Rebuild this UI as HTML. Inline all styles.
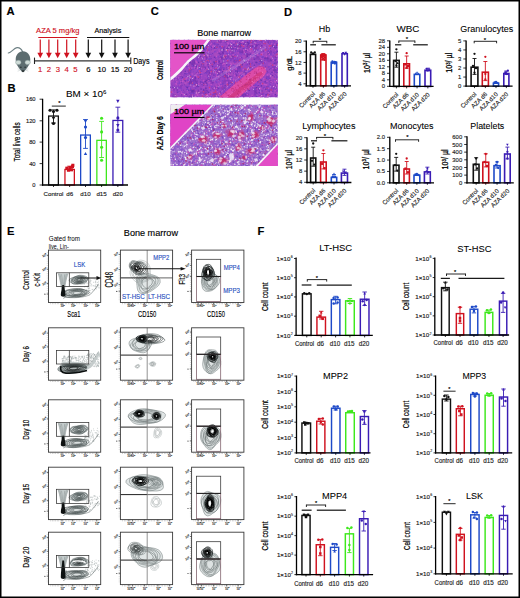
<!DOCTYPE html>
<html><head><meta charset="utf-8"><style>
html,body{margin:0;padding:0;background:#fff;}
svg{display:block;font-family:"Liberation Sans", sans-serif;}
</style></head><body>
<svg width="520" height="598" viewBox="0 0 520 598">
<rect width="520" height="598" fill="#fff"/>
<text x="6.5" y="15.2" font-size="11.2" stroke="#000" stroke-width="0.14" font-weight="bold" >A</text>
<text x="7.6" y="92" font-size="11.2" stroke="#000" stroke-width="0.14" font-weight="bold" >B</text>
<text x="150.8" y="15.2" font-size="11.2" stroke="#000" stroke-width="0.14" font-weight="bold" >C</text>
<text x="284" y="15.8" font-size="11.2" stroke="#000" stroke-width="0.14" font-weight="bold" >D</text>
<text x="6.9" y="235" font-size="11.2" stroke="#000" stroke-width="0.14" font-weight="bold" >E</text>
<text x="257.5" y="235.2" font-size="11.2" stroke="#000" stroke-width="0.14" font-weight="bold" >F</text>
<g>
<path d="M22.6,51.8 C21.5,49 19.5,47.4 17,47.6 C13.8,47.9 11.5,52.6 8.3,53" fill="none" stroke="#6e8084" stroke-width="1.15" stroke-linecap="round"/>
<path d="M23,51.3 C27.5,51.3 30.3,55 30.3,59.5 C30.3,64 27.5,67.5 25.5,70 C24.5,71.5 23.7,72.2 23,72.2 C22.3,72.2 21.5,71.5 20.5,70 C18.5,67.5 15.7,64 15.7,59.5 C15.7,55 18.5,51.3 23,51.3 Z" fill="#5d6d70"/>
<ellipse cx="18.3" cy="62.4" rx="2.7" ry="2.1" fill="#cfdcd8" stroke="#8fa09e" stroke-width="0.5"/>
<ellipse cx="27.7" cy="62.4" rx="2.7" ry="2.1" fill="#cfdcd8" stroke="#8fa09e" stroke-width="0.5"/>
<circle cx="20.9" cy="67.2" r="0.7" fill="#1e2628"/><circle cx="25.1" cy="67.2" r="0.7" fill="#1e2628"/>
<path d="M21.8,70.6 L24.2,70.6 L23,72.3 Z" fill="#111"/>
<path d="M20,69.5 L17.5,68.8 M20,70.3 L17.6,71.2 M26,69.5 L28.5,68.8 M26,70.3 L28.4,71.2" stroke="#aab5b5" stroke-width="0.4"/>
</g>
<text x="36.1" y="33.2" font-size="7.12" stroke="#d0121f" stroke-width="0.14" fill="#d0121f" textLength="43.4" lengthAdjust="spacingAndGlyphs" >AZA 5 mg/kg</text>
<line x1="38.3" y1="37.5" x2="77.3" y2="37.5" stroke="#d0121f" stroke-width="1.15" />
<line x1="87" y1="37.5" x2="129.3" y2="37.5" stroke="#111" stroke-width="1.15" />
<line x1="40.25" y1="39.6" x2="40.25" y2="53.7" stroke="#d0121f" stroke-width="1.2" />
<path d="M37.4,52.8 L43.1,52.8 L40.25,58.2 Z" fill="#d0121f"/>
<line x1="48.9" y1="39.6" x2="48.9" y2="53.7" stroke="#d0121f" stroke-width="1.2" />
<path d="M46.05,52.8 L51.75,52.8 L48.9,58.2 Z" fill="#d0121f"/>
<line x1="57.7" y1="39.6" x2="57.7" y2="53.7" stroke="#d0121f" stroke-width="1.2" />
<path d="M54.85,52.8 L60.55,52.8 L57.7,58.2 Z" fill="#d0121f"/>
<line x1="66.7" y1="39.6" x2="66.7" y2="53.7" stroke="#d0121f" stroke-width="1.2" />
<path d="M63.85,52.8 L69.55,52.8 L66.7,58.2 Z" fill="#d0121f"/>
<line x1="75.7" y1="39.6" x2="75.7" y2="53.7" stroke="#d0121f" stroke-width="1.2" />
<path d="M72.85,52.8 L78.55,52.8 L75.7,58.2 Z" fill="#d0121f"/>
<line x1="88.3" y1="39.6" x2="88.3" y2="53.7" stroke="#111" stroke-width="1.2" />
<path d="M85.45,52.8 L91.15,52.8 L88.3,58.2 Z" fill="#111"/>
<line x1="101.7" y1="39.6" x2="101.7" y2="53.7" stroke="#111" stroke-width="1.2" />
<path d="M98.85,52.8 L104.55,52.8 L101.7,58.2 Z" fill="#111"/>
<line x1="115" y1="39.6" x2="115" y2="53.7" stroke="#111" stroke-width="1.2" />
<path d="M112.15,52.8 L117.85,52.8 L115,58.2 Z" fill="#111"/>
<line x1="128.1" y1="39.6" x2="128.1" y2="53.7" stroke="#111" stroke-width="1.2" />
<path d="M125.25,52.8 L130.95,52.8 L128.1,58.2 Z" fill="#111"/>
<line x1="34.5" y1="60.8" x2="130.8" y2="60.8" stroke="#333" stroke-width="1.3" />
<line x1="34.5" y1="57.6" x2="34.5" y2="64" stroke="#222" stroke-width="1.1" />
<line x1="130.8" y1="57.6" x2="130.8" y2="64" stroke="#222" stroke-width="1.1" />
<text x="40.25" y="71.6" font-size="7.7" stroke="#d0121f" stroke-width="0.14" text-anchor="middle" fill="#d0121f" >1</text>
<text x="48.9" y="71.6" font-size="7.7" stroke="#d0121f" stroke-width="0.14" text-anchor="middle" fill="#d0121f" >2</text>
<text x="58" y="71.6" font-size="7.7" stroke="#d0121f" stroke-width="0.14" text-anchor="middle" fill="#d0121f" >3</text>
<text x="66.7" y="71.6" font-size="7.7" stroke="#d0121f" stroke-width="0.14" text-anchor="middle" fill="#d0121f" >4</text>
<text x="75.5" y="71.6" font-size="7.7" stroke="#d0121f" stroke-width="0.14" text-anchor="middle" fill="#d0121f" >5</text>
<text x="88.3" y="71.6" font-size="7.7" stroke="#000" stroke-width="0.14" text-anchor="middle" >6</text>
<text x="101.7" y="71.6" font-size="7.7" stroke="#000" stroke-width="0.14" text-anchor="middle" >10</text>
<text x="115" y="71.6" font-size="7.7" stroke="#000" stroke-width="0.14" text-anchor="middle" >15</text>
<text x="128.1" y="71.6" font-size="7.7" stroke="#000" stroke-width="0.14" text-anchor="middle" >20</text>
<text x="133.2" y="64.3" font-size="8.14" stroke="#000" stroke-width="0.14" textLength="16.3" lengthAdjust="spacingAndGlyphs" >Days</text>
<text x="94.5" y="33.2" font-size="7.12" stroke="#000" stroke-width="0.14" textLength="26.8" lengthAdjust="spacingAndGlyphs" >Analysis</text>
<rect x="48.65" y="116.05" width="9.7" height="68.95" fill="#fff" stroke="#111" stroke-width="1.3"/>
<line x1="53.5" y1="123" x2="53.5" y2="109.9" stroke="#111" stroke-width="0.9" />
<line x1="51.1" y1="109.9" x2="55.9" y2="109.9" stroke="#111" stroke-width="0.9" />
<line x1="51.1" y1="123" x2="55.9" y2="123" stroke="#111" stroke-width="0.9" />
<circle cx="50" cy="110.2" r="1.55" fill="#111"/>
<circle cx="57" cy="110.2" r="1.55" fill="#111"/>
<circle cx="53.5" cy="111.5" r="1.55" fill="#111"/>
<path d="M51.8,117.11 L55.2,117.11 L53.5,120.2 Z" fill="#111"/>
<circle cx="53.5" cy="123.5" r="1.55" fill="#111"/>
<rect x="64.95" y="169.45" width="9.4" height="15.55" fill="#fff" stroke="#d0121f" stroke-width="1.3"/>
<line x1="69.65" y1="170" x2="69.65" y2="166.2" stroke="#d0121f" stroke-width="0.9" />
<line x1="67.25" y1="166.2" x2="72.05" y2="166.2" stroke="#d0121f" stroke-width="0.9" />
<line x1="67.25" y1="170" x2="72.05" y2="170" stroke="#d0121f" stroke-width="0.9" />
<rect x="65.3" y="166.65" width="3.1" height="3.1" fill="#d0121f"/>
<rect x="68.3" y="166.05" width="3.1" height="3.1" fill="#d0121f"/>
<rect x="70.9" y="165.05" width="3.1" height="3.1" fill="#d0121f"/>
<rect x="71.3" y="163.75" width="3.1" height="3.1" fill="#d0121f"/>
<rect x="66.9" y="168.65" width="3.1" height="3.1" fill="#d0121f"/>
<rect x="69.9" y="168.25" width="3.1" height="3.1" fill="#d0121f"/>
<rect x="80.65" y="135.05" width="9.7" height="49.95" fill="#fff" stroke="#1e4ac8" stroke-width="1.3"/>
<line x1="85.5" y1="148.4" x2="85.5" y2="119.5" stroke="#1e4ac8" stroke-width="0.9" />
<line x1="83.1" y1="119.5" x2="87.9" y2="119.5" stroke="#1e4ac8" stroke-width="0.9" />
<line x1="83.1" y1="148.4" x2="87.9" y2="148.4" stroke="#1e4ac8" stroke-width="0.9" />
<path d="M83.8,120.01 L87.2,120.01 L85.5,123.11 Z" fill="#1e4ac8"/>
<circle cx="85.5" cy="127" r="1.55" fill="#1e4ac8"/>
<circle cx="85.5" cy="137.6" r="1.55" fill="#1e4ac8"/>
<path d="M83.8,155.09 L87.2,155.09 L85.5,151.99 Z" fill="#1e4ac8"/>
<rect x="96.85" y="140.35" width="9.5" height="44.65" fill="#fff" stroke="#3ee81c" stroke-width="1.3"/>
<line x1="101.6" y1="157.5" x2="101.6" y2="121.4" stroke="#3ee81c" stroke-width="0.9" />
<line x1="99.2" y1="121.4" x2="104" y2="121.4" stroke="#3ee81c" stroke-width="0.9" />
<line x1="99.2" y1="157.5" x2="104" y2="157.5" stroke="#3ee81c" stroke-width="0.9" />
<circle cx="101.6" cy="118.2" r="1.55" fill="#3ee81c"/>
<circle cx="101.6" cy="131.9" r="1.55" fill="#3ee81c"/>
<circle cx="101.6" cy="147.3" r="1.55" fill="#3ee81c"/>
<circle cx="101.6" cy="160.2" r="1.55" fill="#3ee81c"/>
<rect x="112.95" y="120.45" width="9.8" height="64.55" fill="#fff" stroke="#3a1cb4" stroke-width="1.3"/>
<line x1="117.85" y1="132.2" x2="117.85" y2="107.2" stroke="#3a1cb4" stroke-width="0.9" />
<line x1="115.45" y1="107.2" x2="120.25" y2="107.2" stroke="#3a1cb4" stroke-width="0.9" />
<line x1="115.45" y1="132.2" x2="120.25" y2="132.2" stroke="#3a1cb4" stroke-width="0.9" />
<path d="M116.14,99.81 L119.55,99.81 L117.85,102.91 Z" fill="#3a1cb4"/>
<circle cx="117.85" cy="117.9" r="1.55" fill="#3a1cb4"/>
<path d="M116.14,124.11 L119.55,124.11 L117.85,127.2 Z" fill="#3a1cb4"/>
<circle cx="117.85" cy="130" r="1.55" fill="#3a1cb4"/>
<line x1="42.6" y1="98.8" x2="42.6" y2="185.65" stroke="#000" stroke-width="1.3" />
<line x1="41.95" y1="185" x2="128" y2="185" stroke="#000" stroke-width="1.3" />
<line x1="39.6" y1="99.2" x2="42.6" y2="99.2" stroke="#000" stroke-width="0.8" />
<text x="35.6" y="101.23" font-size="5.8" stroke="#222" stroke-width="0.14" text-anchor="end" fill="#222" >160</text>
<line x1="39.6" y1="120.8" x2="42.6" y2="120.8" stroke="#000" stroke-width="0.8" />
<text x="35.6" y="122.83" font-size="5.8" stroke="#222" stroke-width="0.14" text-anchor="end" fill="#222" >120</text>
<line x1="39.6" y1="142.1" x2="42.6" y2="142.1" stroke="#000" stroke-width="0.8" />
<text x="35.6" y="144.13" font-size="5.8" stroke="#222" stroke-width="0.14" text-anchor="end" fill="#222" >80</text>
<line x1="39.6" y1="163.6" x2="42.6" y2="163.6" stroke="#000" stroke-width="0.8" />
<text x="35.6" y="165.63" font-size="5.8" stroke="#222" stroke-width="0.14" text-anchor="end" fill="#222" >40</text>
<line x1="39.6" y1="185" x2="42.6" y2="185" stroke="#000" stroke-width="0.8" />
<text x="35.6" y="187.03" font-size="5.8" stroke="#222" stroke-width="0.14" text-anchor="end" fill="#222" >0</text>
<line x1="53.5" y1="185" x2="53.5" y2="187" stroke="#000" stroke-width="0.8" />
<line x1="69.65" y1="185" x2="69.65" y2="187" stroke="#000" stroke-width="0.8" />
<line x1="85.5" y1="185" x2="85.5" y2="187" stroke="#000" stroke-width="0.8" />
<line x1="101.6" y1="185" x2="101.6" y2="187" stroke="#000" stroke-width="0.8" />
<line x1="117.85" y1="185" x2="117.85" y2="187" stroke="#000" stroke-width="0.8" />
<text x="66" y="97.3" font-size="9" stroke="#000" stroke-width="0.07" textLength="40.3" lengthAdjust="spacingAndGlyphs" >BM × 10<tspan dy="-3.2" font-size="5.5">6</tspan></text>
<text transform="translate(19.9,141.9) rotate(-90)" font-size="9.3" stroke="#000" stroke-width="0.2" text-anchor="middle" textLength="39" lengthAdjust="spacingAndGlyphs" >Total live cells</text>
<text x="53.5" y="195.6" font-size="6.2" stroke="#222" stroke-width="0.14" text-anchor="middle" fill="#222" >Control</text>
<text x="69.65" y="195.6" font-size="6.2" stroke="#222" stroke-width="0.14" text-anchor="middle" fill="#222" >d6</text>
<text x="85.5" y="195.6" font-size="6.2" stroke="#222" stroke-width="0.14" text-anchor="middle" fill="#222" >d10</text>
<text x="101.6" y="195.6" font-size="6.2" stroke="#222" stroke-width="0.14" text-anchor="middle" fill="#222" >d15</text>
<text x="117.85" y="195.6" font-size="6.2" stroke="#222" stroke-width="0.14" text-anchor="middle" fill="#222" >d20</text>
<line x1="51.8" y1="106.1" x2="65.8" y2="106.1" stroke="#111" stroke-width="0.9" />
<text x="59.3" y="105.42" font-size="6" text-anchor="middle" fill="#111" stroke="#111" stroke-width="0.2">*</text>
<rect x="310.4" y="54.4" width="5.2" height="31.4" fill="#fff" stroke="#111" stroke-width="1.6"/>
<circle cx="311.2" cy="52.5" r="1.15" fill="#111"/>
<circle cx="313" cy="53.4" r="1.15" fill="#111"/>
<circle cx="314.8" cy="52.5" r="1.15" fill="#111"/>
<rect x="320.7" y="55" width="5.3" height="30.8" fill="#fff" stroke="#d0121f" stroke-width="1.6"/>
<line x1="323.35" y1="56" x2="323.35" y2="53.5" stroke="#d0121f" stroke-width="0.9" />
<line x1="321.35" y1="53.5" x2="325.35" y2="53.5" stroke="#d0121f" stroke-width="0.9" />
<line x1="321.35" y1="56" x2="325.35" y2="56" stroke="#d0121f" stroke-width="0.9" />
<rect x="320.7" y="53.65" width="2.3" height="2.3" fill="#d0121f"/>
<rect x="323.7" y="54.05" width="2.3" height="2.3" fill="#d0121f"/>
<rect x="322.2" y="54.85" width="2.3" height="2.3" fill="#d0121f"/>
<rect x="320.7" y="55.65" width="2.3" height="2.3" fill="#d0121f"/>
<rect x="323.7" y="56.35" width="2.3" height="2.3" fill="#d0121f"/>
<rect x="322.2" y="57.35" width="2.3" height="2.3" fill="#d0121f"/>
<rect x="321.2" y="58.35" width="2.3" height="2.3" fill="#d0121f"/>
<rect x="323.4" y="58.65" width="2.3" height="2.3" fill="#d0121f"/>
<rect x="331.2" y="62.3" width="5.4" height="23.5" fill="#fff" stroke="#1e4ac8" stroke-width="1.6"/>
<circle cx="332.4" cy="61.4" r="1.15" fill="#1e4ac8"/>
<circle cx="334.4" cy="61.8" r="1.15" fill="#1e4ac8"/>
<circle cx="335.7" cy="62.2" r="1.15" fill="#1e4ac8"/>
<circle cx="332.9" cy="63" r="1.15" fill="#1e4ac8"/>
<circle cx="334.9" cy="63.5" r="1.15" fill="#1e4ac8"/>
<rect x="342" y="53.7" width="5.3" height="32.1" fill="#fff" stroke="#3a1cb4" stroke-width="1.6"/>
<path d="M341.88,51.97 L344.41,51.97 L343.15,54.27 Z" fill="#3a1cb4"/>
<path d="M344.58,51.77 L347.11,51.77 L345.85,54.06 Z" fill="#3a1cb4"/>
<path d="M343.38,53.47 L345.91,53.47 L344.65,55.77 Z" fill="#3a1cb4"/>
<line x1="306.3" y1="40.6" x2="306.3" y2="86.47" stroke="#000" stroke-width="1.35" />
<line x1="305.62" y1="85.8" x2="351" y2="85.8" stroke="#000" stroke-width="1.35" />
<line x1="303.5" y1="41.1" x2="306.3" y2="41.1" stroke="#000" stroke-width="0.8" />
<text x="301.5" y="43.16" font-size="5.9" stroke="#222" stroke-width="0.14" text-anchor="end" fill="#222" >20</text>
<line x1="303.5" y1="51.77" x2="306.3" y2="51.77" stroke="#000" stroke-width="0.8" />
<text x="301.5" y="53.84" font-size="5.9" stroke="#222" stroke-width="0.14" text-anchor="end" fill="#222" >16</text>
<line x1="303.5" y1="62.45" x2="306.3" y2="62.45" stroke="#000" stroke-width="0.8" />
<text x="301.5" y="64.52" font-size="5.9" stroke="#222" stroke-width="0.14" text-anchor="end" fill="#222" >12</text>
<line x1="303.5" y1="73.12" x2="306.3" y2="73.12" stroke="#000" stroke-width="0.8" />
<text x="301.5" y="75.19" font-size="5.9" stroke="#222" stroke-width="0.14" text-anchor="end" fill="#222" >8</text>
<line x1="303.5" y1="83.8" x2="306.3" y2="83.8" stroke="#000" stroke-width="0.8" />
<text x="301.5" y="85.86" font-size="5.9" stroke="#222" stroke-width="0.14" text-anchor="end" fill="#222" >4</text>
<line x1="313" y1="85.8" x2="313" y2="87.8" stroke="#000" stroke-width="0.8" />
<line x1="323.35" y1="85.8" x2="323.35" y2="87.8" stroke="#000" stroke-width="0.8" />
<line x1="333.9" y1="85.8" x2="333.9" y2="87.8" stroke="#000" stroke-width="0.8" />
<line x1="344.65" y1="85.8" x2="344.65" y2="87.8" stroke="#000" stroke-width="0.8" />
<text x="318.8" y="32.3" font-size="8.9" stroke="#000" stroke-width="0.07" textLength="11.5" lengthAdjust="spacingAndGlyphs" >Hb</text>
<text transform="translate(291.8,63.3) rotate(-90)" font-size="7.8" stroke="#000" stroke-width="0.25" text-anchor="middle" textLength="14.8" lengthAdjust="spacingAndGlyphs" >g/dL</text>
<text transform="translate(315.4,94.4) rotate(-45)" font-size="6.1" text-anchor="end" fill="#222" stroke="#222" stroke-width="0.12">Control</text>
<text transform="translate(325.75,94.4) rotate(-45)" font-size="6.1" text-anchor="end" fill="#222" stroke="#222" stroke-width="0.12">AZA d6</text>
<text transform="translate(336.3,94.4) rotate(-45)" font-size="6.1" text-anchor="end" fill="#222" stroke="#222" stroke-width="0.12">AZA d10</text>
<text transform="translate(347.05,94.4) rotate(-45)" font-size="6.1" text-anchor="end" fill="#222" stroke="#222" stroke-width="0.12">AZA d20</text>
<line x1="313.2" y1="41.3" x2="326.8" y2="41.3" stroke="#111" stroke-width="0.9" />
<line x1="313.2" y1="40.9" x2="313.2" y2="43.3" stroke="#111" stroke-width="0.9" />
<line x1="326.8" y1="40.9" x2="326.8" y2="43.3" stroke="#111" stroke-width="0.9" />
<text x="319.8" y="41.62" font-size="6" text-anchor="middle" fill="#111" stroke="#111" stroke-width="0.2">*</text>
<line x1="310.2" y1="44.8" x2="316" y2="44.8" stroke="#1a1a1a" stroke-width="1.25" />
<line x1="321.4" y1="44.8" x2="335.8" y2="44.8" stroke="#1a1a1a" stroke-width="1.25" />
<rect x="393.6" y="60.4" width="5.6" height="26" fill="#fff" stroke="#111" stroke-width="1.6"/>
<line x1="396.4" y1="67.2" x2="396.4" y2="52.2" stroke="#111" stroke-width="0.9" />
<line x1="394.4" y1="52.2" x2="398.4" y2="52.2" stroke="#111" stroke-width="0.9" />
<line x1="394.4" y1="67.2" x2="398.4" y2="67.2" stroke="#111" stroke-width="0.9" />
<circle cx="396.4" cy="49.3" r="1.15" fill="#111"/>
<circle cx="395.4" cy="61" r="1.15" fill="#111"/>
<path d="M396.33,64.03 L398.86,64.03 L397.6,61.73 Z" fill="#111"/>
<circle cx="396.4" cy="65.5" r="1.15" fill="#111"/>
<rect x="403.8" y="63.8" width="5.7" height="22.6" fill="#fff" stroke="#d0121f" stroke-width="1.6"/>
<line x1="406.65" y1="68.2" x2="406.65" y2="56" stroke="#d0121f" stroke-width="0.9" />
<line x1="404.65" y1="56" x2="408.65" y2="56" stroke="#d0121f" stroke-width="0.9" />
<line x1="404.65" y1="68.2" x2="408.65" y2="68.2" stroke="#d0121f" stroke-width="0.9" />
<circle cx="406.65" cy="53.2" r="1.15" fill="#d0121f"/>
<rect x="404.2" y="63.25" width="2.3" height="2.3" fill="#d0121f"/>
<rect x="406.8" y="64.85" width="2.3" height="2.3" fill="#d0121f"/>
<rect x="405.5" y="66.55" width="2.3" height="2.3" fill="#d0121f"/>
<rect x="414.3" y="74.4" width="5.5" height="12" fill="#fff" stroke="#1e4ac8" stroke-width="1.6"/>
<path d="M415.79,73.44 L418.31,73.44 L417.05,71.14 Z" fill="#1e4ac8"/>
<path d="M414.49,74.63 L417.01,74.63 L415.75,72.33 Z" fill="#1e4ac8"/>
<path d="M417.09,74.83 L419.62,74.83 L418.35,72.53 Z" fill="#1e4ac8"/>
<rect x="425" y="70.2" width="5.7" height="16.2" fill="#fff" stroke="#3a1cb4" stroke-width="1.6"/>
<line x1="427.85" y1="71" x2="427.85" y2="68.2" stroke="#3a1cb4" stroke-width="0.9" />
<line x1="425.85" y1="68.2" x2="429.85" y2="68.2" stroke="#3a1cb4" stroke-width="0.9" />
<line x1="425.85" y1="71" x2="429.85" y2="71" stroke="#3a1cb4" stroke-width="0.9" />
<path d="M425.29,67.97 L427.81,67.97 L426.55,70.27 Z" fill="#3a1cb4"/>
<path d="M427.89,68.47 L430.42,68.47 L429.15,70.77 Z" fill="#3a1cb4"/>
<path d="M426.59,69.77 L429.12,69.77 L427.85,72.06 Z" fill="#3a1cb4"/>
<line x1="389.8" y1="40.4" x2="389.8" y2="87.08" stroke="#000" stroke-width="1.35" />
<line x1="389.12" y1="86.4" x2="433.6" y2="86.4" stroke="#000" stroke-width="1.35" />
<line x1="387" y1="40.8" x2="389.8" y2="40.8" stroke="#000" stroke-width="0.8" />
<text x="385" y="42.86" font-size="5.9" stroke="#222" stroke-width="0.14" text-anchor="end" fill="#222" >28</text>
<line x1="387" y1="47.3" x2="389.8" y2="47.3" stroke="#000" stroke-width="0.8" />
<text x="385" y="49.36" font-size="5.9" stroke="#222" stroke-width="0.14" text-anchor="end" fill="#222" >24</text>
<line x1="387" y1="53.8" x2="389.8" y2="53.8" stroke="#000" stroke-width="0.8" />
<text x="385" y="55.86" font-size="5.9" stroke="#222" stroke-width="0.14" text-anchor="end" fill="#222" >20</text>
<line x1="387" y1="60.3" x2="389.8" y2="60.3" stroke="#000" stroke-width="0.8" />
<text x="385" y="62.36" font-size="5.9" stroke="#222" stroke-width="0.14" text-anchor="end" fill="#222" >16</text>
<line x1="387" y1="66.8" x2="389.8" y2="66.8" stroke="#000" stroke-width="0.8" />
<text x="385" y="68.86" font-size="5.9" stroke="#222" stroke-width="0.14" text-anchor="end" fill="#222" >12</text>
<line x1="387" y1="73.3" x2="389.8" y2="73.3" stroke="#000" stroke-width="0.8" />
<text x="385" y="75.36" font-size="5.9" stroke="#222" stroke-width="0.14" text-anchor="end" fill="#222" >8</text>
<line x1="387" y1="79.8" x2="389.8" y2="79.8" stroke="#000" stroke-width="0.8" />
<text x="385" y="81.86" font-size="5.9" stroke="#222" stroke-width="0.14" text-anchor="end" fill="#222" >4</text>
<line x1="387" y1="86.3" x2="389.8" y2="86.3" stroke="#000" stroke-width="0.8" />
<text x="385" y="88.36" font-size="5.9" stroke="#222" stroke-width="0.14" text-anchor="end" fill="#222" >0</text>
<line x1="396.4" y1="86.4" x2="396.4" y2="88.4" stroke="#000" stroke-width="0.8" />
<line x1="406.65" y1="86.4" x2="406.65" y2="88.4" stroke="#000" stroke-width="0.8" />
<line x1="417.05" y1="86.4" x2="417.05" y2="88.4" stroke="#000" stroke-width="0.8" />
<line x1="427.85" y1="86.4" x2="427.85" y2="88.4" stroke="#000" stroke-width="0.8" />
<text x="396.5" y="31.7" font-size="8.9" stroke="#000" stroke-width="0.07" textLength="22.9" lengthAdjust="spacingAndGlyphs" >WBC</text>
<text transform="translate(369.7,62.9) rotate(-90)" font-size="8.2" stroke="#000" stroke-width="0.25" text-anchor="middle" textLength="20" lengthAdjust="spacingAndGlyphs" >10<tspan dy="-2.5" font-size="4.8">3</tspan><tspan dy="2.5">/ µl</tspan></text>
<text transform="translate(398.8,95) rotate(-45)" font-size="6.1" text-anchor="end" fill="#222" stroke="#222" stroke-width="0.12">Control</text>
<text transform="translate(409.05,95) rotate(-45)" font-size="6.1" text-anchor="end" fill="#222" stroke="#222" stroke-width="0.12">AZA d6</text>
<text transform="translate(419.45,95) rotate(-45)" font-size="6.1" text-anchor="end" fill="#222" stroke="#222" stroke-width="0.12">AZA d10</text>
<text transform="translate(430.25,95) rotate(-45)" font-size="6.1" text-anchor="end" fill="#222" stroke="#222" stroke-width="0.12">AZA d20</text>
<line x1="398.8" y1="41" x2="414.9" y2="41" stroke="#111" stroke-width="0.9" />
<line x1="398.8" y1="40.6" x2="398.8" y2="43" stroke="#111" stroke-width="0.9" />
<line x1="414.9" y1="40.6" x2="414.9" y2="43" stroke="#111" stroke-width="0.9" />
<text x="406.9" y="41.32" font-size="6" text-anchor="middle" fill="#111" stroke="#111" stroke-width="0.2">*</text>
<line x1="395" y1="44.8" x2="401.3" y2="44.8" stroke="#1a1a1a" stroke-width="1.25" />
<line x1="413.2" y1="44.8" x2="427.8" y2="44.8" stroke="#1a1a1a" stroke-width="1.25" />
<rect x="471.1" y="67.2" width="6.8" height="18.9" fill="#fff" stroke="#111" stroke-width="1.6"/>
<line x1="474.5" y1="74.4" x2="474.5" y2="58.5" stroke="#111" stroke-width="0.9" />
<line x1="472.5" y1="58.5" x2="476.5" y2="58.5" stroke="#111" stroke-width="0.9" />
<line x1="472.5" y1="74.4" x2="476.5" y2="74.4" stroke="#111" stroke-width="0.9" />
<circle cx="474.5" cy="53.8" r="1.15" fill="#111"/>
<circle cx="473" cy="66" r="1.15" fill="#111"/>
<circle cx="476" cy="68.2" r="1.15" fill="#111"/>
<circle cx="474.5" cy="72.7" r="1.15" fill="#111"/>
<rect x="482.3" y="72.2" width="6.1" height="13.9" fill="#fff" stroke="#d0121f" stroke-width="1.6"/>
<line x1="485.35" y1="80.6" x2="485.35" y2="61.5" stroke="#d0121f" stroke-width="0.9" />
<line x1="483.35" y1="61.5" x2="487.35" y2="61.5" stroke="#d0121f" stroke-width="0.9" />
<line x1="483.35" y1="80.6" x2="487.35" y2="80.6" stroke="#d0121f" stroke-width="0.9" />
<circle cx="485.35" cy="56.8" r="1.15" fill="#d0121f"/>
<circle cx="485.35" cy="73.9" r="1.15" fill="#d0121f"/>
<circle cx="485.35" cy="79.4" r="1.15" fill="#d0121f"/>
<rect x="493.4" y="83.2" width="5.2" height="2.9" fill="#fff" stroke="#1e4ac8" stroke-width="1.6"/>
<circle cx="494.5" cy="82.4" r="1.15" fill="#1e4ac8"/>
<circle cx="496" cy="82" r="1.15" fill="#1e4ac8"/>
<circle cx="497.5" cy="82.8" r="1.15" fill="#1e4ac8"/>
<rect x="503.8" y="73.5" width="5.1" height="12.6" fill="#fff" stroke="#3a1cb4" stroke-width="1.6"/>
<line x1="506.35" y1="74.5" x2="506.35" y2="71" stroke="#3a1cb4" stroke-width="0.9" />
<line x1="504.35" y1="71" x2="508.35" y2="71" stroke="#3a1cb4" stroke-width="0.9" />
<line x1="504.35" y1="74.5" x2="508.35" y2="74.5" stroke="#3a1cb4" stroke-width="0.9" />
<circle cx="507.85" cy="70.7" r="1.15" fill="#3a1cb4"/>
<circle cx="505.35" cy="72.5" r="1.15" fill="#3a1cb4"/>
<circle cx="506.85" cy="74" r="1.15" fill="#3a1cb4"/>
<line x1="466.1" y1="40.4" x2="466.1" y2="86.77" stroke="#000" stroke-width="1.35" />
<line x1="465.43" y1="86.1" x2="512.6" y2="86.1" stroke="#000" stroke-width="1.35" />
<line x1="463.3" y1="40.9" x2="466.1" y2="40.9" stroke="#000" stroke-width="0.8" />
<text x="461.3" y="42.96" font-size="5.9" stroke="#222" stroke-width="0.14" text-anchor="end" fill="#222" >5</text>
<line x1="463.3" y1="49.94" x2="466.1" y2="49.94" stroke="#000" stroke-width="0.8" />
<text x="461.3" y="52" font-size="5.9" stroke="#222" stroke-width="0.14" text-anchor="end" fill="#222" >4</text>
<line x1="463.3" y1="58.98" x2="466.1" y2="58.98" stroke="#000" stroke-width="0.8" />
<text x="461.3" y="61.04" font-size="5.9" stroke="#222" stroke-width="0.14" text-anchor="end" fill="#222" >3</text>
<line x1="463.3" y1="68.02" x2="466.1" y2="68.02" stroke="#000" stroke-width="0.8" />
<text x="461.3" y="70.08" font-size="5.9" stroke="#222" stroke-width="0.14" text-anchor="end" fill="#222" >2</text>
<line x1="463.3" y1="77.06" x2="466.1" y2="77.06" stroke="#000" stroke-width="0.8" />
<text x="461.3" y="79.12" font-size="5.9" stroke="#222" stroke-width="0.14" text-anchor="end" fill="#222" >1</text>
<line x1="463.3" y1="86.1" x2="466.1" y2="86.1" stroke="#000" stroke-width="0.8" />
<text x="461.3" y="88.16" font-size="5.9" stroke="#222" stroke-width="0.14" text-anchor="end" fill="#222" >0</text>
<line x1="474.5" y1="86.1" x2="474.5" y2="88.1" stroke="#000" stroke-width="0.8" />
<line x1="485.35" y1="86.1" x2="485.35" y2="88.1" stroke="#000" stroke-width="0.8" />
<line x1="496" y1="86.1" x2="496" y2="88.1" stroke="#000" stroke-width="0.8" />
<line x1="506.35" y1="86.1" x2="506.35" y2="88.1" stroke="#000" stroke-width="0.8" />
<text x="460.3" y="32" font-size="8.9" stroke="#000" stroke-width="0.07" textLength="53" lengthAdjust="spacingAndGlyphs" >Granulocytes</text>
<text transform="translate(452.3,62.7) rotate(-90)" font-size="8.2" stroke="#000" stroke-width="0.25" text-anchor="middle" textLength="20" lengthAdjust="spacingAndGlyphs" >10<tspan dy="-2.5" font-size="4.8">3</tspan><tspan dy="2.5">/ µl</tspan></text>
<text transform="translate(476.9,94.7) rotate(-45)" font-size="6.1" text-anchor="end" fill="#222" stroke="#222" stroke-width="0.12">Control</text>
<text transform="translate(487.75,94.7) rotate(-45)" font-size="6.1" text-anchor="end" fill="#222" stroke="#222" stroke-width="0.12">AZA d6</text>
<text transform="translate(498.4,94.7) rotate(-45)" font-size="6.1" text-anchor="end" fill="#222" stroke="#222" stroke-width="0.12">AZA d10</text>
<text transform="translate(508.75,94.7) rotate(-45)" font-size="6.1" text-anchor="end" fill="#222" stroke="#222" stroke-width="0.12">AZA d20</text>
<line x1="474.2" y1="41.3" x2="496.6" y2="41.3" stroke="#111" stroke-width="0.9" />
<line x1="474.2" y1="40.9" x2="474.2" y2="43.3" stroke="#111" stroke-width="0.9" />
<line x1="496.6" y1="40.9" x2="496.6" y2="43.3" stroke="#111" stroke-width="0.9" />
<text x="485" y="41.62" font-size="6" text-anchor="middle" fill="#111" stroke="#111" stroke-width="0.2">*</text>
<rect x="310.6" y="158" width="5.2" height="24.5" fill="#fff" stroke="#111" stroke-width="1.6"/>
<line x1="313.2" y1="166.2" x2="313.2" y2="147.2" stroke="#111" stroke-width="0.9" />
<line x1="311.2" y1="147.2" x2="315.2" y2="147.2" stroke="#111" stroke-width="0.9" />
<line x1="311.2" y1="166.2" x2="315.2" y2="166.2" stroke="#111" stroke-width="0.9" />
<circle cx="313.2" cy="143.5" r="1.15" fill="#111"/>
<circle cx="312" cy="160.8" r="1.15" fill="#111"/>
<circle cx="314.4" cy="164.6" r="1.15" fill="#111"/>
<rect x="320.6" y="162" width="5.6" height="20.5" fill="#fff" stroke="#d0121f" stroke-width="1.6"/>
<line x1="323.4" y1="168.9" x2="323.4" y2="153.5" stroke="#d0121f" stroke-width="0.9" />
<line x1="321.4" y1="153.5" x2="325.4" y2="153.5" stroke="#d0121f" stroke-width="0.9" />
<line x1="321.4" y1="168.9" x2="325.4" y2="168.9" stroke="#d0121f" stroke-width="0.9" />
<circle cx="323.4" cy="150.3" r="1.15" fill="#d0121f"/>
<rect x="321.05" y="162.65" width="2.3" height="2.3" fill="#d0121f"/>
<rect x="323.45" y="167.05" width="2.3" height="2.3" fill="#d0121f"/>
<rect x="331.3" y="177.4" width="5.4" height="5.1" fill="#fff" stroke="#1e4ac8" stroke-width="1.6"/>
<line x1="334" y1="176.6" x2="334" y2="174.6" stroke="#1e4ac8" stroke-width="0.9" />
<line x1="332" y1="174.6" x2="336" y2="174.6" stroke="#1e4ac8" stroke-width="0.9" />
<line x1="332" y1="176.6" x2="336" y2="176.6" stroke="#1e4ac8" stroke-width="0.9" />
<path d="M332.74,174.84 L335.26,174.84 L334,172.54 Z" fill="#1e4ac8"/>
<path d="M331.24,177.23 L333.76,177.23 L332.5,174.94 Z" fill="#1e4ac8"/>
<path d="M334.24,177.63 L336.76,177.63 L335.5,175.34 Z" fill="#1e4ac8"/>
<rect x="341.4" y="173.1" width="6.1" height="9.4" fill="#fff" stroke="#3a1cb4" stroke-width="1.6"/>
<line x1="344.45" y1="175.4" x2="344.45" y2="169.2" stroke="#3a1cb4" stroke-width="0.9" />
<line x1="342.45" y1="169.2" x2="346.45" y2="169.2" stroke="#3a1cb4" stroke-width="0.9" />
<line x1="342.45" y1="175.4" x2="346.45" y2="175.4" stroke="#3a1cb4" stroke-width="0.9" />
<path d="M341.89,170.47 L344.42,170.47 L343.15,172.76 Z" fill="#3a1cb4"/>
<path d="M344.49,171.47 L347.02,171.47 L345.75,173.76 Z" fill="#3a1cb4"/>
<line x1="307" y1="137.2" x2="307" y2="183.18" stroke="#000" stroke-width="1.35" />
<line x1="306.32" y1="182.5" x2="351.4" y2="182.5" stroke="#000" stroke-width="1.35" />
<line x1="304.2" y1="137.7" x2="307" y2="137.7" stroke="#000" stroke-width="0.8" />
<text x="302.2" y="139.76" font-size="5.9" stroke="#222" stroke-width="0.14" text-anchor="end" fill="#222" >20</text>
<line x1="304.2" y1="148.85" x2="307" y2="148.85" stroke="#000" stroke-width="0.8" />
<text x="302.2" y="150.91" font-size="5.9" stroke="#222" stroke-width="0.14" text-anchor="end" fill="#222" >16</text>
<line x1="304.2" y1="160" x2="307" y2="160" stroke="#000" stroke-width="0.8" />
<text x="302.2" y="162.06" font-size="5.9" stroke="#222" stroke-width="0.14" text-anchor="end" fill="#222" >12</text>
<line x1="304.2" y1="171.15" x2="307" y2="171.15" stroke="#000" stroke-width="0.8" />
<text x="302.2" y="173.22" font-size="5.9" stroke="#222" stroke-width="0.14" text-anchor="end" fill="#222" >8</text>
<line x1="304.2" y1="182.3" x2="307" y2="182.3" stroke="#000" stroke-width="0.8" />
<text x="302.2" y="184.37" font-size="5.9" stroke="#222" stroke-width="0.14" text-anchor="end" fill="#222" >4</text>
<line x1="313.2" y1="182.5" x2="313.2" y2="184.5" stroke="#000" stroke-width="0.8" />
<line x1="323.4" y1="182.5" x2="323.4" y2="184.5" stroke="#000" stroke-width="0.8" />
<line x1="334" y1="182.5" x2="334" y2="184.5" stroke="#000" stroke-width="0.8" />
<line x1="344.45" y1="182.5" x2="344.45" y2="184.5" stroke="#000" stroke-width="0.8" />
<text x="302.2" y="129.2" font-size="8.9" stroke="#000" stroke-width="0.07" textLength="53.3" lengthAdjust="spacingAndGlyphs" >Lymphocytes</text>
<text transform="translate(292.4,159.6) rotate(-90)" font-size="8.2" stroke="#000" stroke-width="0.25" text-anchor="middle" textLength="19.3" lengthAdjust="spacingAndGlyphs" >10<tspan dy="-2.5" font-size="4.8">3</tspan><tspan dy="2.5">/ µl</tspan></text>
<text transform="translate(315.6,191.1) rotate(-45)" font-size="6.1" text-anchor="end" fill="#222" stroke="#222" stroke-width="0.12">Control</text>
<text transform="translate(325.8,191.1) rotate(-45)" font-size="6.1" text-anchor="end" fill="#222" stroke="#222" stroke-width="0.12">AZA d6</text>
<text transform="translate(336.4,191.1) rotate(-45)" font-size="6.1" text-anchor="end" fill="#222" stroke="#222" stroke-width="0.12">AZA d10</text>
<text transform="translate(346.85,191.1) rotate(-45)" font-size="6.1" text-anchor="end" fill="#222" stroke="#222" stroke-width="0.12">AZA d20</text>
<line x1="316.6" y1="137.4" x2="332.9" y2="137.4" stroke="#111" stroke-width="0.9" />
<line x1="316.6" y1="137" x2="316.6" y2="139.4" stroke="#111" stroke-width="0.9" />
<line x1="332.9" y1="137" x2="332.9" y2="139.4" stroke="#111" stroke-width="0.9" />
<text x="324.8" y="137.62" font-size="6" text-anchor="middle" fill="#111" stroke="#111" stroke-width="0.2">*</text>
<line x1="311" y1="140.8" x2="317" y2="140.8" stroke="#1a1a1a" stroke-width="1.25" />
<line x1="331.4" y1="140.8" x2="347.4" y2="140.8" stroke="#1a1a1a" stroke-width="1.25" />
<rect x="393.4" y="165.2" width="5.6" height="17.6" fill="#fff" stroke="#111" stroke-width="1.6"/>
<line x1="396.2" y1="171.1" x2="396.2" y2="157.4" stroke="#111" stroke-width="0.9" />
<line x1="394.2" y1="157.4" x2="398.2" y2="157.4" stroke="#111" stroke-width="0.9" />
<line x1="394.2" y1="171.1" x2="398.2" y2="171.1" stroke="#111" stroke-width="0.9" />
<circle cx="396.2" cy="153.8" r="1.15" fill="#111"/>
<circle cx="395" cy="165.2" r="1.15" fill="#111"/>
<circle cx="397.4" cy="170.6" r="1.15" fill="#111"/>
<rect x="404" y="169" width="5.4" height="13.8" fill="#fff" stroke="#d0121f" stroke-width="1.6"/>
<line x1="406.7" y1="174" x2="406.7" y2="161.5" stroke="#d0121f" stroke-width="0.9" />
<line x1="404.7" y1="161.5" x2="408.7" y2="161.5" stroke="#d0121f" stroke-width="0.9" />
<line x1="404.7" y1="174" x2="408.7" y2="174" stroke="#d0121f" stroke-width="0.9" />
<circle cx="406.7" cy="158.5" r="1.15" fill="#d0121f"/>
<rect x="404.35" y="167.45" width="2.3" height="2.3" fill="#d0121f"/>
<rect x="406.75" y="171.15" width="2.3" height="2.3" fill="#d0121f"/>
<rect x="414" y="175.2" width="5.8" height="7.6" fill="#fff" stroke="#1e4ac8" stroke-width="1.6"/>
<circle cx="415.4" cy="174.4" r="1.15" fill="#1e4ac8"/>
<circle cx="416.9" cy="174" r="1.15" fill="#1e4ac8"/>
<circle cx="418.4" cy="175" r="1.15" fill="#1e4ac8"/>
<rect x="424.4" y="171.9" width="5.9" height="10.9" fill="#fff" stroke="#3a1cb4" stroke-width="1.6"/>
<line x1="427.35" y1="174" x2="427.35" y2="167.2" stroke="#3a1cb4" stroke-width="0.9" />
<line x1="425.35" y1="167.2" x2="429.35" y2="167.2" stroke="#3a1cb4" stroke-width="0.9" />
<line x1="425.35" y1="174" x2="429.35" y2="174" stroke="#3a1cb4" stroke-width="0.9" />
<path d="M426.09,169.23 L428.62,169.23 L427.35,166.94 Z" fill="#3a1cb4"/>
<path d="M425.09,172.03 L427.62,172.03 L426.35,169.74 Z" fill="#3a1cb4"/>
<path d="M427.09,173.03 L429.62,173.03 L428.35,170.74 Z" fill="#3a1cb4"/>
<line x1="389.8" y1="136.8" x2="389.8" y2="183.48" stroke="#000" stroke-width="1.35" />
<line x1="389.12" y1="182.8" x2="434" y2="182.8" stroke="#000" stroke-width="1.35" />
<line x1="387" y1="137.3" x2="389.8" y2="137.3" stroke="#000" stroke-width="0.8" />
<text x="385" y="139.37" font-size="5.9" stroke="#222" stroke-width="0.14" text-anchor="end" fill="#222" >2.0</text>
<line x1="387" y1="148.68" x2="389.8" y2="148.68" stroke="#000" stroke-width="0.8" />
<text x="385" y="150.74" font-size="5.9" stroke="#222" stroke-width="0.14" text-anchor="end" fill="#222" >1.5</text>
<line x1="387" y1="160.05" x2="389.8" y2="160.05" stroke="#000" stroke-width="0.8" />
<text x="385" y="162.12" font-size="5.9" stroke="#222" stroke-width="0.14" text-anchor="end" fill="#222" >1.0</text>
<line x1="387" y1="171.43" x2="389.8" y2="171.43" stroke="#000" stroke-width="0.8" />
<text x="385" y="173.49" font-size="5.9" stroke="#222" stroke-width="0.14" text-anchor="end" fill="#222" >0.5</text>
<line x1="387" y1="182.8" x2="389.8" y2="182.8" stroke="#000" stroke-width="0.8" />
<text x="385" y="184.87" font-size="5.9" stroke="#222" stroke-width="0.14" text-anchor="end" fill="#222" >0.0</text>
<line x1="396.2" y1="182.8" x2="396.2" y2="184.8" stroke="#000" stroke-width="0.8" />
<line x1="406.7" y1="182.8" x2="406.7" y2="184.8" stroke="#000" stroke-width="0.8" />
<line x1="416.9" y1="182.8" x2="416.9" y2="184.8" stroke="#000" stroke-width="0.8" />
<line x1="427.35" y1="182.8" x2="427.35" y2="184.8" stroke="#000" stroke-width="0.8" />
<text x="390.1" y="128.7" font-size="8.9" stroke="#000" stroke-width="0.07" textLength="43.5" lengthAdjust="spacingAndGlyphs" >Monocytes</text>
<text transform="translate(368.6,159.4) rotate(-90)" font-size="8.2" stroke="#000" stroke-width="0.25" text-anchor="middle" textLength="20" lengthAdjust="spacingAndGlyphs" >10<tspan dy="-2.5" font-size="4.8">3</tspan><tspan dy="2.5">/ µl</tspan></text>
<text transform="translate(398.6,191.4) rotate(-45)" font-size="6.1" text-anchor="end" fill="#222" stroke="#222" stroke-width="0.12">Control</text>
<text transform="translate(409.1,191.4) rotate(-45)" font-size="6.1" text-anchor="end" fill="#222" stroke="#222" stroke-width="0.12">AZA d6</text>
<text transform="translate(419.3,191.4) rotate(-45)" font-size="6.1" text-anchor="end" fill="#222" stroke="#222" stroke-width="0.12">AZA d10</text>
<text transform="translate(429.75,191.4) rotate(-45)" font-size="6.1" text-anchor="end" fill="#222" stroke="#222" stroke-width="0.12">AZA d20</text>
<line x1="395.5" y1="139.8" x2="418.6" y2="139.8" stroke="#111" stroke-width="0.9" />
<line x1="395.5" y1="139.4" x2="395.5" y2="141.8" stroke="#111" stroke-width="0.9" />
<line x1="418.6" y1="139.4" x2="418.6" y2="141.8" stroke="#111" stroke-width="0.9" />
<text x="407.4" y="139.42" font-size="6" text-anchor="middle" fill="#111" stroke="#111" stroke-width="0.2">*</text>
<rect x="473.3" y="164.3" width="5.7" height="18.5" fill="#fff" stroke="#111" stroke-width="1.6"/>
<line x1="476.15" y1="170.2" x2="476.15" y2="157.7" stroke="#111" stroke-width="0.9" />
<line x1="474.15" y1="157.7" x2="478.15" y2="157.7" stroke="#111" stroke-width="0.9" />
<line x1="474.15" y1="170.2" x2="478.15" y2="170.2" stroke="#111" stroke-width="0.9" />
<circle cx="476.15" cy="158.5" r="1.15" fill="#111"/>
<circle cx="475.15" cy="164.5" r="1.15" fill="#111"/>
<circle cx="477.15" cy="168.5" r="1.15" fill="#111"/>
<rect x="482.8" y="162.2" width="5.9" height="20.6" fill="#fff" stroke="#d0121f" stroke-width="1.6"/>
<line x1="485.75" y1="166.9" x2="485.75" y2="153.8" stroke="#d0121f" stroke-width="0.9" />
<line x1="483.75" y1="153.8" x2="487.75" y2="153.8" stroke="#d0121f" stroke-width="0.9" />
<line x1="483.75" y1="166.9" x2="487.75" y2="166.9" stroke="#d0121f" stroke-width="0.9" />
<circle cx="485.75" cy="154" r="1.15" fill="#d0121f"/>
<rect x="483.4" y="160.85" width="2.3" height="2.3" fill="#d0121f"/>
<rect x="485.8" y="164.85" width="2.3" height="2.3" fill="#d0121f"/>
<rect x="494" y="165.7" width="6.1" height="17.1" fill="#fff" stroke="#1e4ac8" stroke-width="1.6"/>
<line x1="497.05" y1="168" x2="497.05" y2="161.9" stroke="#1e4ac8" stroke-width="0.9" />
<line x1="495.05" y1="161.9" x2="499.05" y2="161.9" stroke="#1e4ac8" stroke-width="0.9" />
<line x1="495.05" y1="168" x2="499.05" y2="168" stroke="#1e4ac8" stroke-width="0.9" />
<circle cx="497.05" cy="162" r="1.15" fill="#1e4ac8"/>
<circle cx="495.85" cy="165" r="1.15" fill="#1e4ac8"/>
<circle cx="498.25" cy="168" r="1.15" fill="#1e4ac8"/>
<rect x="504.6" y="154" width="5.6" height="28.8" fill="#fff" stroke="#3a1cb4" stroke-width="1.6"/>
<line x1="507.4" y1="158.9" x2="507.4" y2="147.1" stroke="#3a1cb4" stroke-width="0.9" />
<line x1="505.4" y1="147.1" x2="509.4" y2="147.1" stroke="#3a1cb4" stroke-width="0.9" />
<line x1="505.4" y1="158.9" x2="509.4" y2="158.9" stroke="#3a1cb4" stroke-width="0.9" />
<path d="M506.13,143.77 L508.66,143.77 L507.4,146.06 Z" fill="#3a1cb4"/>
<circle cx="507.4" cy="151.8" r="1.15" fill="#3a1cb4"/>
<circle cx="507.4" cy="158.5" r="1.15" fill="#3a1cb4"/>
<line x1="467" y1="136.3" x2="467" y2="183.48" stroke="#000" stroke-width="1.35" />
<line x1="466.32" y1="182.8" x2="513.8" y2="182.8" stroke="#000" stroke-width="1.35" />
<line x1="464.2" y1="136.8" x2="467" y2="136.8" stroke="#000" stroke-width="0.8" />
<text x="462.2" y="138.87" font-size="5.9" stroke="#222" stroke-width="0.14" text-anchor="end" fill="#222" >600</text>
<line x1="464.2" y1="144.47" x2="467" y2="144.47" stroke="#000" stroke-width="0.8" />
<text x="462.2" y="146.53" font-size="5.9" stroke="#222" stroke-width="0.14" text-anchor="end" fill="#222" >500</text>
<line x1="464.2" y1="152.13" x2="467" y2="152.13" stroke="#000" stroke-width="0.8" />
<text x="462.2" y="154.2" font-size="5.9" stroke="#222" stroke-width="0.14" text-anchor="end" fill="#222" >400</text>
<line x1="464.2" y1="159.8" x2="467" y2="159.8" stroke="#000" stroke-width="0.8" />
<text x="462.2" y="161.87" font-size="5.9" stroke="#222" stroke-width="0.14" text-anchor="end" fill="#222" >300</text>
<line x1="464.2" y1="167.47" x2="467" y2="167.47" stroke="#000" stroke-width="0.8" />
<text x="462.2" y="169.53" font-size="5.9" stroke="#222" stroke-width="0.14" text-anchor="end" fill="#222" >200</text>
<line x1="464.2" y1="175.13" x2="467" y2="175.13" stroke="#000" stroke-width="0.8" />
<text x="462.2" y="177.2" font-size="5.9" stroke="#222" stroke-width="0.14" text-anchor="end" fill="#222" >100</text>
<line x1="464.2" y1="182.8" x2="467" y2="182.8" stroke="#000" stroke-width="0.8" />
<text x="462.2" y="184.87" font-size="5.9" stroke="#222" stroke-width="0.14" text-anchor="end" fill="#222" >0</text>
<line x1="476.15" y1="182.8" x2="476.15" y2="184.8" stroke="#000" stroke-width="0.8" />
<line x1="485.75" y1="182.8" x2="485.75" y2="184.8" stroke="#000" stroke-width="0.8" />
<line x1="497.05" y1="182.8" x2="497.05" y2="184.8" stroke="#000" stroke-width="0.8" />
<line x1="507.4" y1="182.8" x2="507.4" y2="184.8" stroke="#000" stroke-width="0.8" />
<text x="470.3" y="128.7" font-size="8.9" stroke="#000" stroke-width="0.07" textLength="34" lengthAdjust="spacingAndGlyphs" >Platelets</text>
<text transform="translate(448.4,159.4) rotate(-90)" font-size="8.2" stroke="#000" stroke-width="0.25" text-anchor="middle" textLength="20" lengthAdjust="spacingAndGlyphs" >10<tspan dy="-2.5" font-size="4.8">3</tspan><tspan dy="2.5">/ µl</tspan></text>
<text transform="translate(478.55,191.4) rotate(-45)" font-size="6.1" text-anchor="end" fill="#222" stroke="#222" stroke-width="0.12">Control</text>
<text transform="translate(488.15,191.4) rotate(-45)" font-size="6.1" text-anchor="end" fill="#222" stroke="#222" stroke-width="0.12">AZA d6</text>
<text transform="translate(499.45,191.4) rotate(-45)" font-size="6.1" text-anchor="end" fill="#222" stroke="#222" stroke-width="0.12">AZA d10</text>
<text transform="translate(509.8,191.4) rotate(-45)" font-size="6.1" text-anchor="end" fill="#222" stroke="#222" stroke-width="0.12">AZA d20</text>
<rect x="302.43" y="293.83" width="8.65" height="41.57" fill="#fff" stroke="#111" stroke-width="1.45"/>
<circle cx="304.25" cy="293.2" r="1.25" fill="#111"/>
<circle cx="306.75" cy="294" r="1.25" fill="#111"/>
<circle cx="309.25" cy="293.2" r="1.25" fill="#111"/>
<rect x="316.93" y="317.12" width="8.55" height="18.27" fill="#fff" stroke="#d0121f" stroke-width="1.45"/>
<line x1="321.2" y1="319" x2="321.2" y2="311.3" stroke="#d0121f" stroke-width="0.9" />
<line x1="319" y1="311.3" x2="323.4" y2="311.3" stroke="#d0121f" stroke-width="0.9" />
<line x1="319" y1="319" x2="323.4" y2="319" stroke="#d0121f" stroke-width="0.9" />
<path d="M319.82,313.62 L322.57,313.62 L321.2,311.12 Z" fill="#d0121f"/>
<rect x="318.45" y="314.55" width="2.5" height="2.5" fill="#d0121f"/>
<rect x="321.45" y="317.55" width="2.5" height="2.5" fill="#d0121f"/>
<rect x="331.33" y="299.62" width="8.55" height="35.77" fill="#fff" stroke="#1e4ac8" stroke-width="1.45"/>
<line x1="335.6" y1="303.8" x2="335.6" y2="296.3" stroke="#1e4ac8" stroke-width="0.9" />
<line x1="333.4" y1="296.3" x2="337.8" y2="296.3" stroke="#1e4ac8" stroke-width="0.9" />
<line x1="333.4" y1="303.8" x2="337.8" y2="303.8" stroke="#1e4ac8" stroke-width="0.9" />
<circle cx="333.6" cy="298" r="1.25" fill="#1e4ac8"/>
<circle cx="337.6" cy="297.5" r="1.25" fill="#1e4ac8"/>
<circle cx="333.6" cy="303.5" r="1.25" fill="#1e4ac8"/>
<circle cx="337.6" cy="302.5" r="1.25" fill="#1e4ac8"/>
<rect x="345.62" y="300.83" width="8.65" height="34.57" fill="#fff" stroke="#3ee81c" stroke-width="1.45"/>
<line x1="349.95" y1="303.5" x2="349.95" y2="298.5" stroke="#3ee81c" stroke-width="0.9" />
<line x1="347.75" y1="298.5" x2="352.15" y2="298.5" stroke="#3ee81c" stroke-width="0.9" />
<line x1="347.75" y1="303.5" x2="352.15" y2="303.5" stroke="#3ee81c" stroke-width="0.9" />
<circle cx="347.95" cy="301" r="1.25" fill="#3ee81c"/>
<circle cx="351.95" cy="301" r="1.25" fill="#3ee81c"/>
<path d="M348.57,302.68 L351.32,302.68 L349.95,305.18 Z" fill="#3ee81c"/>
<rect x="360.33" y="299.23" width="8.65" height="36.17" fill="#fff" stroke="#3a1cb4" stroke-width="1.45"/>
<line x1="364.65" y1="305.5" x2="364.65" y2="292" stroke="#3a1cb4" stroke-width="0.9" />
<line x1="362.45" y1="292" x2="366.85" y2="292" stroke="#3a1cb4" stroke-width="0.9" />
<line x1="362.45" y1="305.5" x2="366.85" y2="305.5" stroke="#3a1cb4" stroke-width="0.9" />
<path d="M363.27,294.62 L366.02,294.62 L364.65,292.12 Z" fill="#3a1cb4"/>
<circle cx="362.65" cy="301.3" r="1.25" fill="#3a1cb4"/>
<circle cx="366.65" cy="300" r="1.25" fill="#3a1cb4"/>
<path d="M363.27,303.88 L366.02,303.88 L364.65,306.38 Z" fill="#3a1cb4"/>
<line x1="296.1" y1="257.5" x2="296.1" y2="336.05" stroke="#000" stroke-width="1.3" />
<line x1="295.45" y1="335.4" x2="372.8" y2="335.4" stroke="#000" stroke-width="1.3" />
<line x1="294" y1="258.5" x2="296.1" y2="258.5" stroke="#000" stroke-width="0.8" />
<text x="290.47" y="260.73" font-size="6.2" text-anchor="end" fill="#222" stroke="#222" stroke-width="0.16">1×10</text>
<text x="292.7" y="258" font-size="3.6" text-anchor="end" fill="#222" stroke="#222" stroke-width="0.1">6</text>
<line x1="294" y1="277.73" x2="296.1" y2="277.73" stroke="#000" stroke-width="0.8" />
<text x="290.47" y="279.96" font-size="6.2" text-anchor="end" fill="#222" stroke="#222" stroke-width="0.16">1×10</text>
<text x="292.7" y="277.23" font-size="3.6" text-anchor="end" fill="#222" stroke="#222" stroke-width="0.1">5</text>
<line x1="294" y1="296.95" x2="296.1" y2="296.95" stroke="#000" stroke-width="0.8" />
<text x="290.47" y="299.18" font-size="6.2" text-anchor="end" fill="#222" stroke="#222" stroke-width="0.16">1×10</text>
<text x="292.7" y="296.45" font-size="3.6" text-anchor="end" fill="#222" stroke="#222" stroke-width="0.1">4</text>
<line x1="294" y1="316.17" x2="296.1" y2="316.17" stroke="#000" stroke-width="0.8" />
<text x="290.47" y="318.41" font-size="6.2" text-anchor="end" fill="#222" stroke="#222" stroke-width="0.16">1×10</text>
<text x="292.7" y="315.68" font-size="3.6" text-anchor="end" fill="#222" stroke="#222" stroke-width="0.1">3</text>
<line x1="294" y1="335.4" x2="296.1" y2="335.4" stroke="#000" stroke-width="0.8" />
<text x="290.47" y="337.63" font-size="6.2" text-anchor="end" fill="#222" stroke="#222" stroke-width="0.16">1×10</text>
<text x="292.7" y="334.9" font-size="3.6" text-anchor="end" fill="#222" stroke="#222" stroke-width="0.1">2</text>
<line x1="306.75" y1="335.4" x2="306.75" y2="337.4" stroke="#000" stroke-width="0.8" />
<line x1="321.2" y1="335.4" x2="321.2" y2="337.4" stroke="#000" stroke-width="0.8" />
<line x1="335.6" y1="335.4" x2="335.6" y2="337.4" stroke="#000" stroke-width="0.8" />
<line x1="349.95" y1="335.4" x2="349.95" y2="337.4" stroke="#000" stroke-width="0.8" />
<line x1="364.65" y1="335.4" x2="364.65" y2="337.4" stroke="#000" stroke-width="0.8" />
<text x="319.2" y="251.1" font-size="9.4" stroke="#000" stroke-width="0.07" textLength="33" lengthAdjust="spacingAndGlyphs" >LT-HSC</text>
<text transform="translate(268,296.8) rotate(-90)" font-size="9.6" stroke="#000" stroke-width="0.2" text-anchor="middle" textLength="28.5" lengthAdjust="spacingAndGlyphs" >Cell count</text>
<text x="304.55" y="346.2" font-size="6.3" stroke="#222" stroke-width="0.14" text-anchor="middle" fill="#222" textLength="19.2" lengthAdjust="spacingAndGlyphs" >Control</text>
<text x="320.4" y="346.2" font-size="6.3" stroke="#222" stroke-width="0.14" text-anchor="middle" fill="#222" >d6</text>
<text x="335" y="346.2" font-size="6.3" stroke="#222" stroke-width="0.14" text-anchor="middle" fill="#222" >d10</text>
<text x="349.35" y="346.2" font-size="6.3" stroke="#222" stroke-width="0.14" text-anchor="middle" fill="#222" >d15</text>
<text x="363.95" y="346.2" font-size="6.3" stroke="#222" stroke-width="0.14" text-anchor="middle" fill="#222" >d20</text>
<line x1="307.3" y1="279.6" x2="326.7" y2="279.6" stroke="#111" stroke-width="0.9" />
<line x1="307.3" y1="279.2" x2="307.3" y2="281.6" stroke="#111" stroke-width="0.9" />
<line x1="326.7" y1="279.2" x2="326.7" y2="281.6" stroke="#111" stroke-width="0.9" />
<text x="316.8" y="279.58" font-size="5.5" text-anchor="middle" fill="#111" stroke="#111" stroke-width="0.2">*</text>
<line x1="301.7" y1="285" x2="311.4" y2="285" stroke="#1a1a1a" stroke-width="1.25" />
<line x1="316.8" y1="285" x2="351.8" y2="285" stroke="#1a1a1a" stroke-width="1.25" />
<rect x="441.53" y="287.62" width="7.65" height="47.38" fill="#fff" stroke="#111" stroke-width="1.45"/>
<line x1="445.35" y1="290.8" x2="445.35" y2="282.2" stroke="#111" stroke-width="0.9" />
<line x1="443.15" y1="282.2" x2="447.55" y2="282.2" stroke="#111" stroke-width="0.9" />
<line x1="443.15" y1="290.8" x2="447.55" y2="290.8" stroke="#111" stroke-width="0.9" />
<path d="M443.98,283.62 L446.73,283.62 L445.35,281.12 Z" fill="#111"/>
<circle cx="443.35" cy="288.2" r="1.25" fill="#111"/>
<circle cx="447.35" cy="289.5" r="1.25" fill="#111"/>
<rect x="456.33" y="313.62" width="7.35" height="21.38" fill="#fff" stroke="#d0121f" stroke-width="1.45"/>
<line x1="460" y1="323.3" x2="460" y2="307.2" stroke="#d0121f" stroke-width="0.9" />
<line x1="457.8" y1="307.2" x2="462.2" y2="307.2" stroke="#d0121f" stroke-width="0.9" />
<line x1="457.8" y1="323.3" x2="462.2" y2="323.3" stroke="#d0121f" stroke-width="0.9" />
<circle cx="460" cy="307.2" r="1.25" fill="#d0121f"/>
<rect x="458.75" y="316.75" width="2.5" height="2.5" fill="#d0121f"/>
<rect x="458.75" y="319.45" width="2.5" height="2.5" fill="#d0121f"/>
<rect x="470.12" y="309.23" width="7.65" height="25.77" fill="#fff" stroke="#1e4ac8" stroke-width="1.45"/>
<line x1="473.95" y1="312.9" x2="473.95" y2="306.4" stroke="#1e4ac8" stroke-width="0.9" />
<line x1="471.75" y1="306.4" x2="476.15" y2="306.4" stroke="#1e4ac8" stroke-width="0.9" />
<line x1="471.75" y1="312.9" x2="476.15" y2="312.9" stroke="#1e4ac8" stroke-width="0.9" />
<circle cx="471.95" cy="307" r="1.25" fill="#1e4ac8"/>
<circle cx="475.95" cy="306.5" r="1.25" fill="#1e4ac8"/>
<circle cx="473.95" cy="311" r="1.25" fill="#1e4ac8"/>
<rect x="485.12" y="312.33" width="7.65" height="22.67" fill="#fff" stroke="#3ee81c" stroke-width="1.45"/>
<line x1="488.95" y1="313" x2="488.95" y2="310" stroke="#3ee81c" stroke-width="0.9" />
<line x1="486.75" y1="310" x2="491.15" y2="310" stroke="#3ee81c" stroke-width="0.9" />
<line x1="486.75" y1="313" x2="491.15" y2="313" stroke="#3ee81c" stroke-width="0.9" />
<circle cx="486.95" cy="310.3" r="1.25" fill="#3ee81c"/>
<circle cx="490.95" cy="309.5" r="1.25" fill="#3ee81c"/>
<circle cx="488.95" cy="313" r="1.25" fill="#3ee81c"/>
<rect x="499.43" y="301.12" width="7.35" height="33.88" fill="#fff" stroke="#3a1cb4" stroke-width="1.45"/>
<line x1="503.1" y1="312.4" x2="503.1" y2="293.4" stroke="#3a1cb4" stroke-width="0.9" />
<line x1="500.9" y1="293.4" x2="505.3" y2="293.4" stroke="#3a1cb4" stroke-width="0.9" />
<line x1="500.9" y1="312.4" x2="505.3" y2="312.4" stroke="#3a1cb4" stroke-width="0.9" />
<circle cx="503.1" cy="292.6" r="1.25" fill="#3a1cb4"/>
<circle cx="501.1" cy="302.5" r="1.25" fill="#3a1cb4"/>
<path d="M503.73,306.57 L506.48,306.57 L505.1,309.07 Z" fill="#3a1cb4"/>
<line x1="434.8" y1="257.5" x2="434.8" y2="335.65" stroke="#000" stroke-width="1.3" />
<line x1="434.15" y1="335" x2="509.1" y2="335" stroke="#000" stroke-width="1.3" />
<line x1="432.7" y1="258.4" x2="434.8" y2="258.4" stroke="#000" stroke-width="0.8" />
<text x="429.17" y="260.63" font-size="6.2" text-anchor="end" fill="#222" stroke="#222" stroke-width="0.16">1×10</text>
<text x="431.4" y="257.9" font-size="3.6" text-anchor="end" fill="#222" stroke="#222" stroke-width="0.1">6</text>
<line x1="432.7" y1="277.55" x2="434.8" y2="277.55" stroke="#000" stroke-width="0.8" />
<text x="429.17" y="279.78" font-size="6.2" text-anchor="end" fill="#222" stroke="#222" stroke-width="0.16">1×10</text>
<text x="431.4" y="277.05" font-size="3.6" text-anchor="end" fill="#222" stroke="#222" stroke-width="0.1">5</text>
<line x1="432.7" y1="296.7" x2="434.8" y2="296.7" stroke="#000" stroke-width="0.8" />
<text x="429.17" y="298.93" font-size="6.2" text-anchor="end" fill="#222" stroke="#222" stroke-width="0.16">1×10</text>
<text x="431.4" y="296.2" font-size="3.6" text-anchor="end" fill="#222" stroke="#222" stroke-width="0.1">4</text>
<line x1="432.7" y1="315.85" x2="434.8" y2="315.85" stroke="#000" stroke-width="0.8" />
<text x="429.17" y="318.08" font-size="6.2" text-anchor="end" fill="#222" stroke="#222" stroke-width="0.16">1×10</text>
<text x="431.4" y="315.35" font-size="3.6" text-anchor="end" fill="#222" stroke="#222" stroke-width="0.1">3</text>
<line x1="432.7" y1="335" x2="434.8" y2="335" stroke="#000" stroke-width="0.8" />
<text x="429.17" y="337.23" font-size="6.2" text-anchor="end" fill="#222" stroke="#222" stroke-width="0.16">1×10</text>
<text x="431.4" y="334.5" font-size="3.6" text-anchor="end" fill="#222" stroke="#222" stroke-width="0.1">2</text>
<line x1="445.35" y1="335" x2="445.35" y2="337" stroke="#000" stroke-width="0.8" />
<line x1="460" y1="335" x2="460" y2="337" stroke="#000" stroke-width="0.8" />
<line x1="473.95" y1="335" x2="473.95" y2="337" stroke="#000" stroke-width="0.8" />
<line x1="488.95" y1="335" x2="488.95" y2="337" stroke="#000" stroke-width="0.8" />
<line x1="503.1" y1="335" x2="503.1" y2="337" stroke="#000" stroke-width="0.8" />
<text x="457.2" y="251.9" font-size="9.4" stroke="#000" stroke-width="0.07" textLength="34.2" lengthAdjust="spacingAndGlyphs" >ST-HSC</text>
<text transform="translate(409.3,296.6) rotate(-90)" font-size="9.6" stroke="#000" stroke-width="0.2" text-anchor="middle" textLength="27.5" lengthAdjust="spacingAndGlyphs" >Cell count</text>
<text x="443.15" y="345.4" font-size="6.3" stroke="#222" stroke-width="0.14" text-anchor="middle" fill="#222" textLength="19.2" lengthAdjust="spacingAndGlyphs" >Control</text>
<text x="459.2" y="345.4" font-size="6.3" stroke="#222" stroke-width="0.14" text-anchor="middle" fill="#222" >d6</text>
<text x="473.35" y="345.4" font-size="6.3" stroke="#222" stroke-width="0.14" text-anchor="middle" fill="#222" >d10</text>
<text x="488.35" y="345.4" font-size="6.3" stroke="#222" stroke-width="0.14" text-anchor="middle" fill="#222" >d15</text>
<text x="502.4" y="345.4" font-size="6.3" stroke="#222" stroke-width="0.14" text-anchor="middle" fill="#222" >d20</text>
<line x1="446.5" y1="274" x2="465.5" y2="274" stroke="#111" stroke-width="0.9" />
<line x1="446.5" y1="273.6" x2="446.5" y2="276" stroke="#111" stroke-width="0.9" />
<line x1="465.5" y1="273.6" x2="465.5" y2="276" stroke="#111" stroke-width="0.9" />
<text x="455" y="273.98" font-size="5.5" text-anchor="middle" fill="#111" stroke="#111" stroke-width="0.2">*</text>
<line x1="440.8" y1="278.4" x2="449.9" y2="278.4" stroke="#1a1a1a" stroke-width="1.25" />
<line x1="458.5" y1="278.4" x2="504.4" y2="278.4" stroke="#1a1a1a" stroke-width="1.25" />
<rect x="301.93" y="423.03" width="8.65" height="29.87" fill="#fff" stroke="#111" stroke-width="1.45"/>
<rect x="303" y="421.25" width="2.5" height="2.5" fill="#111"/>
<rect x="305" y="421.75" width="2.5" height="2.5" fill="#111"/>
<rect x="307" y="422.05" width="2.5" height="2.5" fill="#111"/>
<rect x="304" y="423.25" width="2.5" height="2.5" fill="#111"/>
<rect x="316.73" y="421.23" width="8.15" height="31.67" fill="#fff" stroke="#d0121f" stroke-width="1.45"/>
<line x1="320.8" y1="424" x2="320.8" y2="418.4" stroke="#d0121f" stroke-width="0.9" />
<line x1="318.6" y1="418.4" x2="323" y2="418.4" stroke="#d0121f" stroke-width="0.9" />
<line x1="318.6" y1="424" x2="323" y2="424" stroke="#d0121f" stroke-width="0.9" />
<circle cx="318.8" cy="419" r="1.25" fill="#d0121f"/>
<circle cx="322.8" cy="418.6" r="1.25" fill="#d0121f"/>
<circle cx="320.8" cy="422" r="1.25" fill="#d0121f"/>
<circle cx="322.8" cy="424.5" r="1.25" fill="#d0121f"/>
<rect x="331.53" y="408.23" width="8.45" height="44.67" fill="#fff" stroke="#1e4ac8" stroke-width="1.45"/>
<line x1="335.75" y1="410" x2="335.75" y2="406.2" stroke="#1e4ac8" stroke-width="0.9" />
<line x1="333.55" y1="406.2" x2="337.95" y2="406.2" stroke="#1e4ac8" stroke-width="0.9" />
<line x1="333.55" y1="410" x2="337.95" y2="410" stroke="#1e4ac8" stroke-width="0.9" />
<circle cx="333.75" cy="406.5" r="1.25" fill="#1e4ac8"/>
<circle cx="337.75" cy="406.5" r="1.25" fill="#1e4ac8"/>
<circle cx="335.75" cy="409.5" r="1.25" fill="#1e4ac8"/>
<rect x="345.73" y="412.73" width="8.55" height="40.17" fill="#fff" stroke="#3ee81c" stroke-width="1.45"/>
<circle cx="348" cy="411.5" r="1.25" fill="#3ee81c"/>
<circle cx="350" cy="411.2" r="1.25" fill="#3ee81c"/>
<circle cx="352" cy="411" r="1.25" fill="#3ee81c"/>
<rect x="360.33" y="416.53" width="8.15" height="36.37" fill="#fff" stroke="#3a1cb4" stroke-width="1.45"/>
<line x1="364.4" y1="424.4" x2="364.4" y2="410.6" stroke="#3a1cb4" stroke-width="0.9" />
<line x1="362.2" y1="410.6" x2="366.6" y2="410.6" stroke="#3a1cb4" stroke-width="0.9" />
<line x1="362.2" y1="424.4" x2="366.6" y2="424.4" stroke="#3a1cb4" stroke-width="0.9" />
<circle cx="364.4" cy="411.5" r="1.25" fill="#3a1cb4"/>
<circle cx="362.4" cy="419.5" r="1.25" fill="#3a1cb4"/>
<path d="M363.02,423.62 L365.77,423.62 L364.4,421.12 Z" fill="#3a1cb4"/>
<line x1="296.5" y1="375.5" x2="296.5" y2="453.55" stroke="#000" stroke-width="1.3" />
<line x1="295.85" y1="452.9" x2="370.5" y2="452.9" stroke="#000" stroke-width="1.3" />
<line x1="294.4" y1="376.1" x2="296.5" y2="376.1" stroke="#000" stroke-width="0.8" />
<text x="290.87" y="378.33" font-size="6.2" text-anchor="end" fill="#222" stroke="#222" stroke-width="0.16">1×10</text>
<text x="293.1" y="375.6" font-size="3.6" text-anchor="end" fill="#222" stroke="#222" stroke-width="0.1">7</text>
<line x1="294.4" y1="391.46" x2="296.5" y2="391.46" stroke="#000" stroke-width="0.8" />
<text x="290.87" y="393.69" font-size="6.2" text-anchor="end" fill="#222" stroke="#222" stroke-width="0.16">1×10</text>
<text x="293.1" y="390.96" font-size="3.6" text-anchor="end" fill="#222" stroke="#222" stroke-width="0.1">6</text>
<line x1="294.4" y1="406.82" x2="296.5" y2="406.82" stroke="#000" stroke-width="0.8" />
<text x="290.87" y="409.05" font-size="6.2" text-anchor="end" fill="#222" stroke="#222" stroke-width="0.16">1×10</text>
<text x="293.1" y="406.32" font-size="3.6" text-anchor="end" fill="#222" stroke="#222" stroke-width="0.1">5</text>
<line x1="294.4" y1="422.18" x2="296.5" y2="422.18" stroke="#000" stroke-width="0.8" />
<text x="290.87" y="424.41" font-size="6.2" text-anchor="end" fill="#222" stroke="#222" stroke-width="0.16">1×10</text>
<text x="293.1" y="421.68" font-size="3.6" text-anchor="end" fill="#222" stroke="#222" stroke-width="0.1">4</text>
<line x1="294.4" y1="437.54" x2="296.5" y2="437.54" stroke="#000" stroke-width="0.8" />
<text x="290.87" y="439.77" font-size="6.2" text-anchor="end" fill="#222" stroke="#222" stroke-width="0.16">1×10</text>
<text x="293.1" y="437.04" font-size="3.6" text-anchor="end" fill="#222" stroke="#222" stroke-width="0.1">3</text>
<line x1="294.4" y1="452.9" x2="296.5" y2="452.9" stroke="#000" stroke-width="0.8" />
<text x="290.87" y="455.13" font-size="6.2" text-anchor="end" fill="#222" stroke="#222" stroke-width="0.16">1×10</text>
<text x="293.1" y="452.4" font-size="3.6" text-anchor="end" fill="#222" stroke="#222" stroke-width="0.1">2</text>
<line x1="306.25" y1="452.9" x2="306.25" y2="454.9" stroke="#000" stroke-width="0.8" />
<line x1="320.8" y1="452.9" x2="320.8" y2="454.9" stroke="#000" stroke-width="0.8" />
<line x1="335.75" y1="452.9" x2="335.75" y2="454.9" stroke="#000" stroke-width="0.8" />
<line x1="350" y1="452.9" x2="350" y2="454.9" stroke="#000" stroke-width="0.8" />
<line x1="364.4" y1="452.9" x2="364.4" y2="454.9" stroke="#000" stroke-width="0.8" />
<text x="323" y="378.7" font-size="9.4" stroke="#000" stroke-width="0.07" textLength="25" lengthAdjust="spacingAndGlyphs" >MPP2</text>
<text transform="translate(267.7,414.5) rotate(-90)" font-size="9.6" stroke="#000" stroke-width="0.2" text-anchor="middle" textLength="28.5" lengthAdjust="spacingAndGlyphs" >Cell count</text>
<text x="304.05" y="463.3" font-size="6.3" stroke="#222" stroke-width="0.14" text-anchor="middle" fill="#222" textLength="19.2" lengthAdjust="spacingAndGlyphs" >Control</text>
<text x="320" y="463.3" font-size="6.3" stroke="#222" stroke-width="0.14" text-anchor="middle" fill="#222" >d6</text>
<text x="335.15" y="463.3" font-size="6.3" stroke="#222" stroke-width="0.14" text-anchor="middle" fill="#222" >d10</text>
<text x="349.4" y="463.3" font-size="6.3" stroke="#222" stroke-width="0.14" text-anchor="middle" fill="#222" >d15</text>
<text x="363.7" y="463.3" font-size="6.3" stroke="#222" stroke-width="0.14" text-anchor="middle" fill="#222" >d20</text>
<rect x="442.33" y="399.12" width="8.15" height="53.77" fill="#fff" stroke="#111" stroke-width="1.45"/>
<line x1="446.4" y1="401" x2="446.4" y2="395" stroke="#111" stroke-width="0.9" />
<line x1="444.2" y1="395" x2="448.6" y2="395" stroke="#111" stroke-width="0.9" />
<line x1="444.2" y1="401" x2="448.6" y2="401" stroke="#111" stroke-width="0.9" />
<circle cx="444.4" cy="396" r="1.25" fill="#111"/>
<circle cx="448.4" cy="397" r="1.25" fill="#111"/>
<circle cx="446.4" cy="399.5" r="1.25" fill="#111"/>
<rect x="456.33" y="408.73" width="7.95" height="44.17" fill="#fff" stroke="#d0121f" stroke-width="1.45"/>
<line x1="460.3" y1="415.8" x2="460.3" y2="406.2" stroke="#d0121f" stroke-width="0.9" />
<line x1="458.1" y1="406.2" x2="462.5" y2="406.2" stroke="#d0121f" stroke-width="0.9" />
<line x1="458.1" y1="415.8" x2="462.5" y2="415.8" stroke="#d0121f" stroke-width="0.9" />
<circle cx="458.3" cy="406.5" r="1.25" fill="#d0121f"/>
<circle cx="462.3" cy="406.2" r="1.25" fill="#d0121f"/>
<rect x="458.05" y="409.75" width="2.5" height="2.5" fill="#d0121f"/>
<rect x="460.05" y="413.25" width="2.5" height="2.5" fill="#d0121f"/>
<rect x="470.73" y="394.43" width="8.35" height="58.47" fill="#fff" stroke="#1e4ac8" stroke-width="1.45"/>
<line x1="474.9" y1="396" x2="474.9" y2="393" stroke="#1e4ac8" stroke-width="0.9" />
<line x1="472.7" y1="393" x2="477.1" y2="393" stroke="#1e4ac8" stroke-width="0.9" />
<line x1="472.7" y1="396" x2="477.1" y2="396" stroke="#1e4ac8" stroke-width="0.9" />
<circle cx="472.9" cy="393" r="1.25" fill="#1e4ac8"/>
<circle cx="474.9" cy="394.5" r="1.25" fill="#1e4ac8"/>
<circle cx="476.9" cy="393.5" r="1.25" fill="#1e4ac8"/>
<circle cx="474.9" cy="396.5" r="1.25" fill="#1e4ac8"/>
<rect x="485.12" y="395.23" width="8.15" height="57.67" fill="#fff" stroke="#3ee81c" stroke-width="1.45"/>
<line x1="489.2" y1="396" x2="489.2" y2="393.5" stroke="#3ee81c" stroke-width="0.9" />
<line x1="487" y1="393.5" x2="491.4" y2="393.5" stroke="#3ee81c" stroke-width="0.9" />
<line x1="487" y1="396" x2="491.4" y2="396" stroke="#3ee81c" stroke-width="0.9" />
<circle cx="487.2" cy="393.6" r="1.25" fill="#3ee81c"/>
<circle cx="491.2" cy="393.2" r="1.25" fill="#3ee81c"/>
<circle cx="489.2" cy="395.5" r="1.25" fill="#3ee81c"/>
<rect x="499.43" y="397.03" width="8.15" height="55.87" fill="#fff" stroke="#3a1cb4" stroke-width="1.45"/>
<line x1="503.5" y1="406.2" x2="503.5" y2="389" stroke="#3a1cb4" stroke-width="0.9" />
<line x1="501.3" y1="389" x2="505.7" y2="389" stroke="#3a1cb4" stroke-width="0.9" />
<line x1="501.3" y1="406.2" x2="505.7" y2="406.2" stroke="#3a1cb4" stroke-width="0.9" />
<path d="M502.12,390.62 L504.88,390.62 L503.5,388.12 Z" fill="#3a1cb4"/>
<circle cx="501.5" cy="398.5" r="1.25" fill="#3a1cb4"/>
<circle cx="505.5" cy="401" r="1.25" fill="#3a1cb4"/>
<line x1="435.6" y1="375.5" x2="435.6" y2="453.55" stroke="#000" stroke-width="1.3" />
<line x1="434.95" y1="452.9" x2="512.2" y2="452.9" stroke="#000" stroke-width="1.3" />
<line x1="433.5" y1="376.1" x2="435.6" y2="376.1" stroke="#000" stroke-width="0.8" />
<text x="429.97" y="378.33" font-size="6.2" text-anchor="end" fill="#222" stroke="#222" stroke-width="0.16">1×10</text>
<text x="432.2" y="375.6" font-size="3.6" text-anchor="end" fill="#222" stroke="#222" stroke-width="0.1">6</text>
<line x1="433.5" y1="395.3" x2="435.6" y2="395.3" stroke="#000" stroke-width="0.8" />
<text x="429.97" y="397.53" font-size="6.2" text-anchor="end" fill="#222" stroke="#222" stroke-width="0.16">1×10</text>
<text x="432.2" y="394.8" font-size="3.6" text-anchor="end" fill="#222" stroke="#222" stroke-width="0.1">5</text>
<line x1="433.5" y1="414.5" x2="435.6" y2="414.5" stroke="#000" stroke-width="0.8" />
<text x="429.97" y="416.73" font-size="6.2" text-anchor="end" fill="#222" stroke="#222" stroke-width="0.16">1×10</text>
<text x="432.2" y="414" font-size="3.6" text-anchor="end" fill="#222" stroke="#222" stroke-width="0.1">4</text>
<line x1="433.5" y1="433.7" x2="435.6" y2="433.7" stroke="#000" stroke-width="0.8" />
<text x="429.97" y="435.93" font-size="6.2" text-anchor="end" fill="#222" stroke="#222" stroke-width="0.16">1×10</text>
<text x="432.2" y="433.2" font-size="3.6" text-anchor="end" fill="#222" stroke="#222" stroke-width="0.1">3</text>
<line x1="433.5" y1="452.9" x2="435.6" y2="452.9" stroke="#000" stroke-width="0.8" />
<text x="429.97" y="455.13" font-size="6.2" text-anchor="end" fill="#222" stroke="#222" stroke-width="0.16">1×10</text>
<text x="432.2" y="452.4" font-size="3.6" text-anchor="end" fill="#222" stroke="#222" stroke-width="0.1">2</text>
<line x1="446.4" y1="452.9" x2="446.4" y2="454.9" stroke="#000" stroke-width="0.8" />
<line x1="460.3" y1="452.9" x2="460.3" y2="454.9" stroke="#000" stroke-width="0.8" />
<line x1="474.9" y1="452.9" x2="474.9" y2="454.9" stroke="#000" stroke-width="0.8" />
<line x1="489.2" y1="452.9" x2="489.2" y2="454.9" stroke="#000" stroke-width="0.8" />
<line x1="503.5" y1="452.9" x2="503.5" y2="454.9" stroke="#000" stroke-width="0.8" />
<text x="462.4" y="378.7" font-size="9.4" stroke="#000" stroke-width="0.07" textLength="23.8" lengthAdjust="spacingAndGlyphs" >MPP3</text>
<text transform="translate(409.3,414.5) rotate(-90)" font-size="9.6" stroke="#000" stroke-width="0.2" text-anchor="middle" textLength="27.5" lengthAdjust="spacingAndGlyphs" >Cell count</text>
<text x="444.2" y="463.3" font-size="6.3" stroke="#222" stroke-width="0.14" text-anchor="middle" fill="#222" textLength="19.2" lengthAdjust="spacingAndGlyphs" >Control</text>
<text x="459.5" y="463.3" font-size="6.3" stroke="#222" stroke-width="0.14" text-anchor="middle" fill="#222" >d6</text>
<text x="474.3" y="463.3" font-size="6.3" stroke="#222" stroke-width="0.14" text-anchor="middle" fill="#222" >d10</text>
<text x="488.6" y="463.3" font-size="6.3" stroke="#222" stroke-width="0.14" text-anchor="middle" fill="#222" >d15</text>
<text x="502.8" y="463.3" font-size="6.3" stroke="#222" stroke-width="0.14" text-anchor="middle" fill="#222" >d20</text>
<line x1="443.4" y1="391.2" x2="455.6" y2="391.2" stroke="#111" stroke-width="0.9" />
<text x="449.4" y="390.58" font-size="5.5" text-anchor="middle" fill="#111" stroke="#111" stroke-width="0.2">*</text>
<rect x="301.93" y="515.43" width="8.15" height="59.17" fill="#fff" stroke="#111" stroke-width="1.45"/>
<rect x="302.75" y="513.55" width="2.5" height="2.5" fill="#111"/>
<rect x="304.75" y="514.25" width="2.5" height="2.5" fill="#111"/>
<rect x="306.75" y="513.55" width="2.5" height="2.5" fill="#111"/>
<rect x="304.75" y="515.75" width="2.5" height="2.5" fill="#111"/>
<rect x="316.23" y="544.73" width="8.15" height="29.88" fill="#fff" stroke="#d0121f" stroke-width="1.45"/>
<line x1="320.3" y1="555.7" x2="320.3" y2="539.6" stroke="#d0121f" stroke-width="0.9" />
<line x1="318.1" y1="539.6" x2="322.5" y2="539.6" stroke="#d0121f" stroke-width="0.9" />
<line x1="318.1" y1="555.7" x2="322.5" y2="555.7" stroke="#d0121f" stroke-width="0.9" />
<circle cx="318.3" cy="539.8" r="1.25" fill="#d0121f"/>
<circle cx="322.3" cy="539.5" r="1.25" fill="#d0121f"/>
<rect x="319.05" y="545.75" width="2.5" height="2.5" fill="#d0121f"/>
<rect x="319.05" y="552.25" width="2.5" height="2.5" fill="#d0121f"/>
<rect x="330.53" y="547.33" width="8.15" height="27.27" fill="#fff" stroke="#1e4ac8" stroke-width="1.45"/>
<line x1="334.6" y1="550.5" x2="334.6" y2="543.5" stroke="#1e4ac8" stroke-width="0.9" />
<line x1="332.4" y1="543.5" x2="336.8" y2="543.5" stroke="#1e4ac8" stroke-width="0.9" />
<line x1="332.4" y1="550.5" x2="336.8" y2="550.5" stroke="#1e4ac8" stroke-width="0.9" />
<circle cx="332.6" cy="544" r="1.25" fill="#1e4ac8"/>
<circle cx="336.6" cy="544.5" r="1.25" fill="#1e4ac8"/>
<path d="M333.23,552.62 L335.98,552.62 L334.6,550.12 Z" fill="#1e4ac8"/>
<rect x="345.33" y="533.83" width="8.15" height="40.77" fill="#fff" stroke="#3ee81c" stroke-width="1.45"/>
<line x1="349.4" y1="552.6" x2="349.4" y2="528.4" stroke="#3ee81c" stroke-width="0.9" />
<line x1="347.2" y1="528.4" x2="351.6" y2="528.4" stroke="#3ee81c" stroke-width="0.9" />
<line x1="347.2" y1="552.6" x2="351.6" y2="552.6" stroke="#3ee81c" stroke-width="0.9" />
<circle cx="347.4" cy="528" r="1.25" fill="#3ee81c"/>
<circle cx="351.4" cy="527.5" r="1.25" fill="#3ee81c"/>
<circle cx="349.4" cy="545" r="1.25" fill="#3ee81c"/>
<circle cx="349.4" cy="550" r="1.25" fill="#3ee81c"/>
<rect x="359.53" y="518.73" width="8.45" height="55.88" fill="#fff" stroke="#3a1cb4" stroke-width="1.45"/>
<line x1="363.75" y1="531" x2="363.75" y2="511.5" stroke="#3a1cb4" stroke-width="0.9" />
<line x1="361.55" y1="511.5" x2="365.95" y2="511.5" stroke="#3a1cb4" stroke-width="0.9" />
<line x1="361.55" y1="531" x2="365.95" y2="531" stroke="#3a1cb4" stroke-width="0.9" />
<path d="M362.38,510.38 L365.12,510.38 L363.75,512.88 Z" fill="#3a1cb4"/>
<circle cx="361.75" cy="520.5" r="1.25" fill="#3a1cb4"/>
<circle cx="365.75" cy="524" r="1.25" fill="#3a1cb4"/>
<line x1="296.5" y1="496" x2="296.5" y2="575.25" stroke="#000" stroke-width="1.3" />
<line x1="295.85" y1="574.6" x2="373.1" y2="574.6" stroke="#000" stroke-width="1.3" />
<line x1="294.4" y1="496.7" x2="296.5" y2="496.7" stroke="#000" stroke-width="0.8" />
<text x="290.87" y="498.93" font-size="6.2" text-anchor="end" fill="#222" stroke="#222" stroke-width="0.16">1×10</text>
<text x="293.1" y="496.2" font-size="3.6" text-anchor="end" fill="#222" stroke="#222" stroke-width="0.1">6</text>
<line x1="294.4" y1="516.17" x2="296.5" y2="516.17" stroke="#000" stroke-width="0.8" />
<text x="290.87" y="518.41" font-size="6.2" text-anchor="end" fill="#222" stroke="#222" stroke-width="0.16">1×10</text>
<text x="293.1" y="515.68" font-size="3.6" text-anchor="end" fill="#222" stroke="#222" stroke-width="0.1">5</text>
<line x1="294.4" y1="535.65" x2="296.5" y2="535.65" stroke="#000" stroke-width="0.8" />
<text x="290.87" y="537.88" font-size="6.2" text-anchor="end" fill="#222" stroke="#222" stroke-width="0.16">1×10</text>
<text x="293.1" y="535.15" font-size="3.6" text-anchor="end" fill="#222" stroke="#222" stroke-width="0.1">4</text>
<line x1="294.4" y1="555.12" x2="296.5" y2="555.12" stroke="#000" stroke-width="0.8" />
<text x="290.87" y="557.36" font-size="6.2" text-anchor="end" fill="#222" stroke="#222" stroke-width="0.16">1×10</text>
<text x="293.1" y="554.63" font-size="3.6" text-anchor="end" fill="#222" stroke="#222" stroke-width="0.1">3</text>
<line x1="294.4" y1="574.6" x2="296.5" y2="574.6" stroke="#000" stroke-width="0.8" />
<text x="290.87" y="576.83" font-size="6.2" text-anchor="end" fill="#222" stroke="#222" stroke-width="0.16">1×10</text>
<text x="293.1" y="574.1" font-size="3.6" text-anchor="end" fill="#222" stroke="#222" stroke-width="0.1">2</text>
<line x1="306" y1="574.6" x2="306" y2="576.6" stroke="#000" stroke-width="0.8" />
<line x1="320.3" y1="574.6" x2="320.3" y2="576.6" stroke="#000" stroke-width="0.8" />
<line x1="334.6" y1="574.6" x2="334.6" y2="576.6" stroke="#000" stroke-width="0.8" />
<line x1="349.4" y1="574.6" x2="349.4" y2="576.6" stroke="#000" stroke-width="0.8" />
<line x1="363.75" y1="574.6" x2="363.75" y2="576.6" stroke="#000" stroke-width="0.8" />
<text x="322" y="499.1" font-size="9.4" stroke="#000" stroke-width="0.07" textLength="25.2" lengthAdjust="spacingAndGlyphs" >MPP4</text>
<text transform="translate(267.7,536) rotate(-90)" font-size="9.6" stroke="#000" stroke-width="0.2" text-anchor="middle" textLength="29" lengthAdjust="spacingAndGlyphs" >Cell count</text>
<text x="303.8" y="585.5" font-size="6.3" stroke="#222" stroke-width="0.14" text-anchor="middle" fill="#222" textLength="19.2" lengthAdjust="spacingAndGlyphs" >Control</text>
<text x="319.5" y="585.5" font-size="6.3" stroke="#222" stroke-width="0.14" text-anchor="middle" fill="#222" >d6</text>
<text x="334" y="585.5" font-size="6.3" stroke="#222" stroke-width="0.14" text-anchor="middle" fill="#222" >d10</text>
<text x="348.8" y="585.5" font-size="6.3" stroke="#222" stroke-width="0.14" text-anchor="middle" fill="#222" >d15</text>
<text x="363.05" y="585.5" font-size="6.3" stroke="#222" stroke-width="0.14" text-anchor="middle" fill="#222" >d20</text>
<line x1="306.4" y1="505" x2="325.6" y2="505" stroke="#111" stroke-width="0.9" />
<line x1="306.4" y1="504.6" x2="306.4" y2="507" stroke="#111" stroke-width="0.9" />
<line x1="325.6" y1="504.6" x2="325.6" y2="507" stroke="#111" stroke-width="0.9" />
<text x="316" y="504.58" font-size="5.5" text-anchor="middle" fill="#111" stroke="#111" stroke-width="0.2">*</text>
<line x1="301.7" y1="510.2" x2="311.6" y2="510.2" stroke="#1a1a1a" stroke-width="1.25" />
<line x1="316.8" y1="510.2" x2="345.9" y2="510.2" stroke="#1a1a1a" stroke-width="1.25" />
<rect x="442.33" y="512.23" width="8.15" height="61.57" fill="#fff" stroke="#111" stroke-width="1.45"/>
<path d="M443.02,510.68 L445.77,510.68 L444.4,513.17 Z" fill="#111"/>
<path d="M445.02,511.38 L447.77,511.38 L446.4,513.88 Z" fill="#111"/>
<path d="M447.02,510.68 L449.77,510.68 L448.4,513.17 Z" fill="#111"/>
<path d="M445.02,512.88 L447.77,512.88 L446.4,515.38 Z" fill="#111"/>
<rect x="456.33" y="534.33" width="7.95" height="39.47" fill="#fff" stroke="#d0121f" stroke-width="1.45"/>
<line x1="460.3" y1="540.1" x2="460.3" y2="528.4" stroke="#d0121f" stroke-width="0.9" />
<line x1="458.1" y1="528.4" x2="462.5" y2="528.4" stroke="#d0121f" stroke-width="0.9" />
<line x1="458.1" y1="540.1" x2="462.5" y2="540.1" stroke="#d0121f" stroke-width="0.9" />
<circle cx="460.3" cy="528" r="1.25" fill="#d0121f"/>
<rect x="457.55" y="534.25" width="2.5" height="2.5" fill="#d0121f"/>
<rect x="460.55" y="536.25" width="2.5" height="2.5" fill="#d0121f"/>
<rect x="459.05" y="538.75" width="2.5" height="2.5" fill="#d0121f"/>
<rect x="470.73" y="514.83" width="8.35" height="58.97" fill="#fff" stroke="#1e4ac8" stroke-width="1.45"/>
<line x1="474.9" y1="518" x2="474.9" y2="512.5" stroke="#1e4ac8" stroke-width="0.9" />
<line x1="472.7" y1="512.5" x2="477.1" y2="512.5" stroke="#1e4ac8" stroke-width="0.9" />
<line x1="472.7" y1="518" x2="477.1" y2="518" stroke="#1e4ac8" stroke-width="0.9" />
<circle cx="472.9" cy="512" r="1.25" fill="#1e4ac8"/>
<circle cx="476.9" cy="512.5" r="1.25" fill="#1e4ac8"/>
<path d="M472.52,518.62 L475.27,518.62 L473.9,516.12 Z" fill="#1e4ac8"/>
<circle cx="476.9" cy="519" r="1.25" fill="#1e4ac8"/>
<rect x="485.12" y="517.43" width="8.15" height="56.37" fill="#fff" stroke="#3ee81c" stroke-width="1.45"/>
<line x1="489.2" y1="518" x2="489.2" y2="515.5" stroke="#3ee81c" stroke-width="0.9" />
<line x1="487" y1="515.5" x2="491.4" y2="515.5" stroke="#3ee81c" stroke-width="0.9" />
<line x1="487" y1="518" x2="491.4" y2="518" stroke="#3ee81c" stroke-width="0.9" />
<circle cx="487.2" cy="515.5" r="1.25" fill="#3ee81c"/>
<circle cx="491.2" cy="515.2" r="1.25" fill="#3ee81c"/>
<circle cx="489.2" cy="517.5" r="1.25" fill="#3ee81c"/>
<rect x="499.43" y="515.43" width="8.15" height="58.37" fill="#fff" stroke="#3a1cb4" stroke-width="1.45"/>
<line x1="503.5" y1="529.2" x2="503.5" y2="506.3" stroke="#3a1cb4" stroke-width="0.9" />
<line x1="501.3" y1="506.3" x2="505.7" y2="506.3" stroke="#3a1cb4" stroke-width="0.9" />
<line x1="501.3" y1="529.2" x2="505.7" y2="529.2" stroke="#3a1cb4" stroke-width="0.9" />
<path d="M502.12,507.62 L504.88,507.62 L503.5,505.12 Z" fill="#3a1cb4"/>
<circle cx="501.5" cy="519" r="1.25" fill="#3a1cb4"/>
<path d="M504.12,519.88 L506.88,519.88 L505.5,522.38 Z" fill="#3a1cb4"/>
<line x1="435.6" y1="496" x2="435.6" y2="574.45" stroke="#000" stroke-width="1.3" />
<line x1="434.95" y1="573.8" x2="512.7" y2="573.8" stroke="#000" stroke-width="1.3" />
<line x1="433.5" y1="496.7" x2="435.6" y2="496.7" stroke="#000" stroke-width="0.8" />
<text x="429.97" y="498.93" font-size="6.2" text-anchor="end" fill="#222" stroke="#222" stroke-width="0.16">1×10</text>
<text x="432.2" y="496.2" font-size="3.6" text-anchor="end" fill="#222" stroke="#222" stroke-width="0.1">6</text>
<line x1="433.5" y1="522.4" x2="435.6" y2="522.4" stroke="#000" stroke-width="0.8" />
<text x="429.97" y="524.63" font-size="6.2" text-anchor="end" fill="#222" stroke="#222" stroke-width="0.16">1×10</text>
<text x="432.2" y="521.9" font-size="3.6" text-anchor="end" fill="#222" stroke="#222" stroke-width="0.1">5</text>
<line x1="433.5" y1="548.1" x2="435.6" y2="548.1" stroke="#000" stroke-width="0.8" />
<text x="429.97" y="550.33" font-size="6.2" text-anchor="end" fill="#222" stroke="#222" stroke-width="0.16">1×10</text>
<text x="432.2" y="547.6" font-size="3.6" text-anchor="end" fill="#222" stroke="#222" stroke-width="0.1">4</text>
<line x1="433.5" y1="573.8" x2="435.6" y2="573.8" stroke="#000" stroke-width="0.8" />
<text x="429.97" y="576.03" font-size="6.2" text-anchor="end" fill="#222" stroke="#222" stroke-width="0.16">1×10</text>
<text x="432.2" y="573.3" font-size="3.6" text-anchor="end" fill="#222" stroke="#222" stroke-width="0.1">3</text>
<line x1="446.4" y1="573.8" x2="446.4" y2="575.8" stroke="#000" stroke-width="0.8" />
<line x1="460.3" y1="573.8" x2="460.3" y2="575.8" stroke="#000" stroke-width="0.8" />
<line x1="474.9" y1="573.8" x2="474.9" y2="575.8" stroke="#000" stroke-width="0.8" />
<line x1="489.2" y1="573.8" x2="489.2" y2="575.8" stroke="#000" stroke-width="0.8" />
<line x1="503.5" y1="573.8" x2="503.5" y2="575.8" stroke="#000" stroke-width="0.8" />
<text x="466" y="498.6" font-size="9.4" stroke="#000" stroke-width="0.07" textLength="17.1" lengthAdjust="spacingAndGlyphs" >LSK</text>
<text transform="translate(409.9,536) rotate(-90)" font-size="9.6" stroke="#000" stroke-width="0.2" text-anchor="middle" textLength="28" lengthAdjust="spacingAndGlyphs" >Cell count</text>
<text x="444.2" y="585" font-size="6.3" stroke="#222" stroke-width="0.14" text-anchor="middle" fill="#222" textLength="19.2" lengthAdjust="spacingAndGlyphs" >Control</text>
<text x="459.5" y="585" font-size="6.3" stroke="#222" stroke-width="0.14" text-anchor="middle" fill="#222" >d6</text>
<text x="474.3" y="585" font-size="6.3" stroke="#222" stroke-width="0.14" text-anchor="middle" fill="#222" >d10</text>
<text x="488.6" y="585" font-size="6.3" stroke="#222" stroke-width="0.14" text-anchor="middle" fill="#222" >d15</text>
<text x="502.8" y="585" font-size="6.3" stroke="#222" stroke-width="0.14" text-anchor="middle" fill="#222" >d20</text>
<line x1="443.4" y1="503.7" x2="455.6" y2="503.7" stroke="#111" stroke-width="0.9" />
<text x="449.4" y="503.19" font-size="5.5" text-anchor="middle" fill="#111" stroke="#111" stroke-width="0.2">*</text>
<clipPath id="clip11"><rect x="170.2" y="39.7" width="107.7" height="57.8"/></clipPath>
<g clip-path="url(#clip11)">
<rect x="170.2" y="39.7" width="107.7" height="57.8" fill="#9c48c4"/>
<path stroke="#6a2ea8" stroke-width="2" stroke-linecap="round" opacity="0.35" d="M190.7 53.7h0M273.4 88.7h0M245.7 95.3h0M224.4 74.7h0"/>
<path stroke="#6a2ea8" stroke-width="3" stroke-linecap="round" opacity="0.35" d="M255.6 45.1h0M240.6 75.3h0M171.8 70.2h0M241.5 66.1h0M246.4 57.9h0M213.3 88.6h0M275.8 62.7h0M238.0 84.7h0M251.8 46.5h0M190.7 82.0h0M205.6 56.8h0M179.9 73.4h0M263.5 50.3h0M268.0 87.0h0M235.2 64.1h0M174.4 95.3h0M234.4 56.7h0M247.8 43.7h0M200.4 92.7h0M176.7 49.9h0M231.8 47.3h0M244.6 73.5h0M204.5 97.5h0M217.6 88.2h0M197.8 40.4h0M243.2 51.4h0M268.7 90.6h0M233.0 58.0h0M246.8 94.6h0M188.4 65.7h0M276.0 65.9h0M173.6 90.1h0M246.5 72.7h0M255.4 40.8h0M195.8 47.8h0M247.1 50.1h0M255.5 92.1h0M270.6 81.5h0M173.3 86.5h0M256.3 49.7h0M255.1 47.8h0M272.4 44.7h0M230.5 57.7h0M261.2 91.8h0M199.2 67.0h0M221.5 58.0h0M236.7 93.2h0M254.1 41.0h0M194.7 79.4h0M208.5 75.5h0M227.2 48.9h0M267.4 58.0h0M265.8 47.4h0M248.5 54.7h0"/>
<path stroke="#6a2ea8" stroke-width="4" stroke-linecap="round" opacity="0.35" d="M220.4 69.1h0M190.1 69.3h0M180.0 86.5h0M226.1 76.7h0M192.8 92.3h0M189.3 72.0h0M239.5 46.4h0M235.0 61.2h0M273.5 67.7h0M230.4 89.0h0M172.0 55.3h0M266.2 96.4h0M238.7 67.6h0M268.7 60.0h0M267.2 90.0h0M255.3 89.6h0M237.5 61.8h0M235.8 44.3h0M277.2 90.6h0M212.0 82.2h0M251.0 41.4h0M222.0 53.0h0M267.7 77.8h0M266.2 58.6h0M193.3 63.6h0M238.0 65.5h0M243.9 51.2h0M189.4 40.3h0M207.4 80.0h0M236.4 83.4h0M256.0 94.3h0M240.3 51.5h0M258.3 76.8h0M207.7 44.5h0M229.5 84.1h0M244.4 94.4h0M226.9 56.5h0M261.8 95.7h0M231.9 51.3h0M274.6 69.5h0M256.5 72.2h0M244.6 43.5h0M248.9 46.8h0M197.2 51.1h0M217.2 61.4h0M238.2 76.6h0"/>
<path stroke="#6a2ea8" stroke-width="5" stroke-linecap="round" opacity="0.35" d="M218.9 72.1h0M174.7 96.5h0M220.2 65.2h0M277.6 97.3h0M201.3 43.8h0M179.6 58.9h0M181.1 43.2h0M193.1 55.3h0M256.7 57.3h0M192.9 62.5h0M239.3 45.5h0M193.2 54.6h0M190.6 82.4h0M191.4 94.6h0M246.1 54.6h0M174.0 40.7h0M229.0 82.3h0M249.6 80.4h0M223.8 75.2h0M191.6 64.6h0M223.7 88.1h0M223.4 57.9h0M219.2 41.1h0M240.7 86.4h0M219.0 75.9h0M210.8 72.6h0M193.2 91.7h0M275.5 70.7h0M204.7 92.3h0M225.8 81.5h0M239.0 69.9h0M214.8 95.0h0M216.9 86.8h0M261.9 75.1h0M195.3 82.5h0M269.6 52.3h0"/>
<path stroke="#c85ab8" stroke-width="2" stroke-linecap="round" opacity="0.3" d="M268.4 95.7h0M244.0 50.6h0M225.6 72.6h0M276.9 93.3h0M213.9 51.0h0M197.8 62.9h0M191.2 61.4h0M175.1 93.5h0M219.3 51.5h0M249.3 53.5h0M216.0 75.7h0M228.5 43.9h0M180.6 90.3h0M244.9 56.1h0M265.1 56.0h0M276.9 61.4h0"/>
<path stroke="#c85ab8" stroke-width="3" stroke-linecap="round" opacity="0.3" d="M224.7 83.5h0M181.6 41.9h0M176.9 94.7h0M252.6 58.6h0M225.7 64.6h0M238.0 63.1h0M254.0 86.8h0M252.8 83.9h0M248.0 43.8h0M220.7 40.3h0M239.0 75.8h0M271.9 78.2h0M241.3 72.6h0M197.2 92.0h0M224.9 95.6h0M221.0 49.5h0M215.5 70.1h0M202.1 40.5h0M178.1 92.0h0M221.6 95.9h0M235.2 46.4h0M227.1 46.9h0M242.1 66.0h0M266.3 85.0h0M251.3 50.7h0M174.5 43.2h0M210.4 67.4h0M237.4 84.1h0M269.4 64.4h0M179.1 72.3h0M208.7 81.7h0M182.8 80.7h0M217.4 86.1h0M266.6 54.1h0M209.6 60.7h0M211.9 51.0h0M225.7 71.2h0M226.4 83.9h0M246.5 92.6h0M273.4 76.7h0M246.7 86.1h0"/>
<path stroke="#c85ab8" stroke-width="4" stroke-linecap="round" opacity="0.3" d="M259.8 64.1h0M183.8 63.0h0M172.1 51.3h0M190.1 51.5h0M171.6 80.2h0M189.7 65.9h0M225.4 40.6h0M256.5 80.4h0M224.5 96.5h0M198.0 92.4h0M266.8 90.6h0M212.2 97.5h0M245.7 83.7h0M172.7 75.3h0M277.4 76.6h0M178.4 74.2h0M236.0 43.1h0M209.6 56.2h0M230.6 56.1h0M174.8 48.8h0M212.2 91.6h0M175.6 96.9h0M226.6 93.9h0M220.6 96.3h0M232.9 63.9h0M227.4 97.4h0M208.9 55.4h0M231.0 73.9h0M275.7 92.6h0M243.0 71.5h0M207.2 82.8h0M178.2 46.6h0M215.9 54.6h0M209.9 77.5h0M205.2 71.4h0M244.0 57.0h0M178.4 52.0h0M179.0 57.3h0M269.1 94.0h0M204.4 62.8h0M256.0 70.9h0M230.8 49.9h0M274.3 77.3h0M177.1 71.3h0M179.3 44.4h0M267.0 44.6h0M185.7 82.8h0M196.6 52.4h0M206.6 95.7h0M223.4 70.8h0M259.2 78.2h0M257.0 87.9h0M215.5 48.1h0"/>
<path stroke="#6c30b0" stroke-width="0.8" stroke-linecap="round" d="M192.2 64.3h0M274.6 43.1h0M189.5 43.3h0M233.1 92.3h0M181.9 50.4h0M195.6 81.2h0M194.3 50.4h0M188.8 83.5h0M229.2 86.9h0M222.2 52.5h0M272.2 86.0h0M227.0 69.5h0M276.8 77.7h0M171.4 67.0h0M256.0 80.9h0M187.1 48.8h0M198.1 89.9h0M238.8 97.1h0M258.7 44.5h0M247.4 45.3h0M220.7 94.9h0M215.1 92.7h0M259.2 51.7h0M203.7 57.7h0M208.9 79.4h0M259.6 77.5h0M210.8 80.7h0M231.0 66.2h0M277.0 85.9h0M236.6 56.5h0M228.3 56.9h0M212.4 78.2h0M191.7 82.0h0M205.9 87.5h0M246.5 50.1h0M260.3 74.0h0M194.6 48.8h0M252.8 87.2h0M205.9 63.5h0M255.2 77.9h0M172.2 58.8h0M240.3 45.8h0M267.5 71.4h0M237.7 51.1h0M205.7 93.4h0M184.8 92.0h0M230.6 72.1h0M201.3 91.5h0M232.0 87.7h0M229.2 44.1h0M249.6 61.8h0M256.8 40.6h0M220.6 48.0h0M231.5 49.7h0M198.6 72.5h0M185.8 95.1h0M220.8 63.5h0M262.3 63.3h0M231.2 92.0h0M267.1 82.0h0M251.2 57.3h0M177.7 46.9h0M224.3 62.6h0M245.0 70.1h0M203.2 62.6h0M241.9 89.8h0M231.2 91.9h0M255.5 46.9h0M272.6 39.7h0M202.4 58.5h0M266.6 86.8h0M208.6 73.5h0M173.6 91.6h0M221.1 51.6h0M269.6 91.5h0M260.4 60.2h0M192.0 76.3h0M265.0 42.6h0M263.9 80.9h0M245.2 93.9h0M178.7 52.6h0M246.7 51.1h0M233.7 52.9h0M270.0 78.3h0M217.6 70.2h0M175.1 74.4h0M197.2 86.1h0M200.9 83.4h0M200.3 71.4h0M266.8 96.8h0M219.9 83.1h0M270.3 68.6h0M230.1 77.0h0M241.1 85.0h0M226.3 94.7h0M254.2 49.2h0M254.9 85.4h0M222.9 52.5h0M223.9 41.7h0M189.6 48.5h0M223.6 64.8h0M198.5 85.9h0M267.9 72.6h0M255.5 53.5h0M203.7 42.1h0M237.1 70.1h0M188.7 54.4h0M176.8 63.4h0M193.5 95.8h0M185.4 62.4h0M215.9 44.1h0M195.0 54.3h0M236.0 42.0h0M240.2 43.1h0M245.0 89.7h0M265.7 66.4h0M193.4 59.8h0M229.4 49.2h0M193.3 66.7h0M263.1 51.5h0M178.0 79.7h0M199.8 40.8h0M247.2 55.2h0M186.7 93.8h0M172.4 58.3h0M179.2 90.7h0M253.2 69.7h0M212.6 53.5h0M186.4 74.1h0M203.8 64.2h0M184.8 80.5h0M248.3 78.2h0M194.5 56.6h0M193.4 42.1h0M195.5 76.3h0M216.3 62.4h0M211.5 58.7h0M200.3 48.9h0M196.0 45.1h0M215.7 48.4h0M172.7 62.3h0M177.0 63.1h0M223.6 73.6h0M205.3 54.3h0M207.6 91.2h0M198.4 78.3h0M253.3 76.0h0M214.5 63.7h0M259.5 90.5h0M268.2 41.9h0M224.8 57.5h0M275.4 48.4h0M194.8 79.0h0M170.3 71.1h0M229.2 75.8h0M259.7 95.7h0M207.5 90.9h0M274.0 87.3h0M237.1 68.1h0M227.7 53.4h0M205.2 50.0h0M183.8 43.4h0M181.2 80.4h0M218.8 84.3h0M176.0 54.4h0M197.3 81.1h0M259.4 72.5h0M256.5 46.9h0M242.3 53.1h0M215.4 76.2h0M270.7 96.9h0M247.0 46.5h0M183.1 58.8h0M228.6 67.6h0M200.8 62.3h0M252.6 96.4h0M186.0 49.8h0M270.7 54.2h0M183.2 58.4h0M199.7 52.9h0M209.6 54.7h0M177.1 91.3h0M178.6 50.2h0M212.8 43.0h0M240.9 75.7h0M189.1 41.2h0M183.0 44.0h0M251.4 57.6h0M255.5 82.2h0M213.5 80.5h0M268.2 41.1h0M194.7 62.1h0M241.0 86.6h0M238.9 60.2h0M267.7 58.3h0M206.3 82.6h0M189.3 45.8h0M207.9 64.6h0M224.3 63.0h0M228.0 94.7h0M181.9 96.8h0M273.9 52.4h0M246.2 50.0h0M243.1 94.5h0M186.2 76.4h0M239.5 52.0h0M224.6 72.5h0M260.4 79.6h0M241.9 63.9h0M195.0 74.4h0M218.3 74.0h0M270.5 48.5h0M277.1 82.4h0M249.5 96.9h0M197.2 86.4h0M228.0 89.7h0M200.3 76.9h0M230.0 85.2h0M256.0 48.5h0M181.0 41.8h0M263.3 87.9h0M236.7 91.8h0M264.6 81.8h0M242.2 64.6h0M220.4 47.2h0M271.5 75.0h0M249.5 60.5h0M215.9 87.1h0M207.5 80.4h0M219.2 93.7h0M250.3 74.5h0M177.1 63.9h0M217.7 94.9h0M245.0 78.5h0M197.3 64.0h0M258.6 88.8h0M179.7 60.7h0M248.1 78.4h0M266.9 94.6h0M238.4 66.8h0M177.4 66.4h0M192.8 61.1h0M212.7 82.6h0M188.2 77.2h0M248.9 84.6h0M271.9 91.5h0M208.0 70.7h0M182.2 85.3h0M224.8 46.9h0M184.2 44.8h0M201.9 84.6h0M214.8 42.8h0M218.8 72.0h0M186.9 95.8h0M274.0 63.6h0M246.9 48.7h0M173.3 46.1h0M175.2 63.8h0M265.7 94.4h0M224.2 91.9h0M202.4 82.4h0M209.8 64.5h0M208.8 64.6h0M175.5 88.0h0M227.1 71.3h0M194.2 45.4h0M204.1 67.7h0M250.9 67.9h0M214.0 95.6h0M234.1 95.2h0M234.6 61.0h0M235.8 73.8h0M175.9 45.1h0M199.3 85.7h0M262.8 63.0h0M259.8 58.7h0M176.3 83.8h0M251.3 73.2h0M276.1 92.7h0M210.9 65.6h0M242.0 71.4h0M230.5 93.0h0M183.5 90.2h0M173.6 64.7h0M242.8 93.3h0M181.5 82.6h0M233.3 51.4h0M187.8 59.9h0M226.2 62.2h0M260.9 60.4h0M221.9 96.4h0M245.3 53.2h0M248.9 72.9h0M177.1 87.4h0M247.4 64.7h0M219.3 67.8h0M251.3 45.6h0M231.4 71.6h0M193.7 51.2h0M248.5 55.0h0M172.4 70.8h0M201.8 54.3h0M222.4 55.5h0M253.7 54.7h0M195.3 65.9h0M248.7 94.2h0M231.2 59.9h0M181.2 72.4h0M176.8 78.2h0M226.3 44.2h0M190.1 70.1h0M215.1 67.8h0M230.7 47.5h0M262.7 93.7h0M273.3 41.1h0M259.6 79.5h0M275.3 87.9h0M206.3 59.7h0M253.2 54.9h0M189.1 48.4h0M221.8 85.0h0M195.9 77.5h0M190.1 53.1h0M255.3 70.9h0M252.4 53.8h0M214.8 96.9h0M211.1 56.3h0M171.7 68.5h0M177.2 92.6h0M219.1 61.2h0M199.6 94.0h0M190.1 59.8h0M203.3 50.3h0M226.9 70.9h0M179.0 52.6h0M224.5 49.0h0M274.9 66.3h0M261.3 66.6h0M271.9 96.2h0M252.3 62.9h0M193.0 40.8h0M220.3 50.3h0M203.0 42.1h0M236.8 61.0h0M237.4 58.0h0M265.4 73.3h0M228.4 66.3h0M262.1 90.7h0M225.0 96.6h0M188.6 81.5h0M207.6 72.0h0M269.6 69.4h0M170.4 68.4h0M232.0 76.2h0M179.9 68.5h0M239.3 95.8h0M197.6 91.9h0M223.0 67.6h0M260.8 68.8h0M257.4 86.0h0M257.9 57.2h0M269.2 41.0h0M207.2 85.5h0M177.1 78.3h0M276.0 90.1h0M276.3 75.7h0M223.2 61.9h0M245.0 69.5h0M244.1 94.2h0M270.0 92.4h0M253.6 59.0h0M226.5 67.9h0M263.1 70.6h0M250.4 54.1h0M232.8 53.6h0M177.7 42.7h0M214.8 63.2h0M221.2 95.1h0M267.4 54.2h0M277.6 70.2h0M252.7 43.0h0M240.0 80.5h0M216.8 45.9h0M273.0 91.1h0M217.3 47.1h0M231.9 82.7h0M240.2 79.1h0M175.2 80.8h0M176.1 67.1h0M178.0 62.3h0M222.6 73.7h0M276.1 46.6h0M194.0 89.7h0M218.5 60.8h0M219.0 57.9h0M275.4 85.1h0M242.5 82.5h0M194.5 84.2h0M198.1 75.2h0M213.1 97.1h0M268.5 43.2h0M258.7 88.1h0M250.6 73.2h0M246.2 72.1h0M199.8 72.5h0M266.4 78.0h0M257.0 64.0h0M235.4 66.3h0M208.2 83.6h0M259.4 61.7h0M208.8 70.8h0M210.5 77.7h0M197.1 50.0h0M206.5 90.5h0M221.2 57.8h0M257.7 72.6h0M276.5 52.6h0M207.0 65.1h0M194.6 60.8h0M176.9 88.3h0M233.0 45.2h0M208.2 96.6h0M263.1 43.3h0M172.5 80.0h0M204.9 66.7h0M230.7 60.3h0M197.0 56.6h0M171.9 57.6h0M220.7 69.3h0M265.7 83.3h0M241.2 79.7h0M214.7 62.2h0M220.7 70.3h0M255.1 91.3h0M172.6 57.1h0M256.0 75.6h0M219.2 62.7h0M260.2 44.0h0M274.8 71.1h0M203.6 89.5h0M171.6 48.3h0M239.1 46.1h0M233.9 73.4h0M193.5 65.5h0M206.2 95.1h0M181.1 76.5h0M185.3 51.4h0M190.1 76.4h0M270.9 42.2h0M211.4 87.3h0M247.2 50.4h0M274.5 53.6h0M269.0 78.7h0M190.3 53.4h0M242.3 76.0h0M247.5 68.2h0M223.2 61.9h0M210.2 58.8h0M234.0 92.6h0M231.1 53.5h0M173.8 50.7h0M252.2 81.5h0M259.1 48.2h0M211.2 44.7h0M174.2 46.2h0M190.8 46.2h0M239.2 49.4h0M227.9 61.4h0M231.4 69.1h0M221.3 42.0h0M191.0 59.1h0M265.8 73.7h0M228.6 94.0h0M211.5 80.6h0M246.3 92.2h0M250.0 89.8h0M185.7 63.0h0M184.4 84.8h0M237.9 55.9h0M235.6 50.8h0M262.5 96.7h0M209.6 79.8h0M261.7 51.2h0M206.8 39.8h0M170.4 58.7h0M277.0 76.6h0M247.3 53.1h0M215.5 58.1h0M203.9 82.6h0M274.3 51.4h0M187.7 41.7h0M189.9 81.9h0M242.8 95.6h0M180.8 41.8h0M259.0 79.2h0M262.4 61.2h0M239.3 41.2h0M173.4 49.0h0M227.4 47.1h0M259.0 59.6h0M243.1 96.0h0M253.6 76.3h0M171.4 67.2h0M235.0 69.1h0M176.5 47.3h0M201.4 66.0h0M222.3 62.7h0M208.7 97.5h0M186.4 48.3h0M235.0 83.8h0M222.2 47.3h0M266.1 83.0h0M242.9 52.1h0M192.4 42.3h0M192.7 76.9h0M269.7 94.5h0M255.8 42.1h0M263.4 54.1h0M252.0 59.2h0M245.2 81.8h0M182.9 45.2h0M209.5 61.0h0M275.2 74.7h0M245.9 74.3h0M210.5 63.4h0M239.9 60.1h0M197.3 57.9h0M256.2 93.0h0M210.9 46.5h0M238.9 91.3h0M197.6 83.6h0M264.7 60.1h0M191.9 56.5h0M200.2 81.8h0M239.0 86.1h0M190.8 46.6h0M255.5 74.6h0M219.0 74.3h0M174.0 64.0h0M263.7 72.9h0M257.2 44.9h0M180.7 45.1h0M187.0 97.0h0M242.3 48.8h0M259.1 45.0h0M203.5 65.1h0M170.3 71.4h0M265.4 43.7h0M214.7 69.8h0M181.7 47.7h0M227.6 73.3h0M276.5 88.0h0M271.1 51.8h0M268.2 67.1h0M247.7 84.6h0M219.4 66.7h0M205.4 72.5h0M175.1 62.1h0M173.7 44.3h0M271.7 88.1h0M204.3 61.0h0M211.3 49.9h0M171.8 83.9h0M248.2 85.4h0M249.6 57.2h0M188.6 97.0h0M256.9 46.7h0M225.1 42.6h0M234.3 87.1h0M196.6 82.0h0M194.7 43.3h0M214.6 71.3h0M231.1 56.5h0M242.8 59.1h0M210.9 55.3h0M202.1 56.9h0M173.4 67.5h0M264.9 60.5h0M226.8 41.1h0M254.8 71.9h0M207.2 83.1h0M248.4 78.7h0M227.6 73.2h0M258.4 89.3h0M251.2 75.3h0M268.0 42.6h0M210.6 94.5h0M222.9 82.2h0M265.3 40.1h0M227.0 41.6h0M270.9 46.9h0"/>
<path stroke="#6c30b0" stroke-width="1.6" stroke-linecap="round" d="M182.6 77.2h0M198.3 91.0h0M207.0 71.3h0M227.8 48.4h0M170.3 87.2h0M262.5 57.2h0M226.8 48.8h0M203.1 66.7h0M212.7 66.4h0M272.0 72.2h0M185.4 45.2h0M214.0 43.9h0M216.2 69.3h0M213.4 80.2h0M225.1 85.3h0M236.1 48.9h0M224.1 47.9h0M276.5 69.5h0M260.2 51.1h0M196.5 73.0h0M220.1 46.9h0M268.1 97.0h0M235.0 46.8h0M189.6 96.7h0M241.1 57.5h0M239.3 41.9h0M244.4 83.5h0M222.5 97.2h0M226.7 64.7h0M204.7 42.9h0M177.6 92.4h0M256.9 52.5h0M223.9 93.7h0M188.7 90.5h0M248.4 57.8h0M195.6 78.1h0M210.3 78.0h0M239.1 44.9h0M224.7 88.6h0M195.5 65.2h0M247.2 72.8h0M233.6 44.8h0M244.6 87.7h0M222.9 83.7h0M185.8 66.0h0M174.4 53.6h0M277.5 83.8h0M196.2 66.4h0M209.4 59.2h0M261.0 61.7h0M218.4 97.1h0M198.5 62.4h0M252.7 81.5h0M192.3 55.9h0M213.9 62.0h0M238.1 72.4h0M275.3 56.9h0M269.2 52.2h0M242.0 94.9h0M221.4 49.3h0M245.7 71.7h0M220.7 75.3h0M209.3 73.0h0M196.0 68.2h0M247.3 79.9h0M210.0 56.2h0M187.7 89.8h0M256.0 62.4h0M206.2 83.6h0M246.3 75.7h0M171.7 73.5h0M274.7 47.4h0M201.0 82.0h0M203.5 86.0h0M244.9 71.3h0M231.1 48.0h0M277.6 51.4h0M222.4 63.7h0M271.3 89.7h0M217.9 87.9h0M171.3 51.8h0M171.4 70.2h0M256.7 87.5h0M276.4 45.5h0M250.2 71.3h0M265.0 58.2h0M190.0 60.3h0M265.8 89.2h0M225.7 41.6h0M263.6 47.0h0M223.1 53.2h0M240.1 93.9h0M256.1 69.3h0M177.2 90.0h0M196.2 85.9h0M253.2 71.4h0M189.8 62.2h0M276.6 51.6h0M206.8 57.9h0M200.2 74.6h0M189.7 47.1h0M191.3 97.2h0M214.2 48.2h0M219.4 69.0h0M232.6 56.2h0M201.1 89.1h0M214.5 47.3h0M229.0 45.4h0M220.3 58.0h0M235.4 95.8h0M277.1 62.5h0M240.2 80.2h0M240.9 52.3h0M250.1 54.3h0M220.7 40.6h0M261.8 45.7h0M214.0 75.1h0M186.8 87.0h0M274.3 76.9h0M198.3 46.2h0M205.6 68.0h0M223.8 69.5h0M243.4 44.6h0M258.4 85.3h0M237.5 71.6h0M239.0 41.0h0M249.6 63.9h0M254.4 65.2h0M182.9 58.2h0M177.9 46.4h0M183.0 57.6h0M214.9 70.7h0M244.5 62.1h0M230.5 96.1h0M261.5 41.7h0M186.5 94.7h0M257.0 45.3h0M235.9 46.7h0M232.9 91.7h0M244.4 60.7h0M247.6 56.5h0M200.1 69.1h0M187.4 89.4h0M235.8 71.1h0M227.8 77.8h0M271.1 60.7h0M272.5 46.1h0M241.0 43.8h0M276.7 57.6h0M173.4 72.7h0M244.0 89.1h0M223.9 51.1h0M222.6 71.9h0M206.3 80.3h0M275.3 94.6h0M222.9 73.8h0M236.2 75.1h0M179.5 69.7h0M173.6 46.2h0M232.7 83.5h0M170.3 43.6h0M226.9 59.1h0M219.2 53.2h0M226.5 54.4h0M205.7 81.7h0M208.6 92.4h0M211.9 47.5h0M254.5 59.2h0M250.1 67.2h0M192.3 90.5h0M270.5 59.5h0M185.5 81.0h0M190.9 47.5h0M265.2 81.7h0M252.3 70.1h0M203.5 83.7h0M231.4 56.7h0M187.7 49.7h0M256.3 68.6h0M268.6 53.2h0M233.1 48.8h0M200.8 45.3h0M217.9 44.6h0M195.5 87.6h0M216.1 71.8h0M191.4 52.1h0M256.7 96.3h0M244.0 85.8h0M268.3 93.6h0M190.2 79.8h0M248.5 43.1h0M253.0 85.1h0M231.5 94.2h0M172.7 49.0h0M194.8 77.5h0M199.6 50.5h0M272.7 75.5h0M226.9 94.5h0M216.8 79.3h0M230.0 76.8h0M229.6 55.5h0M248.5 58.2h0M177.9 55.3h0M181.6 94.8h0M214.4 62.8h0M197.9 85.4h0M214.5 57.3h0M219.2 67.1h0M219.2 61.4h0M248.2 94.6h0M242.2 64.8h0M275.7 59.5h0M172.0 63.8h0M233.8 80.9h0M276.5 47.6h0M205.2 81.7h0M223.5 49.4h0M276.9 72.6h0M202.6 79.7h0M203.7 90.1h0M179.4 85.6h0M198.7 68.0h0M173.2 87.0h0M193.0 80.4h0M236.9 48.4h0M259.3 92.6h0M188.7 60.2h0M193.5 90.7h0M247.6 42.4h0M199.6 78.3h0M199.1 46.2h0M190.8 89.9h0M243.8 79.7h0M265.0 97.0h0M276.9 44.1h0M271.4 64.9h0M220.2 91.7h0M206.5 73.1h0M172.1 52.4h0M193.3 43.9h0M257.9 81.6h0M176.4 41.7h0M187.8 67.1h0M204.8 54.7h0M261.2 80.2h0M175.5 41.3h0M224.1 68.6h0M248.2 44.2h0M261.1 75.5h0M174.2 41.3h0M261.4 74.5h0M200.8 56.6h0M254.7 80.1h0M190.2 62.4h0M252.6 46.2h0M235.4 95.1h0M232.4 91.1h0M260.6 77.6h0M248.0 89.2h0M244.0 48.5h0M242.5 81.8h0M229.9 73.3h0M243.7 97.0h0M256.8 62.5h0M213.2 44.3h0M202.0 61.0h0M193.2 40.4h0M235.4 42.6h0M206.3 48.0h0M182.0 41.8h0M220.8 91.8h0M220.9 57.1h0M204.7 81.5h0M185.3 71.3h0M204.4 49.4h0M259.2 68.4h0M253.1 74.9h0M274.6 63.2h0M261.4 85.9h0M261.1 62.0h0M274.9 60.5h0M266.8 95.0h0M239.7 67.0h0M214.7 69.5h0M244.4 72.6h0M175.3 49.0h0M231.0 55.9h0M205.9 88.6h0M253.0 73.9h0M220.0 54.6h0M187.3 87.4h0M189.4 83.4h0M187.9 53.1h0M208.2 53.6h0M219.2 79.3h0M185.0 73.8h0M190.5 57.9h0M208.4 67.0h0M198.4 86.5h0M234.9 95.1h0M217.8 88.2h0M192.2 91.6h0M201.7 63.9h0M255.5 88.0h0M230.8 48.0h0M249.2 90.5h0M199.8 44.4h0M249.0 43.2h0M206.6 45.7h0"/>
<path stroke="#c052c8" stroke-width="0.8" stroke-linecap="round" d="M199.6 78.6h0M239.5 74.7h0M277.0 57.8h0M260.8 42.1h0M205.1 76.7h0M274.8 51.9h0M260.2 88.1h0M209.8 76.7h0M243.5 71.4h0M170.6 62.7h0M249.0 75.2h0M220.0 91.6h0M171.4 58.5h0M277.1 62.5h0M244.6 45.3h0M215.8 86.1h0M194.6 40.5h0M177.2 59.9h0M198.2 52.3h0M179.9 73.3h0M180.9 94.5h0M247.4 70.2h0M173.2 80.2h0M214.7 70.1h0M201.1 91.1h0M253.3 60.9h0M275.9 73.7h0M237.2 94.9h0M195.3 52.5h0M209.8 94.7h0M259.3 70.5h0M175.6 80.3h0M177.4 56.8h0M265.0 60.1h0M236.6 77.7h0M200.5 71.7h0M244.9 63.8h0M192.7 39.9h0M185.0 57.3h0M257.0 52.2h0M265.2 93.1h0M272.8 68.9h0M231.6 63.3h0M219.6 43.3h0M178.7 64.3h0M229.8 48.9h0M238.3 42.5h0M233.9 54.7h0M192.4 51.5h0M201.4 83.6h0M197.9 77.1h0M185.5 83.3h0M247.8 52.7h0M229.7 53.3h0M179.4 52.9h0M192.1 50.9h0M229.3 84.1h0M237.1 61.9h0M188.1 69.3h0M188.0 91.1h0M222.7 56.3h0M217.2 79.2h0M272.5 82.6h0M276.6 40.6h0M258.3 55.6h0M172.3 49.3h0M199.6 73.7h0M225.1 50.0h0M239.7 45.7h0M179.3 71.1h0M196.9 84.8h0M184.0 69.0h0M269.5 79.5h0M226.8 60.3h0M197.5 63.0h0M181.5 68.1h0M182.9 52.5h0M190.1 43.6h0M235.6 64.5h0M209.4 40.3h0M221.5 94.7h0M189.4 68.9h0M201.3 78.2h0M264.3 50.1h0M208.1 73.3h0M197.5 46.5h0M201.0 91.7h0M187.0 62.0h0M206.3 60.6h0M214.7 74.0h0M171.0 83.3h0M273.1 65.7h0M203.6 95.0h0M271.5 44.3h0M242.8 45.0h0M189.3 57.3h0M201.1 46.3h0M226.7 83.5h0M180.3 81.8h0M185.3 68.1h0M212.1 87.5h0M216.7 70.9h0M235.0 67.3h0M174.7 56.7h0M252.4 67.4h0M254.4 69.8h0M212.5 39.8h0M207.2 77.5h0M274.5 62.1h0M214.6 50.0h0M255.8 69.5h0M189.6 94.7h0M224.9 66.3h0M198.9 50.5h0M250.8 74.4h0M237.2 76.5h0M209.5 82.1h0M238.0 53.0h0M192.5 83.1h0M252.3 55.2h0M233.5 94.1h0M266.7 90.5h0M217.4 52.2h0M202.2 87.3h0M171.8 65.8h0M226.5 57.3h0M187.0 67.6h0M233.3 78.7h0M276.4 85.5h0M198.9 75.9h0M227.5 59.4h0M206.6 78.9h0M188.6 48.0h0M175.5 83.6h0M181.3 93.0h0M234.3 73.5h0M178.4 64.2h0M270.6 75.6h0M203.8 80.3h0M260.8 65.6h0M201.5 76.0h0M239.1 48.0h0M235.3 53.5h0M262.3 52.0h0M229.8 53.2h0M170.8 61.9h0M203.5 43.6h0M224.0 86.0h0M251.3 84.7h0M249.9 60.0h0M277.7 43.8h0M255.4 96.1h0M248.3 55.9h0M205.0 48.3h0M244.0 86.8h0M225.5 96.4h0M227.8 86.6h0M272.8 48.3h0M241.3 42.7h0M233.3 81.6h0M206.1 49.5h0M185.0 65.0h0M182.8 75.6h0M227.3 45.1h0M270.0 59.1h0M192.7 82.3h0M221.0 73.3h0M214.3 81.6h0M219.1 54.3h0M174.6 53.5h0M265.8 47.4h0M260.1 89.4h0M170.9 60.0h0M264.3 51.9h0M189.0 88.7h0M217.5 52.4h0M238.7 52.8h0M277.7 86.9h0M276.2 75.1h0M250.0 78.0h0M269.1 88.0h0M262.0 49.8h0M221.8 43.3h0M253.4 56.7h0M216.2 73.1h0M214.0 97.0h0M247.8 72.5h0M246.2 52.3h0M181.5 91.8h0M216.5 48.8h0M202.1 83.6h0M230.0 81.0h0M236.1 66.5h0M228.3 89.7h0M192.6 75.6h0M264.4 88.7h0M239.2 76.1h0M180.0 58.7h0M268.3 39.7h0M220.6 85.9h0M208.4 85.9h0M237.3 62.2h0M172.1 69.8h0M182.6 46.7h0M221.4 52.3h0M268.6 47.6h0M264.9 40.6h0M270.8 83.4h0M245.7 90.0h0M171.5 58.2h0M240.2 92.3h0M259.8 48.8h0M246.3 86.9h0M261.8 83.4h0M187.4 92.2h0M260.0 94.4h0M218.0 63.5h0M173.9 91.1h0M248.1 94.6h0M233.9 63.6h0M174.0 49.1h0M258.1 41.0h0M243.5 50.9h0M199.4 94.7h0M243.9 76.1h0M253.6 51.6h0M262.7 68.8h0M227.6 49.3h0M236.7 69.0h0M248.9 51.1h0M229.0 95.9h0M236.0 69.2h0"/>
<path stroke="#c052c8" stroke-width="1.6" stroke-linecap="round" d="M206.1 63.4h0M217.1 74.2h0M270.5 92.1h0M194.8 53.8h0M180.0 51.8h0M196.3 85.2h0M198.6 45.6h0M274.8 81.1h0M250.6 84.1h0M199.4 70.1h0M273.6 94.6h0M260.8 88.7h0M231.2 44.0h0M176.8 81.9h0M266.4 97.0h0M243.0 78.1h0M267.1 81.5h0M220.0 51.6h0M194.6 52.5h0M245.1 92.5h0M172.4 89.8h0M206.7 43.8h0M176.0 79.1h0M242.1 74.7h0M273.6 86.7h0M219.7 40.5h0M239.0 89.6h0M209.3 40.0h0M237.5 96.7h0M262.0 84.3h0M212.7 46.9h0M275.5 51.0h0M266.6 56.6h0M226.6 55.1h0M258.0 84.2h0M234.3 89.8h0M176.2 47.2h0M260.7 96.9h0M187.2 72.5h0M235.3 47.5h0M225.2 55.2h0M211.6 43.7h0M235.6 58.2h0M267.7 97.0h0M269.4 54.3h0M255.6 43.2h0M258.4 68.4h0M226.9 93.2h0M182.7 81.4h0M205.7 84.3h0M170.4 95.4h0M187.8 42.5h0M173.3 68.2h0M173.4 74.9h0M244.2 87.9h0M196.5 48.7h0M268.8 93.1h0M175.7 61.0h0M208.6 51.5h0M227.8 42.9h0M257.2 54.9h0M196.5 62.4h0M170.6 71.7h0M247.2 94.5h0M194.3 51.2h0M183.2 93.8h0M265.1 62.2h0M188.5 81.7h0M179.2 86.1h0M221.5 46.3h0M184.9 47.4h0M239.5 86.0h0M223.1 41.3h0M243.6 86.4h0M268.4 88.0h0M176.3 83.9h0M276.4 56.4h0M263.5 95.7h0M236.6 43.4h0M231.5 43.5h0M178.8 63.8h0M249.8 89.0h0M217.7 42.9h0M259.3 75.0h0M260.6 73.5h0M216.7 88.5h0M230.4 63.3h0M173.3 86.4h0M186.8 40.6h0M196.7 75.2h0M250.7 55.9h0M263.8 78.9h0M207.4 94.9h0M182.4 42.0h0M196.3 45.5h0M209.3 93.6h0M260.1 96.4h0M270.9 75.7h0M205.1 61.6h0M196.8 76.8h0M209.7 64.8h0M229.1 69.6h0M229.8 78.9h0M217.5 90.9h0M201.8 72.9h0M219.1 50.0h0M226.6 49.6h0M234.8 75.8h0M236.2 56.8h0M244.4 52.1h0M233.3 96.0h0M210.3 64.7h0M247.7 50.4h0M276.0 68.3h0M172.1 73.9h0M236.5 84.9h0M250.1 74.6h0M229.3 78.3h0M180.0 78.7h0M216.3 95.8h0M246.9 49.5h0M277.6 44.8h0M170.8 96.2h0M218.5 76.6h0M187.8 60.3h0M263.9 46.3h0M221.0 71.7h0M234.8 58.4h0M234.7 55.4h0M263.6 42.4h0M195.2 65.0h0M235.0 55.3h0M221.2 85.7h0M195.7 96.2h0M206.3 54.4h0M262.8 55.0h0M217.4 62.9h0M226.5 71.4h0M189.2 68.3h0M176.0 57.9h0M274.5 77.2h0M233.8 92.3h0M196.0 61.2h0M182.0 93.1h0M191.8 68.1h0M196.2 50.5h0M244.3 52.8h0M233.3 83.1h0M206.1 97.3h0M198.6 84.0h0M186.1 79.0h0M237.2 65.4h0M245.9 88.1h0M230.6 56.1h0M216.9 86.8h0M218.9 84.1h0M213.2 46.9h0M253.4 40.1h0M225.3 48.2h0M234.5 64.6h0M216.0 85.0h0M202.3 94.5h0M249.8 48.7h0M172.9 92.1h0M209.8 40.4h0M241.6 42.3h0M177.5 53.2h0M252.8 53.2h0M256.4 74.6h0M226.7 74.1h0M238.7 72.3h0M214.5 88.4h0M265.0 96.7h0M253.4 79.6h0M196.9 45.6h0M196.9 75.1h0M202.9 80.0h0M204.5 57.8h0M216.4 76.3h0M252.9 86.5h0M274.9 65.6h0M240.4 57.8h0M215.2 71.9h0M267.4 95.9h0M200.3 40.8h0M177.6 56.9h0M242.8 87.3h0M211.0 68.4h0M197.8 43.1h0M233.3 80.9h0M271.1 81.5h0M229.6 74.3h0M243.3 42.4h0M220.5 51.6h0M237.9 89.1h0M197.7 66.9h0M226.8 82.3h0M267.4 74.9h0M261.2 53.8h0M243.8 50.0h0M213.3 45.1h0M208.3 80.9h0M275.2 90.5h0M260.8 92.5h0M209.4 58.7h0M215.7 67.7h0M238.3 48.2h0M195.5 75.4h0M196.4 70.6h0M248.1 68.3h0M254.7 69.0h0M210.5 41.3h0M178.2 93.8h0M277.9 71.2h0M239.3 65.3h0M174.2 95.3h0M228.8 94.1h0M243.6 45.8h0M236.0 63.3h0M222.9 64.4h0M176.1 53.7h0M188.1 67.2h0M235.9 82.1h0M251.5 41.2h0M199.4 71.9h0M262.9 69.0h0M178.7 77.8h0M236.5 68.0h0M236.4 87.7h0M174.6 77.0h0M197.3 94.7h0M219.4 93.3h0M220.4 82.9h0M203.4 43.7h0M250.4 49.8h0M174.4 63.6h0M260.3 88.4h0M188.8 58.2h0M174.0 49.0h0M262.2 95.8h0M231.2 44.6h0M240.1 87.8h0M224.3 96.2h0M218.2 76.5h0M173.3 74.5h0M273.6 72.0h0M252.0 49.4h0M209.3 82.2h0M204.7 42.9h0M251.4 88.0h0M177.0 56.0h0M173.3 74.7h0M228.6 43.8h0M235.6 54.6h0M192.2 74.1h0M256.3 70.4h0M189.3 45.2h0M211.9 93.0h0M175.8 46.1h0M202.3 40.2h0M211.2 84.5h0M274.5 44.3h0M239.9 41.1h0M178.6 44.7h0M271.7 92.6h0M180.0 84.6h0M254.5 76.4h0M216.7 56.4h0M207.9 47.8h0M210.3 74.4h0M219.6 40.5h0M177.7 47.7h0M228.1 52.0h0M268.5 52.5h0M178.0 66.1h0M190.3 50.0h0M245.0 89.9h0M234.8 75.3h0M179.3 43.0h0M179.5 90.4h0M186.0 95.5h0M172.1 65.6h0M195.2 93.1h0M215.3 46.3h0M197.3 68.5h0M234.6 92.2h0M244.8 82.5h0M269.1 74.1h0M229.4 70.6h0M202.5 50.7h0M203.8 81.0h0M170.4 51.8h0M212.9 79.0h0M182.2 79.6h0M180.1 75.3h0M236.2 68.9h0M276.8 90.1h0M257.8 78.3h0M195.2 87.0h0M194.6 67.8h0M248.0 73.6h0M269.7 45.0h0M201.6 75.2h0M201.8 57.4h0M237.7 82.4h0M188.8 54.7h0M264.2 84.5h0M207.1 68.1h0M176.8 44.5h0M219.7 85.3h0M180.0 57.9h0M239.7 94.8h0M269.2 47.0h0M209.5 88.7h0M236.3 92.6h0M230.5 52.7h0M208.5 40.1h0M183.8 55.2h0M176.3 84.3h0M218.7 71.2h0M193.0 50.8h0M260.3 65.0h0M206.6 51.1h0M189.7 87.9h0M204.0 69.1h0M173.1 59.2h0M277.3 81.0h0M208.5 96.2h0M228.9 67.8h0M192.6 95.1h0M271.1 56.9h0M228.3 67.9h0M204.8 42.4h0M170.4 95.7h0M210.8 71.9h0M251.0 44.3h0M228.9 49.7h0M265.3 47.2h0M273.5 60.3h0M203.9 86.9h0M272.0 43.6h0M266.4 84.8h0M206.0 65.0h0M180.3 81.5h0M220.1 94.8h0M265.4 50.9h0M201.7 68.5h0M277.0 92.3h0M275.3 82.1h0M180.0 63.3h0M196.4 44.4h0M206.5 94.5h0M244.3 75.1h0M224.7 63.4h0M176.2 53.1h0M204.2 58.9h0M248.8 60.2h0M181.2 58.1h0M181.2 44.0h0M265.2 84.3h0M211.2 96.0h0M238.3 77.6h0M181.0 61.1h0M248.9 74.3h0M173.3 60.5h0M210.6 55.8h0M233.7 79.9h0M201.6 52.8h0M179.6 46.5h0M276.8 84.9h0M250.1 51.6h0M183.3 94.6h0M240.1 95.4h0M261.1 58.1h0M271.1 91.7h0M252.3 85.2h0M215.7 72.8h0M231.8 41.2h0M264.0 80.7h0M271.1 64.7h0M193.6 77.7h0M201.1 62.9h0M249.7 97.0h0M227.3 82.4h0M226.2 79.0h0M186.9 77.7h0M245.7 71.5h0M261.4 58.2h0M260.6 68.2h0M210.9 62.0h0M262.7 53.6h0M208.7 84.0h0M177.8 66.9h0M219.7 71.8h0M213.5 69.7h0M264.9 95.5h0M209.9 82.8h0M272.8 68.7h0M231.4 64.5h0M197.8 95.3h0M218.7 95.5h0M210.3 44.5h0M218.8 67.4h0M243.4 69.5h0M223.4 63.4h0M234.0 42.5h0M197.1 73.4h0M252.1 95.4h0M233.1 55.0h0M220.2 58.4h0M240.0 73.9h0M217.7 61.1h0M229.9 55.2h0M194.5 44.0h0M268.3 89.1h0M188.0 65.3h0M229.9 96.4h0M228.7 73.9h0"/>
<path stroke="#cc3c86" stroke-width="0.8" stroke-linecap="round" d="M267.9 87.8h0M267.3 78.8h0M266.1 67.5h0M247.2 78.3h0M188.2 56.9h0M239.1 46.2h0M219.0 79.1h0M220.7 95.8h0M197.3 76.4h0M217.8 73.1h0M177.3 70.4h0M210.0 41.9h0M209.3 70.2h0M193.1 94.2h0M192.9 89.5h0M229.1 74.9h0M263.8 43.6h0M246.5 69.5h0M195.5 84.6h0M251.9 77.7h0M191.6 53.4h0M276.0 54.8h0M211.4 97.0h0M172.1 45.9h0M249.7 82.4h0M265.3 49.1h0M244.5 72.9h0M230.9 94.2h0M205.8 57.5h0M253.3 77.2h0M246.1 90.5h0M253.0 69.1h0M222.2 87.6h0M199.3 65.4h0M178.5 60.8h0M201.6 81.5h0M269.4 42.1h0M265.2 79.5h0M226.0 77.7h0M251.6 45.9h0M256.0 48.2h0M249.0 77.4h0M227.9 40.5h0M230.4 46.4h0M248.9 46.9h0M270.6 63.3h0M183.4 92.5h0M275.8 79.2h0M213.4 71.5h0M201.6 61.8h0M174.4 52.1h0M174.8 96.6h0M259.6 60.4h0M236.0 60.3h0M207.1 69.5h0M214.5 92.5h0M257.8 70.6h0M247.8 77.4h0M232.0 56.3h0M268.6 49.0h0M201.3 50.6h0M188.2 82.4h0M174.1 77.7h0M217.2 42.4h0M271.0 49.3h0M210.4 58.2h0M184.5 57.8h0M216.5 96.9h0"/>
<path stroke="#cc3c86" stroke-width="1.6" stroke-linecap="round" d="M250.4 64.1h0M224.6 76.2h0M225.1 55.8h0M200.4 72.4h0M239.2 77.1h0M212.3 64.4h0M192.5 83.2h0M265.1 43.5h0M194.3 47.2h0M207.5 50.1h0M228.0 70.7h0M236.6 84.6h0M246.2 87.5h0M273.5 56.4h0M207.2 47.3h0M271.0 45.8h0M272.6 65.1h0M173.4 53.3h0M203.0 67.1h0M189.9 69.6h0M232.0 82.5h0M202.9 63.8h0M216.6 47.4h0M248.8 89.1h0M182.4 66.2h0M210.5 94.3h0M245.2 88.1h0M262.7 83.6h0M267.1 88.5h0M224.0 57.2h0M211.4 71.5h0M216.0 68.8h0M226.0 40.1h0M174.3 74.0h0M231.7 70.5h0M203.5 91.8h0M172.2 74.5h0M229.5 68.9h0M231.2 92.4h0M250.6 66.6h0M202.6 96.3h0M177.9 69.8h0M234.7 56.1h0M265.8 71.3h0M217.0 94.2h0M227.8 60.7h0M241.7 45.2h0M204.3 55.4h0M239.4 60.5h0M199.8 70.9h0M261.3 54.5h0M231.3 90.2h0M263.3 93.2h0M213.9 95.7h0M227.4 84.6h0M210.9 40.2h0M258.9 82.2h0M269.5 45.9h0M227.2 50.6h0M171.3 92.1h0M247.5 39.8h0M198.6 77.3h0M240.2 59.9h0M209.5 87.6h0M189.4 71.3h0M236.1 43.2h0M241.6 66.8h0M193.7 48.5h0M235.3 82.9h0M240.7 64.6h0M215.9 61.6h0M184.3 79.0h0M277.2 54.3h0M215.9 92.2h0M277.7 45.0h0M247.8 80.7h0M250.8 42.2h0M263.4 63.3h0M245.1 68.7h0M222.4 46.7h0M251.3 49.2h0M260.1 40.5h0M208.0 60.7h0M215.5 91.1h0M247.5 79.9h0M261.1 40.8h0M213.6 92.8h0M194.4 43.4h0M229.6 66.7h0M176.8 60.5h0M271.3 89.9h0M205.7 61.0h0M268.1 94.7h0M243.4 46.5h0M265.8 50.1h0M203.5 84.5h0M251.3 40.0h0M220.0 94.0h0M190.5 76.5h0M248.2 69.0h0M206.0 94.5h0M256.5 70.9h0"/>
<path stroke="#ecdcf4" stroke-width="0.8" stroke-linecap="round" d="M220.8 94.7h0M272.6 58.1h0M230.6 71.5h0M261.5 50.2h0M226.8 63.1h0M268.1 96.9h0M231.7 44.5h0M205.6 44.7h0M209.7 63.6h0M184.4 94.7h0M195.3 65.7h0M222.5 49.9h0M270.7 76.0h0M258.0 70.7h0M244.6 60.9h0M218.9 86.9h0M174.5 87.5h0M226.1 50.0h0M195.1 75.3h0M265.4 68.9h0M174.3 44.6h0M189.1 56.8h0M261.8 60.5h0M254.7 50.1h0M174.6 67.7h0M231.2 57.2h0M224.3 68.5h0M246.8 91.2h0M273.7 86.5h0M256.3 50.9h0M261.0 64.9h0M250.4 47.5h0M269.4 50.7h0M198.9 85.6h0M230.7 79.2h0M192.5 78.5h0M196.6 84.7h0M214.8 46.3h0M189.1 60.6h0M218.2 68.7h0M198.5 45.8h0M186.8 49.9h0M250.0 77.4h0M204.1 55.7h0M231.5 47.4h0M237.7 55.9h0M189.1 45.4h0M262.5 70.7h0M208.6 76.2h0M259.8 40.0h0M232.1 50.6h0M229.0 47.3h0M173.2 79.1h0M239.0 41.0h0M259.6 88.6h0M270.2 86.7h0M265.5 40.5h0M192.7 51.8h0M175.1 95.5h0M243.7 60.0h0M230.6 68.4h0M230.7 65.8h0M256.3 76.0h0M276.6 66.5h0M187.8 60.5h0M198.1 97.3h0M239.7 81.3h0M253.4 89.4h0M231.1 77.5h0M175.1 50.2h0M238.8 89.2h0M188.3 64.0h0M198.1 68.0h0M181.6 49.7h0M226.3 49.9h0M231.0 95.4h0M237.8 44.8h0M199.4 55.8h0M244.6 77.6h0M195.0 97.1h0M245.3 53.9h0M247.6 69.1h0M217.2 41.1h0M254.4 46.1h0M207.0 95.6h0M215.0 70.5h0M230.8 43.7h0M204.9 97.3h0M202.4 58.7h0M187.6 58.0h0M208.2 53.0h0M255.0 56.9h0M261.5 95.7h0M177.7 88.0h0M172.1 56.3h0M221.4 49.9h0M193.1 50.1h0M276.5 80.6h0M172.4 52.1h0M273.5 46.4h0M242.9 41.4h0M204.0 61.3h0M228.7 75.9h0M237.2 48.3h0M253.6 77.2h0M275.4 87.6h0M209.0 40.4h0M177.1 42.2h0M277.1 65.4h0M172.3 49.0h0M207.8 55.2h0M277.8 96.3h0M245.3 49.2h0M224.1 57.9h0M193.9 86.1h0M237.9 44.1h0M257.0 95.1h0M242.0 83.5h0M184.9 51.5h0M244.9 60.4h0M187.9 76.6h0M217.4 73.8h0M190.8 85.0h0M189.3 80.0h0M260.8 91.1h0M246.3 77.2h0M223.6 61.0h0M199.0 92.5h0M214.1 88.0h0M190.0 77.8h0M213.3 71.9h0M247.7 62.3h0M189.3 75.9h0M254.9 42.2h0M187.5 89.9h0M208.6 45.4h0M192.6 96.3h0M172.8 40.2h0M219.2 71.6h0M260.4 47.5h0M219.6 66.9h0M195.9 50.5h0M228.8 54.6h0M182.1 43.7h0M217.4 65.8h0M276.2 40.4h0M174.9 56.4h0M219.2 80.4h0M245.8 43.6h0M199.7 67.5h0M181.8 47.1h0M176.1 77.1h0M234.1 51.1h0M223.5 56.1h0M198.5 57.4h0M196.3 93.0h0M248.7 68.0h0M208.4 69.1h0M225.7 41.1h0M182.6 67.4h0"/>
<path stroke="#8040c8" stroke-width="0.8" stroke-linecap="round" d="M183.0 61.6h0M237.0 87.1h0M259.7 42.3h0M263.0 57.3h0M214.9 43.2h0M220.9 96.2h0M246.6 53.8h0M222.4 55.0h0M232.4 46.9h0M188.9 80.1h0M235.4 65.4h0M273.0 79.8h0M276.4 46.8h0M261.9 41.3h0M172.9 78.3h0M193.6 71.7h0M245.0 71.9h0M260.0 70.3h0M197.7 96.6h0M242.5 57.5h0M247.2 74.3h0M255.8 90.0h0M258.2 88.4h0M266.9 45.1h0M274.0 94.3h0M249.2 52.9h0M265.2 80.9h0M177.9 83.3h0M270.0 86.0h0M268.2 51.1h0M228.4 58.3h0M192.5 60.1h0M204.8 57.2h0M180.7 63.2h0M177.1 86.6h0M196.7 88.3h0M204.5 69.5h0M213.7 90.9h0M254.9 83.1h0M179.5 88.7h0M222.5 84.0h0M203.6 60.7h0M179.9 76.6h0M209.8 39.8h0M233.7 44.9h0M222.9 60.0h0M197.6 87.6h0M217.6 43.2h0M174.2 92.2h0M197.4 74.8h0M250.2 71.1h0M214.6 73.3h0M251.0 88.3h0M200.6 88.2h0M276.6 50.9h0M273.6 83.4h0M212.9 71.4h0M224.1 78.5h0M185.6 52.0h0M206.2 56.8h0M209.6 55.8h0M202.8 68.7h0M207.5 92.7h0M189.4 71.5h0M275.1 87.6h0M255.4 93.5h0M188.5 54.9h0M206.6 47.8h0M175.0 82.4h0M275.1 80.4h0M195.2 92.7h0M181.3 78.5h0M200.1 57.8h0M196.1 70.5h0M195.5 75.9h0M192.9 43.3h0M219.8 60.9h0"/>
<path stroke="#8040c8" stroke-width="1.6" stroke-linecap="round" d="M268.3 90.1h0M218.1 56.7h0M257.7 82.8h0M190.2 88.1h0M228.9 65.3h0M221.1 94.4h0M209.8 70.8h0M267.3 89.1h0M209.8 58.0h0M241.8 75.6h0M242.5 40.1h0M244.9 81.9h0M194.5 93.3h0M190.4 52.3h0M266.4 59.9h0M277.7 68.6h0M263.5 93.5h0M241.4 40.4h0M236.0 96.2h0M208.9 50.1h0M263.3 70.6h0M193.9 48.2h0M203.0 67.0h0M199.4 52.9h0M271.2 53.3h0M229.6 53.9h0M257.0 67.5h0M240.9 82.6h0M274.7 46.2h0M172.9 46.6h0M184.1 48.5h0M257.7 85.2h0M229.4 82.9h0M178.5 66.3h0M204.9 73.3h0M203.1 62.5h0M270.3 42.6h0M230.2 92.7h0M240.2 41.0h0M240.1 58.7h0M276.1 72.1h0M231.0 54.3h0M211.2 41.1h0M214.9 51.6h0M178.0 94.1h0M201.1 71.4h0M212.1 86.5h0M269.6 84.0h0M187.7 80.4h0M257.8 42.2h0M170.4 78.1h0M244.1 78.1h0M248.8 71.3h0M187.0 66.9h0M177.6 72.2h0M179.6 82.1h0M266.0 95.6h0M234.6 67.1h0M235.0 59.2h0M229.1 64.8h0M246.6 88.0h0M183.2 44.6h0M178.5 67.1h0M217.6 90.2h0M201.4 81.8h0M193.6 53.6h0M232.7 85.7h0M241.2 54.0h0M266.3 39.9h0M240.0 53.1h0M202.7 84.5h0M179.4 91.1h0M267.1 77.0h0M253.3 49.5h0M188.8 86.6h0M232.0 78.2h0M226.3 65.2h0M227.2 53.4h0M201.4 45.6h0M231.2 59.5h0M191.1 56.8h0M176.8 68.1h0M201.5 49.4h0M173.4 40.2h0M210.9 54.6h0M214.9 74.9h0M246.8 93.6h0M250.2 68.7h0M215.1 66.9h0M270.2 84.2h0M216.6 82.2h0M219.5 80.3h0M229.6 52.1h0M193.8 51.5h0M242.7 82.8h0M211.4 96.6h0M264.5 87.3h0M268.4 86.7h0M257.0 49.7h0M255.2 87.7h0M214.6 79.9h0M237.8 59.8h0M190.4 75.0h0M194.2 82.7h0M231.9 70.1h0M171.8 70.8h0M265.8 95.9h0M187.5 89.3h0M175.8 42.5h0M223.2 75.8h0M234.1 45.2h0M240.1 96.5h0M187.0 73.4h0M260.3 41.5h0M222.6 84.3h0M256.0 84.9h0M239.0 71.0h0M234.3 65.4h0M252.4 77.1h0M224.4 68.4h0M263.9 96.1h0M234.9 62.0h0M238.8 79.7h0M209.5 68.3h0M276.4 69.6h0M274.5 41.4h0M182.2 68.5h0M178.7 73.1h0M207.7 70.9h0M186.6 54.4h0M238.8 71.0h0M260.3 83.4h0M269.8 44.3h0M261.9 57.6h0M172.5 48.4h0M238.7 85.5h0M258.5 50.4h0M175.2 66.7h0M172.8 51.4h0M274.7 59.6h0M249.7 41.6h0M192.3 55.8h0M271.0 54.6h0M178.4 61.1h0M269.1 66.7h0M178.1 91.9h0M222.2 56.3h0M197.2 71.1h0M171.9 46.3h0M218.4 69.3h0M197.7 50.6h0M251.1 82.0h0M235.6 54.4h0M239.1 86.2h0M232.5 80.8h0M252.1 55.4h0M190.5 71.0h0M244.2 79.4h0M235.1 48.6h0M200.4 40.0h0M275.2 66.7h0M237.3 41.9h0M276.7 77.5h0M267.7 78.4h0M261.6 73.4h0M227.3 58.2h0M183.9 96.9h0M217.6 74.9h0M235.7 42.9h0M181.5 90.2h0M231.4 43.3h0M255.1 51.9h0M180.0 78.3h0M176.7 75.1h0M189.4 92.2h0M172.0 44.5h0M190.9 89.4h0M179.1 86.9h0M184.4 39.9h0M219.9 68.4h0M178.9 39.9h0M216.0 81.5h0M234.2 82.5h0M193.0 69.4h0M274.8 53.1h0M201.4 60.5h0M277.4 61.9h0M259.5 53.6h0M174.7 60.1h0M209.1 58.9h0M195.0 83.5h0M262.4 42.0h0M255.2 85.6h0M181.7 78.8h0M210.7 76.2h0M276.9 90.9h0M215.6 70.0h0M178.7 60.9h0M210.7 90.5h0M225.6 92.7h0M171.2 73.8h0M265.2 72.3h0M234.5 91.6h0M229.4 65.5h0M274.6 77.1h0M221.0 51.9h0M194.0 52.7h0M183.1 54.3h0M181.1 88.6h0M193.0 84.4h0M271.2 68.3h0M263.1 76.2h0M263.1 56.5h0M254.7 88.9h0M276.0 51.8h0M225.6 72.2h0M220.5 84.8h0M217.1 78.8h0M197.6 60.2h0M199.0 69.3h0M195.3 87.7h0M229.4 88.5h0M230.9 84.0h0M201.8 74.3h0M242.2 85.7h0M253.5 46.9h0M242.1 76.5h0M175.4 70.8h0M207.7 84.5h0M193.7 95.3h0M258.8 64.1h0M273.2 43.1h0M233.8 95.6h0M198.4 47.7h0M188.0 60.0h0M189.9 51.5h0M224.5 92.2h0M251.9 63.7h0M269.1 50.9h0M221.3 66.9h0M244.6 48.3h0M258.9 63.5h0M193.0 57.1h0M208.3 43.2h0M219.8 88.1h0M199.9 48.0h0M244.0 71.6h0M184.0 55.4h0M189.2 97.0h0M188.4 39.9h0M174.8 78.4h0M185.8 86.2h0M171.3 46.5h0M176.4 50.7h0M174.2 96.0h0M221.1 64.8h0M260.1 63.4h0M273.2 55.7h0M273.2 57.3h0M212.8 77.6h0M274.7 62.6h0M254.0 57.8h0M249.1 84.5h0M206.7 73.4h0M221.1 72.4h0M226.0 51.6h0M192.4 65.6h0M200.7 44.3h0M246.1 59.9h0M186.9 57.2h0M224.6 83.0h0M276.2 75.7h0M221.1 70.6h0M178.6 41.4h0M209.0 81.6h0M200.4 50.0h0M233.0 65.2h0M191.0 93.3h0M203.7 58.0h0M207.4 61.9h0M172.0 60.7h0M236.0 59.0h0M216.3 48.4h0M192.5 80.4h0M188.5 83.4h0M226.1 96.3h0M264.5 62.9h0M222.5 80.7h0M247.6 83.6h0M240.5 85.6h0M274.8 77.2h0M235.1 57.8h0M254.9 89.3h0M241.2 70.8h0M186.5 41.6h0M237.6 51.0h0M254.1 80.8h0M186.1 60.0h0M192.2 49.5h0M193.0 45.6h0M213.6 43.8h0M220.7 47.6h0M191.2 49.3h0M179.2 83.8h0M260.0 64.3h0M208.1 77.4h0M246.2 65.0h0M234.7 55.3h0M213.4 64.5h0M277.8 43.2h0M244.1 93.4h0M229.2 65.5h0M205.8 49.9h0M255.7 96.2h0M235.3 51.5h0M187.7 89.4h0M210.7 58.4h0M217.2 44.2h0M215.6 46.5h0M192.8 50.7h0M197.0 59.0h0M270.4 73.8h0M259.7 93.3h0M172.9 86.2h0M246.9 81.7h0M192.5 93.5h0M171.1 75.4h0M268.0 41.3h0M183.1 92.6h0M186.6 67.0h0M237.0 67.6h0M224.9 48.0h0M201.7 40.4h0M241.7 82.7h0M268.8 78.8h0M255.8 55.5h0M192.4 76.2h0M233.7 81.6h0M184.1 75.2h0M229.3 87.6h0M252.4 74.3h0M230.9 69.6h0M204.9 60.7h0"/>
<path d="M212,81 C226,72 244,61 266,47" stroke="#c690e0" stroke-width="2.6" fill="none" opacity="0.35"/>
<path d="M232,70 C240,65 250,58 258,53" stroke="#e8d8f4" stroke-width="0.7" fill="none" opacity="0.35" stroke-dasharray="1.5,1.2"/>
<path d="M218.5,98 C230,88 244,76 256,67.5 C259.5,65.2 264.5,66 265.8,69.5 C266.8,72.5 265.2,75.5 262.5,77.5 C253,84.5 245,91 238.5,98 Z" fill="#dc4ca8"/>
<path d="M227,98 C237,89.5 249,80 259,72.5 C261.5,71 263.5,72.5 262,74.8 C253,82 245,89 234.5,98 Z" fill="#d03a82" opacity="0.85"/>
<path d="M216,96.5 C228,86 242,74.5 255,66" stroke="#f0e0f6" stroke-width="0.7" fill="none" opacity="0.45" stroke-dasharray="2,1.5"/>
<clipPath id="vclip"><path d="M218.5,98 C230,88 244,76 256,67.5 C259.5,65.2 264.5,66 265.8,69.5 C266.8,72.5 265.2,75.5 262.5,77.5 C253,84.5 245,91 238.5,98 Z"/></clipPath><g clip-path="url(#vclip)">
<path stroke="#c02c70" stroke-width="1" stroke-linecap="round" opacity="0.8" d="M231.1 71.1h0M223.0 83.4h0M238.9 91.5h0M252.8 95.7h0M261.7 68.6h0M249.6 95.6h0M222.0 69.6h0M219.0 70.9h0M263.4 94.0h0M224.9 65.1h0M223.1 93.6h0M233.5 83.8h0M235.3 78.9h0M248.5 96.0h0M221.1 78.9h0M252.3 91.0h0M248.1 74.3h0M219.3 72.6h0M244.9 94.5h0M246.2 84.7h0M236.4 89.8h0M264.6 80.7h0M248.9 82.5h0M230.2 94.9h0M221.6 78.9h0M262.4 83.9h0M236.7 71.9h0M235.9 89.7h0M250.7 85.5h0M263.6 77.2h0M231.7 85.5h0M262.6 88.3h0M259.2 92.3h0M219.1 86.1h0M229.8 87.5h0M255.8 91.6h0M227.2 77.3h0M225.6 92.3h0M251.8 83.4h0M244.3 89.3h0M239.8 70.9h0M263.8 90.5h0M241.8 83.6h0M227.9 72.7h0M220.6 86.9h0M257.0 73.7h0M227.3 79.3h0M231.6 90.0h0M229.9 73.6h0M237.4 93.4h0M252.2 68.8h0M224.7 66.7h0M250.1 86.6h0M226.0 74.3h0M258.9 66.6h0M253.1 92.3h0M249.4 75.5h0M253.5 95.4h0M244.8 85.5h0M246.8 95.7h0M264.7 86.9h0M241.4 69.1h0M241.4 79.0h0M250.6 81.0h0M229.6 71.6h0M254.0 83.8h0M254.9 71.4h0M239.4 68.8h0M226.3 76.5h0M231.2 96.5h0M223.1 81.9h0M222.5 94.2h0M223.0 93.3h0M233.2 76.8h0M222.7 85.7h0M221.5 87.0h0M243.6 74.1h0M249.2 88.4h0M221.1 95.1h0M260.0 91.3h0M262.3 76.3h0M224.2 79.2h0M262.0 87.4h0M223.2 89.8h0M256.8 80.2h0M249.1 93.8h0M238.3 91.0h0M245.4 90.9h0M258.7 69.9h0M227.1 84.4h0M234.7 74.8h0M218.0 79.6h0M265.9 78.5h0M228.3 77.3h0M246.8 65.9h0M226.2 82.3h0M235.5 87.9h0M224.2 67.1h0M261.8 89.8h0M248.9 84.9h0M227.2 69.9h0M239.4 87.6h0M240.2 81.5h0M221.8 96.3h0M229.5 77.8h0M256.6 96.2h0M235.7 79.9h0M258.3 81.1h0M223.7 72.2h0M234.2 65.1h0M221.0 94.5h0M258.0 92.3h0M232.6 76.5h0M263.0 66.7h0M238.8 77.0h0M253.7 87.6h0M265.7 96.9h0M247.1 95.3h0M246.7 71.8h0M242.4 73.9h0M261.6 91.4h0M222.9 86.4h0M248.9 90.4h0M225.0 84.2h0M223.2 79.1h0M235.3 76.7h0M237.6 82.0h0M223.3 82.4h0M221.6 88.1h0M219.7 81.0h0M218.2 90.8h0M263.2 89.6h0M239.9 80.3h0M254.3 67.5h0M235.1 80.9h0M226.3 80.1h0M234.8 69.6h0M246.3 79.4h0M224.0 82.6h0M228.8 83.8h0M233.3 88.7h0M246.7 65.1h0M234.1 90.0h0M234.2 90.4h0M259.4 95.5h0M254.1 79.1h0M241.0 67.8h0M232.1 73.6h0M256.3 90.9h0M248.3 90.2h0M238.7 86.1h0M235.1 65.5h0M243.1 94.0h0M241.9 94.8h0M236.6 73.4h0M225.6 79.2h0M232.9 68.6h0M233.0 96.5h0M255.5 78.9h0M229.3 81.4h0"/>
<path stroke="#f080c8" stroke-width="0.9" stroke-linecap="round" opacity="0.8" d="M234.0 85.4h0M231.5 85.5h0M254.8 74.2h0M228.6 83.7h0M245.5 94.1h0M257.0 80.2h0M241.7 91.0h0M245.6 69.0h0M236.3 68.8h0M250.2 90.7h0M248.5 66.8h0M237.4 65.6h0M250.8 89.8h0M227.6 88.6h0M220.4 69.8h0M262.5 72.1h0M249.1 95.8h0M254.8 80.0h0M238.6 78.3h0M225.4 90.9h0M243.0 90.2h0M241.0 72.8h0M230.4 68.9h0M252.5 81.5h0M236.5 97.2h0M235.5 76.7h0M228.7 74.2h0M229.9 81.9h0M238.1 80.5h0M258.1 76.6h0M247.1 81.9h0M263.5 84.7h0M262.7 76.9h0M227.3 71.9h0M257.3 68.8h0M231.9 93.0h0M221.0 88.2h0M236.9 72.4h0M263.4 93.4h0M228.2 69.4h0M244.6 67.4h0M263.4 75.8h0M233.2 66.8h0M241.4 83.5h0M224.1 88.1h0M242.6 92.1h0M262.1 93.7h0M239.1 76.5h0M248.6 78.4h0M239.8 73.2h0M225.1 68.4h0M248.4 95.1h0M265.1 73.8h0M227.8 67.8h0M223.0 92.1h0M234.6 77.2h0M227.4 88.1h0M227.2 96.5h0M219.1 95.6h0M237.7 79.6h0M242.1 72.8h0M262.0 82.1h0M244.1 93.8h0M249.7 92.7h0M223.7 74.9h0M228.2 81.9h0M230.6 94.6h0M228.0 77.8h0M237.4 75.5h0M252.0 81.3h0M256.2 76.6h0M258.1 92.5h0M237.3 95.9h0M262.5 72.4h0M244.4 93.7h0M229.0 93.6h0M232.6 92.1h0M236.1 96.2h0M260.1 77.5h0M218.6 85.4h0M245.2 74.8h0M262.0 78.8h0M243.4 72.4h0M253.1 82.7h0M225.0 96.0h0M231.3 69.5h0M252.7 78.9h0M256.7 79.0h0M244.6 88.7h0M260.0 70.4h0"/>
<path stroke="#b03080" stroke-width="1.4" stroke-linecap="round" opacity="0.8" d="M223.4 80.9h0M225.4 91.2h0M234.4 76.8h0M222.1 74.0h0M235.4 73.8h0M228.1 74.3h0M252.8 69.0h0M242.2 86.4h0M219.0 92.0h0M254.4 73.1h0M220.8 67.4h0M260.0 66.4h0M247.2 84.3h0M249.6 79.8h0M239.6 80.3h0M254.3 68.3h0M230.9 81.3h0M238.0 85.2h0M236.8 96.9h0M228.3 95.4h0M218.8 91.8h0M222.9 74.5h0M238.4 95.0h0M224.4 81.8h0M256.0 81.1h0M252.7 98.0h0M256.5 73.3h0M233.6 83.1h0M254.0 97.4h0M258.7 90.8h0M247.3 88.5h0M259.8 91.4h0M226.2 72.5h0M237.5 96.8h0M233.1 91.8h0M232.1 88.4h0M259.9 97.6h0M245.4 84.7h0M226.1 93.1h0M228.2 69.2h0M259.3 82.2h0M240.2 71.3h0M262.3 87.7h0M259.5 77.9h0M241.1 81.9h0M222.4 65.6h0M246.5 76.8h0M258.4 90.2h0M250.1 84.0h0M229.6 84.2h0M250.0 73.5h0M240.3 67.3h0M250.3 79.3h0M228.5 88.4h0M256.3 72.2h0M218.3 84.3h0M263.7 67.9h0M256.5 85.0h0M251.8 65.4h0M237.0 66.4h0"/>
</g>
<path d="M170.2,39.7 L207,39.7 C203,45 199.5,50 196,53.3 C193.5,55.8 192,56.8 190,58.2 C186,61.5 183,65.5 180,68.6 C176.5,72 173.5,75 170.2,77.6 Z" fill="#e454c8"/>
<path d="M207,39.7 L210.2,39.7 C206,45.5 202,51 198.2,54.8 C195.5,57.3 194,58.5 192,59.8 C188,63 185,67 182,70.4 C178,74.5 174,78 170.2,80.8 L170.2,77.6 C173.5,75 176.5,72 180,68.6 C183,65.5 186,61.5 190,58.2 C192,56.8 193.5,55.8 196,53.3 C199.5,50 203,45 207,39.7 Z" fill="#f8f4fa"/>
</g>
<text x="174.0" y="49.4" font-size="8.1" stroke="#000" stroke-width="0.3" textLength="30.4" lengthAdjust="spacingAndGlyphs">100 µm</text>
<line x1="174" y1="52.8" x2="204.5" y2="52.8" stroke="#000" stroke-width="1.15" />
<clipPath id="clip12"><rect x="170.2" y="104.4" width="107.7" height="61.6"/></clipPath>
<g clip-path="url(#clip12)">
<rect x="170.2" y="104.4" width="107.7" height="61.6" fill="#a070cc"/>
<path stroke="#7a48c0" stroke-width="2" stroke-linecap="round" opacity="0.3" d="M213.8 156.3h0M207.0 119.3h0M277.7 135.4h0M249.4 139.1h0"/>
<path stroke="#7a48c0" stroke-width="3" stroke-linecap="round" opacity="0.3" d="M185.6 105.1h0M185.8 131.5h0M178.2 146.7h0M182.3 130.5h0M203.9 142.7h0M245.2 107.6h0M234.4 133.8h0M275.3 145.3h0M182.5 118.9h0M212.0 152.0h0M174.2 121.4h0M188.2 161.3h0M221.6 143.0h0M272.2 159.5h0M201.6 158.2h0M246.1 117.6h0M232.7 125.8h0M255.2 127.8h0M205.1 146.6h0M207.0 119.1h0M271.8 104.9h0M235.5 156.3h0M207.9 149.5h0M224.0 126.6h0M214.6 142.5h0M214.0 127.8h0M213.2 154.1h0M264.3 155.0h0M249.3 123.2h0M263.4 155.7h0M265.0 105.9h0M171.6 114.9h0M247.3 122.7h0M260.6 112.4h0M181.8 109.6h0M171.1 119.8h0M215.8 137.9h0M270.7 126.7h0M276.8 134.3h0M237.5 137.4h0"/>
<path stroke="#7a48c0" stroke-width="4" stroke-linecap="round" opacity="0.3" d="M221.3 144.9h0M199.7 154.3h0M235.0 138.8h0M176.7 160.8h0M258.1 129.1h0M209.3 146.9h0M225.3 154.3h0M173.2 155.1h0M226.1 118.1h0M229.4 115.4h0M238.8 107.6h0M192.7 121.8h0M239.1 118.5h0M271.9 136.1h0M197.7 146.5h0M184.4 159.0h0M273.8 151.2h0M266.9 160.5h0M244.4 137.8h0M183.6 137.3h0M212.7 119.5h0M180.0 123.6h0M209.6 106.2h0M218.0 115.4h0M200.3 116.8h0M193.9 161.0h0M245.4 114.4h0M212.8 145.9h0M274.9 138.5h0M184.8 118.3h0M201.0 162.1h0M204.8 112.2h0M235.6 110.7h0M228.0 132.0h0M240.4 153.7h0M238.6 133.2h0M212.0 130.0h0M223.1 157.1h0M273.2 146.4h0M196.2 109.8h0M269.7 141.4h0M171.6 118.5h0M195.0 128.1h0M250.4 119.9h0"/>
<path stroke="#7a48c0" stroke-width="5" stroke-linecap="round" opacity="0.3" d="M267.8 108.0h0M180.0 165.2h0M173.5 149.1h0M273.5 134.0h0M190.6 150.5h0M170.9 120.9h0M174.5 142.5h0M204.9 152.9h0M196.2 131.2h0M230.5 142.9h0M233.6 159.9h0M246.7 160.1h0M208.2 123.6h0M252.0 145.0h0M219.7 157.1h0M194.7 137.5h0M197.3 107.2h0M212.1 158.2h0M261.0 141.9h0M192.3 120.1h0M226.5 107.7h0M190.0 123.6h0M247.2 121.6h0M213.9 141.8h0M244.0 142.3h0M273.6 150.4h0M173.2 118.4h0M221.4 117.1h0M272.8 165.2h0M248.9 155.3h0M206.8 127.9h0M183.9 137.7h0"/>
<path stroke="#7848c0" stroke-width="0.8" stroke-linecap="round" d="M232.4 127.7h0M208.4 165.8h0M224.3 132.7h0M213.3 117.0h0M178.1 145.8h0M242.8 115.0h0M200.6 156.2h0M219.6 162.1h0M251.1 119.1h0M236.6 148.4h0M215.5 123.8h0M214.8 107.6h0M182.8 123.3h0M183.3 155.6h0M268.2 161.8h0M181.9 142.4h0M217.2 105.7h0M208.9 129.0h0M260.9 159.6h0M228.8 156.6h0M209.3 122.1h0M185.4 141.5h0M274.3 137.2h0M200.9 150.9h0M208.8 110.2h0M204.1 162.1h0M246.3 117.0h0M273.6 108.5h0M277.7 152.4h0M268.4 123.9h0M221.9 117.0h0M177.5 110.2h0M266.7 161.8h0M243.2 140.8h0M221.0 132.0h0M191.9 129.7h0M243.9 136.2h0M185.7 137.8h0M205.1 140.6h0M195.3 149.4h0M266.0 114.2h0M223.6 160.4h0M199.8 138.2h0M262.8 120.5h0M264.8 145.6h0M174.7 155.6h0M171.1 149.6h0M202.4 117.2h0M269.4 156.1h0M179.6 115.2h0M255.7 160.8h0M206.2 163.5h0M198.5 148.8h0M250.2 158.5h0M268.6 165.9h0M197.9 151.7h0M170.6 109.6h0M263.2 160.8h0M180.2 159.1h0M259.2 123.6h0M204.2 128.6h0M247.1 115.1h0M276.7 104.8h0M208.5 123.5h0M181.8 130.5h0M249.7 118.4h0M185.7 153.2h0M237.3 110.0h0M251.0 126.1h0M185.0 115.4h0M216.2 115.9h0M218.1 111.4h0M188.0 130.4h0M178.0 157.4h0M205.7 148.8h0M178.0 113.4h0M265.2 130.7h0M234.5 129.7h0M189.4 146.4h0M269.8 165.0h0M263.5 137.4h0M176.9 159.9h0M211.6 142.7h0M218.3 153.6h0M192.6 134.5h0M237.7 137.7h0M210.7 111.9h0M176.3 118.0h0M205.9 104.5h0M225.6 144.3h0M221.5 146.8h0M189.4 154.6h0M181.4 132.4h0M243.4 111.6h0M184.8 155.7h0M185.4 147.0h0M239.8 124.3h0M266.7 148.5h0M266.5 120.7h0M263.4 120.2h0M191.5 150.1h0M257.2 149.9h0M258.4 154.7h0M205.2 132.8h0M226.5 133.0h0M239.9 131.9h0M254.5 127.0h0M274.5 142.6h0M179.9 139.7h0M267.0 148.5h0M214.0 109.7h0M230.3 158.8h0M273.9 120.2h0M260.6 127.7h0M218.1 142.1h0M184.6 135.0h0M239.0 118.3h0M194.6 138.8h0M254.5 163.2h0M252.2 160.1h0M192.5 104.9h0M172.7 165.4h0M216.0 139.5h0M206.7 135.7h0M241.5 106.3h0M240.4 132.5h0M219.7 161.6h0M171.5 138.8h0M180.5 135.7h0M256.4 135.3h0M250.1 159.0h0M241.5 139.0h0M199.9 125.7h0M255.7 108.3h0M277.1 164.7h0M250.3 124.8h0M218.8 156.9h0M267.2 150.4h0M182.1 108.9h0M194.7 153.1h0M175.4 154.4h0M193.8 119.4h0M247.0 152.9h0M263.0 111.5h0M225.6 120.0h0M223.1 152.6h0M195.3 164.6h0M204.8 125.4h0M184.1 141.8h0M263.1 131.8h0M212.6 113.0h0M277.7 147.3h0M239.7 111.2h0M206.2 154.6h0M237.2 116.7h0M259.6 123.4h0M188.7 128.3h0M184.2 113.3h0M250.1 131.8h0M241.5 104.5h0M277.5 138.1h0M203.6 121.1h0M203.2 136.0h0M171.1 110.4h0M271.2 136.8h0M249.2 161.7h0M175.8 154.1h0M183.8 107.4h0M206.1 105.8h0M214.2 120.2h0M239.9 121.5h0M246.2 136.2h0M248.1 149.9h0M244.9 127.5h0M268.0 120.8h0M203.3 111.3h0M226.7 149.9h0M267.7 148.5h0M238.0 146.3h0M210.8 159.2h0M236.0 107.3h0M232.4 134.2h0M230.2 112.4h0M231.0 143.9h0M212.5 111.4h0M277.1 145.6h0M226.8 114.0h0M245.6 148.9h0M232.7 105.0h0M236.9 104.9h0M208.2 158.0h0M192.3 146.3h0M236.8 115.5h0M201.1 155.8h0M241.9 107.0h0M177.9 116.5h0M196.8 162.1h0M242.0 148.9h0M200.5 131.3h0M212.9 138.6h0M197.7 138.5h0M193.8 144.3h0M174.1 119.3h0M178.7 162.7h0M269.1 107.9h0M271.7 143.5h0M194.0 108.3h0M263.1 157.7h0M194.0 157.6h0M213.8 159.1h0M208.3 116.7h0M248.8 160.1h0M256.9 119.1h0M250.5 146.8h0M180.9 126.6h0M230.6 136.8h0M271.1 160.7h0M199.6 163.4h0M246.8 134.2h0M238.3 154.0h0M239.4 130.2h0M259.4 128.8h0M189.8 154.8h0M185.7 139.1h0M253.7 158.9h0M198.2 155.6h0M182.6 135.4h0M238.4 129.3h0M251.1 159.3h0M193.1 135.2h0M273.8 131.3h0M191.7 117.8h0M235.7 158.6h0M229.4 163.4h0M215.0 154.6h0M181.0 118.8h0M262.3 120.0h0M181.9 153.7h0M272.6 125.0h0M189.8 150.7h0M261.0 162.8h0M277.8 136.3h0M254.1 124.1h0M274.2 124.7h0M274.8 156.0h0M201.2 132.1h0M269.6 165.3h0M201.1 165.0h0M277.2 130.4h0M276.8 139.6h0M230.4 112.4h0M264.8 150.9h0M270.9 117.9h0M176.4 134.5h0M241.7 164.1h0M192.7 157.2h0M209.0 128.4h0M248.2 134.3h0M200.2 127.8h0M170.6 146.8h0M224.0 154.2h0M260.7 109.9h0M269.9 151.9h0M235.3 143.4h0M247.8 144.3h0M267.0 127.0h0M255.2 118.4h0M183.7 166.0h0M261.7 132.2h0M231.1 108.8h0M183.2 115.3h0M188.6 161.0h0M265.5 138.3h0M248.3 120.4h0M228.2 131.9h0M254.4 145.6h0M173.6 149.3h0M181.2 127.6h0M242.5 120.3h0M184.9 127.5h0M224.5 158.2h0M177.1 155.9h0M227.7 136.0h0M177.3 126.4h0M228.5 112.5h0M247.7 136.5h0M235.8 125.2h0M237.7 159.7h0M190.0 110.1h0M276.1 139.4h0M214.3 115.4h0M201.3 122.7h0M201.5 148.2h0M224.3 114.1h0M175.7 144.9h0M263.2 119.1h0M245.1 119.9h0M193.0 145.3h0M206.9 122.2h0M184.1 125.6h0M192.0 158.5h0M212.0 111.2h0M233.7 143.0h0M234.9 114.2h0M230.7 118.4h0M181.8 111.3h0M268.3 159.7h0M227.2 107.8h0M258.6 132.0h0M190.4 152.4h0M173.2 117.4h0M219.0 113.4h0M174.7 148.1h0M218.6 149.6h0M241.5 121.1h0M194.6 117.4h0M218.4 128.0h0M234.7 131.9h0M179.4 143.3h0M237.9 111.3h0M204.4 157.1h0M265.5 124.2h0M189.5 162.1h0M258.6 159.1h0M210.0 141.6h0M195.5 142.1h0M180.1 163.4h0M202.8 109.1h0M239.0 124.1h0M270.0 162.0h0M201.8 145.6h0M187.8 106.0h0M270.7 149.5h0M216.6 158.2h0M199.1 161.9h0M205.5 154.0h0M250.4 161.6h0M244.3 155.3h0M238.4 123.0h0M178.7 138.1h0M216.0 144.1h0M244.8 117.1h0M171.0 144.3h0M268.9 132.1h0M227.0 134.5h0M213.3 121.2h0M222.5 117.0h0M217.0 129.3h0M269.6 159.4h0M247.1 165.1h0M225.0 158.4h0M176.2 136.5h0M177.2 123.2h0M267.3 159.4h0M259.7 114.6h0M181.5 117.7h0M238.3 134.8h0M173.6 150.7h0M266.0 120.5h0M237.6 132.1h0M277.6 154.2h0M241.6 149.9h0M182.3 137.8h0M216.7 144.9h0M247.0 115.2h0M246.3 160.8h0M272.7 117.8h0M204.8 114.7h0M210.8 125.0h0M237.1 146.4h0M182.0 149.8h0M197.6 150.2h0M182.1 142.4h0M174.8 129.7h0M217.2 123.3h0M200.0 162.6h0M214.7 129.2h0M244.5 122.3h0M205.9 136.2h0M254.2 149.4h0M272.6 138.5h0M236.6 151.1h0M243.8 127.7h0M270.5 132.4h0M206.7 105.2h0M258.7 163.7h0M184.7 121.2h0M276.4 124.1h0M229.7 120.2h0M205.4 142.8h0M262.6 127.4h0M206.6 108.6h0M236.7 106.0h0M197.4 152.8h0M195.9 165.3h0M205.2 123.3h0M219.8 144.4h0M217.1 165.1h0M209.1 122.3h0M221.1 106.9h0M255.9 144.0h0M256.6 157.9h0M230.7 157.9h0M268.5 156.6h0M182.2 137.5h0M171.2 160.6h0M230.9 137.0h0M225.0 148.9h0M256.0 142.6h0M202.7 137.9h0M234.4 126.7h0M271.4 127.4h0M263.7 107.2h0M261.8 153.5h0M236.0 155.9h0M242.4 109.6h0M275.0 138.7h0M179.3 127.3h0M275.0 123.1h0M178.7 131.2h0M258.9 129.3h0M230.7 117.0h0M235.6 116.8h0M261.6 131.3h0M193.6 120.6h0M264.5 110.0h0M173.5 122.4h0M268.4 131.6h0M205.8 143.3h0M177.2 113.7h0M198.7 126.9h0M262.1 118.2h0M198.2 155.0h0M243.0 116.7h0M182.8 163.9h0M272.6 161.2h0M255.3 115.3h0M216.0 164.8h0M198.7 147.8h0M267.2 121.2h0M192.6 157.4h0M266.6 128.9h0M193.7 138.3h0M201.4 141.8h0M267.3 121.1h0M230.6 136.0h0M269.6 152.5h0M193.6 114.8h0M195.8 139.6h0M217.2 161.9h0M211.2 130.6h0M273.9 119.2h0M264.9 150.5h0M252.5 147.3h0M172.8 154.6h0M172.4 157.9h0M271.2 136.2h0M196.5 121.3h0M256.5 165.3h0M266.3 126.5h0M181.2 126.7h0M187.4 142.9h0M246.0 151.3h0M196.6 144.3h0M272.7 165.0h0M185.1 112.6h0M237.9 157.3h0M261.6 133.8h0M224.2 161.5h0M217.2 118.6h0M181.3 121.3h0M197.3 109.4h0M172.2 114.4h0M240.7 149.2h0M185.9 153.6h0M229.1 155.0h0M190.6 156.9h0M200.9 128.1h0M230.8 130.2h0M190.1 149.9h0M205.9 143.1h0M251.8 134.9h0M190.8 108.4h0M262.4 131.3h0M225.1 104.4h0M228.2 160.6h0"/>
<path stroke="#7848c0" stroke-width="1.6" stroke-linecap="round" d="M181.2 149.8h0M188.8 138.2h0M209.7 126.0h0M202.2 124.9h0M213.0 136.2h0M197.1 154.3h0M191.3 143.7h0M233.7 133.9h0M220.3 126.5h0M248.4 135.3h0M203.2 105.9h0M255.3 128.4h0M267.4 113.7h0M223.0 141.4h0M185.9 118.4h0M209.7 116.0h0M252.6 138.4h0M198.3 137.3h0M260.4 156.1h0M269.3 136.6h0M267.2 105.9h0M227.0 142.7h0M193.9 129.5h0M250.6 136.7h0M243.1 157.9h0M183.5 107.0h0M259.2 157.4h0M194.3 129.2h0M200.6 139.5h0M251.1 155.2h0M188.4 105.7h0M214.9 124.4h0M228.2 137.0h0M267.6 122.8h0M204.5 161.8h0M216.6 154.9h0M273.5 158.7h0M242.7 133.2h0M246.3 165.1h0M237.4 124.6h0M212.4 116.7h0M268.6 144.4h0M271.3 141.9h0M230.1 113.6h0M187.8 121.1h0M191.7 131.2h0M189.9 108.2h0M178.8 120.8h0M241.1 114.8h0M276.3 129.4h0M199.7 147.3h0M194.8 161.9h0M245.2 144.7h0M218.2 146.8h0M248.6 107.3h0M177.3 112.5h0M176.6 112.7h0M247.6 165.0h0M276.2 146.6h0M179.7 117.4h0M221.2 107.6h0M252.9 147.9h0M276.1 146.0h0M176.7 159.4h0M254.0 140.1h0M222.1 157.0h0M229.2 129.3h0M233.4 162.3h0M222.1 136.8h0M237.0 114.9h0M276.3 135.0h0M270.1 110.8h0M255.2 120.2h0M230.8 132.3h0M219.4 144.9h0M170.8 143.8h0M185.8 116.5h0M189.1 108.1h0M181.4 145.6h0M200.3 138.8h0M192.6 119.5h0M254.0 157.2h0M232.0 131.1h0M259.7 135.0h0M222.4 111.7h0M224.2 142.3h0M179.5 164.2h0M186.2 105.0h0M266.1 131.9h0M251.4 115.2h0M237.3 156.6h0M230.9 153.7h0M261.4 128.9h0M255.7 130.2h0M202.6 148.6h0M255.4 150.4h0M233.0 112.0h0M182.1 140.1h0M199.1 134.0h0M243.4 156.9h0M186.2 158.7h0M237.1 105.0h0M251.0 135.5h0M182.9 132.6h0M210.4 150.2h0M247.6 129.9h0M266.5 142.2h0M225.4 112.4h0M181.7 141.2h0M230.6 114.2h0M216.5 137.8h0M270.1 158.1h0M214.0 155.2h0M207.0 106.3h0M225.7 146.5h0M241.7 110.7h0M264.1 154.1h0M260.2 146.5h0M248.9 128.0h0M226.8 154.3h0M257.8 128.6h0M276.6 159.7h0M209.4 125.3h0M259.1 140.8h0M226.9 118.2h0M187.2 124.6h0M232.6 112.6h0M172.5 129.8h0M232.8 144.6h0M234.8 133.0h0M230.1 114.8h0M212.2 135.1h0M260.0 165.8h0M227.5 130.9h0M237.0 105.0h0M242.2 126.5h0M202.3 109.8h0M230.2 134.9h0M178.8 125.5h0M266.8 112.1h0M172.8 114.9h0M176.0 123.3h0M209.5 129.3h0M274.7 138.6h0M225.6 145.7h0M185.9 116.3h0M181.3 161.8h0M193.3 137.0h0M244.7 115.8h0M257.3 148.0h0M230.7 126.0h0M225.7 155.2h0M236.6 156.3h0M232.5 130.1h0M189.6 135.9h0M229.3 112.8h0M210.5 122.9h0M225.1 144.3h0M182.5 152.9h0M259.7 163.8h0M223.3 126.7h0M251.6 144.2h0M211.6 151.4h0M219.0 115.9h0M190.2 161.6h0M227.8 126.2h0M277.0 151.5h0M194.0 131.7h0M257.6 107.7h0M269.8 124.4h0M236.2 143.8h0M186.6 121.3h0M215.4 106.4h0M174.8 123.2h0M206.1 120.3h0M238.0 160.5h0M177.8 154.9h0M275.7 161.2h0M247.2 131.4h0M192.7 139.5h0M257.6 154.5h0M248.7 157.8h0M175.5 153.5h0M276.2 116.0h0M197.3 130.4h0M236.7 108.6h0M203.4 125.1h0M179.8 117.2h0M206.9 126.7h0M270.9 163.4h0M261.5 127.6h0M261.6 116.1h0M272.3 150.2h0M189.6 127.3h0M187.5 126.9h0M176.4 137.0h0M237.7 131.6h0M205.5 108.7h0M230.5 131.2h0M233.5 118.7h0M180.9 153.6h0M212.5 127.2h0M211.1 158.1h0M180.0 156.8h0M232.1 137.2h0M208.8 105.7h0M220.6 125.3h0M267.8 131.5h0M271.3 112.6h0M192.2 124.4h0M178.5 160.8h0M270.0 156.5h0M213.5 110.3h0M195.0 148.0h0M199.0 146.2h0M242.0 114.4h0M181.3 110.9h0M267.4 146.9h0M262.3 145.6h0M220.3 159.3h0M211.2 115.1h0M219.5 157.8h0M265.4 123.5h0M260.0 111.5h0M187.5 138.3h0M170.4 114.0h0M177.2 157.5h0M206.8 110.9h0M191.0 107.5h0M191.8 119.1h0M198.5 133.6h0M197.9 108.5h0M254.4 141.2h0M202.6 117.3h0M261.1 108.4h0M277.3 153.7h0M259.0 161.4h0M204.9 124.9h0M257.6 128.9h0M196.8 135.5h0M201.8 146.3h0M199.8 106.0h0M208.6 148.0h0M259.8 158.8h0M267.8 141.9h0M239.1 124.2h0M248.8 148.5h0M181.0 126.3h0M263.6 116.4h0M209.9 127.5h0M233.3 138.6h0M232.5 123.8h0M239.8 157.3h0M269.4 141.2h0M181.6 165.1h0M197.4 146.6h0M177.3 116.4h0M262.3 142.2h0M201.5 116.2h0M190.2 122.3h0M241.8 152.8h0M185.8 165.9h0M254.9 139.5h0M244.3 162.0h0M223.2 158.9h0M256.8 150.6h0M273.0 144.2h0M258.0 139.5h0M218.6 156.8h0M194.5 106.4h0M208.7 143.7h0M196.7 125.1h0M238.2 139.3h0M211.8 129.0h0M187.1 153.9h0M206.9 155.5h0M188.5 116.5h0M275.2 158.4h0M206.3 124.5h0M252.1 117.0h0M273.3 107.4h0M214.3 129.6h0M216.4 147.2h0M262.9 150.6h0M183.2 113.5h0M250.7 163.2h0M248.8 139.3h0M267.8 129.1h0M243.7 164.3h0M200.4 137.1h0M254.8 119.6h0M227.5 154.6h0M196.6 110.5h0M273.8 148.7h0M233.0 156.4h0M205.5 165.0h0M230.3 118.5h0M270.0 163.9h0M196.9 164.9h0M256.4 113.5h0M267.2 146.3h0M231.2 125.5h0M248.2 147.6h0M257.7 131.8h0M224.6 162.9h0M258.2 115.0h0M248.2 142.9h0M188.2 140.5h0M185.5 119.8h0M250.8 145.2h0M259.6 111.1h0M189.2 154.1h0M223.3 149.7h0M247.1 129.1h0M230.6 133.8h0M246.3 162.5h0M210.7 141.1h0M251.4 141.9h0M177.6 164.4h0M212.0 162.4h0M252.8 150.2h0M220.7 165.0h0M182.3 157.8h0M180.5 146.2h0M171.2 123.6h0M202.3 146.9h0M199.1 108.7h0M249.9 104.9h0M179.2 161.8h0M214.6 149.4h0M229.1 120.4h0M237.5 152.7h0M267.1 116.0h0M228.3 109.3h0M267.1 130.4h0M258.2 130.6h0M185.4 165.9h0M277.8 145.1h0M250.8 115.2h0M270.0 162.7h0M192.4 162.3h0M207.0 107.8h0M218.3 165.3h0M213.7 128.6h0M273.3 116.7h0M195.9 158.6h0M256.1 151.8h0M222.8 114.1h0M262.4 149.3h0M171.2 131.4h0M227.7 121.1h0M252.0 130.3h0M172.9 152.5h0M190.7 109.6h0M223.1 151.6h0M232.6 108.3h0M170.6 120.7h0M174.2 107.9h0M192.1 156.6h0M223.2 116.1h0M194.8 154.2h0M185.7 157.7h0M249.6 154.2h0M215.1 127.3h0M220.5 127.8h0M221.5 147.2h0M272.1 149.1h0M252.0 106.1h0M181.1 131.6h0M242.6 147.5h0M205.0 107.8h0M188.4 107.8h0M188.2 107.3h0M185.7 121.9h0M229.9 119.2h0M257.7 152.8h0M257.5 112.8h0M183.1 161.5h0M220.3 148.0h0M253.6 153.4h0M228.2 154.7h0M200.5 150.1h0M222.9 137.9h0M250.1 153.6h0M205.4 121.5h0M208.2 105.5h0M247.7 133.6h0M229.4 129.8h0M268.5 165.1h0M188.5 161.9h0M274.5 111.7h0M205.5 106.3h0M234.1 145.3h0M196.1 144.0h0M262.8 123.5h0M192.6 143.4h0M202.1 152.5h0M229.4 153.9h0M210.9 125.0h0M231.9 115.9h0M266.5 160.5h0M275.8 125.1h0M211.5 113.6h0M178.7 141.2h0M220.8 115.9h0M172.3 143.6h0M276.4 146.1h0M208.6 127.1h0M238.7 133.0h0M193.9 121.1h0M267.4 155.8h0M275.6 118.7h0M193.9 156.4h0M178.5 122.3h0"/>
<path stroke="#f2eaf6" stroke-width="0.8" stroke-linecap="round" d="M262.9 135.0h0M199.8 162.1h0M185.5 158.6h0M239.7 150.3h0M182.2 127.8h0M244.9 160.9h0M231.9 110.5h0M224.7 157.6h0M176.6 135.6h0M271.1 149.7h0M264.1 130.4h0M195.1 147.0h0M196.0 134.6h0M190.3 119.7h0M184.4 121.3h0M195.9 129.3h0M229.1 128.3h0M267.2 118.8h0M244.1 118.0h0M232.4 139.0h0M244.7 135.6h0M178.2 130.2h0M234.6 149.4h0M247.5 144.1h0M249.4 139.8h0M211.7 163.8h0M277.8 116.0h0M247.0 125.5h0M213.2 162.2h0M228.2 120.1h0M203.6 107.0h0M274.0 133.7h0M173.3 126.4h0M253.1 155.8h0M229.8 160.3h0M217.6 159.9h0M192.2 112.3h0M193.8 127.9h0M186.8 112.1h0M181.1 148.4h0M259.4 139.9h0M233.6 151.0h0M171.1 129.4h0M170.4 160.9h0M192.2 134.6h0M260.8 155.2h0M228.7 136.7h0M186.7 140.9h0M205.8 157.7h0M215.0 127.1h0M234.4 106.5h0M181.2 144.1h0M264.5 163.9h0M268.2 152.6h0M228.3 107.8h0M211.9 148.6h0M256.9 156.4h0M204.3 134.4h0M173.1 136.4h0M220.7 105.8h0M277.2 162.6h0M268.5 105.8h0M250.5 127.3h0M174.3 156.1h0M200.1 116.0h0M233.7 141.4h0M211.8 123.3h0M224.9 123.4h0M207.1 107.3h0M231.9 126.0h0M258.5 151.0h0M204.1 135.0h0M252.3 148.1h0M172.6 126.2h0M268.6 134.8h0M213.0 115.3h0M170.3 115.0h0M240.2 154.5h0M238.3 141.5h0M238.5 163.9h0M248.1 122.4h0M211.1 157.5h0M204.3 109.9h0M172.2 153.0h0M214.6 131.4h0M269.8 108.3h0M251.6 153.8h0M268.5 163.7h0M227.2 128.9h0M248.1 109.5h0M214.7 159.0h0M204.0 125.7h0M263.9 155.0h0M270.7 133.8h0M263.7 136.2h0M226.5 108.8h0M244.6 161.0h0M222.7 111.8h0M251.1 139.6h0M194.2 131.2h0M268.9 113.7h0M171.6 157.5h0M259.5 142.4h0M244.8 136.4h0M200.4 132.0h0M218.7 131.2h0M244.6 112.0h0M270.6 161.0h0M277.3 136.1h0M241.1 114.2h0M248.1 161.9h0M187.6 128.9h0M271.6 138.0h0M275.9 152.9h0M248.1 122.1h0M222.1 119.0h0M174.4 105.5h0M252.6 123.7h0M217.9 109.9h0M257.3 152.8h0M178.3 129.2h0M201.9 104.4h0M245.4 117.9h0M261.1 137.6h0M192.7 148.3h0M216.4 132.0h0M196.7 107.3h0M268.1 115.7h0M203.7 120.4h0M212.8 133.6h0M195.0 134.2h0M204.8 139.3h0M254.3 151.9h0M268.0 114.4h0M184.2 113.0h0M268.4 155.1h0M251.8 158.0h0M274.1 109.9h0M220.2 143.3h0M257.5 126.6h0M210.2 115.9h0M246.0 150.4h0M211.0 116.0h0M209.9 160.6h0M187.0 152.6h0M179.2 131.0h0M270.0 150.3h0M230.6 104.7h0M185.0 107.9h0M208.0 119.4h0M272.9 118.8h0M258.7 117.2h0M203.7 106.0h0M202.6 141.5h0M269.3 140.0h0M215.5 140.6h0M187.7 125.2h0M230.1 142.3h0M225.8 158.0h0M212.3 134.0h0M248.3 156.3h0M262.1 141.6h0M225.5 145.7h0M184.0 165.2h0M178.0 148.8h0M243.4 115.4h0M262.8 155.2h0M181.1 105.3h0M276.1 132.5h0M253.7 143.8h0M174.6 130.0h0M273.8 142.3h0M198.8 127.4h0M237.4 144.0h0M237.6 148.6h0M257.1 138.1h0M201.6 163.7h0M270.8 123.8h0M222.2 161.6h0M199.6 160.8h0M243.0 155.6h0M264.5 156.8h0M174.8 164.2h0M205.8 152.4h0M256.8 147.7h0M226.7 160.2h0M269.6 131.1h0M197.8 114.5h0M179.1 140.8h0M170.7 116.7h0M271.2 132.1h0M202.6 138.5h0M248.8 132.4h0M199.5 158.8h0M188.5 120.8h0M196.0 124.0h0M274.8 132.0h0M250.5 165.6h0M240.5 107.6h0M174.5 151.2h0M171.0 116.5h0M233.1 105.1h0M204.5 143.6h0M228.0 130.8h0M209.6 144.7h0M254.7 118.6h0M249.4 109.3h0M271.9 109.7h0M245.7 118.2h0M181.3 163.0h0M275.1 126.3h0M267.3 145.6h0M225.3 116.4h0M225.4 115.5h0M235.8 129.4h0M192.4 121.2h0M262.5 104.7h0M258.8 121.8h0M192.5 138.4h0M173.1 157.8h0M198.3 129.5h0M265.7 156.3h0M182.0 110.6h0M252.2 142.5h0M214.9 164.7h0M256.7 132.4h0M266.9 134.5h0M243.9 128.4h0M243.8 114.5h0M252.8 121.0h0M253.1 139.8h0M260.5 111.5h0M277.2 123.0h0M276.0 162.4h0M192.3 111.3h0M195.5 159.8h0M205.9 113.1h0M275.0 156.6h0M276.3 149.8h0M209.0 155.4h0M205.4 151.4h0M208.3 117.1h0M206.5 157.7h0M270.3 132.2h0M277.5 123.7h0M172.5 165.2h0M250.0 104.6h0M274.2 150.9h0M269.8 144.5h0M202.5 129.7h0M261.0 130.4h0M236.7 125.1h0M240.8 145.1h0M217.0 124.3h0M172.0 159.8h0M174.1 141.3h0M243.8 124.2h0M275.7 132.0h0M185.9 165.0h0M271.4 143.7h0M172.3 151.8h0M249.1 111.5h0M186.6 143.0h0M225.7 126.6h0M177.2 118.2h0M185.0 164.4h0M192.2 159.9h0M235.9 109.8h0M256.4 152.9h0M247.6 152.4h0M180.5 108.3h0M203.1 122.2h0M186.1 124.3h0M213.5 133.1h0M185.3 120.1h0M261.0 135.3h0M174.9 104.7h0M183.3 113.1h0M269.9 142.7h0M276.7 143.5h0M207.5 162.1h0M225.8 152.0h0M195.8 164.3h0M184.0 142.7h0M219.8 152.0h0M206.7 151.9h0M208.5 122.3h0M188.0 136.0h0M248.8 159.8h0M211.6 125.3h0M226.0 122.3h0M199.3 162.7h0M188.8 158.8h0M241.7 115.6h0M217.1 135.3h0M233.4 147.6h0M230.5 109.3h0M269.0 155.5h0M190.0 160.5h0M190.2 146.7h0M250.9 163.8h0M223.2 127.4h0M264.3 163.8h0M242.7 144.9h0M198.8 126.2h0M222.5 142.6h0M185.7 159.3h0M199.8 133.0h0M225.4 110.7h0M275.1 149.9h0M208.8 158.4h0M204.1 146.9h0M241.4 115.4h0M179.1 122.0h0M211.6 123.2h0M197.8 134.6h0M208.8 128.6h0M250.9 136.4h0M277.8 123.9h0M241.9 141.4h0M210.2 106.9h0M277.7 121.2h0M221.3 131.7h0M250.2 133.4h0M213.2 135.9h0M256.2 147.3h0M219.7 137.5h0M198.2 160.9h0M190.3 140.9h0M217.3 117.5h0M184.3 157.2h0M232.9 139.9h0M202.5 148.4h0M262.0 116.6h0M262.4 163.5h0M264.1 140.0h0M209.2 122.6h0M246.4 136.2h0M200.7 135.7h0M257.0 123.4h0M216.4 139.3h0M183.2 109.4h0M230.7 124.1h0M244.5 165.2h0M239.3 108.3h0M224.7 149.7h0M176.1 134.8h0M171.0 142.3h0M232.5 124.0h0M174.5 139.4h0M184.0 117.2h0M215.0 142.3h0M253.3 151.7h0M251.8 107.5h0M251.7 161.4h0M255.1 124.6h0M202.7 124.9h0M224.3 134.8h0M270.4 128.9h0M215.4 121.9h0M179.8 113.0h0M245.0 118.8h0M182.3 130.4h0M256.1 152.4h0M214.6 127.0h0M207.3 151.9h0M176.2 141.3h0M251.6 106.3h0M199.7 126.9h0M181.3 155.2h0M219.0 111.4h0M217.7 109.7h0M215.2 158.6h0M210.6 149.6h0M257.5 143.7h0M205.9 144.2h0M271.8 133.1h0M212.8 140.3h0M221.9 117.5h0M218.4 123.3h0M242.1 152.7h0M196.8 155.3h0M251.2 112.4h0M224.6 140.4h0M196.8 138.8h0M174.1 136.2h0M239.0 160.1h0M274.6 127.0h0M255.2 162.5h0M232.8 127.5h0M194.4 153.2h0M274.3 111.8h0M222.0 146.0h0M245.9 142.5h0M229.3 129.0h0M216.9 155.3h0M260.6 148.7h0M231.4 117.0h0M246.7 134.8h0M211.5 104.5h0M176.0 119.2h0M231.7 137.5h0M205.9 143.7h0M271.5 123.3h0M220.9 107.4h0M228.8 111.6h0M186.6 116.0h0M215.7 154.9h0M265.9 130.0h0M202.9 152.5h0M205.1 162.6h0M252.7 159.0h0M229.8 117.6h0M242.8 162.8h0M186.7 141.9h0M248.9 151.0h0M227.6 120.5h0M199.2 121.1h0M208.1 136.9h0M266.3 151.3h0M180.0 117.8h0M219.9 108.8h0M247.3 164.4h0M215.6 163.3h0M235.9 109.9h0M237.5 142.8h0M209.8 143.2h0M236.6 139.7h0M180.8 135.3h0M254.3 151.8h0M231.7 151.2h0M262.3 154.9h0M277.0 126.2h0M246.6 118.2h0M262.5 114.8h0M247.3 160.6h0M175.1 126.5h0M179.2 157.6h0M226.0 147.5h0M182.5 108.2h0M183.0 147.2h0M269.3 149.1h0M259.3 121.0h0M224.0 144.2h0M268.9 137.1h0M247.3 135.0h0M238.8 142.4h0M274.1 134.7h0M258.8 146.3h0M225.3 146.2h0M255.4 135.7h0M184.1 106.3h0M189.0 164.3h0M225.5 113.4h0M245.5 129.9h0M236.9 108.4h0M261.1 161.0h0M181.3 131.0h0M206.5 129.3h0M232.6 146.9h0M199.1 122.1h0M190.1 124.0h0M220.0 133.5h0M187.2 162.1h0M199.6 116.9h0M195.8 136.8h0M265.6 129.2h0M181.6 119.4h0M213.1 138.6h0M184.8 152.4h0M262.8 150.6h0M242.5 144.2h0M267.0 148.9h0M250.2 126.7h0M230.9 165.7h0M188.1 120.8h0M229.9 161.5h0M277.3 152.7h0M184.2 155.2h0M192.8 131.2h0M212.9 151.5h0M247.8 121.3h0M210.4 106.4h0M205.4 116.0h0M262.1 119.3h0M247.7 104.5h0M269.6 117.0h0M212.3 161.3h0M189.4 137.4h0M277.0 155.7h0M215.2 145.5h0M256.4 138.4h0M254.2 149.4h0M267.2 124.7h0M199.1 109.6h0M241.8 120.6h0M253.5 135.8h0M185.5 116.4h0M202.6 112.5h0M237.2 165.3h0M185.7 114.7h0M230.0 160.7h0M230.8 131.7h0M235.6 139.2h0M273.5 130.9h0M198.5 140.0h0M251.0 106.0h0M248.7 158.6h0M191.2 115.7h0M251.1 155.9h0M231.2 149.1h0M276.9 134.3h0M248.1 122.6h0M232.4 139.8h0M202.2 118.6h0M275.8 119.4h0M245.2 117.6h0M267.9 113.2h0M230.0 145.8h0M220.7 126.7h0M193.1 144.1h0M207.1 112.5h0M265.5 157.0h0M265.0 115.7h0M241.8 115.3h0M227.7 142.9h0M239.9 118.0h0M210.5 142.4h0M192.7 161.2h0M186.3 111.2h0M228.3 135.3h0M198.1 142.8h0M208.5 132.7h0M171.8 143.3h0M230.7 125.0h0M233.5 128.2h0M202.7 114.9h0M207.5 119.4h0M241.2 148.1h0M271.5 153.5h0M256.6 165.1h0M259.3 159.7h0M195.3 117.5h0M231.1 130.6h0M270.3 142.0h0M264.7 155.5h0M274.6 116.6h0M199.4 141.1h0M276.9 132.6h0M206.5 141.5h0M222.0 159.0h0M186.6 125.9h0M254.1 117.7h0M246.9 152.1h0M202.0 153.1h0M170.3 135.3h0M259.3 136.4h0M268.6 157.1h0M271.7 141.1h0M199.6 146.0h0M244.1 104.5h0M212.5 155.7h0M174.5 156.0h0M260.2 126.4h0M191.4 161.7h0M174.7 117.2h0M201.9 158.8h0M204.1 106.4h0M182.7 151.4h0M222.5 152.7h0M219.7 152.9h0M271.1 156.5h0M258.6 129.0h0M211.7 114.7h0M250.8 153.7h0M174.7 115.3h0M195.9 117.7h0M234.1 108.9h0M172.2 140.8h0M228.2 114.7h0M197.4 138.0h0M252.8 126.5h0M194.1 116.1h0M274.5 134.6h0M264.4 114.6h0M265.5 137.6h0M222.7 123.7h0M178.2 151.2h0M204.5 124.0h0M207.8 122.3h0M178.2 109.9h0M199.2 128.1h0M246.9 150.6h0M221.8 109.4h0M198.3 165.4h0M220.7 115.4h0M229.6 107.9h0M188.9 138.9h0M188.7 165.6h0M185.5 145.6h0M231.2 128.9h0M230.3 117.7h0M184.5 157.0h0M203.4 104.8h0M214.7 133.3h0M268.0 109.0h0M244.1 160.6h0M248.9 110.9h0M208.3 150.2h0M246.7 139.9h0M217.8 138.7h0M237.6 106.7h0M211.6 128.3h0M176.2 112.6h0M244.2 136.8h0M226.5 126.7h0M192.8 155.4h0M253.4 161.4h0M225.6 146.5h0M208.3 123.3h0M255.5 124.6h0M186.8 160.5h0M208.6 107.9h0M228.4 152.9h0M247.9 128.1h0M236.5 134.6h0M210.7 123.8h0M175.1 116.0h0M191.1 128.6h0M235.0 138.7h0M273.8 144.2h0M204.8 120.8h0M260.1 125.7h0M233.5 112.3h0M240.0 114.5h0M197.0 159.5h0M236.3 114.3h0M174.2 116.5h0M210.9 158.2h0M232.4 122.9h0M225.7 120.3h0M216.6 162.3h0M174.0 111.4h0M206.7 132.2h0M233.6 133.5h0M234.7 122.8h0M230.1 141.6h0M171.1 163.0h0M274.0 142.7h0M264.2 150.3h0M204.6 160.7h0M188.4 105.5h0M211.6 121.2h0M218.4 145.0h0M253.5 134.3h0M178.4 116.3h0M257.9 105.7h0M226.1 151.4h0M206.4 149.2h0M245.9 119.4h0M238.9 113.3h0M207.8 104.7h0M172.6 123.0h0M246.1 114.9h0M219.6 126.4h0M229.7 165.4h0M187.0 151.3h0M266.5 162.8h0M202.7 158.9h0M277.7 128.5h0M218.6 154.1h0M240.4 109.3h0M197.0 151.7h0M215.8 142.6h0M182.3 126.3h0M183.2 140.1h0M175.2 139.9h0M265.5 160.7h0M218.4 122.3h0M213.5 118.3h0M275.4 135.2h0M224.4 110.2h0M244.1 154.2h0M276.8 159.1h0M205.4 140.2h0M182.0 140.3h0M181.2 157.1h0M196.1 143.7h0M252.2 119.9h0M226.7 158.0h0M186.3 158.5h0M198.1 107.0h0M226.3 133.8h0M227.6 159.1h0M180.6 158.7h0M179.4 131.0h0M262.9 106.9h0M244.2 141.6h0M217.4 165.5h0M220.5 107.9h0M229.4 162.4h0M226.0 146.8h0M257.1 123.6h0M188.2 108.2h0M177.6 156.2h0M259.7 125.1h0M210.1 138.6h0M221.1 131.3h0M170.8 105.2h0M248.8 142.4h0M186.3 127.5h0M204.0 113.2h0M258.9 134.1h0M231.9 131.8h0M268.5 150.0h0M251.8 138.7h0M186.6 146.9h0M266.5 139.4h0M219.0 164.2h0M189.6 127.9h0M227.0 110.4h0M216.1 158.5h0M241.4 105.4h0M183.5 165.4h0M235.7 135.7h0M267.3 114.1h0M267.2 151.7h0M195.9 147.7h0M172.6 105.6h0M261.1 163.2h0M261.8 152.9h0M182.7 105.5h0M255.5 121.4h0M246.8 164.6h0M223.0 152.3h0M200.6 109.0h0M184.8 152.6h0M257.9 151.5h0M193.3 154.8h0M180.3 123.8h0M271.9 162.3h0M175.4 163.0h0M184.1 164.3h0M173.6 151.8h0M232.6 108.5h0M277.7 129.7h0M182.9 145.3h0M178.0 125.1h0M213.8 158.0h0M188.9 165.2h0M224.4 156.2h0M232.6 122.4h0M195.8 116.6h0M264.2 130.9h0M274.9 161.1h0M194.4 117.1h0M230.4 132.3h0M261.8 108.0h0M204.4 143.2h0M271.4 151.3h0M204.1 155.7h0M200.3 121.1h0M185.5 163.7h0M224.1 150.3h0M275.5 125.9h0M244.7 114.6h0M207.2 124.9h0M240.6 114.6h0M178.9 133.1h0M257.3 135.9h0M273.5 160.4h0M233.8 142.8h0M220.5 123.6h0M247.6 147.7h0M253.1 130.7h0M249.4 112.5h0M217.6 153.5h0M188.6 161.0h0M221.2 128.2h0M238.1 111.2h0M210.1 139.8h0M248.3 151.1h0M240.0 107.1h0M268.9 116.1h0M202.7 124.5h0M196.2 142.2h0M254.1 129.6h0M268.2 134.3h0M259.8 154.8h0M244.9 161.3h0M173.4 112.8h0M232.0 147.0h0M190.2 150.4h0M214.3 137.1h0M227.2 139.9h0M267.1 134.3h0M275.6 143.4h0M200.8 119.3h0M270.8 119.7h0M273.3 139.7h0M257.6 127.2h0M204.4 111.5h0M191.9 154.3h0M243.9 121.2h0M255.3 115.8h0M271.9 124.9h0M272.6 164.4h0M246.5 112.8h0M242.4 141.4h0M265.3 114.0h0M231.0 148.7h0M246.9 115.8h0M214.3 127.4h0M187.4 114.4h0M198.6 114.6h0M186.3 108.0h0M180.2 122.2h0M254.7 165.3h0M212.8 154.7h0M223.7 164.1h0M212.0 139.5h0M227.0 152.7h0M214.5 126.9h0M173.6 128.6h0M273.4 147.4h0M214.4 126.2h0M213.2 107.6h0M255.0 139.2h0M234.4 160.1h0M231.1 124.6h0M246.8 161.9h0M245.4 120.0h0M220.5 132.9h0M239.2 143.8h0M172.1 140.1h0M175.0 117.6h0M197.8 123.6h0M225.3 164.7h0M178.4 122.5h0M202.7 114.4h0M177.8 124.6h0M206.8 110.9h0M246.1 147.3h0M221.2 140.5h0M209.4 108.1h0M257.6 155.6h0M220.1 161.6h0M239.0 127.2h0M204.6 138.5h0M268.4 134.2h0M251.1 122.5h0M196.5 132.0h0M272.9 134.3h0M242.2 152.1h0M187.5 115.7h0M199.0 157.9h0M227.3 165.9h0M188.7 122.7h0M270.5 105.6h0M177.5 122.0h0M199.5 114.2h0M215.0 158.9h0M262.1 117.1h0M270.8 131.6h0M252.0 131.0h0M173.6 137.8h0M191.0 110.0h0M223.8 153.3h0M277.7 153.3h0M176.9 160.0h0M196.2 152.1h0M250.8 164.8h0"/>
<path stroke="#f2eaf6" stroke-width="1.6" stroke-linecap="round" d="M211.2 152.0h0M267.8 145.5h0M275.9 112.1h0M251.8 149.6h0M264.2 135.1h0M199.7 117.7h0M233.2 130.6h0M246.4 153.4h0M260.2 125.6h0M250.4 128.3h0M207.9 120.2h0M183.6 138.3h0M239.5 159.1h0M269.7 116.5h0M195.4 139.0h0M244.7 108.9h0M243.6 152.5h0M196.9 135.0h0M225.6 156.2h0M197.5 150.2h0M257.6 152.6h0M209.7 162.3h0M191.8 129.9h0M257.9 110.5h0M262.8 131.4h0M226.5 162.5h0M216.1 139.4h0M250.7 162.2h0M259.3 116.0h0M240.4 129.2h0M227.9 164.6h0M277.0 151.4h0M185.7 157.6h0M201.6 108.2h0M256.8 132.4h0M184.3 164.7h0M184.4 146.2h0M190.4 149.7h0M272.5 113.4h0M199.8 159.0h0M223.3 152.8h0M207.9 123.2h0M179.8 107.4h0M267.9 140.0h0M267.6 113.7h0M258.1 124.8h0M182.7 128.3h0M254.1 138.3h0M268.0 128.7h0M254.3 134.0h0M185.6 159.0h0M238.8 161.8h0M174.8 139.6h0M228.2 151.0h0M191.3 160.9h0M186.9 159.2h0M225.9 105.0h0M241.0 107.1h0M174.5 144.6h0M276.6 128.1h0M247.2 162.0h0M223.7 134.2h0M191.4 135.2h0M247.7 161.2h0M178.0 123.9h0M269.7 140.2h0M191.9 150.9h0M250.4 154.1h0M184.1 123.9h0M244.2 146.8h0M215.9 127.5h0M217.2 117.5h0M260.4 141.7h0M189.4 112.7h0M170.7 150.5h0M227.9 153.3h0M172.9 139.8h0M210.6 126.2h0M238.4 112.6h0M232.6 156.8h0M216.1 132.3h0M207.4 111.0h0M260.5 106.1h0M247.7 126.4h0M254.5 149.9h0M252.1 134.6h0M218.1 125.5h0M269.8 135.8h0M242.7 107.0h0M195.3 136.5h0M208.0 144.9h0M231.8 110.1h0M189.6 125.3h0M230.3 117.3h0M193.5 147.3h0M177.9 131.5h0M205.5 122.3h0M206.8 142.6h0M182.1 153.0h0M261.0 150.1h0M184.9 117.9h0M174.8 140.1h0M250.8 137.0h0M260.7 161.8h0M236.0 131.4h0M218.6 162.4h0M277.5 118.3h0M196.3 154.2h0M236.4 118.7h0M241.2 125.5h0M233.2 127.7h0M229.4 112.3h0M171.6 131.6h0M209.3 143.1h0M238.7 138.7h0M170.8 159.8h0M276.4 114.1h0M227.7 111.4h0M239.0 164.3h0M233.5 150.6h0M223.4 117.1h0M246.8 133.9h0M249.5 125.3h0M239.4 148.1h0M194.4 153.9h0M236.3 132.5h0M227.5 160.6h0M223.3 112.9h0M178.4 112.7h0M267.5 123.0h0M209.6 124.6h0M266.1 125.7h0M193.2 114.2h0M197.1 137.9h0M255.0 113.5h0M262.1 164.3h0M222.9 144.1h0M261.9 133.0h0M198.5 152.6h0M225.2 116.5h0M194.0 116.1h0M226.3 154.4h0M222.1 128.2h0M277.0 132.5h0M207.9 151.1h0M224.5 156.8h0M191.9 164.8h0M188.7 108.0h0M236.4 107.8h0M195.2 161.6h0M272.7 159.6h0M212.4 139.4h0M185.9 150.2h0M246.8 119.7h0M193.7 108.0h0M192.5 155.0h0M228.3 148.4h0M256.7 127.5h0M217.0 121.4h0M257.8 135.6h0M251.5 127.8h0M172.8 147.9h0M216.1 150.3h0M211.0 136.9h0M207.8 162.1h0M188.5 129.9h0M274.4 129.8h0M220.0 142.1h0M253.6 121.5h0M242.1 146.8h0M196.0 113.1h0M214.2 159.3h0M250.2 110.7h0M247.0 145.5h0M219.1 119.3h0M250.1 145.6h0M222.5 147.4h0M250.2 153.9h0M213.0 152.2h0M192.9 126.5h0M175.3 159.3h0M270.2 141.1h0M214.5 132.1h0M203.2 163.8h0M219.6 159.7h0M224.6 137.8h0M270.4 118.2h0M247.2 135.7h0M237.2 127.4h0M173.0 123.7h0M224.6 161.7h0M211.1 145.5h0M229.8 161.1h0M197.5 144.5h0M244.6 123.4h0M275.3 140.0h0M198.2 122.1h0M181.6 114.4h0M189.0 117.8h0M196.3 153.3h0M245.4 105.0h0M170.9 164.8h0M218.5 156.3h0M214.3 105.8h0M192.7 117.0h0M170.7 127.9h0M231.3 149.5h0M203.1 118.8h0M186.7 153.6h0M275.8 149.0h0M200.4 151.8h0M202.4 141.4h0M245.6 105.8h0M180.2 130.5h0M179.2 118.3h0M248.9 109.6h0M219.9 135.5h0M250.5 140.8h0M234.5 128.6h0M216.1 125.5h0M230.4 106.3h0M216.9 115.7h0M266.3 126.8h0M203.2 140.7h0M249.8 153.8h0M182.8 122.7h0M174.5 129.8h0M276.9 145.8h0M206.1 143.1h0M180.0 163.8h0M222.1 121.5h0M266.6 147.1h0M195.1 120.0h0M223.2 121.9h0M264.3 109.7h0M246.9 128.4h0M198.9 126.7h0M259.1 106.1h0M173.4 164.8h0M220.4 114.0h0M263.0 159.0h0M176.9 140.5h0M276.9 119.5h0M177.1 136.0h0M211.4 129.1h0M240.4 147.3h0M204.3 161.4h0M231.5 108.9h0M230.1 110.4h0M174.5 112.5h0M182.0 152.6h0M274.7 132.2h0M242.8 106.9h0M215.0 134.3h0M255.1 147.6h0M268.8 126.9h0M260.3 142.8h0M235.0 118.2h0M197.5 162.8h0M252.3 163.6h0M200.9 151.0h0M277.2 133.8h0M188.4 105.8h0M270.6 116.8h0M270.4 155.4h0M206.7 143.5h0M227.5 145.7h0M184.6 118.2h0M230.2 138.9h0M238.4 151.0h0M224.4 111.4h0M179.2 116.1h0M243.0 152.1h0M263.7 155.6h0M207.1 149.8h0M247.2 145.6h0M183.2 130.7h0M236.4 109.2h0M230.6 142.8h0M196.3 134.6h0M180.7 122.6h0M276.3 152.2h0M262.2 110.5h0M199.6 157.9h0M268.5 147.2h0M174.1 129.5h0M194.1 150.2h0M180.8 145.5h0M252.6 104.8h0M259.2 129.5h0M172.2 113.2h0M254.6 125.9h0M180.7 119.2h0M170.8 155.2h0M271.9 129.8h0M184.5 114.2h0M216.7 119.9h0M202.2 131.1h0M235.6 159.4h0M231.0 161.0h0M219.2 112.4h0M266.5 165.4h0M201.8 152.4h0M223.0 107.1h0M264.5 128.0h0M177.0 164.5h0M258.5 135.1h0M205.2 110.6h0M241.0 140.5h0M272.8 114.1h0M228.8 113.7h0M178.2 143.0h0M274.5 114.8h0M194.4 132.9h0M200.7 148.0h0M250.9 124.0h0M192.4 106.5h0M187.4 111.1h0M206.1 119.7h0M262.0 108.7h0M178.4 153.9h0M232.6 150.8h0M192.5 131.3h0M219.3 148.4h0M229.7 161.9h0M177.8 134.0h0M188.5 125.8h0M183.2 114.9h0M251.8 114.0h0M208.7 138.3h0M201.6 155.7h0M265.9 112.5h0M205.0 160.5h0M182.3 160.9h0M173.2 124.0h0M186.1 108.7h0M214.9 133.0h0M262.3 138.4h0M210.8 140.1h0M209.4 131.0h0M252.1 129.8h0M274.1 165.5h0M208.9 137.8h0M193.2 111.4h0M186.8 144.6h0M271.0 124.1h0M208.3 147.6h0M171.5 109.2h0M213.1 132.6h0M234.9 164.2h0M269.7 142.6h0M252.4 161.2h0M207.0 111.1h0M246.6 138.1h0M257.5 148.4h0M207.0 135.2h0M212.3 147.3h0M204.4 133.3h0M237.0 118.0h0M243.4 118.1h0M259.1 115.3h0M195.2 106.0h0M211.0 118.0h0M262.4 165.0h0M187.7 112.4h0M258.1 124.9h0M251.9 124.9h0M200.5 114.6h0M230.2 159.5h0M261.2 112.3h0M272.8 111.8h0M199.5 149.4h0M248.3 142.1h0M181.4 113.8h0M207.8 126.8h0M251.7 143.2h0M185.2 141.7h0M180.2 151.6h0M275.0 148.3h0M234.1 130.7h0M187.0 144.9h0M235.5 126.9h0M182.3 105.2h0M238.6 129.0h0M244.6 105.6h0M251.8 130.7h0M231.9 118.9h0M205.3 148.6h0M190.9 106.7h0M242.7 149.1h0M217.9 145.8h0M201.0 147.3h0M192.9 139.5h0M178.5 107.6h0M215.8 148.3h0M209.0 128.7h0M255.3 122.6h0M197.9 105.2h0M178.7 151.9h0M236.7 126.4h0M182.1 118.3h0M258.3 137.2h0M235.0 129.8h0M217.0 159.2h0M224.7 111.7h0M246.1 145.2h0M228.9 160.5h0M266.1 135.6h0M222.2 151.8h0M198.7 112.0h0M241.9 108.4h0M237.6 162.4h0M256.5 111.9h0M251.9 165.4h0M260.3 105.9h0M198.2 120.9h0M232.7 123.8h0M261.4 112.5h0M229.6 120.3h0M238.8 110.3h0M259.2 107.7h0M223.6 113.0h0M227.5 114.4h0M277.5 149.1h0M218.4 111.9h0M267.1 155.0h0M263.7 154.4h0M231.9 126.0h0"/>
<path stroke="#c050b8" stroke-width="0.8" stroke-linecap="round" d="M270.7 109.3h0M210.0 149.9h0M179.2 106.7h0M187.1 141.5h0M264.6 115.5h0M219.4 159.3h0M261.3 148.9h0M218.0 139.6h0M198.2 151.7h0M234.7 130.9h0M243.5 115.8h0M272.9 155.3h0M212.0 154.6h0M265.3 115.5h0M216.6 128.1h0M183.8 163.0h0M249.7 125.8h0M219.2 148.6h0M170.6 120.3h0M202.7 117.4h0M193.4 162.6h0M247.3 128.5h0M173.9 107.5h0M225.9 160.8h0M173.6 155.9h0M260.7 165.1h0M200.0 104.8h0M221.9 125.3h0M213.8 124.5h0M234.8 105.2h0M236.1 144.3h0M172.5 165.4h0M213.3 143.1h0M180.0 119.3h0M211.9 162.0h0M204.0 114.1h0M176.8 117.1h0M185.7 164.0h0M231.0 114.7h0M269.6 135.3h0M192.0 118.1h0M246.3 149.4h0M188.3 120.1h0M231.2 127.8h0M229.8 134.4h0M267.1 110.3h0M238.2 123.3h0M213.9 165.2h0M239.7 139.7h0M228.2 117.2h0M250.7 158.3h0M262.0 142.2h0M171.4 104.7h0M243.8 141.8h0M178.3 122.5h0M236.2 161.1h0M189.7 142.3h0M183.2 149.6h0M203.8 148.0h0M171.0 127.3h0M209.9 109.9h0M276.8 110.7h0M201.6 158.5h0M229.4 153.0h0M219.8 127.0h0M250.1 164.3h0M264.2 111.3h0M198.1 129.6h0M235.3 133.4h0M180.6 123.0h0M262.0 127.7h0M208.3 129.2h0M244.1 161.0h0M201.0 154.5h0M209.7 123.1h0M248.5 108.2h0M215.8 108.1h0M179.6 162.4h0M218.0 162.4h0M237.6 130.6h0M221.2 120.5h0M175.8 108.2h0M212.1 143.3h0M264.2 107.6h0M198.8 139.5h0M175.0 122.1h0M235.1 155.3h0M178.3 157.6h0M209.2 154.3h0M225.9 115.5h0M267.1 142.7h0M269.8 108.0h0M238.0 124.8h0M193.1 145.9h0M218.1 145.3h0M262.2 159.3h0M242.4 150.0h0M225.8 165.7h0M226.0 106.7h0M212.2 131.8h0M190.7 110.7h0M180.2 105.9h0M243.9 139.5h0M253.7 143.4h0M236.5 163.8h0M200.7 129.1h0M263.0 152.0h0M241.0 153.0h0M204.3 130.2h0M255.0 127.7h0M264.4 122.6h0M216.5 145.2h0M243.3 144.2h0M220.1 113.8h0M202.6 165.8h0M276.3 154.0h0M178.3 153.6h0M276.3 165.2h0M194.4 129.0h0M194.1 112.4h0M230.8 119.0h0M178.3 137.5h0M269.8 149.9h0M186.5 158.2h0M213.1 126.2h0M204.3 117.7h0M271.1 153.9h0M238.4 130.5h0M230.8 145.4h0M233.3 164.1h0M192.4 154.3h0M187.8 145.6h0M219.1 109.8h0M191.1 124.5h0M253.8 109.5h0M269.0 139.2h0M262.4 124.6h0M192.7 134.2h0M204.4 130.7h0M263.3 120.6h0M239.3 114.5h0M215.0 153.8h0M238.6 139.7h0M231.8 161.7h0M179.2 165.2h0M177.3 110.0h0M191.4 110.2h0M231.0 133.0h0M263.0 128.0h0M228.4 164.8h0M185.9 109.8h0M200.3 123.0h0M212.4 110.6h0M192.0 161.1h0M268.8 114.7h0M229.1 113.9h0M240.3 107.3h0M265.8 159.6h0M241.1 165.1h0M230.8 163.1h0M267.3 110.9h0M273.4 129.7h0M193.0 109.8h0M276.2 137.7h0M180.1 114.4h0M273.1 118.0h0M215.3 145.2h0M214.3 128.4h0M251.0 149.4h0M208.8 146.2h0M206.3 126.6h0M260.9 122.8h0M251.4 117.5h0M182.8 105.7h0M220.2 122.7h0M182.5 133.3h0M256.0 131.0h0M276.1 133.6h0M202.5 118.5h0"/>
<path stroke="#c050b8" stroke-width="1.6" stroke-linecap="round" d="M195.1 162.0h0M240.4 122.1h0M233.5 159.5h0M208.8 135.7h0M259.6 111.1h0M274.3 145.7h0M179.7 135.5h0M270.0 112.1h0M177.2 133.4h0M259.3 109.1h0M246.3 155.3h0M178.8 108.6h0M264.0 122.6h0M220.9 159.1h0M191.6 156.9h0M213.2 152.1h0M233.3 134.0h0M226.8 159.8h0M274.7 125.3h0M247.2 105.6h0M265.6 131.4h0M201.2 165.4h0M210.6 142.2h0M266.9 127.9h0M264.0 116.7h0M217.1 137.4h0M197.1 142.6h0M257.1 113.0h0M179.9 134.3h0M211.8 124.7h0M212.1 141.3h0M267.3 125.2h0M244.2 163.0h0M209.0 125.9h0M192.8 148.7h0M180.5 110.8h0M213.7 110.0h0M197.3 151.8h0M190.9 121.3h0M233.1 126.8h0M268.4 106.5h0M218.9 154.3h0M275.1 122.5h0M174.4 160.2h0M255.1 160.3h0M181.0 111.8h0M250.1 155.1h0M187.4 159.0h0M238.2 149.9h0M270.5 153.5h0M201.5 144.0h0M236.5 107.9h0M215.5 107.9h0M188.8 152.4h0M223.0 151.9h0M268.8 137.8h0M245.0 108.4h0M223.5 140.2h0M236.3 138.5h0M258.2 112.4h0M183.5 126.9h0M259.0 150.9h0M199.4 129.0h0M269.1 142.0h0M269.2 163.3h0M170.8 133.7h0M176.2 153.4h0M199.7 146.0h0M237.5 119.5h0M213.5 108.7h0M230.6 112.4h0M183.3 116.5h0M277.0 162.1h0M189.4 164.6h0M250.4 127.5h0M194.4 135.8h0M232.8 108.8h0M185.7 106.6h0M222.8 120.1h0M201.0 116.2h0M250.2 122.0h0M236.5 160.7h0M180.7 141.9h0M255.0 140.5h0M210.1 106.9h0M251.3 127.9h0M258.4 128.2h0M255.8 162.6h0M208.5 119.1h0M208.9 132.1h0M252.3 156.0h0M206.4 131.2h0M219.1 127.6h0M255.8 136.7h0M272.5 153.1h0M182.7 110.0h0M182.0 110.5h0M227.5 142.8h0M250.5 111.9h0M197.8 107.7h0M270.7 105.8h0M205.1 147.5h0M250.4 142.3h0M247.0 106.8h0M208.7 135.9h0M267.2 164.0h0M275.0 156.7h0M187.3 143.1h0M186.2 108.4h0M236.4 141.0h0M262.2 144.6h0M193.5 136.2h0M194.3 118.8h0M172.5 116.8h0M252.7 151.5h0M183.7 131.7h0M201.5 145.2h0M243.6 124.7h0M241.6 122.1h0M214.8 135.7h0M251.9 163.8h0M217.6 116.0h0M242.0 135.4h0M220.8 104.4h0M190.1 148.0h0M258.7 122.1h0M263.8 112.1h0M264.9 165.0h0M255.6 106.8h0M193.2 105.9h0M252.3 112.7h0M180.0 126.3h0M205.2 106.0h0M212.2 123.4h0M182.2 142.5h0M172.5 147.4h0M230.8 106.8h0M229.4 140.9h0M221.5 140.9h0M188.7 162.0h0M228.3 126.1h0M229.6 144.3h0M197.3 136.5h0M229.0 134.4h0M201.8 165.1h0M251.7 113.3h0M234.0 155.1h0M226.5 156.9h0M265.0 156.6h0M251.6 114.7h0M196.4 158.6h0M258.1 127.6h0M267.7 163.7h0M228.9 158.6h0M267.1 122.6h0M177.2 143.7h0M171.1 125.1h0M276.0 118.8h0M275.5 139.3h0M196.5 161.1h0M186.4 108.1h0M249.4 156.3h0M267.6 150.2h0M270.4 164.2h0M237.5 147.6h0M187.7 152.0h0M176.4 111.6h0M191.7 133.3h0M225.9 145.6h0M255.5 153.0h0M182.2 129.2h0M214.8 122.3h0M249.9 133.5h0M204.5 111.6h0M198.9 151.1h0M233.4 104.6h0M265.3 151.8h0M209.0 112.0h0M178.6 131.0h0M262.9 157.4h0M211.5 124.6h0M194.5 131.7h0M252.6 161.3h0M170.5 135.2h0M174.3 120.4h0M274.1 128.0h0M228.4 145.0h0M237.3 112.7h0M253.4 148.9h0M248.1 135.6h0M221.8 142.2h0M218.3 107.0h0M241.5 125.5h0M194.4 143.9h0M203.8 154.4h0M206.2 133.5h0M231.1 136.8h0M202.5 135.1h0M180.0 135.1h0M218.9 124.3h0M248.6 143.7h0M250.9 144.1h0M275.5 154.2h0M186.6 119.4h0M268.3 126.6h0M275.1 105.0h0M177.8 113.6h0M227.3 121.1h0M200.5 134.4h0M258.1 111.3h0M184.1 113.4h0M249.9 161.5h0M273.2 132.4h0M229.1 143.5h0M239.4 107.1h0M189.5 137.3h0M196.8 156.0h0M233.5 141.4h0M236.8 154.7h0M213.8 165.7h0M267.7 128.0h0M276.3 148.7h0M262.7 109.7h0M192.1 135.2h0M215.3 164.9h0M197.9 118.7h0M223.0 122.8h0M208.9 117.7h0M178.6 144.8h0M268.0 117.0h0M249.2 126.3h0M213.2 158.7h0M274.5 104.9h0M263.4 107.6h0M237.0 136.6h0M242.5 135.6h0M235.0 129.2h0M189.1 113.3h0M222.4 147.0h0M209.1 118.2h0M200.6 159.9h0M193.8 144.3h0M200.4 151.0h0M220.8 147.2h0M238.4 111.9h0M181.7 165.9h0M240.7 163.7h0M177.3 143.9h0M241.7 126.5h0M202.9 149.5h0M265.5 115.0h0M173.4 132.2h0M216.6 132.5h0M256.2 140.9h0M210.7 119.9h0M264.6 107.9h0M204.9 161.9h0M238.6 140.5h0M248.1 162.9h0M251.1 105.9h0M271.8 148.0h0M264.4 145.0h0M175.9 105.4h0M198.4 153.4h0M261.6 112.0h0M264.6 116.4h0M201.5 119.9h0M187.9 114.9h0M214.0 147.5h0M241.6 141.0h0M241.8 130.1h0"/>
<path stroke="#b02a6a" stroke-width="0.8" stroke-linecap="round" d="M232.5 152.5h0M192.2 163.4h0M243.1 148.4h0M205.9 128.0h0M228.9 154.6h0M189.5 137.6h0M179.5 114.7h0M177.3 156.4h0M194.8 104.4h0M236.1 122.9h0M211.6 115.4h0M202.1 126.0h0M215.6 114.5h0M195.8 154.7h0M239.2 143.7h0M183.4 163.7h0M170.9 108.8h0M180.3 116.4h0M203.4 147.2h0M255.5 163.5h0M181.6 118.4h0M194.0 131.6h0M258.1 147.9h0M213.4 161.0h0M231.1 135.6h0M268.6 148.2h0M199.4 115.0h0M265.6 153.2h0M271.8 139.0h0M263.7 132.2h0M222.0 161.3h0M234.6 156.8h0M189.2 162.9h0M242.7 154.2h0M188.6 130.6h0M195.4 146.4h0M189.5 109.0h0M195.3 164.6h0M178.2 124.0h0M223.8 124.1h0M247.8 119.5h0M223.3 109.3h0M225.3 161.8h0M264.3 153.6h0M179.0 131.7h0M253.5 162.6h0M230.0 143.5h0M229.3 141.5h0M214.7 159.8h0M188.1 111.9h0M274.4 113.0h0M191.8 138.3h0M202.9 126.5h0M171.8 125.4h0M197.6 148.2h0M170.8 144.4h0M207.4 148.0h0M236.3 144.7h0M205.3 142.4h0"/>
<path stroke="#b02a6a" stroke-width="1.6" stroke-linecap="round" d="M225.6 162.5h0M221.3 163.1h0M224.2 146.5h0M205.2 127.0h0M214.3 111.3h0M195.1 125.2h0M270.8 125.5h0M245.3 113.7h0M189.8 110.2h0M251.6 162.8h0M235.7 105.0h0M258.4 140.7h0M192.0 111.9h0M260.7 162.9h0M192.8 118.7h0M212.3 164.1h0M231.9 106.6h0M273.8 150.1h0M207.9 124.5h0M237.1 121.3h0M240.0 158.4h0M208.4 153.6h0M186.8 110.7h0M272.4 130.1h0M241.9 120.6h0M277.3 153.6h0M241.1 137.1h0M244.8 144.0h0M220.8 121.9h0M183.0 117.8h0M270.8 151.8h0M251.6 119.7h0M210.1 146.3h0M260.6 152.0h0M214.7 111.7h0M264.5 122.9h0M246.7 120.3h0M214.3 157.3h0M246.4 156.0h0M190.3 155.7h0M188.0 121.2h0M235.9 138.0h0M247.2 136.4h0M272.4 142.4h0M248.6 150.7h0M235.3 112.6h0M259.0 162.2h0M182.3 108.0h0M267.0 151.4h0M244.6 126.4h0M182.4 159.6h0M220.2 119.0h0M231.0 120.8h0M212.7 119.6h0M269.3 143.6h0M176.5 105.0h0M262.7 125.7h0M252.5 138.4h0M259.8 115.7h0M217.6 122.8h0M222.6 149.7h0M242.4 126.6h0M188.1 137.6h0M228.6 135.7h0M213.5 130.3h0M203.5 139.9h0M180.4 143.1h0M173.4 158.8h0M271.6 125.9h0M187.4 157.6h0M271.0 120.9h0M226.0 142.9h0M259.6 126.8h0M211.2 152.3h0M238.0 113.3h0M255.3 149.1h0M178.4 119.1h0M217.8 133.1h0M199.0 142.1h0M177.0 119.1h0M190.2 137.9h0M197.4 128.0h0M201.8 107.3h0M206.6 127.7h0M249.8 123.8h0M171.0 122.7h0M220.1 127.2h0M207.4 148.9h0M232.6 127.3h0M186.1 160.9h0M174.8 115.0h0M255.5 136.5h0M222.2 143.7h0M260.0 130.7h0M252.7 115.4h0M208.2 154.2h0M264.3 137.1h0M236.7 149.9h0M178.0 122.8h0M226.0 150.2h0M243.0 163.7h0"/>
<path stroke="#8a58d0" stroke-width="0.8" stroke-linecap="round" d="M194.4 107.3h0M258.8 138.7h0M236.0 143.9h0M259.6 123.3h0M238.9 155.9h0M215.1 121.3h0M211.2 151.1h0M272.0 155.5h0M200.7 137.6h0M202.8 154.1h0M255.5 139.2h0M235.0 157.8h0M218.2 124.8h0M193.4 160.5h0M265.8 134.5h0M265.7 106.6h0M189.6 120.5h0M221.6 124.8h0M221.9 142.2h0M242.0 164.3h0M275.3 111.7h0M257.5 141.3h0M263.2 128.1h0M170.3 148.6h0M226.3 156.1h0M213.7 160.2h0M248.1 152.3h0M227.5 165.1h0M195.4 135.8h0M275.8 109.0h0M254.3 144.1h0M190.2 145.7h0M172.6 160.8h0M179.5 148.4h0M189.3 151.8h0M202.6 140.3h0M229.0 159.5h0M205.2 153.9h0M239.2 104.8h0M277.8 154.2h0M251.0 135.3h0M222.5 116.2h0M258.2 115.9h0M226.3 135.6h0M199.3 165.9h0M263.1 143.5h0M173.4 160.0h0M246.7 105.9h0M234.1 119.6h0M248.2 114.0h0M275.4 154.9h0M214.9 106.4h0M249.4 119.4h0M193.1 125.0h0M264.5 135.3h0M234.7 129.6h0M262.8 138.2h0M260.6 106.1h0M256.1 150.2h0M200.2 142.3h0M258.4 137.9h0M174.1 122.4h0M189.3 135.4h0M196.2 164.2h0M175.6 129.5h0M273.5 105.1h0M277.6 128.1h0M248.7 146.3h0M208.6 163.0h0M217.5 151.3h0M193.6 136.9h0M262.5 134.3h0M193.4 137.3h0M200.2 133.6h0M232.7 115.6h0M189.9 110.0h0M218.5 160.0h0M272.3 164.5h0M198.2 162.3h0M243.2 155.5h0M266.7 161.2h0"/>
<path stroke="#8a58d0" stroke-width="1.6" stroke-linecap="round" d="M220.2 145.1h0M226.6 151.3h0M192.3 127.3h0M258.9 131.6h0M171.4 146.3h0M256.6 140.3h0M183.2 159.8h0M178.1 136.4h0M236.1 155.6h0M256.6 130.9h0M214.4 148.9h0M195.9 142.6h0M185.2 138.6h0M208.6 132.9h0M195.1 145.1h0M230.9 137.7h0M246.1 144.9h0M230.9 133.8h0M188.8 111.4h0M222.9 146.7h0M206.9 110.7h0M189.6 136.2h0M214.9 119.9h0M184.0 134.3h0M173.9 115.4h0M221.4 118.7h0M240.0 111.1h0M191.2 116.9h0M209.7 149.2h0M244.4 111.8h0M202.7 143.8h0M205.6 128.7h0M256.0 142.3h0M190.1 142.3h0M174.5 111.8h0M229.9 137.2h0M197.0 158.9h0M186.7 111.3h0M261.7 123.9h0M203.3 142.5h0M266.6 113.6h0M174.9 165.7h0M174.1 161.6h0M273.5 128.4h0M223.8 111.5h0M245.2 130.1h0M210.8 134.5h0M250.2 113.8h0M198.5 112.6h0M269.8 137.3h0M261.0 146.2h0M193.9 157.3h0M231.3 164.3h0M245.6 154.0h0M228.2 106.2h0M274.5 125.1h0M194.1 110.9h0M186.5 114.2h0M268.0 136.1h0M253.0 163.8h0M218.9 129.8h0M177.6 124.0h0M195.3 111.6h0M218.6 110.9h0M243.9 145.2h0M262.2 106.1h0M196.8 144.2h0M263.0 140.1h0M192.2 145.3h0M181.7 160.5h0M187.0 124.9h0M217.0 121.4h0M206.2 160.9h0M252.4 127.7h0M214.4 162.7h0M219.4 142.1h0M197.1 111.8h0M270.0 123.1h0M210.9 132.0h0M221.4 129.3h0M266.1 125.0h0M274.2 113.8h0M198.0 119.3h0M217.6 159.9h0M197.5 118.3h0M186.3 136.4h0M231.3 158.2h0M197.3 110.8h0M185.3 124.1h0M202.3 146.5h0M250.7 162.5h0M225.6 119.1h0M247.3 123.0h0M223.0 106.5h0M251.8 147.8h0M181.5 131.3h0M200.4 120.5h0M268.5 160.3h0M209.9 145.7h0M219.3 127.3h0M256.8 122.4h0M177.9 137.2h0M264.9 108.8h0M205.4 129.5h0M184.8 150.9h0M197.1 136.7h0M250.7 157.7h0M242.5 109.7h0M242.8 161.8h0M275.1 132.3h0M256.2 124.2h0M253.2 126.0h0M215.7 143.3h0M210.7 119.3h0M172.9 157.2h0M231.2 128.2h0M217.8 116.9h0M201.5 125.0h0M201.2 133.0h0M198.0 107.8h0M206.5 129.1h0M258.5 159.9h0M254.4 162.9h0M259.9 152.1h0M191.4 156.3h0M201.7 136.4h0M183.6 138.5h0M172.5 124.9h0M274.7 160.6h0M244.9 121.7h0M275.6 143.8h0M182.0 148.1h0M173.7 158.9h0M272.2 116.4h0M193.2 110.0h0M218.5 146.6h0M197.0 120.8h0M170.5 155.8h0M250.3 139.9h0M207.4 143.3h0M255.4 162.9h0M231.3 151.6h0M274.4 108.6h0M177.5 157.2h0M244.2 154.1h0M251.5 138.5h0M195.9 135.6h0M227.0 139.4h0M239.7 156.5h0M183.4 160.7h0M209.5 164.8h0M237.7 142.2h0M230.9 119.5h0M188.9 137.5h0M241.1 113.4h0M257.5 132.7h0M241.7 165.8h0M260.1 146.3h0M213.6 153.1h0M194.6 159.6h0M194.7 145.0h0M246.6 155.4h0M257.0 129.2h0M262.3 121.7h0M230.0 118.0h0M223.3 127.4h0M252.5 141.2h0M199.8 105.1h0M181.2 106.8h0M201.2 129.0h0M267.2 151.6h0M182.8 143.6h0M204.8 139.1h0M179.4 163.1h0M231.4 145.2h0M188.3 139.5h0M170.8 115.2h0M214.2 155.0h0M224.2 113.2h0M170.3 116.4h0M198.1 142.3h0M235.8 129.3h0M194.6 119.9h0M244.9 164.8h0M277.4 105.2h0M242.9 116.3h0M185.8 137.5h0M226.3 107.0h0M199.1 141.9h0M264.6 106.1h0M187.2 163.9h0M264.3 137.1h0M272.0 105.7h0M192.7 161.3h0M262.7 110.7h0M201.8 144.2h0M236.3 146.5h0M243.7 112.5h0M248.0 128.8h0M186.5 165.4h0M199.3 116.8h0M248.1 123.7h0M270.3 165.2h0M178.5 154.4h0M180.9 140.2h0M218.9 119.2h0M192.8 135.9h0M237.0 134.7h0M240.6 135.9h0M238.2 141.8h0M188.1 119.5h0M179.1 163.8h0M210.4 109.2h0M276.5 111.6h0M238.8 135.0h0M216.7 161.1h0M215.5 109.2h0M194.2 150.2h0M171.4 160.2h0M249.1 161.9h0M176.9 125.0h0M202.1 130.7h0M273.0 131.9h0M181.1 149.4h0M264.3 115.3h0M266.1 147.8h0M208.5 125.1h0M172.7 114.5h0M174.1 121.1h0M230.6 111.3h0M245.9 135.1h0M244.7 155.0h0M219.1 159.4h0M178.6 141.1h0M244.7 132.0h0M206.3 119.9h0M194.1 162.5h0M171.7 147.4h0M229.3 132.8h0M255.0 159.6h0M233.4 107.0h0M247.1 159.4h0M209.4 138.6h0M216.8 159.8h0M181.1 142.3h0M178.0 127.6h0M242.7 146.1h0M194.0 159.8h0M238.8 153.9h0M235.5 123.2h0M171.1 158.7h0M233.7 129.3h0M211.1 136.7h0M261.2 164.1h0M265.9 136.5h0M212.8 126.5h0M204.9 129.8h0M274.4 134.5h0M274.5 115.6h0M208.2 134.3h0M218.8 120.3h0M253.8 163.3h0M226.2 120.4h0M264.9 116.0h0M256.5 144.2h0M250.2 126.0h0M272.2 143.9h0M242.6 115.3h0M203.2 109.0h0M269.5 136.0h0M199.0 107.8h0M248.9 125.5h0M207.8 155.0h0M182.9 149.6h0M195.1 158.9h0M255.3 152.0h0M229.0 165.7h0M195.7 128.7h0M181.4 125.0h0M186.9 107.6h0M252.8 131.8h0M174.4 154.2h0M214.2 133.6h0M215.2 132.6h0M260.7 151.4h0M225.3 158.9h0M203.9 105.0h0M236.2 163.7h0M181.9 161.3h0M274.2 116.7h0M236.2 143.7h0M209.9 110.6h0M195.4 165.3h0M259.6 104.6h0M268.2 151.8h0M260.1 146.5h0M177.4 146.9h0M213.8 158.0h0M193.4 133.5h0M198.3 113.1h0M204.0 113.5h0M213.7 150.9h0M263.5 148.8h0M274.5 139.0h0M274.0 117.1h0M213.7 157.6h0M204.6 150.4h0M217.9 157.0h0M192.4 157.7h0M193.0 125.4h0M200.9 139.8h0M231.1 156.7h0M178.1 153.8h0M256.2 122.1h0M174.7 164.7h0M175.8 146.5h0M276.8 133.5h0M241.8 160.7h0M228.8 152.3h0"/>
<path d="M233.8 156.0L234.0 157.8L233.2 159.8L231.6 160.0L230.1 159.1L229.7 156.9L229.1 154.8L230.3 153.3L231.8 153.7L233.0 153.0L233.3 154.8Z" fill="#f4eef8" opacity="0.85" stroke="#f4eef8" stroke-width="0.6" stroke-linejoin="round"/>
<path d="M214.1 160.0L213.3 160.6L213.1 161.8L211.6 162.0L210.7 161.1L209.9 160.5L210.5 159.7L211.0 159.1L211.8 158.8L212.9 158.4L213.3 159.4Z" fill="#f4eef8" opacity="0.85" stroke="#f4eef8" stroke-width="0.6" stroke-linejoin="round"/>
<path d="M191.1 150.0L191.4 150.9L190.5 151.0L189.8 151.7L188.9 151.2L188.7 150.4L188.4 149.5L189.0 148.8L189.9 149.1L190.6 148.6L191.4 149.1Z" fill="#f4eef8" opacity="0.85" stroke="#f4eef8" stroke-width="0.6" stroke-linejoin="round"/>
<path d="M247.0 122.0L246.2 122.8L245.7 123.6L244.8 123.7L244.2 122.9L244.0 122.3L243.5 121.5L244.3 121.2L244.8 120.7L245.8 120.2L246.6 121.0Z" fill="#f4eef8" opacity="0.85" stroke="#f4eef8" stroke-width="0.6" stroke-linejoin="round"/>
<path d="M205.0 128.0L204.6 128.9L203.7 129.3L202.8 129.0L202.2 128.8L201.3 128.4L201.2 127.6L202.4 127.4L202.8 127.1L203.8 126.5L203.9 127.5Z" fill="#f4eef8" opacity="0.85" stroke="#f4eef8" stroke-width="0.6" stroke-linejoin="round"/>
<path d="M223.6 118.0L222.9 118.5L222.6 119.1L221.8 119.3L221.3 118.6L220.6 118.3L221.0 117.8L221.4 117.4L221.8 117.1L222.6 116.9L222.8 117.6Z" fill="#f4eef8" opacity="0.85" stroke="#f4eef8" stroke-width="0.6" stroke-linejoin="round"/>
<path d="M257.7 160.0L257.6 160.9L256.4 160.7L255.7 161.6L254.8 161.2L255.1 160.2L254.2 159.6L254.8 158.8L255.8 159.1L256.8 158.5L257.1 159.4Z" fill="#f4eef8" opacity="0.85" stroke="#f4eef8" stroke-width="0.6" stroke-linejoin="round"/>
<path d="M263.0 112.0L263.1 112.6L262.7 113.2L261.8 113.1L261.2 112.7L261.0 112.2L261.1 111.8L260.9 111.0L261.8 110.8L262.4 111.3L263.1 111.4Z" fill="#f4eef8" opacity="0.85" stroke="#f4eef8" stroke-width="0.6" stroke-linejoin="round"/>
<path d="M185.9 132.0L186.3 132.8L185.7 133.5L184.8 133.1L184.3 132.8L184.1 132.3L184.2 131.8L184.4 131.3L184.9 131.1L185.7 130.6L185.8 131.5Z" fill="#f4eef8" opacity="0.85" stroke="#f4eef8" stroke-width="0.6" stroke-linejoin="round"/>
<path d="M240.8 140.0L240.8 140.6L240.4 141.2L239.9 140.8L239.4 140.9L238.7 140.5L239.0 139.6L239.3 139.1L239.8 138.5L240.4 138.9L240.7 139.4Z" fill="#f4eef8" opacity="0.85" stroke="#f4eef8" stroke-width="0.6" stroke-linejoin="round"/>
<path d="M227.7 142.0L227.0 142.5L226.6 143.1L225.9 142.8L225.2 142.7L225.0 142.2L224.8 141.7L225.5 141.5L225.8 141.1L226.4 141.2L226.7 141.7Z" fill="#f4eef8" opacity="0.85" stroke="#f4eef8" stroke-width="0.6" stroke-linejoin="round"/>
<path d="M201.9 160.0L201.0 160.5L200.8 161.5L199.8 161.2L199.1 160.9L198.4 160.4L198.9 159.7L199.3 159.3L199.8 158.8L200.5 159.1L201.4 159.2Z" fill="#f4eef8" opacity="0.85" stroke="#f4eef8" stroke-width="0.6" stroke-linejoin="round"/>
<path d="M253.0 140.0L252.9 140.6L252.4 141.0L251.8 141.1L251.1 141.0L250.9 140.3L251.3 139.8L251.5 139.4L251.9 139.1L252.4 139.2L253.1 139.3Z" fill="#f4eef8" opacity="0.85" stroke="#f4eef8" stroke-width="0.6" stroke-linejoin="round"/>
<path d="M268.6 150.0L269.1 150.7L268.5 151.1L267.9 150.6L267.3 150.8L267.2 150.2L266.8 149.6L267.2 149.0L267.9 149.2L268.4 149.0L268.8 149.5Z" fill="#f4eef8" opacity="0.85" stroke="#f4eef8" stroke-width="0.6" stroke-linejoin="round"/>
<path d="M235.5 133.0L234.6 134.7L233.8 137.5L230.6 137.1L227.4 136.7L226.7 134.1L225.0 131.5L227.2 129.2L230.6 128.9L234.0 128.1L234.7 131.2Z" fill="#c8408a" opacity="0.45" stroke="#c8408a" stroke-width="0.6" stroke-linejoin="round"/>
<path d="M233.3 133.0L233.3 134.0L232.8 135.6L231.0 134.7L228.8 135.4L228.9 133.6L229.5 132.6L229.4 131.2L231.0 131.2L232.1 131.6L233.4 131.9Z" fill="#c42a68" opacity="0.8" stroke="#c42a68" stroke-width="0.6" stroke-linejoin="round"/>
<path d="M235.6 136.1L234.8 136.6L234.3 137.0L233.5 137.5L232.6 137.1L232.6 136.3L232.6 135.8L232.7 135.0L233.6 134.8L234.4 135.0L234.5 135.7Z" fill="#f0e6f4" opacity="0.8" stroke="#f0e6f4" stroke-width="0.6" stroke-linejoin="round"/>
<path d="M233.0 131.3L233.1 131.9L232.6 132.5L231.8 132.1L230.9 132.3L230.7 131.6L230.3 131.0L230.9 130.3L231.8 130.4L232.6 130.2L233.2 130.7Z" fill="#f0e6f4" opacity="0.8" stroke="#f0e6f4" stroke-width="0.6" stroke-linejoin="round"/>
<path d="M234.7 132.2L234.4 132.7L234.1 133.3L233.3 133.2L232.5 133.0L232.3 132.4L231.9 131.8L232.6 131.3L233.2 130.7L233.9 131.3L234.5 131.6Z" fill="#f0e6f4" opacity="0.8" stroke="#f0e6f4" stroke-width="0.6" stroke-linejoin="round"/>
<path d="M245.8 134.8L244.9 136.8L243.7 139.3L240.6 139.6L237.8 138.5L237.5 135.8L235.6 133.3L239.2 132.5L240.6 130.0L243.5 130.7L244.2 133.2Z" fill="#c8408a" opacity="0.45" stroke="#c8408a" stroke-width="0.6" stroke-linejoin="round"/>
<path d="M243.2 134.8L243.4 135.9L242.1 136.2L241.1 136.8L239.3 137.0L238.4 135.6L238.8 134.1L239.3 132.6L241.0 132.5L242.9 131.9L243.9 133.4Z" fill="#c42a68" opacity="0.8" stroke="#c42a68" stroke-width="0.6" stroke-linejoin="round"/>
<path d="M243.8 135.7L243.8 136.5L242.8 136.4L242.3 136.6L241.4 136.7L241.1 136.0L241.3 135.4L241.4 134.6L242.3 134.5L242.8 135.0L243.1 135.3Z" fill="#f0e6f4" opacity="0.8" stroke="#f0e6f4" stroke-width="0.6" stroke-linejoin="round"/>
<path d="M240.3 136.9L240.7 137.6L240.0 138.0L239.3 137.9L238.4 138.0L237.9 137.3L238.2 136.6L238.5 135.9L239.3 136.1L240.1 135.7L240.5 136.3Z" fill="#f0e6f4" opacity="0.8" stroke="#f0e6f4" stroke-width="0.6" stroke-linejoin="round"/>
<path d="M241.5 133.9L241.0 134.4L240.5 134.6L240.0 135.1L239.5 134.5L239.3 134.1L239.2 133.6L239.7 133.4L239.9 132.4L240.5 133.2L241.0 133.4Z" fill="#f0e6f4" opacity="0.8" stroke="#f0e6f4" stroke-width="0.6" stroke-linejoin="round"/>
<path d="M222.7 135.5L219.5 136.6L219.0 138.6L216.2 138.3L213.6 137.9L212.6 136.3L212.6 134.7L213.3 132.9L216.0 131.7L218.2 133.4L221.6 133.5Z" fill="#c8408a" opacity="0.45" stroke="#c8408a" stroke-width="0.6" stroke-linejoin="round"/>
<path d="M220.3 135.5L219.5 136.6L217.9 137.1L216.5 136.9L214.7 137.1L213.0 136.2L214.2 135.0L214.4 133.7L216.5 134.3L218.0 133.8L218.7 134.7Z" fill="#c42a68" opacity="0.8" stroke="#c42a68" stroke-width="0.6" stroke-linejoin="round"/>
<path d="M217.9 133.8L218.0 134.3L217.2 134.3L216.7 134.6L216.0 134.4L216.1 133.9L216.0 133.6L215.7 132.9L216.7 132.9L217.2 133.2L218.3 133.2Z" fill="#f0e6f4" opacity="0.8" stroke="#f0e6f4" stroke-width="0.6" stroke-linejoin="round"/>
<path d="M216.6 137.1L216.3 137.4L216.2 137.9L215.5 137.7L214.9 137.6L214.6 137.3L214.8 137.0L214.8 136.4L215.5 136.4L216.3 136.2L216.4 136.8Z" fill="#f0e6f4" opacity="0.8" stroke="#f0e6f4" stroke-width="0.6" stroke-linejoin="round"/>
<path d="M219.2 133.8L219.4 134.2L219.0 134.7L218.2 134.4L217.5 134.4L217.5 133.9L217.5 133.6L217.7 133.3L218.2 133.2L219.0 133.0L219.3 133.4Z" fill="#f0e6f4" opacity="0.8" stroke="#f0e6f4" stroke-width="0.6" stroke-linejoin="round"/>
<path d="M220.6 151.6L220.4 152.9L219.5 154.7L216.9 155.2L214.2 154.5L213.4 152.5L214.1 150.8L214.2 148.7L216.9 148.0L219.6 148.4L221.3 149.8Z" fill="#c8408a" opacity="0.45" stroke="#c8408a" stroke-width="0.6" stroke-linejoin="round"/>
<path d="M219.2 151.6L220.1 152.8L218.6 153.3L217.3 152.9L215.8 153.2L215.2 152.1L214.8 151.0L216.0 150.2L217.2 149.6L218.8 149.7L219.3 150.8Z" fill="#c42a68" opacity="0.8" stroke="#c42a68" stroke-width="0.6" stroke-linejoin="round"/>
<path d="M216.4 150.9L216.4 151.3L215.9 151.5L215.3 151.9L214.9 151.4L214.3 151.2L214.5 150.7L214.6 150.1L215.3 149.9L216.0 150.1L216.5 150.4Z" fill="#f0e6f4" opacity="0.8" stroke="#f0e6f4" stroke-width="0.6" stroke-linejoin="round"/>
<path d="M216.5 150.7L216.8 151.3L216.0 151.4L215.5 151.3L214.7 151.5L214.7 150.9L215.0 150.6L214.8 150.0L215.5 149.8L215.9 150.2L216.7 150.2Z" fill="#f0e6f4" opacity="0.8" stroke="#f0e6f4" stroke-width="0.6" stroke-linejoin="round"/>
<path d="M220.8 149.3L220.8 149.6L220.4 149.7L220.0 150.0L219.7 149.7L218.9 149.6L218.8 149.0L219.4 148.6L219.9 148.3L220.7 148.4L221.3 148.7Z" fill="#f0e6f4" opacity="0.8" stroke="#f0e6f4" stroke-width="0.6" stroke-linejoin="round"/>
<path d="M241.1 147.6L241.5 149.5L239.6 149.7L238.2 150.1L236.0 150.6L235.5 148.5L235.3 146.6L236.9 145.7L237.9 142.8L240.4 143.7L241.7 145.6Z" fill="#c8408a" opacity="0.45" stroke="#c8408a" stroke-width="0.6" stroke-linejoin="round"/>
<path d="M240.7 147.6L239.9 148.4L239.6 149.8L238.4 149.2L237.1 149.3L236.7 148.2L236.1 146.9L237.5 146.3L238.2 144.5L239.2 146.2L239.9 146.8Z" fill="#c42a68" opacity="0.8" stroke="#c42a68" stroke-width="0.6" stroke-linejoin="round"/>
<path d="M239.7 148.1L238.9 148.4L238.8 149.0L238.3 148.8L237.5 149.1L237.2 148.4L237.0 147.7L237.5 147.1L238.2 146.9L238.8 147.2L239.2 147.5Z" fill="#f0e6f4" opacity="0.8" stroke="#f0e6f4" stroke-width="0.6" stroke-linejoin="round"/>
<path d="M241.2 149.2L241.4 149.8L241.1 150.4L240.5 149.8L240.0 149.9L239.6 149.5L239.6 148.9L239.8 148.4L240.4 148.3L240.9 148.4L241.1 148.9Z" fill="#f0e6f4" opacity="0.8" stroke="#f0e6f4" stroke-width="0.6" stroke-linejoin="round"/>
<path d="M238.0 145.4L237.2 145.8L237.0 146.3L236.5 146.0L236.0 146.1L235.8 145.6L235.9 145.2L235.8 144.4L236.5 144.3L237.1 144.4L237.3 144.9Z" fill="#f0e6f4" opacity="0.8" stroke="#f0e6f4" stroke-width="0.6" stroke-linejoin="round"/>
<path d="M252.8 116.8L254.3 119.6L252.3 120.8L250.3 121.5L248.3 120.4L247.6 117.9L247.5 115.6L249.4 114.9L250.4 113.4L252.2 113.2L252.8 115.2Z" fill="#c8408a" opacity="0.45" stroke="#c8408a" stroke-width="0.6" stroke-linejoin="round"/>
<path d="M252.6 116.8L252.6 118.3L251.6 119.0L250.5 119.1L249.3 119.0L249.4 117.3L248.3 115.9L249.6 115.0L250.6 115.2L251.7 114.3L252.0 115.8Z" fill="#c42a68" opacity="0.8" stroke="#c42a68" stroke-width="0.6" stroke-linejoin="round"/>
<path d="M249.7 119.0L249.8 119.7L249.3 120.0L248.9 119.8L248.4 119.9L247.9 119.4L248.4 118.8L248.6 118.4L248.8 117.8L249.3 118.0L249.9 118.3Z" fill="#f0e6f4" opacity="0.8" stroke="#f0e6f4" stroke-width="0.6" stroke-linejoin="round"/>
<path d="M250.3 118.1L250.6 118.8L249.9 118.7L249.5 119.2L249.1 118.9L248.9 118.4L248.7 117.7L249.2 117.4L249.5 117.1L250.1 117.0L250.3 117.6Z" fill="#f0e6f4" opacity="0.8" stroke="#f0e6f4" stroke-width="0.6" stroke-linejoin="round"/>
<path d="M250.5 118.7L250.3 119.1L250.0 119.4L249.6 119.6L249.1 119.6L249.2 118.9L248.8 118.4L249.4 118.2L249.6 117.5L250.2 117.5L250.6 118.0Z" fill="#f0e6f4" opacity="0.8" stroke="#f0e6f4" stroke-width="0.6" stroke-linejoin="round"/>
<path d="M276.3 121.0L275.4 123.4L273.1 124.9L270.2 124.9L268.3 123.5L267.4 121.8L267.0 120.1L266.0 116.4L270.2 117.1L272.6 118.0L277.5 117.5Z" fill="#c8408a" opacity="0.45" stroke="#c8408a" stroke-width="0.6" stroke-linejoin="round"/>
<path d="M273.1 121.0L273.4 122.3L272.6 124.1L270.3 124.6L267.9 123.8L266.3 122.1L268.3 120.4L269.0 119.2L270.4 118.1L272.5 118.1L273.2 119.8Z" fill="#c42a68" opacity="0.8" stroke="#c42a68" stroke-width="0.6" stroke-linejoin="round"/>
<path d="M275.2 120.9L274.5 121.5L274.0 122.0L273.1 122.5L272.4 121.9L271.6 121.4L272.4 120.7L272.5 120.0L273.2 119.6L274.0 119.9L274.6 120.3Z" fill="#f0e6f4" opacity="0.8" stroke="#f0e6f4" stroke-width="0.6" stroke-linejoin="round"/>
<path d="M271.4 120.3L270.9 120.9L270.4 121.5L269.5 121.6L268.4 121.6L268.5 120.6L268.4 120.0L268.8 119.5L269.6 119.4L270.3 119.3L271.4 119.4Z" fill="#f0e6f4" opacity="0.8" stroke="#f0e6f4" stroke-width="0.6" stroke-linejoin="round"/>
<path d="M270.2 118.9L269.9 119.5L269.1 119.7L268.4 120.1L267.3 120.1L267.1 119.3L267.5 118.6L268.0 118.3L268.4 117.6L269.4 117.5L270.1 118.1Z" fill="#f0e6f4" opacity="0.8" stroke="#f0e6f4" stroke-width="0.6" stroke-linejoin="round"/>
<path d="M276.8 139.5L275.2 140.9L275.0 143.8L273.0 143.3L271.6 142.0L269.9 140.8L270.1 138.3L271.4 136.7L273.1 137.0L274.7 135.9L276.5 137.0Z" fill="#c8408a" opacity="0.45" stroke="#c8408a" stroke-width="0.6" stroke-linejoin="round"/>
<path d="M275.3 139.5L275.2 140.9L274.4 142.2L273.2 141.3L272.5 140.8L271.4 140.2L271.8 138.9L272.0 137.5L273.1 136.6L273.9 138.1L274.8 138.4Z" fill="#c42a68" opacity="0.8" stroke="#c42a68" stroke-width="0.6" stroke-linejoin="round"/>
<path d="M274.0 140.3L273.8 140.7L273.6 141.1L273.2 141.3L272.9 140.8L272.3 140.6L272.7 140.0L272.8 139.6L273.2 139.4L273.6 139.4L273.9 139.8Z" fill="#f0e6f4" opacity="0.8" stroke="#f0e6f4" stroke-width="0.6" stroke-linejoin="round"/>
<path d="M276.4 139.4L276.5 140.0L276.2 140.6L275.6 140.4L275.1 140.3L274.9 139.7L275.2 139.2L275.0 138.4L275.6 138.2L276.1 138.3L276.6 138.7Z" fill="#f0e6f4" opacity="0.8" stroke="#f0e6f4" stroke-width="0.6" stroke-linejoin="round"/>
<path d="M272.6 138.6L272.8 139.2L272.5 139.7L272.0 139.3L271.4 139.6L271.6 138.8L271.4 138.4L271.6 138.0L271.9 137.2L272.5 137.4L272.8 138.0Z" fill="#f0e6f4" opacity="0.8" stroke="#f0e6f4" stroke-width="0.6" stroke-linejoin="round"/>
<path d="M210.2 139.5L207.7 141.4L206.3 144.1L202.5 142.4L199.1 142.5L197.9 140.5L198.7 138.6L200.6 137.6L202.1 135.0L205.5 136.0L208.3 137.3Z" fill="#c8408a" opacity="0.45" stroke="#c8408a" stroke-width="0.6" stroke-linejoin="round"/>
<path d="M206.0 139.5L206.7 141.0L204.1 140.9L202.5 142.3L201.2 140.9L199.5 140.2L198.8 138.7L201.2 138.1L202.5 136.9L205.1 136.6L206.4 138.1Z" fill="#c42a68" opacity="0.8" stroke="#c42a68" stroke-width="0.6" stroke-linejoin="round"/>
<path d="M205.3 140.5L205.0 141.2L204.2 141.5L203.4 141.2L202.5 141.3L202.0 140.8L202.0 140.3L202.7 139.9L203.3 139.5L204.2 139.6L205.1 139.9Z" fill="#f0e6f4" opacity="0.8" stroke="#f0e6f4" stroke-width="0.6" stroke-linejoin="round"/>
<path d="M204.7 136.9L204.6 137.6L203.6 137.7L202.8 138.0L202.1 137.7L201.3 137.3L201.1 136.6L201.9 136.0L202.8 136.0L203.9 135.7L203.9 136.6Z" fill="#f0e6f4" opacity="0.8" stroke="#f0e6f4" stroke-width="0.6" stroke-linejoin="round"/>
<path d="M202.9 136.8L202.6 137.2L202.4 137.7L201.5 138.0L201.2 137.3L200.4 137.1L200.7 136.6L201.2 136.3L201.6 135.9L202.6 135.7L203.3 136.2Z" fill="#f0e6f4" opacity="0.8" stroke="#f0e6f4" stroke-width="0.6" stroke-linejoin="round"/>
<path d="M229.1 160.5L227.3 162.6L224.6 163.0L222.3 165.4L219.8 163.6L218.9 161.5L217.1 159.1L219.4 157.0L222.7 157.7L224.5 158.2L226.8 158.7Z" fill="#c8408a" opacity="0.45" stroke="#c8408a" stroke-width="0.6" stroke-linejoin="round"/>
<path d="M226.2 160.5L224.7 161.3L224.8 163.4L222.9 162.4L221.1 162.4L221.1 161.0L220.7 159.9L221.0 158.5L222.7 157.5L224.2 158.7L225.1 159.5Z" fill="#c42a68" opacity="0.8" stroke="#c42a68" stroke-width="0.6" stroke-linejoin="round"/>
<path d="M226.5 163.2L226.0 163.8L225.3 164.0L224.6 164.4L224.0 163.9L223.8 163.4L223.4 162.8L224.0 162.4L224.7 162.2L225.3 162.3L225.7 162.7Z" fill="#f0e6f4" opacity="0.8" stroke="#f0e6f4" stroke-width="0.6" stroke-linejoin="round"/>
<path d="M222.4 158.4L222.3 159.1L221.4 159.3L220.7 159.3L220.0 159.2L219.6 158.7L219.8 158.1L219.9 157.4L220.7 157.4L221.2 157.7L221.8 157.9Z" fill="#f0e6f4" opacity="0.8" stroke="#f0e6f4" stroke-width="0.6" stroke-linejoin="round"/>
<path d="M221.6 161.0L221.1 161.5L220.8 161.9L220.1 161.8L219.6 161.6L219.5 161.2L219.1 160.8L219.1 160.0L220.1 159.8L220.7 160.3L221.7 160.3Z" fill="#f0e6f4" opacity="0.8" stroke="#f0e6f4" stroke-width="0.6" stroke-linejoin="round"/>
<path d="M254.1 150.8L256.0 153.5L251.9 152.9L250.1 154.0L246.5 154.7L245.6 152.0L246.3 149.8L248.4 148.6L250.2 148.1L252.0 148.6L255.8 148.2Z" fill="#c8408a" opacity="0.45" stroke="#c8408a" stroke-width="0.6" stroke-linejoin="round"/>
<path d="M253.3 150.8L253.5 152.2L252.1 153.3L250.3 152.9L249.3 152.1L249.0 151.2L248.4 150.3L249.5 149.7L250.4 149.2L251.9 148.6L253.1 149.6Z" fill="#c42a68" opacity="0.8" stroke="#c42a68" stroke-width="0.6" stroke-linejoin="round"/>
<path d="M253.5 151.1L253.4 151.8L252.7 152.0L252.0 152.0L251.5 151.7L250.6 151.5L251.0 150.9L251.6 150.6L252.0 150.4L252.5 150.6L253.6 150.4Z" fill="#f0e6f4" opacity="0.8" stroke="#f0e6f4" stroke-width="0.6" stroke-linejoin="round"/>
<path d="M254.4 150.2L253.6 150.6L253.3 151.0L252.6 151.2L252.1 150.9L251.6 150.5L252.0 150.0L252.1 149.6L252.6 148.9L253.5 149.0L253.8 149.7Z" fill="#f0e6f4" opacity="0.8" stroke="#f0e6f4" stroke-width="0.6" stroke-linejoin="round"/>
<path d="M253.7 148.6L253.8 149.0L253.3 149.3L252.8 149.6L252.1 149.4L252.1 148.8L251.4 148.2L251.9 147.6L252.8 147.8L253.6 147.5L253.8 148.2Z" fill="#f0e6f4" opacity="0.8" stroke="#f0e6f4" stroke-width="0.6" stroke-linejoin="round"/>
<path d="M259.1 134.8L258.9 136.6L257.6 138.5L255.0 137.7L251.5 138.5L251.3 135.8L252.0 134.0L253.6 133.0L254.6 129.9L257.7 130.9L260.3 132.3Z" fill="#c8408a" opacity="0.45" stroke="#c8408a" stroke-width="0.6" stroke-linejoin="round"/>
<path d="M258.5 134.8L258.4 136.3L256.3 136.1L255.0 137.8L253.4 136.7L252.4 135.5L252.0 134.0L253.8 133.3L255.0 132.0L256.9 132.4L257.2 133.9Z" fill="#c42a68" opacity="0.8" stroke="#c42a68" stroke-width="0.6" stroke-linejoin="round"/>
<path d="M253.8 132.4L253.5 133.0L253.0 133.4L252.2 133.4L251.6 133.1L251.2 132.7L250.9 132.0L251.4 131.5L252.2 131.5L252.8 131.6L253.4 131.9Z" fill="#f0e6f4" opacity="0.8" stroke="#f0e6f4" stroke-width="0.6" stroke-linejoin="round"/>
<path d="M254.3 136.4L254.4 136.8L253.9 137.2L253.3 137.0L252.6 137.1L252.0 136.7L252.0 136.0L252.5 135.5L253.3 135.7L254.0 135.4L254.9 135.6Z" fill="#f0e6f4" opacity="0.8" stroke="#f0e6f4" stroke-width="0.6" stroke-linejoin="round"/>
<path d="M254.9 133.4L254.3 134.0L253.9 134.6L253.0 134.6L252.6 133.9L252.4 133.6L252.1 133.1L252.3 132.6L253.0 132.4L253.8 132.2L254.4 132.7Z" fill="#f0e6f4" opacity="0.8" stroke="#f0e6f4" stroke-width="0.6" stroke-linejoin="round"/>
<path d="M226.0 126.0L226.3 127.5L224.6 127.4L223.5 129.2L222.9 127.2L222.3 126.5L222.3 125.5L222.5 124.3L223.8 124.5L225.1 123.5L225.7 124.9Z" fill="#c8408a" opacity="0.45" stroke="#c8408a" stroke-width="0.6" stroke-linejoin="round"/>
<path d="M225.3 126.0L225.7 127.1L224.7 127.5L223.9 126.9L223.0 127.1L223.0 126.3L223.1 125.7L222.8 124.6L223.7 124.0L224.6 124.7L225.3 125.1Z" fill="#c42a68" opacity="0.8" stroke="#c42a68" stroke-width="0.6" stroke-linejoin="round"/>
<path d="M222.7 125.8L222.6 126.1L222.4 126.5L222.0 126.4L221.7 126.2L221.6 125.9L221.4 125.6L221.7 125.3L222.0 125.1L222.4 125.1L222.5 125.5Z" fill="#f0e6f4" opacity="0.8" stroke="#f0e6f4" stroke-width="0.6" stroke-linejoin="round"/>
<path d="M223.9 125.6L224.0 126.1L223.5 126.1L223.2 126.2L223.1 125.9L222.6 125.9L222.7 125.5L222.9 125.2L223.2 125.0L223.5 125.3L223.8 125.4Z" fill="#f0e6f4" opacity="0.8" stroke="#f0e6f4" stroke-width="0.6" stroke-linejoin="round"/>
<path d="M226.6 125.6L226.3 126.0L225.9 126.1L225.6 126.1L225.2 126.2L225.2 125.8L224.9 125.4L225.2 125.1L225.6 125.1L225.9 125.2L226.3 125.2Z" fill="#f0e6f4" opacity="0.8" stroke="#f0e6f4" stroke-width="0.6" stroke-linejoin="round"/>
<path d="M265.2 128.0L264.4 129.4L263.0 130.1L261.8 129.6L260.0 130.1L259.9 128.6L259.2 127.3L260.8 126.7L261.6 125.2L262.9 126.2L264.2 126.7Z" fill="#c8408a" opacity="0.45" stroke="#c8408a" stroke-width="0.6" stroke-linejoin="round"/>
<path d="M263.2 128.0L263.0 128.6L262.4 128.8L261.8 129.3L261.0 129.1L260.7 128.3L260.7 127.6L260.9 126.9L261.8 126.9L262.6 126.9L263.4 127.2Z" fill="#c42a68" opacity="0.8" stroke="#c42a68" stroke-width="0.6" stroke-linejoin="round"/>
<path d="M260.7 126.5L260.3 126.8L260.1 127.1L259.8 127.0L259.3 127.2L259.1 126.7L259.1 126.3L259.5 126.1L259.8 125.9L260.2 125.9L260.4 126.2Z" fill="#f0e6f4" opacity="0.8" stroke="#f0e6f4" stroke-width="0.6" stroke-linejoin="round"/>
<path d="M263.4 128.7L263.2 129.0L262.9 129.4L262.4 129.3L262.1 129.1L261.9 128.8L262.1 128.5L262.2 128.4L262.4 128.0L262.9 128.0L263.0 128.4Z" fill="#f0e6f4" opacity="0.8" stroke="#f0e6f4" stroke-width="0.6" stroke-linejoin="round"/>
<path d="M263.1 127.1L263.0 127.5L262.8 127.9L262.3 127.6L262.0 127.6L261.9 127.3L262.0 127.0L262.1 126.8L262.3 126.4L262.7 126.5L263.0 126.8Z" fill="#f0e6f4" opacity="0.8" stroke="#f0e6f4" stroke-width="0.6" stroke-linejoin="round"/>
<path d="M192.7 157.0L192.2 158.1L191.6 159.9L189.5 159.8L188.5 158.4L187.7 157.5L188.1 156.6L188.4 155.6L189.6 154.6L191.6 154.2L193.3 155.3Z" fill="#c8408a" opacity="0.45" stroke="#c8408a" stroke-width="0.6" stroke-linejoin="round"/>
<path d="M191.8 157.0L191.3 157.7L190.6 158.1L189.7 158.5L188.9 158.0L188.6 157.3L188.9 156.7L189.1 156.2L189.7 155.1L191.0 155.3L191.7 156.1Z" fill="#c42a68" opacity="0.8" stroke="#c42a68" stroke-width="0.6" stroke-linejoin="round"/>
<path d="M190.3 157.5L190.2 158.0L189.7 158.3L189.1 158.4L188.8 158.0L188.5 157.7L188.7 157.4L188.8 157.1L189.2 156.9L189.7 156.8L189.9 157.2Z" fill="#f0e6f4" opacity="0.8" stroke="#f0e6f4" stroke-width="0.6" stroke-linejoin="round"/>
<path d="M189.2 156.7L189.4 157.1L188.9 157.3L188.4 157.3L188.2 157.0L187.6 156.9L187.8 156.5L188.2 156.3L188.4 155.9L188.8 156.2L189.2 156.3Z" fill="#f0e6f4" opacity="0.8" stroke="#f0e6f4" stroke-width="0.6" stroke-linejoin="round"/>
<path d="M191.3 156.7L191.2 157.0L191.1 157.4L190.6 157.5L190.2 157.2L190.1 156.9L190.3 156.6L190.1 156.1L190.7 156.3L191.0 156.3L191.3 156.5Z" fill="#f0e6f4" opacity="0.8" stroke="#f0e6f4" stroke-width="0.6" stroke-linejoin="round"/>
<path d="M247.6 158.0L246.0 159.0L245.0 159.8L243.7 159.8L242.0 159.9L240.6 158.8L242.1 157.6L242.0 156.2L243.4 154.9L244.9 156.4L247.3 156.3Z" fill="#c8408a" opacity="0.45" stroke="#c8408a" stroke-width="0.6" stroke-linejoin="round"/>
<path d="M245.2 158.0L246.0 159.0L244.5 158.9L243.8 159.2L243.2 158.7L242.9 158.3L242.4 157.6L242.7 156.8L243.7 156.2L244.8 156.6L245.9 157.0Z" fill="#c42a68" opacity="0.8" stroke="#c42a68" stroke-width="0.6" stroke-linejoin="round"/>
<path d="M243.3 159.8L242.7 160.0L242.6 160.3L242.2 160.4L241.9 160.2L241.3 160.1L241.4 159.6L241.7 159.2L242.2 159.0L242.6 159.3L242.8 159.6Z" fill="#f0e6f4" opacity="0.8" stroke="#f0e6f4" stroke-width="0.6" stroke-linejoin="round"/>
<path d="M247.0 156.4L246.9 156.8L246.4 156.8L246.0 157.1L245.6 156.9L245.3 156.6L245.6 156.3L245.6 155.9L246.0 155.8L246.4 155.9L246.7 156.1Z" fill="#f0e6f4" opacity="0.8" stroke="#f0e6f4" stroke-width="0.6" stroke-linejoin="round"/>
<path d="M246.7 157.9L246.9 158.2L246.4 158.4L246.0 158.6L245.7 158.3L245.7 158.0L245.2 157.6L245.6 157.4L246.0 157.1L246.6 157.1L246.6 157.6Z" fill="#f0e6f4" opacity="0.8" stroke="#f0e6f4" stroke-width="0.6" stroke-linejoin="round"/>
<path d="M209.9 118.0L209.2 118.6L209.0 119.8L207.6 120.1L206.2 119.7L206.1 118.4L206.1 117.5L206.2 116.3L207.7 116.2L209.1 116.1L210.4 116.8Z" fill="#c8408a" opacity="0.45" stroke="#c8408a" stroke-width="0.6" stroke-linejoin="round"/>
<path d="M209.8 118.0L209.3 118.7L208.7 119.2L207.8 119.1L207.1 118.8L206.5 118.3L206.9 117.7L206.8 116.9L207.8 116.8L208.7 116.7L209.2 117.4Z" fill="#c42a68" opacity="0.8" stroke="#c42a68" stroke-width="0.6" stroke-linejoin="round"/>
<path d="M209.8 119.1L209.8 119.4L209.4 119.4L209.2 119.6L209.0 119.4L208.8 119.2L208.6 119.0L208.9 118.8L209.2 118.7L209.6 118.6L209.6 119.0Z" fill="#f0e6f4" opacity="0.8" stroke="#f0e6f4" stroke-width="0.6" stroke-linejoin="round"/>
<path d="M208.7 118.9L208.6 119.1L208.4 119.3L208.1 119.3L207.9 119.1L207.4 119.0L207.6 118.7L207.8 118.5L208.1 118.3L208.5 118.3L208.7 118.6Z" fill="#f0e6f4" opacity="0.8" stroke="#f0e6f4" stroke-width="0.6" stroke-linejoin="round"/>
<path d="M210.4 118.4L210.0 118.6L209.9 118.8L209.6 118.9L209.2 118.9L208.9 118.6L208.8 118.2L209.2 118.0L209.6 118.1L209.9 118.1L210.3 118.1Z" fill="#f0e6f4" opacity="0.8" stroke="#f0e6f4" stroke-width="0.6" stroke-linejoin="round"/>
<path d="M170.2,104.4 L185.5,104.4 L170.2,114.5 Z" fill="#efedf0"/>
<path d="M185.5,104.4 L212.2,104.4 L170.2,147.3 L170.2,114.5 Z" fill="#e044c6"/>
<path d="M212.2,104.4 L214.2,104.4 L170.2,149.4 L170.2,147.3 Z" fill="#f8f2f8"/>
<path d="M277.9,144.5 L277.9,166 L258,166 Z" fill="#e24cc6"/>
<path d="M277.9,142.5 L277.9,144.5 L258,166 L255.5,166 Z" fill="#f8f2f8"/>
</g>
<text x="174.0" y="114.1" font-size="8.1" stroke="#000" stroke-width="0.3" textLength="30.4" lengthAdjust="spacingAndGlyphs">100 µm</text>
<line x1="174" y1="117.5" x2="204.5" y2="117.5" stroke="#000" stroke-width="1.15" />
<text x="197.3" y="35.7" font-size="9.6" stroke="#000" stroke-width="0.14" textLength="53.7" lengthAdjust="spacingAndGlyphs" >Bone marrow</text>
<text transform="translate(163.2,70.1) rotate(-90)" font-size="9.2" stroke="#000" stroke-width="0.14" font-weight="bold" text-anchor="middle" textLength="20" lengthAdjust="spacingAndGlyphs" >Control</text>
<text transform="translate(163,133.2) rotate(-90)" font-size="9.2" stroke="#000" stroke-width="0.14" font-weight="bold" text-anchor="middle" textLength="34.2" lengthAdjust="spacingAndGlyphs" >AZA Day 6</text>
<line x1="46.7" y1="255.4" x2="48.5" y2="255.4" stroke="#333" stroke-width="0.7" />
<text x="41.9" y="256.8" font-size="3.0" fill="#333" stroke="#333" stroke-width="0.15" transform="rotate(-25,43.5,255.4)">10<tspan dy="-1.2" font-size="2.1">5</tspan></text>
<line x1="46.7" y1="269.2" x2="48.5" y2="269.2" stroke="#333" stroke-width="0.7" />
<text x="41.9" y="270.6" font-size="3.0" fill="#333" stroke="#333" stroke-width="0.15" transform="rotate(-25,43.5,269.2)">10<tspan dy="-1.2" font-size="2.1">4</tspan></text>
<line x1="46.7" y1="283.5" x2="48.5" y2="283.5" stroke="#333" stroke-width="0.7" />
<text x="41.9" y="284.9" font-size="3.0" fill="#333" stroke="#333" stroke-width="0.15" transform="rotate(-25,43.5,283.5)">10<tspan dy="-1.2" font-size="2.1">3</tspan></text>
<line x1="46.7" y1="294" x2="48.5" y2="294" stroke="#333" stroke-width="0.7" />
<circle cx="44.9" cy="294.2" r="0.6" fill="#333"/>
<line x1="62" y1="302.5" x2="62" y2="304.3" stroke="#333" stroke-width="0.7" />
<text x="60.4" y="307.4" font-size="2.8" fill="#333" stroke="#333" stroke-width="0.15">10<tspan dy="-1.1" font-size="2">2</tspan></text>
<line x1="72.7" y1="302.5" x2="72.7" y2="304.3" stroke="#333" stroke-width="0.7" />
<text x="71.1" y="307.4" font-size="2.8" fill="#333" stroke="#333" stroke-width="0.15">10<tspan dy="-1.1" font-size="2">3</tspan></text>
<line x1="85.2" y1="302.5" x2="85.2" y2="304.3" stroke="#333" stroke-width="0.7" />
<text x="83.6" y="307.4" font-size="2.8" fill="#333" stroke="#333" stroke-width="0.15">10<tspan dy="-1.1" font-size="2">4</tspan></text>
<line x1="96.7" y1="302.5" x2="96.7" y2="304.3" stroke="#333" stroke-width="0.7" />
<text x="95.1" y="307.4" font-size="2.8" fill="#333" stroke="#333" stroke-width="0.15">10<tspan dy="-1.1" font-size="2">5</tspan></text>
<line x1="47.3" y1="252.1" x2="47.3" y2="301.5" stroke="#777" stroke-width="0.5" stroke-dasharray="0.5,1.4"/>
<line x1="50.5" y1="303.7" x2="99.7" y2="303.7" stroke="#777" stroke-width="0.6" stroke-dasharray="0.6,1.0"/>
<path d="M90.3 282.0h0M86.8 282.8h0M95.8 282.9h0M89.9 290.6h0M91.6 285.9h0M93.5 282.3h0M98.0 285.1h0M90.0 290.5h0M86.4 290.2h0M97.2 284.4h0M98.7 287.8h0M96.0 286.7h0M90.2 283.2h0M99.3 287.9h0M89.5 282.2h0M98.3 281.3h0M96.3 289.0h0M94.2 279.1h0M84.4 286.8h0M96.7 279.8h0M90.6 279.9h0M89.1 287.7h0M87.1 292.4h0M88.0 285.6h0M95.8 284.7h0M86.0 293.8h0M93.4 285.7h0M85.8 293.0h0M88.5 288.8h0M90.2 293.0h0M90.2 285.8h0M95.2 285.5h0M90.9 283.9h0M94.1 290.0h0M95.2 282.3h0M87.9 283.7h0M95.6 279.8h0M88.0 287.4h0M96.2 287.9h0M98.4 283.0h0M97.7 285.7h0M94.2 289.3h0M88.4 290.5h0M94.3 286.2h0M89.4 290.3h0M87.0 290.2h0M86.7 289.8h0M97.4 282.5h0M97.3 284.6h0M90.2 280.4h0M88.8 290.4h0M95.6 281.4h0M96.2 286.3h0M87.2 291.7h0M95.5 286.7h0M92.2 289.4h0M95.9 282.0h0M88.8 288.7h0M98.9 285.8h0M89.7 288.3h0M88.6 291.9h0M90.2 281.5h0M91.1 280.7h0M86.0 286.3h0M86.8 282.9h0M88.2 288.6h0M97.8 285.2h0M97.8 286.9h0M87.7 286.6h0M84.2 284.3h0M91.7 284.4h0M95.4 288.5h0M92.3 289.7h0M93.0 285.8h0" stroke="#a4acac" stroke-width="0.6" stroke-linecap="round" fill="none"/>
<path d="M89.5 292.3L89.0 293.1L87.9 293.8L86.6 294.5L85.2 295.2L83.5 295.9L81.4 296.4L79.0 296.7L76.4 297.0L73.6 297.2L70.4 297.4L67.3 297.2L65.0 296.5L64.0 295.6L63.8 294.6L63.8 293.6L63.7 292.7L64.1 291.7L65.3 290.7L67.5 289.9L70.1 289.3L72.9 288.8L75.8 288.5L78.7 288.5L81.2 288.8L83.1 289.4L84.5 290.0L86.0 290.4L87.6 290.9L88.9 291.5Z" fill="#dadfdf" stroke="#3e4848" stroke-width="0.55" stroke-linejoin="round"/>
<path d="M87.2 292.4L86.8 293.1L86.0 293.7L85.1 294.3L84.2 294.9L83.1 295.6L81.3 296.3L79.0 296.7L76.5 296.8L74.2 296.6L72.0 296.4L69.9 296.1L67.8 295.7L66.1 295.2L65.1 294.4L64.7 293.6L64.6 292.7L65.1 291.8L66.5 290.9L68.8 290.3L71.5 289.9L74.0 289.8L76.2 289.6L78.4 289.4L80.8 289.3L82.9 289.5L84.6 289.9L85.8 290.5L86.6 291.1L87.1 291.7Z" fill="none" stroke="#3b4545" stroke-width="0.55" stroke-linejoin="round"/>
<path d="M86.2 292.4L86.4 293.0L85.9 293.7L84.7 294.2L83.4 294.7L82.0 295.1L80.4 295.5L78.6 295.8L76.7 296.0L74.7 296.0L72.7 296.0L70.5 295.8L68.4 295.5L67.0 295.0L66.6 294.2L67.1 293.4L67.8 292.7L68.4 292.1L69.1 291.4L70.3 290.7L72.0 290.2L74.1 289.9L76.3 289.7L78.4 289.7L80.3 289.8L82.0 290.1L83.1 290.5L83.9 291.1L84.6 291.5L85.4 291.9Z" fill="none" stroke="#384242" stroke-width="0.55" stroke-linejoin="round"/>
<path d="M84.7 292.5L85.0 293.0L84.5 293.5L83.6 294.0L82.4 294.4L81.2 294.7L79.9 295.0L78.4 295.3L76.8 295.4L75.2 295.4L73.5 295.4L71.8 295.3L70.1 295.1L68.9 294.6L68.5 294.0L68.9 293.3L69.5 292.8L70.1 292.2L70.6 291.7L71.6 291.1L73.0 290.7L74.7 290.4L76.5 290.3L78.2 290.3L79.8 290.3L81.2 290.6L82.2 290.9L82.8 291.4L83.4 291.7L84.1 292.1Z" fill="none" stroke="#343e3e" stroke-width="0.55" stroke-linejoin="round"/>
<path d="M83.2 292.6L83.0 293.0L82.6 293.4L82.1 293.7L81.3 294.0L80.4 294.3L79.3 294.6L78.2 294.8L76.9 295.1L75.4 295.2L74.1 295.1L73.1 294.8L72.4 294.4L71.8 294.0L71.2 293.7L70.7 293.3L70.7 292.8L71.1 292.3L71.9 291.9L72.8 291.5L73.9 291.1L75.3 290.9L76.7 290.9L78.0 291.0L79.1 291.1L80.2 291.2L81.3 291.3L82.3 291.5L83.0 291.8L83.3 292.2Z" fill="none" stroke="#313b3b" stroke-width="0.55" stroke-linejoin="round"/>
<path d="M81.9 292.7L81.7 293.0L81.3 293.2L80.9 293.5L80.3 293.8L79.7 294.0L78.9 294.1L78.0 294.2L77.1 294.4L76.1 294.5L75.0 294.5L74.1 294.3L73.5 294.1L73.2 293.7L73.1 293.4L72.9 293.1L72.8 292.8L72.9 292.5L73.4 292.2L74.1 291.9L75.0 291.7L75.9 291.5L76.9 291.4L77.9 291.4L78.8 291.5L79.4 291.7L80.1 291.8L80.8 292.0L81.4 292.1L81.9 292.4Z" fill="none" stroke="#2e3838" stroke-width="0.55" stroke-linejoin="round"/>
<path d="M64.5,297 C72,298.4 84,297.7 90,294.7 C93,291.7 96,288.2 98.5,284.2" fill="none" stroke="#5a6464" stroke-width="0.55"/>
<path d="M87.6 279.3L87.2 280.3L86.7 281.2L86.2 282.1L85.2 283.0L83.6 283.6L81.8 283.9L80.1 284.0L78.5 284.0L76.8 284.1L75.1 284.0L73.4 283.8L72.0 283.2L70.8 282.5L69.8 281.6L69.2 280.6L69.4 279.5L70.5 278.5L72.1 277.8L73.8 277.3L75.1 276.8L76.4 276.2L77.9 275.7L79.6 275.3L81.4 275.3L83.1 275.5L84.8 275.9L86.3 276.5L87.4 277.3L87.8 278.3Z" fill="#d6dcdc" stroke="#4a5454" stroke-width="0.5" stroke-linejoin="round"/>
<path d="M87.8 279.3L87.3 280.3L86.3 281.1L85.1 281.8L83.9 282.4L82.7 282.9L81.4 283.2L80.0 283.4L78.5 283.6L77.0 283.8L75.3 283.9L73.5 283.7L72.2 283.1L71.6 282.2L71.5 281.3L71.6 280.4L71.7 279.6L71.9 278.7L72.7 277.9L73.8 277.3L75.1 276.8L76.5 276.4L78.0 276.0L79.5 275.9L81.0 276.0L82.4 276.3L83.6 276.7L84.8 277.2L86.2 277.7L87.3 278.4Z" fill="none" stroke="#454f4f" stroke-width="0.53" stroke-linejoin="round"/>
<path d="M86.0 279.4L85.8 280.2L85.2 280.9L84.2 281.5L83.2 282.0L82.1 282.4L81.1 282.9L79.9 283.3L78.5 283.6L77.1 283.6L75.9 283.2L74.9 282.8L73.9 282.3L73.0 281.8L72.2 281.2L72.0 280.4L72.2 279.6L72.7 278.9L73.4 278.2L74.3 277.5L75.5 277.1L76.9 276.9L78.2 276.8L79.4 276.8L80.6 276.8L82.1 276.6L83.6 276.7L84.9 277.1L85.6 277.8L86.0 278.6Z" fill="none" stroke="#414a4a" stroke-width="0.56" stroke-linejoin="round"/>
<path d="M84.8 279.5L84.4 280.1L83.9 280.7L83.5 281.3L83.0 281.9L82.1 282.4L81.0 282.7L79.8 282.7L78.7 282.7L77.6 282.6L76.5 282.6L75.4 282.4L74.4 282.1L73.7 281.6L73.2 281.0L72.8 280.3L72.8 279.6L73.3 279.0L74.3 278.4L75.4 278.1L76.4 277.8L77.3 277.5L78.3 277.2L79.4 276.9L80.6 276.8L81.7 277.0L82.8 277.3L83.7 277.7L84.4 278.2L84.8 278.8Z" fill="none" stroke="#3c4545" stroke-width="0.59" stroke-linejoin="round"/>
<path d="M83.9 279.6L83.7 280.1L83.3 280.6L82.7 281.1L82.0 281.4L81.2 281.7L80.5 282.0L79.6 282.3L78.7 282.5L77.7 282.5L76.8 282.3L76.1 281.9L75.5 281.6L74.8 281.2L74.3 280.8L74.1 280.2L74.2 279.7L74.6 279.2L75.1 278.7L75.7 278.2L76.5 277.9L77.5 277.7L78.4 277.7L79.3 277.7L80.1 277.7L81.1 277.7L82.2 277.7L83.1 278.0L83.7 278.4L83.9 279.0Z" fill="none" stroke="#384141" stroke-width="0.61" stroke-linejoin="round"/>
<path d="M82.5 279.7L82.5 280.1L82.4 280.5L82.2 280.9L81.7 281.3L81.0 281.5L80.2 281.6L79.5 281.7L78.8 281.7L78.1 281.7L77.3 281.7L76.6 281.5L76.1 281.3L75.5 281.0L75.1 280.6L74.8 280.2L75.0 279.7L75.5 279.3L76.2 279.0L76.7 278.8L77.3 278.5L77.8 278.2L78.5 278.0L79.2 277.9L80.0 277.9L80.8 278.0L81.5 278.2L82.1 278.5L82.5 278.8L82.6 279.2Z" fill="none" stroke="#333c3c" stroke-width="0.64" stroke-linejoin="round"/>
<path d="M82.0 279.7L82.0 280.0L81.6 280.3L81.2 280.6L80.8 280.8L80.3 281.0L79.9 281.1L79.4 281.2L78.8 281.2L78.3 281.3L77.7 281.3L77.1 281.2L76.6 281.0L76.3 280.7L76.3 280.4L76.4 280.1L76.5 279.8L76.6 279.5L76.8 279.2L77.1 279.0L77.6 278.8L78.1 278.6L78.6 278.5L79.2 278.4L79.7 278.5L80.2 278.6L80.6 278.8L81.0 279.0L81.4 279.1L81.8 279.4Z" fill="none" stroke="#2f3737" stroke-width="0.67" stroke-linejoin="round"/>
<path d="M80.9 279.8L80.8 280.0L80.6 280.2L80.4 280.3L80.1 280.5L79.9 280.6L79.6 280.7L79.2 280.7L78.9 280.8L78.5 280.8L78.2 280.8L77.8 280.7L77.5 280.6L77.4 280.4L77.4 280.2L77.4 280.0L77.4 279.8L77.4 279.6L77.6 279.5L77.8 279.3L78.1 279.2L78.4 279.1L78.8 279.0L79.1 279.0L79.5 279.0L79.8 279.1L80.0 279.2L80.3 279.3L80.6 279.4L80.8 279.6Z" fill="none" stroke="#2a3232" stroke-width="0.7" stroke-linejoin="round"/>
<path d="M58.0,273.4 L68.3,273.4 C66,278.8 65,286.4 64.6,289.4 L61.8,289.4 C61,286.4 60,278.8 58.0,273.4 Z" fill="#c4cccc"/>
<path d="M58.3,273.6 C60,278.8 61,286.4 61.8,289.4 M68,273.6 C66,278.8 65,286.4 64.6,289.4 M59.8,273.8 C61,278.8 61.8,284.4 62.3,288.4 M66.5,273.8 C65,278.8 64.4,284.4 64.0,288.4 M61.5,274.3 C62.3,278.8 62.8,284.4 63,287.4 M64.8,274.3 C64,278.8 63.6,284.4 63.4,287.4" fill="none" stroke="#7a8484" stroke-width="0.45"/>
<path d="M62.3,284.9 C62,289.2 60.8,291.66 60.8,295.1 C60.8,297.4 65.6,297.4 65.6,295.1 C65.6,291.66 64.4,289.2 64.1,284.9 Z" fill="#0e1212"/>
<path d="M66.05,291.05 C66.5,295.2 65.9,297.8 63.2,298.4" fill="none" stroke="#4a5454" stroke-width="0.5"/>
<rect x="56.5" y="272.8" width="32.3" height="13.6" fill="none" stroke="#333" stroke-width="0.75"/>
<line x1="69.4" y1="272.8" x2="69.4" y2="286.4" stroke="#333" stroke-width="0.75" />
<rect x="48.5" y="250.1" width="52.2" height="52.4" fill="none" stroke="#3a3a3a" stroke-width="0.9"/>
<line x1="118.6" y1="254.4" x2="120.4" y2="254.4" stroke="#333" stroke-width="0.7" />
<text x="113.8" y="255.8" font-size="3.0" fill="#333" stroke="#333" stroke-width="0.15" transform="rotate(-25,115.4,254.4)">10<tspan dy="-1.2" font-size="2.1">5</tspan></text>
<line x1="118.6" y1="269.6" x2="120.4" y2="269.6" stroke="#333" stroke-width="0.7" />
<text x="113.8" y="271" font-size="3.0" fill="#333" stroke="#333" stroke-width="0.15" transform="rotate(-25,115.4,269.6)">10<tspan dy="-1.2" font-size="2.1">4</tspan></text>
<line x1="118.6" y1="284.7" x2="120.4" y2="284.7" stroke="#333" stroke-width="0.7" />
<text x="113.8" y="286.1" font-size="3.0" fill="#333" stroke="#333" stroke-width="0.15" transform="rotate(-25,115.4,284.7)">10<tspan dy="-1.2" font-size="2.1">3</tspan></text>
<line x1="118.6" y1="291.2" x2="120.4" y2="291.2" stroke="#333" stroke-width="0.7" />
<circle cx="116.8" cy="291.4" r="0.6" fill="#333"/>
<line x1="128.9" y1="302.5" x2="128.9" y2="304.3" stroke="#333" stroke-width="0.7" />
<text x="127.3" y="307.4" font-size="2.8" fill="#333" stroke="#333" stroke-width="0.15">10<tspan dy="-1.1" font-size="2">2</tspan></text>
<line x1="132.4" y1="302.5" x2="132.4" y2="304.3" stroke="#333" stroke-width="0.7" />
<text x="130.8" y="307.4" font-size="2.8" fill="#333" stroke="#333" stroke-width="0.15">10<tspan dy="-1.1" font-size="2">3</tspan></text>
<line x1="144.4" y1="302.5" x2="144.4" y2="304.3" stroke="#333" stroke-width="0.7" />
<text x="142.8" y="307.4" font-size="2.8" fill="#333" stroke="#333" stroke-width="0.15">10<tspan dy="-1.1" font-size="2">4</tspan></text>
<line x1="157.9" y1="302.5" x2="157.9" y2="304.3" stroke="#333" stroke-width="0.7" />
<text x="156.3" y="307.4" font-size="2.8" fill="#333" stroke="#333" stroke-width="0.15">10<tspan dy="-1.1" font-size="2">5</tspan></text>
<line x1="169.4" y1="302.5" x2="169.4" y2="304.3" stroke="#333" stroke-width="0.7" />
<text x="167.8" y="307.4" font-size="2.8" fill="#333" stroke="#333" stroke-width="0.15">10<tspan dy="-1.1" font-size="2">6</tspan></text>
<line x1="119.2" y1="252.1" x2="119.2" y2="301.5" stroke="#777" stroke-width="0.5" stroke-dasharray="0.5,1.4"/>
<line x1="122.4" y1="303.7" x2="171.6" y2="303.7" stroke="#777" stroke-width="0.6" stroke-dasharray="0.6,1.0"/>
<path d="M158.8 285.1L156.8 287.1L154.8 288.5L153.2 289.7L151.6 290.8L150.0 291.7L148.2 292.5L146.2 293.2L144.0 293.8L141.5 293.7L139.2 292.6L137.8 290.5L137.2 288.0L137.0 285.7L136.7 283.5L136.4 281.1L136.5 278.7L137.6 276.4L139.5 274.9L141.6 274.0L143.8 273.5L145.8 273.4L147.7 273.5L149.6 273.9L151.4 274.5L153.3 275.1L155.7 275.9L158.2 277.2L160.0 279.5L160.2 282.4Z" fill="#e0e5e5" stroke="#6e7878" stroke-width="0.5" stroke-linejoin="round"/>
<path d="M156.7 284.7L155.3 286.4L153.8 287.8L152.4 288.8L151.0 289.7L149.5 290.4L148.1 291.3L146.3 292.3L144.2 292.8L142.1 292.5L140.5 291.1L139.6 289.1L139.1 287.1L138.5 285.3L137.9 283.4L137.5 281.3L137.9 279.2L139.0 277.4L140.5 276.0L142.3 275.0L144.1 274.6L145.9 274.6L147.6 275.1L149.1 275.6L150.7 275.9L152.6 276.0L155.0 276.5L157.1 277.8L158.2 280.0L157.9 282.5Z" fill="none" stroke="#667070" stroke-width="0.5" stroke-linejoin="round"/>
<path d="M155.1 284.4L153.9 285.9L152.6 286.9L151.3 287.7L150.3 288.6L149.3 289.8L148.0 290.9L146.4 291.5L144.7 291.2L143.3 290.2L142.2 289.0L141.2 287.8L140.2 286.5L139.4 285.0L139.0 283.4L139.0 281.6L139.3 279.8L140.0 278.1L141.3 276.8L143.0 276.2L144.7 276.3L146.2 276.7L147.5 276.9L148.8 276.6L150.5 276.3L152.3 276.4L154.1 277.2L155.2 278.8L155.7 280.7L155.7 282.6Z" fill="none" stroke="#5e6868" stroke-width="0.5" stroke-linejoin="round"/>
<path d="M154.0 284.2L153.0 285.5L151.8 286.3L150.7 287.1L149.8 287.7L148.8 288.4L147.7 288.8L146.6 289.0L145.3 289.1L143.9 288.9L142.6 288.5L141.5 287.5L141.0 286.1L140.9 284.6L141.0 283.3L141.1 282.0L141.2 280.6L141.7 279.3L142.6 278.2L143.8 277.6L145.1 277.3L146.3 277.2L147.4 277.1L148.6 277.2L149.8 277.6L150.8 278.3L151.8 279.0L153.0 279.9L154.0 281.1L154.4 282.7Z" fill="none" stroke="#566060" stroke-width="0.5" stroke-linejoin="round"/>
<path d="M151.9 283.9L151.3 284.8L150.5 285.5L149.8 286.0L149.1 286.6L148.5 287.3L147.6 288.0L146.6 288.3L145.6 288.1L144.7 287.4L144.0 286.7L143.4 286.0L142.8 285.2L142.3 284.3L142.1 283.2L142.1 282.1L142.3 281.1L142.7 280.0L143.5 279.2L144.5 278.7L145.6 278.8L146.5 279.0L147.3 279.1L148.1 278.9L149.2 278.8L150.3 278.9L151.3 279.5L152.0 280.4L152.3 281.6L152.3 282.8Z" fill="none" stroke="#4e5858" stroke-width="0.5" stroke-linejoin="round"/>
<path d="M150.2 267.7L150.4 270.3L150.5 272.7L150.5 275.0L150.3 277.3L149.5 279.3L148.1 280.6L146.4 281.4L144.6 281.8L142.9 282.4L141.1 282.9L139.0 283.0L136.7 282.3L134.6 280.9L132.8 278.9L131.1 276.6L130.1 273.9L130.1 271.2L131.1 268.9L132.6 267.2L133.9 266.0L134.9 264.6L135.8 263.0L137.1 261.4L138.8 260.4L140.9 260.1L143.1 260.5L145.4 261.4L147.6 262.9L149.2 265.1Z" fill="none" stroke="#98a2a2" stroke-width="0.45" stroke-linejoin="round"/>
<path d="M149.1 268.2L149.3 270.5L149.2 272.6L149.0 274.5L148.8 276.4L148.3 278.3L147.3 279.7L145.9 280.5L144.3 280.8L142.7 281.1L141.1 281.3L139.3 281.4L137.3 280.9L135.5 279.7L134.0 277.9L132.7 275.9L131.8 273.6L131.5 271.3L132.1 269.2L133.4 267.7L134.7 266.6L135.8 265.6L136.6 264.4L137.7 263.0L139.1 261.9L140.9 261.6L142.9 262.0L144.8 262.8L146.6 264.2L148.1 266.0Z" fill="none" stroke="#8e9898" stroke-width="0.45" stroke-linejoin="round"/>
<path d="M147.3 269.1L147.9 270.8L148.4 272.6L148.6 274.4L148.2 276.1L147.2 277.3L146.0 278.0L144.8 278.6L143.7 279.2L142.5 279.9L141.1 280.2L139.5 280.0L137.9 279.4L136.3 278.5L134.8 277.2L133.6 275.5L133.1 273.4L133.5 271.4L134.3 269.9L135.0 268.6L135.5 267.3L136.1 266.0L136.9 264.8L138.1 264.0L139.4 263.6L140.9 263.5L142.6 263.6L144.2 264.3L145.6 265.5L146.6 267.3Z" fill="none" stroke="#848e8e" stroke-width="0.45" stroke-linejoin="round"/>
<path d="M146.9 269.2L147.5 270.9L147.4 272.5L146.9 273.9L146.3 275.0L145.7 276.0L145.0 276.8L144.2 277.5L143.2 278.0L142.2 278.4L141.1 278.8L139.7 279.0L138.2 278.7L136.9 277.7L136.1 276.1L135.8 274.4L135.5 273.0L135.3 271.6L135.2 270.2L135.4 268.9L136.0 267.8L136.8 266.9L137.7 266.2L138.6 265.5L139.7 265.1L140.9 265.1L142.2 265.7L143.3 266.4L144.5 267.1L145.8 268.0Z" fill="none" stroke="#7a8484" stroke-width="0.45" stroke-linejoin="round"/>
<path d="M145.5 273.0L143.9 273.6L142.4 274.1L140.9 274.5L139.4 274.9L137.6 274.9L135.8 274.3L134.2 273.1L132.9 271.8L131.7 270.5L130.6 269.2L129.7 267.7L129.3 266.2L129.3 264.8L129.7 263.5L130.3 262.4L131.2 261.4L132.4 260.8L133.9 260.8L135.5 261.1L136.9 261.5L138.3 261.7L139.9 261.8L141.8 262.2L143.8 263.2L145.3 264.8L146.3 266.5L147.0 268.4L147.1 270.2L146.6 271.8Z" fill="none" stroke="#3a4444" stroke-width="0.6" stroke-linejoin="round"/>
<path d="M144.0 272.2L142.7 272.8L141.6 273.3L140.4 273.9L139.0 274.2L137.4 274.1L135.9 273.4L134.5 272.3L133.4 271.2L132.3 270.2L131.3 269.1L130.6 267.8L130.2 266.5L130.3 265.3L130.5 264.1L131.0 263.1L131.8 262.2L132.9 261.8L134.3 261.9L135.6 262.2L136.8 262.4L138.0 262.4L139.5 262.5L141.2 263.0L142.7 263.9L143.9 265.3L144.8 266.8L145.4 268.4L145.5 269.9L145.0 271.2Z" fill="none" stroke="#303939" stroke-width="0.68" stroke-linejoin="round"/>
<path d="M142.5 271.3L141.7 272.1L141.0 272.8L139.9 273.4L138.6 273.4L137.2 273.0L136.0 272.2L134.9 271.5L133.9 270.7L132.8 269.9L132.0 268.9L131.5 267.9L131.2 266.8L131.0 265.7L131.1 264.6L131.6 263.7L132.5 263.2L133.6 263.1L134.7 263.2L135.7 263.2L136.7 263.1L137.8 263.0L139.1 263.2L140.4 263.8L141.5 264.7L142.6 265.8L143.4 267.0L143.9 268.3L143.8 269.6L143.2 270.6Z" fill="none" stroke="#272d2d" stroke-width="0.77" stroke-linejoin="round"/>
<path d="M142.0 271.3L141.2 271.8L140.1 272.0L139.0 272.0L138.0 271.9L137.0 271.7L136.1 271.4L135.1 270.9L134.3 270.3L133.4 269.6L132.6 268.9L131.9 268.0L131.6 267.0L131.9 266.1L132.5 265.5L133.1 265.0L133.6 264.5L134.1 264.0L134.8 263.7L135.7 263.6L136.6 263.7L137.5 263.8L138.6 264.1L139.6 264.6L140.5 265.4L141.1 266.3L141.5 267.3L141.8 268.2L142.2 269.2L142.4 270.3Z" fill="none" stroke="#1d2222" stroke-width="0.85" stroke-linejoin="round"/>
<path d="M140.6 270.5L140.1 271.0L139.3 271.2L138.4 271.2L137.6 271.0L136.8 270.9L136.1 270.7L135.4 270.3L134.7 269.8L134.1 269.3L133.5 268.7L133.0 268.0L132.7 267.2L132.7 266.5L133.2 266.0L133.7 265.7L134.2 265.4L134.7 265.1L135.2 264.8L135.8 264.6L136.5 264.7L137.2 264.8L138.0 265.1L138.8 265.5L139.5 266.0L140.1 266.7L140.3 267.5L140.4 268.2L140.6 268.9L140.7 269.7Z" fill="none" stroke="#131717" stroke-width="0.93" stroke-linejoin="round"/>
<path d="M138.9 269.5L138.5 269.8L138.2 270.1L137.8 270.3L137.3 270.4L136.7 270.3L136.1 270.1L135.6 269.7L135.2 269.3L134.8 268.9L134.4 268.5L134.1 268.0L134.0 267.6L134.0 267.1L134.0 266.6L134.2 266.2L134.5 265.9L135.0 265.8L135.5 265.8L136.0 265.9L136.4 265.9L136.9 265.9L137.5 266.0L138.0 266.3L138.5 266.7L138.9 267.1L139.3 267.7L139.5 268.2L139.5 268.8L139.3 269.2Z" fill="none" stroke="#0a0b0b" stroke-width="1.02" stroke-linejoin="round"/>
<path d="M137.8 269.0L137.6 269.1L137.3 269.2L137.0 269.3L136.8 269.4L136.5 269.4L136.1 269.3L135.8 269.1L135.6 268.9L135.4 268.6L135.2 268.4L135.1 268.1L135.0 267.8L135.0 267.6L135.0 267.3L135.1 267.1L135.3 266.9L135.5 266.8L135.7 266.7L136.1 266.8L136.3 266.9L136.6 267.0L136.9 267.0L137.2 267.1L137.5 267.3L137.8 267.6L138.0 267.9L138.0 268.2L138.0 268.5L138.0 268.8Z" fill="none" stroke="#000000" stroke-width="1.1" stroke-linejoin="round"/>
<ellipse cx="136.4" cy="268" rx="0.65" ry="0.48" transform="rotate(35,136.4,268)" fill="#f4f6f6"/>
<line x1="120.4" y1="277.9" x2="147" y2="277.9" stroke="#222" stroke-width="1" />
<line x1="147" y1="277.9" x2="172.6" y2="277.9" stroke="#555" stroke-width="0.9" />
<line x1="147.2" y1="250.1" x2="147.2" y2="302.5" stroke="#777" stroke-width="0.8" />
<rect x="120.4" y="250.1" width="52.2" height="52.4" fill="none" stroke="#3a3a3a" stroke-width="0.9"/>
<line x1="189.8" y1="254.4" x2="191.6" y2="254.4" stroke="#333" stroke-width="0.7" />
<text x="185" y="255.8" font-size="3.0" fill="#333" stroke="#333" stroke-width="0.15" transform="rotate(-25,186.6,254.4)">10<tspan dy="-1.2" font-size="2.1">5</tspan></text>
<line x1="189.8" y1="265.4" x2="191.6" y2="265.4" stroke="#333" stroke-width="0.7" />
<text x="185" y="266.8" font-size="3.0" fill="#333" stroke="#333" stroke-width="0.15" transform="rotate(-25,186.6,265.4)">10<tspan dy="-1.2" font-size="2.1">4</tspan></text>
<line x1="189.8" y1="276.4" x2="191.6" y2="276.4" stroke="#333" stroke-width="0.7" />
<text x="185" y="277.8" font-size="3.0" fill="#333" stroke="#333" stroke-width="0.15" transform="rotate(-25,186.6,276.4)">10<tspan dy="-1.2" font-size="2.1">3</tspan></text>
<line x1="189.8" y1="291.2" x2="191.6" y2="291.2" stroke="#333" stroke-width="0.7" />
<circle cx="188" cy="291.4" r="0.6" fill="#333"/>
<line x1="198.1" y1="302.5" x2="198.1" y2="304.3" stroke="#333" stroke-width="0.7" />
<text x="196.5" y="307.4" font-size="2.8" fill="#333" stroke="#333" stroke-width="0.15">10<tspan dy="-1.1" font-size="2">2</tspan></text>
<line x1="201.6" y1="302.5" x2="201.6" y2="304.3" stroke="#333" stroke-width="0.7" />
<text x="200" y="307.4" font-size="2.8" fill="#333" stroke="#333" stroke-width="0.15">10<tspan dy="-1.1" font-size="2">3</tspan></text>
<line x1="213.6" y1="302.5" x2="213.6" y2="304.3" stroke="#333" stroke-width="0.7" />
<text x="212" y="307.4" font-size="2.8" fill="#333" stroke="#333" stroke-width="0.15">10<tspan dy="-1.1" font-size="2">4</tspan></text>
<line x1="226.6" y1="302.5" x2="226.6" y2="304.3" stroke="#333" stroke-width="0.7" />
<text x="225" y="307.4" font-size="2.8" fill="#333" stroke="#333" stroke-width="0.15">10<tspan dy="-1.1" font-size="2">5</tspan></text>
<line x1="238.1" y1="302.5" x2="238.1" y2="304.3" stroke="#333" stroke-width="0.7" />
<text x="236.5" y="307.4" font-size="2.8" fill="#333" stroke="#333" stroke-width="0.15">10<tspan dy="-1.1" font-size="2">6</tspan></text>
<line x1="190.4" y1="252.1" x2="190.4" y2="301.5" stroke="#777" stroke-width="0.5" stroke-dasharray="0.5,1.4"/>
<line x1="193.6" y1="303.7" x2="242.9" y2="303.7" stroke="#777" stroke-width="0.6" stroke-dasharray="0.6,1.0"/>
<path d="M219.7 281.5L218.9 283.9L217.5 285.8L216.1 287.3L214.8 288.5L213.5 289.6L212.1 290.5L210.6 291.0L209.0 291.3L207.3 291.4L205.4 291.2L203.7 290.1L202.5 288.2L202.0 285.9L201.9 283.6L201.8 281.5L201.7 279.3L201.8 277.0L202.6 274.9L204.0 273.4L205.7 272.5L207.4 272.0L209.0 271.8L210.6 271.9L212.1 272.4L213.6 273.3L214.9 274.3L216.5 275.4L218.2 276.8L219.4 278.9Z" fill="#dde2e2" stroke="#6e7878" stroke-width="0.5" stroke-linejoin="round"/>
<path d="M217.3 281.5L217.2 283.5L216.9 285.5L216.0 287.2L214.8 288.5L213.3 289.2L211.9 289.6L210.5 290.0L209.1 290.3L207.6 290.2L206.2 289.5L204.9 288.3L203.8 287.0L202.7 285.5L201.8 283.7L201.4 281.5L201.9 279.4L202.9 277.6L204.1 276.3L205.2 275.0L206.3 273.8L207.6 273.0L209.1 272.8L210.5 272.9L211.9 273.2L213.4 273.5L215.0 274.2L216.3 275.5L217.1 277.4L217.3 279.5Z" fill="none" stroke="#677171" stroke-width="0.5" stroke-linejoin="round"/>
<path d="M216.6 281.5L216.0 283.2L215.4 284.6L214.8 286.1L214.1 287.5L213.1 288.7L211.8 289.3L210.5 289.4L209.2 289.2L207.9 288.9L206.6 288.4L205.5 287.6L204.6 286.3L203.8 284.9L203.2 283.3L202.7 281.5L202.6 279.6L203.1 277.7L204.3 276.4L205.7 275.7L206.9 275.2L208.1 274.7L209.2 274.2L210.4 273.9L211.7 273.9L213.0 274.4L214.3 275.2L215.5 276.3L216.4 277.8L216.8 279.6Z" fill="none" stroke="#5f6969" stroke-width="0.5" stroke-linejoin="round"/>
<path d="M215.8 281.5L215.3 283.0L214.6 284.2L213.9 285.2L213.3 286.4L212.5 287.5L211.6 288.4L210.4 288.8L209.2 288.5L208.1 288.0L207.2 287.3L206.2 286.6L205.3 285.6L204.6 284.4L204.2 283.0L204.0 281.5L203.8 279.9L204.0 278.3L204.8 276.9L205.9 276.1L207.2 275.8L208.3 275.8L209.3 275.6L210.3 275.2L211.5 275.0L212.7 275.2L213.8 275.9L214.7 277.0L215.4 278.3L215.9 279.9Z" fill="none" stroke="#586262" stroke-width="0.5" stroke-linejoin="round"/>
<path d="M214.5 281.5L214.2 282.7L213.9 283.8L213.6 285.0L213.0 286.0L212.2 286.8L211.2 287.1L210.3 287.1L209.3 287.0L208.4 286.9L207.5 286.5L206.7 285.9L206.0 285.0L205.5 283.9L205.0 282.8L204.6 281.5L204.6 280.1L205.1 278.9L206.0 278.0L206.9 277.4L207.7 276.9L208.5 276.4L209.3 276.0L210.3 275.8L211.2 276.0L212.1 276.4L213.0 276.9L213.9 277.7L214.5 278.8L214.7 280.2Z" fill="none" stroke="#515b5b" stroke-width="0.5" stroke-linejoin="round"/>
<path d="M213.9 281.5L213.5 282.5L213.0 283.3L212.6 284.1L212.2 284.8L211.7 285.6L211.0 286.3L210.2 286.5L209.4 286.3L208.7 285.9L208.0 285.4L207.4 284.9L206.8 284.3L206.3 283.5L206.0 282.5L205.9 281.5L205.8 280.4L205.9 279.3L206.4 278.4L207.2 277.8L208.0 277.6L208.8 277.6L209.5 277.4L210.2 277.2L210.9 277.0L211.8 277.2L212.5 277.7L213.1 278.5L213.6 279.4L213.9 280.4Z" fill="none" stroke="#495353" stroke-width="0.5" stroke-linejoin="round"/>
<path d="M212.9 281.5L212.7 282.3L212.4 283.0L212.1 283.6L211.6 284.0L211.1 284.4L210.6 284.7L210.1 285.0L209.5 285.3L208.8 285.3L208.2 285.0L207.8 284.3L207.5 283.6L207.3 282.9L207.1 282.2L206.9 281.5L206.8 280.7L207.0 279.9L207.3 279.2L207.8 278.7L208.3 278.2L208.9 278.0L209.5 278.0L210.1 278.3L210.6 278.5L211.1 278.7L211.7 278.8L212.4 279.1L212.9 279.8L213.0 280.6Z" fill="none" stroke="#424c4c" stroke-width="0.5" stroke-linejoin="round"/>
<path d="M214.3 272.0L214.5 273.9L214.1 275.7L213.3 277.2L212.2 278.4L211.2 279.5L210.0 280.3L208.7 280.7L207.3 280.7L206.1 280.2L204.8 279.6L203.5 278.8L202.4 277.5L201.8 275.8L201.8 273.8L202.3 272.0L202.7 270.5L203.1 269.0L203.5 267.6L204.2 266.3L205.2 265.3L206.3 264.8L207.4 264.5L208.6 264.4L209.7 264.7L210.8 265.4L211.6 266.6L212.2 267.8L212.8 269.1L213.6 270.4Z" fill="none" stroke="#2a3232" stroke-width="0.8" stroke-linejoin="round"/>
<path d="M213.3 272.0L213.2 273.5L212.9 275.0L212.4 276.4L211.6 277.5L210.7 278.3L209.7 279.0L208.6 279.7L207.4 280.2L206.1 280.1L204.9 279.2L204.2 277.8L203.7 276.2L203.4 274.8L203.1 273.4L202.8 272.0L202.9 270.5L203.3 269.2L203.9 268.0L204.6 266.9L205.5 266.0L206.4 265.4L207.5 265.4L208.5 265.8L209.3 266.4L210.2 266.7L211.2 267.1L212.2 267.8L213.0 269.0L213.3 270.5Z" fill="none" stroke="#232a2a" stroke-width="0.87" stroke-linejoin="round"/>
<path d="M212.5 272.0L212.3 273.2L211.9 274.4L211.6 275.6L211.2 276.8L210.6 278.1L209.6 278.9L208.5 279.1L207.5 278.7L206.6 278.0L205.7 277.4L204.9 276.7L204.2 275.7L203.8 274.6L203.6 273.3L203.5 272.0L203.5 270.7L203.7 269.4L204.3 268.3L205.2 267.7L206.0 267.4L206.8 267.1L207.6 266.8L208.4 266.5L209.3 266.4L210.2 266.8L210.9 267.5L211.5 268.5L212.0 269.6L212.4 270.7Z" fill="none" stroke="#1c2121" stroke-width="0.93" stroke-linejoin="round"/>
<path d="M212.1 272.0L211.9 273.1L211.5 274.2L211.1 275.1L210.6 275.9L210.0 276.6L209.2 277.1L208.4 277.2L207.6 277.3L206.7 277.3L205.9 277.0L205.1 276.4L204.6 275.4L204.5 274.1L204.5 273.0L204.6 272.0L204.6 271.0L204.7 270.0L205.0 269.1L205.6 268.3L206.2 267.8L206.9 267.3L207.6 267.1L208.4 267.1L209.1 267.5L209.6 268.1L210.1 268.7L210.7 269.3L211.3 270.0L211.8 270.9Z" fill="none" stroke="#151919" stroke-width="1" stroke-linejoin="round"/>
<path d="M211.2 272.0L211.1 272.9L210.8 273.7L210.5 274.5L210.1 275.1L209.6 275.7L209.0 276.0L208.3 276.2L207.7 276.2L207.0 276.2L206.3 276.0L205.7 275.5L205.3 274.7L205.2 273.7L205.2 272.8L205.2 272.0L205.3 271.2L205.4 270.4L205.6 269.6L206.1 269.0L206.6 268.6L207.1 268.2L207.7 268.0L208.3 268.0L208.9 268.4L209.3 268.9L209.7 269.4L210.2 269.8L210.7 270.4L211.1 271.1Z" fill="none" stroke="#0e1111" stroke-width="1.07" stroke-linejoin="round"/>
<path d="M210.4 272.0L210.4 272.7L210.2 273.3L209.9 273.9L209.5 274.3L209.2 274.7L208.7 275.0L208.2 275.1L207.8 275.1L207.3 275.0L206.8 274.9L206.3 274.6L205.9 274.0L205.8 273.4L205.8 272.6L205.9 272.0L206.0 271.4L206.1 270.8L206.2 270.3L206.5 269.8L206.9 269.4L207.3 269.2L207.8 269.0L208.2 269.0L208.7 269.2L209.0 269.5L209.3 270.0L209.6 270.4L209.9 270.8L210.2 271.4Z" fill="none" stroke="#070808" stroke-width="1.13" stroke-linejoin="round"/>
<path d="M209.5 272.0L209.5 272.4L209.4 272.8L209.2 273.2L209.0 273.5L208.8 273.8L208.5 274.1L208.2 274.3L207.8 274.3L207.5 274.1L207.2 273.8L207.0 273.5L206.8 273.2L206.6 272.8L206.5 272.4L206.5 272.0L206.5 271.6L206.6 271.2L206.8 270.8L207.0 270.4L207.3 270.3L207.6 270.2L207.9 270.2L208.1 270.2L208.4 270.2L208.7 270.3L209.0 270.4L209.2 270.8L209.4 271.2L209.5 271.6Z" fill="none" stroke="#000000" stroke-width="1.2" stroke-linejoin="round"/>
<ellipse cx="208.1" cy="272.3" rx="0.9" ry="2.6" fill="#ffffff"/>
<rect x="196.5" y="259.3" width="24.2" height="17.2" fill="none" stroke="#333" stroke-width="0.75"/>
<rect x="196.5" y="276.5" width="24.2" height="25.1" fill="none" stroke="#7a5a66" stroke-width="0.75"/>
<line x1="196.5" y1="276.5" x2="220.7" y2="276.5" stroke="#222" stroke-width="1.1" />
<rect x="191.6" y="250.1" width="52.3" height="52.4" fill="none" stroke="#3a3a3a" stroke-width="0.9"/>
<line x1="46.7" y1="333.1" x2="48.5" y2="333.1" stroke="#333" stroke-width="0.7" />
<text x="41.9" y="334.5" font-size="3.0" fill="#333" stroke="#333" stroke-width="0.15" transform="rotate(-25,43.5,333.1)">10<tspan dy="-1.2" font-size="2.1">5</tspan></text>
<line x1="46.7" y1="346.9" x2="48.5" y2="346.9" stroke="#333" stroke-width="0.7" />
<text x="41.9" y="348.3" font-size="3.0" fill="#333" stroke="#333" stroke-width="0.15" transform="rotate(-25,43.5,346.9)">10<tspan dy="-1.2" font-size="2.1">4</tspan></text>
<line x1="46.7" y1="361.2" x2="48.5" y2="361.2" stroke="#333" stroke-width="0.7" />
<text x="41.9" y="362.6" font-size="3.0" fill="#333" stroke="#333" stroke-width="0.15" transform="rotate(-25,43.5,361.2)">10<tspan dy="-1.2" font-size="2.1">3</tspan></text>
<line x1="46.7" y1="371.7" x2="48.5" y2="371.7" stroke="#333" stroke-width="0.7" />
<circle cx="44.9" cy="371.9" r="0.6" fill="#333"/>
<line x1="62" y1="380.2" x2="62" y2="382" stroke="#333" stroke-width="0.7" />
<text x="60.4" y="385.1" font-size="2.8" fill="#333" stroke="#333" stroke-width="0.15">10<tspan dy="-1.1" font-size="2">2</tspan></text>
<line x1="72.7" y1="380.2" x2="72.7" y2="382" stroke="#333" stroke-width="0.7" />
<text x="71.1" y="385.1" font-size="2.8" fill="#333" stroke="#333" stroke-width="0.15">10<tspan dy="-1.1" font-size="2">3</tspan></text>
<line x1="85.2" y1="380.2" x2="85.2" y2="382" stroke="#333" stroke-width="0.7" />
<text x="83.6" y="385.1" font-size="2.8" fill="#333" stroke="#333" stroke-width="0.15">10<tspan dy="-1.1" font-size="2">4</tspan></text>
<line x1="96.7" y1="380.2" x2="96.7" y2="382" stroke="#333" stroke-width="0.7" />
<text x="95.1" y="385.1" font-size="2.8" fill="#333" stroke="#333" stroke-width="0.15">10<tspan dy="-1.1" font-size="2">5</tspan></text>
<line x1="47.3" y1="329.8" x2="47.3" y2="379.2" stroke="#777" stroke-width="0.5" stroke-dasharray="0.5,1.4"/>
<line x1="50.5" y1="381.4" x2="99.7" y2="381.4" stroke="#777" stroke-width="0.6" stroke-dasharray="0.6,1.0"/>
<path d="M98.2 363.3h0M62.5 358.5h0M87.6 354.7h0M91.8 356.6h0M78.6 364.2h0M94.8 354.5h0M92.6 365.3h0M93.4 363.9h0M76.0 357.7h0M63.7 358.8h0M97.4 365.4h0M92.4 357.4h0M66.6 359.2h0M64.7 358.2h0M84.7 357.7h0M74.5 357.8h0M93.1 353.9h0M92.5 361.7h0M82.5 362.8h0M62.7 365.1h0M72.8 358.8h0M81.2 365.7h0M70.5 360.5h0M99.2 356.3h0M86.3 355.6h0M83.3 359.3h0M69.6 365.6h0M68.7 357.5h0M99.1 356.9h0M83.7 359.3h0M62.1 362.2h0M80.9 366.1h0M98.6 354.4h0M84.1 358.0h0M67.0 365.9h0M65.4 360.2h0M70.7 361.2h0M69.8 365.0h0M78.4 356.1h0M92.0 355.2h0M89.7 356.8h0M93.5 356.9h0M86.4 362.5h0M80.9 365.2h0M82.4 356.6h0M81.7 362.7h0M77.8 360.5h0M64.7 356.8h0M90.8 357.9h0M69.1 364.2h0M63.9 357.4h0M72.1 366.0h0M71.6 361.3h0M73.1 363.3h0M66.3 358.1h0M67.3 357.5h0M71.8 359.6h0M97.4 353.8h0M70.7 361.7h0M93.3 358.6h0M75.5 357.7h0M76.1 360.7h0M91.2 353.7h0M68.6 356.4h0M85.3 363.7h0M66.3 359.3h0M87.9 366.6h0M75.9 359.2h0M94.9 363.8h0M95.9 357.0h0M88.7 364.4h0M72.2 356.7h0M96.9 356.4h0M94.9 361.9h0M71.1 359.4h0M89.9 354.5h0M76.4 363.4h0M72.6 363.8h0M95.8 363.0h0M78.0 366.0h0M74.0 367.0h0M84.7 360.7h0M94.7 354.8h0M72.7 363.9h0M64.6 366.0h0M79.0 360.1h0M99.4 354.6h0M62.7 361.1h0M85.8 365.1h0M69.2 365.4h0M86.7 361.3h0M62.7 364.3h0M70.2 362.5h0M99.2 353.6h0M78.1 366.2h0M72.8 364.8h0M92.7 362.8h0M99.4 363.0h0M65.9 364.8h0M90.2 358.7h0M65.6 357.1h0M81.7 356.8h0M99.0 355.6h0M90.1 364.7h0M71.4 358.7h0M95.3 361.5h0M70.2 367.0h0M90.9 357.6h0M78.8 360.2h0M85.8 359.6h0M67.6 357.9h0M66.8 360.2h0M85.0 361.6h0M64.6 361.0h0M91.3 361.2h0M74.7 364.1h0M77.0 364.2h0M69.3 366.1h0M91.1 357.5h0M66.3 363.3h0M88.6 355.8h0M82.8 362.1h0M62.9 364.8h0M73.2 358.0h0M63.6 362.2h0M71.4 360.8h0M75.1 358.1h0M63.6 357.8h0M96.2 366.2h0M96.3 365.0h0M92.4 361.9h0M84.7 363.2h0M98.0 361.6h0M82.9 363.3h0M93.7 360.7h0M62.8 361.6h0M63.7 360.7h0M97.8 361.0h0M93.3 355.8h0M74.3 366.4h0M87.8 363.3h0M73.1 362.5h0M74.9 356.1h0M65.5 358.7h0M94.5 360.8h0M76.0 362.1h0M96.6 356.9h0M96.4 366.8h0M87.5 365.9h0M75.8 357.7h0M86.9 357.3h0M97.0 358.9h0M66.8 362.5h0M98.8 355.2h0M98.4 362.4h0M90.8 366.3h0M82.6 360.7h0M67.3 359.0h0M82.7 357.0h0M78.3 358.6h0M93.4 358.1h0M95.6 356.5h0M86.4 360.2h0M73.3 364.0h0M99.1 355.1h0M92.4 354.4h0M75.3 366.4h0M98.2 366.0h0M75.3 363.5h0M98.6 354.3h0M93.1 363.3h0M97.0 359.5h0M86.1 363.8h0M80.6 363.2h0M70.3 366.8h0M78.2 365.5h0M98.4 365.9h0M82.6 357.3h0M84.8 363.9h0M89.1 353.8h0M71.3 358.8h0M75.9 363.7h0M90.7 357.3h0M75.1 365.5h0M87.9 353.8h0M74.4 364.6h0M82.1 356.1h0M77.6 362.6h0M68.7 356.9h0M93.5 358.7h0M77.5 366.9h0M97.9 357.5h0M98.6 363.0h0M70.7 365.7h0M94.9 363.1h0M62.7 360.6h0M70.3 356.9h0M76.8 358.9h0M95.2 358.5h0M79.4 357.2h0M93.5 362.0h0M89.4 355.8h0M83.3 362.8h0M63.8 358.8h0M87.1 355.5h0M97.9 356.3h0M66.4 362.8h0M99.0 363.9h0M81.9 357.9h0M70.4 362.0h0M71.3 366.8h0M67.9 356.7h0M77.3 366.4h0M89.2 354.6h0M79.7 356.3h0M98.6 359.4h0M81.0 366.4h0M86.5 366.9h0M78.1 365.3h0M78.3 357.2h0M98.0 361.9h0M67.4 361.1h0M87.9 355.2h0M80.1 359.4h0M68.9 362.7h0M80.3 361.5h0M82.1 361.8h0M91.2 360.0h0M98.2 365.7h0M80.4 358.6h0M95.3 357.7h0M64.2 356.1h0M94.9 355.1h0M96.1 359.2h0M82.3 363.7h0M94.5 354.9h0M84.1 356.0h0M97.8 363.9h0M71.5 358.1h0M98.6 366.4h0M90.8 353.9h0M70.2 361.6h0M69.7 360.4h0M62.2 359.7h0M79.9 364.7h0M75.0 365.6h0M97.8 364.6h0M97.1 356.3h0M94.8 365.8h0M72.6 364.5h0M87.4 357.9h0M73.3 362.2h0M63.1 360.7h0M97.0 366.3h0M88.7 366.0h0M87.9 366.0h0M62.1 358.5h0M75.7 358.0h0M72.1 357.8h0M89.9 366.3h0M96.6 358.7h0M84.6 356.5h0M73.6 365.8h0M80.1 364.1h0M87.5 354.9h0M76.6 357.8h0M70.3 356.7h0M93.4 360.9h0M92.1 358.8h0M93.6 353.5h0M72.1 363.4h0M68.7 365.3h0M83.7 365.3h0M63.2 366.8h0M72.8 358.2h0M71.7 357.7h0M71.0 356.8h0M84.4 364.4h0M68.6 362.1h0M87.7 357.7h0M85.1 366.7h0M91.1 356.3h0M78.1 360.3h0M72.5 366.5h0M94.9 359.5h0M70.5 363.6h0M81.4 363.1h0M94.8 366.6h0M91.4 356.2h0M82.8 363.2h0M68.6 366.9h0M72.2 364.9h0M89.1 365.9h0M91.9 364.5h0M91.2 355.8h0M68.7 356.1h0M79.4 366.0h0M75.3 362.8h0M86.7 357.6h0M63.6 356.3h0M69.5 360.4h0M73.9 362.3h0M94.2 359.1h0M90.2 356.1h0M68.4 359.2h0M64.9 365.8h0M94.1 354.5h0M71.1 364.7h0M90.8 360.7h0M87.4 359.4h0M84.8 361.8h0M89.9 366.6h0M90.9 366.6h0M82.1 366.1h0M90.2 363.6h0M91.7 361.7h0M94.6 362.1h0M68.4 356.6h0M94.8 355.1h0M84.0 363.7h0M76.4 362.5h0M94.9 361.5h0M64.7 356.1h0M81.1 356.8h0M91.3 358.1h0M93.9 366.4h0M74.9 362.6h0M69.9 357.2h0M70.3 360.3h0M65.8 364.4h0M88.2 355.1h0M72.4 356.9h0M97.4 365.6h0M70.1 361.9h0M90.2 360.5h0M72.5 365.0h0M62.5 366.1h0M90.3 361.9h0M76.6 360.4h0M62.9 360.4h0M80.1 361.6h0M78.3 362.4h0M97.4 358.8h0M83.9 360.5h0M65.1 361.3h0M84.0 358.4h0M87.4 362.1h0M71.2 357.3h0M83.1 364.2h0M83.2 364.1h0M73.6 358.6h0M87.1 364.8h0M96.3 363.2h0M68.6 361.4h0M78.4 361.9h0M69.8 359.2h0M95.4 364.7h0M91.4 355.4h0M93.0 366.0h0M64.6 356.8h0M73.0 356.1h0M83.0 363.3h0M84.0 365.6h0M84.7 363.4h0M78.8 363.5h0M67.3 359.7h0M71.5 358.5h0" stroke="#9aa4a4" stroke-width="0.6" stroke-linecap="round" fill="none"/>
<path d="M60.5,366 C60,362 64,361.5 70,361.8 C78,362 86,363 90,364.5 C94,360.5 96.5,356 98.8,351.5 L99.5,353 C97.5,358 95,363 91,367.5 C86,371.5 76,373.5 66,373.4 C61.5,373.2 60.2,370 60.5,366 Z" fill="#c4cbcb"/>
<path d="M86.7 367.5L86.5 368.3L85.5 369.1L84.0 369.9L82.5 370.6L80.9 371.4L78.8 372.3L76.0 373.0L72.7 373.3L69.6 373.1L66.9 372.8L64.5 372.4L62.0 371.9L59.8 371.3L58.3 370.5L57.8 369.5L58.0 368.5L58.7 367.4L60.1 366.3L62.6 365.4L65.8 364.8L69.3 364.6L72.3 364.5L75.1 364.3L77.9 364.2L80.8 364.2L83.3 364.5L85.0 365.2L85.9 365.9L86.5 366.7Z" fill="#aab2b2" stroke="#4a5454" stroke-width="0.55" stroke-linejoin="round"/>
<path d="M86.2 367.5L85.6 368.3L84.5 369.1L83.3 369.8L81.9 370.5L80.1 371.1L77.9 371.5L75.5 371.9L73.0 372.3L70.1 372.6L67.0 372.7L64.2 372.5L62.4 371.8L61.6 371.0L61.3 370.1L60.9 369.3L60.6 368.5L60.9 367.6L62.3 366.7L64.4 365.9L66.8 365.2L69.5 364.7L72.3 364.4L75.1 364.4L77.5 364.6L79.4 365.1L81.0 365.5L82.9 365.8L84.7 366.2L85.9 366.8Z" fill="none" stroke="#404949" stroke-width="0.59" stroke-linejoin="round"/>
<path d="M84.0 367.7L83.7 368.3L82.9 369.0L81.8 369.6L80.6 370.1L79.3 370.7L77.7 371.4L75.5 371.9L73.0 372.1L70.6 372.0L68.6 371.7L66.8 371.4L64.9 371.1L63.3 370.6L62.2 370.0L61.8 369.3L61.9 368.5L62.4 367.7L63.5 366.8L65.3 366.1L67.8 365.7L70.4 365.5L72.7 365.4L74.8 365.3L77.1 365.1L79.3 365.1L81.2 365.4L82.5 365.9L83.3 366.5L83.7 367.1Z" fill="none" stroke="#373f3f" stroke-width="0.63" stroke-linejoin="round"/>
<path d="M82.5 367.8L82.3 368.4L81.6 368.9L80.6 369.4L79.7 369.9L78.6 370.4L77.2 371.0L75.3 371.4L73.2 371.5L71.2 371.4L69.5 371.2L67.9 370.9L66.3 370.7L64.9 370.3L64.0 369.7L63.7 369.1L63.8 368.5L64.2 367.8L65.1 367.1L66.7 366.5L68.8 366.1L71.0 366.0L72.9 365.9L74.7 365.7L76.6 365.6L78.5 365.6L80.2 365.8L81.2 366.3L81.9 366.8L82.3 367.3Z" fill="none" stroke="#2d3434" stroke-width="0.68" stroke-linejoin="round"/>
<path d="M81.0 367.9L80.9 368.4L80.5 368.8L79.7 369.2L78.7 369.6L77.6 370.0L76.4 370.4L75.0 370.8L73.3 371.0L71.6 371.0L70.1 370.8L69.0 370.5L67.9 370.2L66.8 369.9L66.0 369.5L65.6 369.0L65.7 368.4L66.2 367.9L67.0 367.4L68.1 366.8L69.6 366.5L71.4 366.3L73.1 366.2L74.6 366.3L76.0 366.2L77.5 366.2L79.0 366.3L80.1 366.6L80.8 367.0L81.0 367.5Z" fill="none" stroke="#232929" stroke-width="0.72" stroke-linejoin="round"/>
<path d="M79.1 368.0L79.3 368.4L79.4 368.7L79.0 369.1L78.2 369.5L77.1 369.7L75.9 369.9L74.7 370.1L73.5 370.2L72.3 370.3L71.1 370.2L70.0 370.1L68.9 369.9L68.0 369.7L67.2 369.3L67.0 368.9L67.5 368.4L68.3 368.0L69.2 367.7L70.0 367.4L70.8 367.0L71.9 366.7L73.2 366.5L74.5 366.5L75.7 366.5L76.9 366.6L77.8 366.8L78.5 367.1L78.9 367.4L79.0 367.7Z" fill="none" stroke="#1a1f1f" stroke-width="0.76" stroke-linejoin="round"/>
<path d="M78.0 368.1L77.9 368.4L77.6 368.6L77.1 368.9L76.7 369.1L76.1 369.3L75.5 369.6L74.6 369.8L73.6 369.8L72.7 369.8L71.9 369.7L71.2 369.6L70.5 369.4L69.9 369.2L69.5 369.0L69.4 368.7L69.4 368.4L69.6 368.1L70.0 367.8L70.7 367.5L71.6 367.4L72.6 367.3L73.5 367.2L74.3 367.2L75.2 367.1L76.1 367.1L76.9 367.2L77.4 367.4L77.7 367.6L78.0 367.9Z" fill="none" stroke="#101414" stroke-width="0.8" stroke-linejoin="round"/>
<path d="M61,366 C59.8,370 61.2,373 66,373.2 C74,373.6 82,372.2 87,370.6" fill="none" stroke="#0a0e0e" stroke-width="1.6"/>
<path d="M62,364.2 C70,362.5 80,363.2 88,365.8 C92,362 95,357.5 98.5,351.5" fill="none" stroke="#7a8484" stroke-width="0.5"/>
<path d="M62.5,366.8 C70,365 80,365.8 86.5,368" fill="none" stroke="#2a3232" stroke-width="0.8"/>
<path d="M62,365.3 C70,363.6 80,364.3 87,366.8" fill="none" stroke="#4a5454" stroke-width="0.6"/>
<rect x="56.5" y="350.4" width="32.3" height="13.6" fill="none" stroke="#333" stroke-width="0.75"/>
<line x1="69.4" y1="350.4" x2="69.4" y2="364" stroke="#333" stroke-width="0.75" />
<rect x="48.5" y="327.8" width="52.2" height="52.4" fill="none" stroke="#3a3a3a" stroke-width="0.9"/>
<line x1="118.6" y1="332.1" x2="120.4" y2="332.1" stroke="#333" stroke-width="0.7" />
<text x="113.8" y="333.5" font-size="3.0" fill="#333" stroke="#333" stroke-width="0.15" transform="rotate(-25,115.4,332.1)">10<tspan dy="-1.2" font-size="2.1">5</tspan></text>
<line x1="118.6" y1="347.3" x2="120.4" y2="347.3" stroke="#333" stroke-width="0.7" />
<text x="113.8" y="348.7" font-size="3.0" fill="#333" stroke="#333" stroke-width="0.15" transform="rotate(-25,115.4,347.3)">10<tspan dy="-1.2" font-size="2.1">4</tspan></text>
<line x1="118.6" y1="362.4" x2="120.4" y2="362.4" stroke="#333" stroke-width="0.7" />
<text x="113.8" y="363.8" font-size="3.0" fill="#333" stroke="#333" stroke-width="0.15" transform="rotate(-25,115.4,362.4)">10<tspan dy="-1.2" font-size="2.1">3</tspan></text>
<line x1="118.6" y1="368.9" x2="120.4" y2="368.9" stroke="#333" stroke-width="0.7" />
<circle cx="116.8" cy="369.1" r="0.6" fill="#333"/>
<line x1="128.9" y1="380.2" x2="128.9" y2="382" stroke="#333" stroke-width="0.7" />
<text x="127.3" y="385.1" font-size="2.8" fill="#333" stroke="#333" stroke-width="0.15">10<tspan dy="-1.1" font-size="2">2</tspan></text>
<line x1="132.4" y1="380.2" x2="132.4" y2="382" stroke="#333" stroke-width="0.7" />
<text x="130.8" y="385.1" font-size="2.8" fill="#333" stroke="#333" stroke-width="0.15">10<tspan dy="-1.1" font-size="2">3</tspan></text>
<line x1="144.4" y1="380.2" x2="144.4" y2="382" stroke="#333" stroke-width="0.7" />
<text x="142.8" y="385.1" font-size="2.8" fill="#333" stroke="#333" stroke-width="0.15">10<tspan dy="-1.1" font-size="2">4</tspan></text>
<line x1="157.9" y1="380.2" x2="157.9" y2="382" stroke="#333" stroke-width="0.7" />
<text x="156.3" y="385.1" font-size="2.8" fill="#333" stroke="#333" stroke-width="0.15">10<tspan dy="-1.1" font-size="2">5</tspan></text>
<line x1="169.4" y1="380.2" x2="169.4" y2="382" stroke="#333" stroke-width="0.7" />
<text x="167.8" y="385.1" font-size="2.8" fill="#333" stroke="#333" stroke-width="0.15">10<tspan dy="-1.1" font-size="2">6</tspan></text>
<line x1="119.2" y1="329.8" x2="119.2" y2="379.2" stroke="#777" stroke-width="0.5" stroke-dasharray="0.5,1.4"/>
<line x1="122.4" y1="381.4" x2="171.6" y2="381.4" stroke="#777" stroke-width="0.6" stroke-dasharray="0.6,1.0"/>
<path d="M151.3 345.0L150.4 346.6L149.4 348.1L148.5 349.5L147.4 351.0L145.7 352.2L143.5 352.8L141.1 352.6L139.0 352.1L137.1 351.5L135.3 350.9L133.5 350.2L132.0 349.2L130.9 347.9L130.1 346.5L129.3 345.0L129.0 343.3L129.4 341.6L130.7 340.1L132.7 339.1L134.7 338.4L136.7 337.6L138.8 336.8L141.3 336.1L143.9 336.2L146.4 337.0L148.3 338.3L149.9 339.8L151.0 341.4L151.6 343.2Z" fill="#e0e5e5" stroke="#6e7878" stroke-width="0.5" stroke-linejoin="round"/>
<path d="M149.5 345.0L149.8 346.5L149.5 348.1L148.3 349.4L146.5 350.2L144.5 350.7L142.7 350.9L140.9 351.1L139.1 351.1L137.4 350.8L135.8 350.3L134.3 349.6L132.8 348.8L131.5 347.8L130.6 346.5L130.5 345.0L131.2 343.6L132.1 342.5L132.9 341.3L133.8 340.0L135.0 338.7L136.8 337.8L138.9 337.4L141.1 337.4L143.3 337.7L145.3 338.3L147.1 339.3L148.2 340.7L148.7 342.2L149.0 343.6Z" fill="none" stroke="#667070" stroke-width="0.5" stroke-linejoin="round"/>
<path d="M148.3 345.0L148.0 346.2L147.3 347.4L146.2 348.3L144.9 349.0L143.6 349.6L142.3 350.2L140.8 350.7L139.2 350.8L137.6 350.4L136.3 349.7L135.4 348.8L134.5 347.9L133.6 347.1L132.8 346.1L132.4 345.0L132.4 343.8L132.7 342.6L133.3 341.5L134.2 340.3L135.6 339.5L137.4 339.1L139.2 339.2L140.8 339.4L142.5 339.5L144.3 339.6L146.1 340.1L147.4 341.1L148.2 342.4L148.4 343.7Z" fill="none" stroke="#5e6868" stroke-width="0.5" stroke-linejoin="round"/>
<path d="M146.2 345.0L146.3 346.0L146.2 347.0L145.7 348.0L144.6 348.7L143.2 349.1L141.9 349.2L140.6 349.2L139.4 349.2L138.2 349.0L137.1 348.7L136.1 348.1L135.2 347.5L134.3 346.8L133.6 346.0L133.3 345.0L133.6 344.0L134.4 343.2L135.2 342.5L136.0 341.7L136.8 340.9L137.9 340.2L139.3 339.8L140.7 339.8L142.2 340.1L143.6 340.5L144.8 341.1L145.7 342.0L146.1 343.0L146.2 344.0Z" fill="none" stroke="#566060" stroke-width="0.5" stroke-linejoin="round"/>
<path d="M145.1 345.0L144.9 345.8L144.5 346.5L143.9 347.1L143.1 347.5L142.3 347.8L141.4 348.2L140.5 348.5L139.5 348.7L138.4 348.5L137.6 348.0L137.0 347.4L136.5 346.8L136.0 346.3L135.5 345.7L135.2 345.0L135.2 344.3L135.5 343.5L135.9 342.8L136.5 342.1L137.3 341.6L138.4 341.3L139.5 341.4L140.5 341.5L141.5 341.7L142.5 341.8L143.6 342.1L144.6 342.6L145.1 343.4L145.2 344.2Z" fill="none" stroke="#4e5858" stroke-width="0.5" stroke-linejoin="round"/>
<path d="M164.4 339.0L164.9 340.2L163.8 341.4L161.5 342.4L158.7 343.0L155.9 343.4L153.2 343.8L150.4 343.9L147.6 343.8L145.1 343.4L142.8 343.0L140.6 342.5L138.5 341.8L137.0 341.0L136.7 340.0L137.3 339.0L138.2 338.2L139.0 337.3L139.6 336.5L140.6 335.6L142.4 334.8L144.9 334.3L147.6 334.0L150.5 333.8L153.5 333.9L156.4 334.3L158.6 335.0L160.2 336.0L161.5 336.9L162.9 337.9Z" fill="none" stroke="#4a5454" stroke-width="0.55" stroke-linejoin="round"/>
<path d="M163.2 339.0L162.3 340.0L160.9 341.0L159.3 341.8L157.4 342.5L155.1 342.9L152.7 343.2L150.2 343.2L147.8 343.2L145.3 343.2L142.9 342.9L141.0 342.3L139.9 341.5L139.5 340.6L139.4 339.8L139.2 339.0L138.9 338.2L139.1 337.4L140.0 336.6L141.5 335.9L143.2 335.3L145.3 334.8L147.7 334.4L150.3 334.4L152.7 334.8L154.8 335.3L156.8 335.8L159.1 336.3L161.4 337.0L162.9 337.9Z" fill="none" stroke="#404949" stroke-width="0.59" stroke-linejoin="round"/>
<path d="M161.1 339.0L160.3 339.9L159.2 340.7L157.9 341.4L156.3 342.0L154.3 342.4L152.1 342.6L150.0 342.7L147.9 342.7L145.8 342.7L143.6 342.4L142.0 341.9L141.2 341.1L140.9 340.3L140.6 339.7L140.3 339.0L140.1 338.3L140.3 337.6L141.2 336.9L142.4 336.3L144.0 335.8L145.8 335.3L147.9 335.0L150.1 335.1L152.1 335.4L153.9 335.8L155.8 336.2L157.9 336.6L159.8 337.2L161.0 338.1Z" fill="none" stroke="#373f3f" stroke-width="0.63" stroke-linejoin="round"/>
<path d="M158.5 339.0L157.9 339.7L157.1 340.3L156.2 340.9L155.3 341.6L153.9 342.2L152.1 342.5L150.0 342.5L148.1 342.2L146.5 341.8L145.1 341.5L143.7 341.2L142.5 340.7L141.8 340.2L141.3 339.6L140.9 339.0L140.8 338.4L141.1 337.7L142.1 337.1L143.6 336.8L145.1 336.5L146.6 336.3L148.1 336.0L149.9 335.7L151.9 335.7L153.9 335.9L155.5 336.3L156.8 336.9L157.8 337.5L158.5 338.3Z" fill="none" stroke="#2d3434" stroke-width="0.68" stroke-linejoin="round"/>
<path d="M157.5 339.0L157.1 339.6L156.2 340.2L155.1 340.6L154.0 341.0L152.7 341.4L151.2 341.5L149.7 341.6L148.3 341.5L146.8 341.5L145.4 341.3L144.0 341.0L143.2 340.6L142.9 340.0L142.9 339.5L143.0 339.0L142.9 338.5L143.0 338.0L143.5 337.5L144.4 337.1L145.5 336.7L146.8 336.5L148.2 336.3L149.8 336.2L151.3 336.4L152.5 336.7L153.6 337.1L154.8 337.4L156.0 337.8L157.1 338.4Z" fill="none" stroke="#232929" stroke-width="0.72" stroke-linejoin="round"/>
<path d="M155.0 339.0L154.6 339.4L154.1 339.8L153.6 340.2L153.0 340.6L152.1 341.0L150.9 341.2L149.6 341.2L148.4 341.0L147.4 340.8L146.4 340.6L145.6 340.4L144.8 340.1L144.3 339.8L144.0 339.4L143.7 339.0L143.7 338.6L143.9 338.2L144.5 337.8L145.5 337.5L146.5 337.4L147.5 337.2L148.5 337.1L149.6 336.9L150.9 336.9L152.1 337.0L153.1 337.3L153.9 337.7L154.6 338.1L155.0 338.5Z" fill="none" stroke="#1a1f1f" stroke-width="0.76" stroke-linejoin="round"/>
<path d="M153.5 339.0L153.2 339.3L152.9 339.6L152.4 339.9L151.8 340.1L151.0 340.3L150.2 340.4L149.4 340.5L148.6 340.5L147.7 340.5L146.9 340.4L146.3 340.1L146.0 339.8L145.8 339.5L145.6 339.3L145.3 339.0L145.3 338.7L145.5 338.4L145.9 338.2L146.4 337.9L147.0 337.7L147.7 337.5L148.6 337.5L149.4 337.5L150.2 337.7L150.9 337.8L151.7 337.9L152.6 338.0L153.2 338.3L153.5 338.6Z" fill="none" stroke="#101414" stroke-width="0.8" stroke-linejoin="round"/>
<path d="M147.4 338.8L147.1 339.5L146.6 340.2L146.2 340.8L145.7 341.5L145.0 342.2L143.9 342.5L142.6 342.6L141.4 342.4L140.4 342.0L139.4 341.7L138.4 341.4L137.6 340.9L137.0 340.2L136.7 339.5L136.4 338.8L136.3 338.0L136.6 337.2L137.3 336.6L138.4 336.2L139.5 335.9L140.5 335.7L141.5 335.4L142.6 335.2L143.8 335.2L144.9 335.5L145.8 336.0L146.5 336.7L147.1 337.3L147.4 338.0Z" fill="none" stroke="#1a2020" stroke-width="0.9" stroke-linejoin="round"/>
<path d="M146.3 338.8L146.5 339.4L146.5 340.1L146.1 340.7L145.3 341.2L144.3 341.4L143.4 341.6L142.5 341.7L141.5 341.7L140.6 341.6L139.8 341.3L139.0 341.0L138.3 340.6L137.6 340.1L137.1 339.5L137.1 338.8L137.5 338.2L138.1 337.7L138.6 337.2L139.1 336.7L139.7 336.2L140.5 335.8L141.5 335.7L142.5 335.7L143.5 335.9L144.4 336.1L145.2 336.5L145.7 337.0L146.0 337.6L146.1 338.2Z" fill="none" stroke="#141818" stroke-width="0.95" stroke-linejoin="round"/>
<path d="M145.6 338.8L145.4 339.3L145.1 339.7L144.9 340.2L144.5 340.6L144.0 341.1L143.3 341.3L142.4 341.3L141.6 341.2L140.9 341.0L140.2 340.8L139.6 340.6L139.0 340.2L138.6 339.8L138.4 339.3L138.2 338.8L138.2 338.3L138.4 337.7L138.9 337.3L139.6 337.0L140.3 336.9L141.0 336.7L141.6 336.5L142.4 336.4L143.2 336.4L144.0 336.6L144.6 336.9L145.0 337.4L145.4 337.8L145.7 338.3Z" fill="none" stroke="#0d1010" stroke-width="1" stroke-linejoin="round"/>
<path d="M144.7 338.8L144.6 339.2L144.4 339.5L144.2 339.9L144.0 340.2L143.5 340.5L142.9 340.7L142.3 340.7L141.7 340.6L141.2 340.5L140.7 340.3L140.2 340.1L139.8 339.9L139.5 339.5L139.2 339.2L139.1 338.8L139.0 338.4L139.2 338.0L139.7 337.7L140.2 337.5L140.7 337.3L141.2 337.2L141.7 337.0L142.3 336.9L142.9 336.9L143.5 337.1L143.9 337.4L144.3 337.7L144.6 338.0L144.8 338.4Z" fill="none" stroke="#060808" stroke-width="1.05" stroke-linejoin="round"/>
<path d="M143.9 338.8L143.8 339.1L143.7 339.3L143.4 339.5L143.2 339.7L143.0 339.9L142.6 340.1L142.2 340.2L141.8 340.1L141.4 340.0L141.1 339.8L140.8 339.7L140.5 339.5L140.3 339.3L140.1 339.1L140.1 338.8L140.1 338.5L140.1 338.3L140.3 338.0L140.7 337.8L141.1 337.7L141.5 337.7L141.8 337.7L142.2 337.6L142.6 337.6L143.0 337.6L143.4 337.8L143.6 338.0L143.8 338.3L143.9 338.5Z" fill="none" stroke="#000000" stroke-width="1.1" stroke-linejoin="round"/>
<ellipse cx="142" cy="338.8" rx="0.77" ry="0.5" transform="rotate(0,142,338.8)" fill="#dfe4e4"/>
<path d="M139.8 365.5L139.8 365.8L139.7 366.2L139.5 366.5L139.3 366.8L139.1 367.2L138.8 367.6L138.4 367.8L137.8 368.0L137.3 368.0L136.9 367.9L136.5 367.9L136.0 367.8L135.7 367.6L135.4 367.4L135.2 367.1L135.1 366.8L135.1 366.4L135.2 366.1L135.5 365.7L135.9 365.4L136.4 365.2L136.8 365.0L137.2 364.8L137.7 364.6L138.2 364.5L138.7 364.5L139.0 364.7L139.4 364.9L139.6 365.2Z" fill="none" stroke="#8a9494" stroke-width="0.5" stroke-linejoin="round"/>
<path d="M138.9 365.8L138.9 366.0L138.8 366.2L138.7 366.4L138.6 366.6L138.4 366.8L138.2 367.0L138.0 367.2L137.7 367.3L137.4 367.4L137.1 367.3L136.9 367.2L136.7 367.2L136.4 367.1L136.3 367.0L136.1 366.8L136.1 366.6L136.1 366.4L136.1 366.2L136.3 365.9L136.5 365.7L136.8 365.6L137.1 365.5L137.3 365.4L137.6 365.3L137.9 365.3L138.2 365.2L138.5 365.3L138.6 365.5L138.8 365.6Z" fill="none" stroke="#6a7474" stroke-width="0.5" stroke-linejoin="round"/>
<path d="M155.6 364.0L155.5 364.4L155.4 364.9L155.2 365.3L154.9 365.8L154.3 366.1L153.6 366.2L152.9 366.2L152.3 366.1L151.7 366.0L151.0 365.9L150.5 365.6L150.1 365.3L149.7 364.9L149.4 364.5L149.2 364.0L149.2 363.5L149.5 363.1L150.1 362.7L150.6 362.5L151.1 362.3L151.7 362.0L152.3 361.8L153.0 361.7L153.6 361.8L154.2 362.0L154.8 362.3L155.2 362.7L155.6 363.1L155.7 363.6Z" fill="none" stroke="#8a9494" stroke-width="0.5" stroke-linejoin="round"/>
<path d="M154.8 364.0L154.8 364.3L154.6 364.6L154.4 364.9L154.0 365.1L153.7 365.3L153.3 365.4L152.8 365.6L152.3 365.7L151.8 365.6L151.4 365.4L151.2 365.1L150.9 364.8L150.7 364.6L150.5 364.3L150.4 364.0L150.4 363.7L150.5 363.4L150.7 363.1L151.0 362.8L151.4 362.6L151.9 362.5L152.4 362.5L152.8 362.6L153.2 362.7L153.7 362.7L154.2 362.8L154.5 363.0L154.8 363.3L154.8 363.7Z" fill="none" stroke="#727c7c" stroke-width="0.5" stroke-linejoin="round"/>
<path d="M153.9 364.0L153.8 364.2L153.8 364.4L153.6 364.5L153.4 364.6L153.2 364.7L153.0 364.8L152.7 364.9L152.5 364.9L152.2 364.9L151.9 364.8L151.8 364.6L151.6 364.5L151.5 364.3L151.4 364.2L151.3 364.0L151.3 363.8L151.4 363.6L151.5 363.5L151.7 363.3L151.9 363.2L152.2 363.1L152.5 363.2L152.7 363.2L153.0 363.2L153.2 363.3L153.5 363.3L153.7 363.4L153.8 363.6L153.9 363.8Z" fill="none" stroke="#5a6464" stroke-width="0.5" stroke-linejoin="round"/>
<path d="M142.0 358.5L142.0 358.7L141.9 359.0L141.9 359.2L141.7 359.5L141.4 359.6L141.0 359.7L140.7 359.6L140.3 359.6L140.0 359.6L139.7 359.5L139.5 359.4L139.2 359.2L139.0 359.0L138.9 358.8L138.8 358.5L138.8 358.2L139.0 358.0L139.3 357.8L139.5 357.7L139.8 357.5L140.0 357.4L140.3 357.3L140.7 357.2L141.0 357.3L141.3 357.4L141.6 357.6L141.8 357.8L142.0 358.0L142.0 358.3Z" fill="none" stroke="#9aa4a4" stroke-width="0.45" stroke-linejoin="round"/>
<path d="M141.4 358.5L141.4 358.6L141.3 358.8L141.3 358.9L141.2 359.1L141.0 359.2L140.8 359.2L140.6 359.2L140.4 359.2L140.2 359.2L140.0 359.1L139.9 359.0L139.7 358.9L139.6 358.8L139.5 358.7L139.5 358.5L139.5 358.3L139.6 358.2L139.7 358.1L139.9 358.0L140.1 357.9L140.2 357.9L140.4 357.8L140.6 357.7L140.8 357.8L141.0 357.9L141.2 358.0L141.3 358.1L141.4 358.2L141.4 358.4Z" fill="none" stroke="#8a9494" stroke-width="0.45" stroke-linejoin="round"/>
<line x1="120.4" y1="355.1" x2="147" y2="355.1" stroke="#222" stroke-width="1" />
<line x1="147" y1="355.1" x2="172.6" y2="355.1" stroke="#555" stroke-width="0.9" />
<line x1="147.2" y1="327.8" x2="147.2" y2="380.2" stroke="#777" stroke-width="0.8" />
<rect x="120.4" y="327.8" width="52.2" height="52.4" fill="none" stroke="#3a3a3a" stroke-width="0.9"/>
<line x1="189.8" y1="332.1" x2="191.6" y2="332.1" stroke="#333" stroke-width="0.7" />
<text x="185" y="333.5" font-size="3.0" fill="#333" stroke="#333" stroke-width="0.15" transform="rotate(-25,186.6,332.1)">10<tspan dy="-1.2" font-size="2.1">5</tspan></text>
<line x1="189.8" y1="343.1" x2="191.6" y2="343.1" stroke="#333" stroke-width="0.7" />
<text x="185" y="344.5" font-size="3.0" fill="#333" stroke="#333" stroke-width="0.15" transform="rotate(-25,186.6,343.1)">10<tspan dy="-1.2" font-size="2.1">4</tspan></text>
<line x1="189.8" y1="354.1" x2="191.6" y2="354.1" stroke="#333" stroke-width="0.7" />
<text x="185" y="355.5" font-size="3.0" fill="#333" stroke="#333" stroke-width="0.15" transform="rotate(-25,186.6,354.1)">10<tspan dy="-1.2" font-size="2.1">3</tspan></text>
<line x1="189.8" y1="368.9" x2="191.6" y2="368.9" stroke="#333" stroke-width="0.7" />
<circle cx="188" cy="369.1" r="0.6" fill="#333"/>
<line x1="198.1" y1="380.2" x2="198.1" y2="382" stroke="#333" stroke-width="0.7" />
<text x="196.5" y="385.1" font-size="2.8" fill="#333" stroke="#333" stroke-width="0.15">10<tspan dy="-1.1" font-size="2">2</tspan></text>
<line x1="201.6" y1="380.2" x2="201.6" y2="382" stroke="#333" stroke-width="0.7" />
<text x="200" y="385.1" font-size="2.8" fill="#333" stroke="#333" stroke-width="0.15">10<tspan dy="-1.1" font-size="2">3</tspan></text>
<line x1="213.6" y1="380.2" x2="213.6" y2="382" stroke="#333" stroke-width="0.7" />
<text x="212" y="385.1" font-size="2.8" fill="#333" stroke="#333" stroke-width="0.15">10<tspan dy="-1.1" font-size="2">4</tspan></text>
<line x1="226.6" y1="380.2" x2="226.6" y2="382" stroke="#333" stroke-width="0.7" />
<text x="225" y="385.1" font-size="2.8" fill="#333" stroke="#333" stroke-width="0.15">10<tspan dy="-1.1" font-size="2">5</tspan></text>
<line x1="238.1" y1="380.2" x2="238.1" y2="382" stroke="#333" stroke-width="0.7" />
<text x="236.5" y="385.1" font-size="2.8" fill="#333" stroke="#333" stroke-width="0.15">10<tspan dy="-1.1" font-size="2">6</tspan></text>
<line x1="190.4" y1="329.8" x2="190.4" y2="379.2" stroke="#777" stroke-width="0.5" stroke-dasharray="0.5,1.4"/>
<line x1="193.6" y1="381.4" x2="242.9" y2="381.4" stroke="#777" stroke-width="0.6" stroke-dasharray="0.6,1.0"/>
<path d="M220.7 361.5L220.7 364.6L219.8 367.3L218.2 369.2L216.6 370.4L215.2 371.5L213.8 372.6L212.3 373.5L210.7 373.8L209.0 373.4L207.4 372.5L205.8 371.4L204.3 369.7L203.1 367.4L202.6 364.5L202.9 361.5L203.5 358.8L204.1 356.4L204.8 353.9L205.9 351.7L207.4 350.2L209.1 349.7L210.7 349.7L212.3 349.8L213.9 349.9L215.6 350.4L217.1 351.8L218.3 353.8L219.2 356.1L220.1 358.6Z" fill="#dde2e2" stroke="#6e7878" stroke-width="0.5" stroke-linejoin="round"/>
<path d="M219.9 361.5L219.1 364.0L218.2 366.2L217.1 367.9L216.0 369.3L214.7 370.3L213.5 371.2L212.2 372.2L210.7 373.2L209.0 373.4L207.4 372.5L206.3 370.6L205.6 368.2L205.1 365.9L204.5 363.8L204.0 361.5L203.8 358.9L204.2 356.4L205.2 354.3L206.4 352.6L207.7 351.3L209.3 350.7L210.8 350.9L212.2 351.6L213.4 352.3L214.7 352.7L216.3 353.1L218.1 354.0L219.6 355.9L220.1 358.6Z" fill="none" stroke="#677171" stroke-width="0.5" stroke-linejoin="round"/>
<path d="M218.8 361.5L218.1 363.7L217.4 365.6L216.5 367.2L215.5 368.4L214.4 369.3L213.3 370.1L212.1 371.0L210.8 371.8L209.3 372.0L207.9 371.2L207.0 369.4L206.4 367.3L205.9 365.4L205.4 363.5L204.9 361.5L204.8 359.3L205.1 357.1L205.9 355.2L207.0 353.6L208.2 352.5L209.5 352.0L210.9 352.1L212.1 352.7L213.2 353.4L214.4 353.8L215.8 354.1L217.3 354.9L218.5 356.6L219.0 359.0Z" fill="none" stroke="#5f6969" stroke-width="0.5" stroke-linejoin="round"/>
<path d="M217.9 361.5L217.3 363.4L216.6 365.0L215.8 366.4L215.0 367.5L214.0 368.3L213.0 368.9L212.0 369.5L210.9 370.1L209.7 370.3L208.4 369.9L207.4 368.5L206.9 366.7L206.6 364.9L206.3 363.2L206.0 361.5L205.8 359.6L206.0 357.7L206.7 356.0L207.6 354.8L208.7 353.8L209.8 353.3L210.9 353.2L212.0 353.6L213.0 354.3L213.9 354.9L215.0 355.3L216.3 356.0L217.4 357.4L218.0 359.3Z" fill="none" stroke="#586262" stroke-width="0.5" stroke-linejoin="round"/>
<path d="M217.0 361.5L216.7 363.2L216.0 364.6L215.1 365.6L214.4 366.5L213.6 367.3L212.8 368.0L212.0 368.3L211.0 368.4L210.1 368.3L209.1 368.1L208.1 367.4L207.3 366.3L206.9 364.7L206.9 363.0L207.0 361.5L207.1 360.0L207.2 358.5L207.5 357.0L208.2 355.8L209.1 355.1L210.1 354.7L211.0 354.5L212.0 354.5L212.9 354.8L213.7 355.5L214.4 356.4L215.2 357.3L215.9 358.4L216.7 359.8Z" fill="none" stroke="#515b5b" stroke-width="0.5" stroke-linejoin="round"/>
<path d="M215.6 361.5L215.4 362.8L214.9 363.9L214.3 364.7L213.8 365.4L213.2 366.1L212.6 367.0L211.9 367.7L211.1 367.9L210.3 367.5L209.6 366.6L209.1 365.7L208.6 364.8L208.1 363.9L207.7 362.8L207.6 361.5L207.6 360.2L207.8 358.9L208.2 357.7L208.8 356.7L209.6 356.2L210.4 356.2L211.2 356.4L211.8 356.6L212.5 356.5L213.4 356.4L214.2 356.7L215.0 357.6L215.4 358.8L215.6 360.1Z" fill="none" stroke="#495353" stroke-width="0.5" stroke-linejoin="round"/>
<path d="M214.6 361.5L214.4 362.5L214.1 363.3L213.7 364.0L213.2 364.5L212.8 365.0L212.4 365.7L211.8 366.2L211.2 366.4L210.5 366.1L210.0 365.4L209.7 364.7L209.3 364.0L208.9 363.3L208.6 362.5L208.5 361.5L208.5 360.5L208.7 359.5L209.0 358.6L209.4 357.9L210.0 357.4L210.6 357.4L211.2 357.6L211.8 357.7L212.3 357.7L212.9 357.7L213.6 357.9L214.1 358.5L214.5 359.4L214.6 360.5Z" fill="none" stroke="#424c4c" stroke-width="0.5" stroke-linejoin="round"/>
<path d="M217.9 356.8L217.6 357.9L217.1 358.8L216.6 359.7L216.1 360.7L215.4 361.7L214.4 362.3L213.2 362.5L212.0 362.1L211.0 361.6L210.1 361.1L209.2 360.6L208.4 359.9L207.8 358.9L207.5 357.9L207.3 356.8L207.2 355.7L207.4 354.5L208.0 353.5L209.0 352.8L210.1 352.5L211.1 352.2L212.1 351.9L213.1 351.6L214.3 351.5L215.4 351.9L216.3 352.7L217.0 353.6L217.5 354.6L217.8 355.7Z" fill="none" stroke="#2a3232" stroke-width="0.8" stroke-linejoin="round"/>
<path d="M217.1 356.8L217.0 357.7L216.7 358.6L216.2 359.4L215.5 360.0L214.7 360.5L213.9 360.9L213.1 361.4L212.1 361.6L211.1 361.5L210.2 360.9L209.6 360.1L209.2 359.3L208.8 358.5L208.3 357.7L208.1 356.8L208.2 355.9L208.4 355.0L208.9 354.1L209.4 353.3L210.2 352.7L211.2 352.3L212.1 352.4L213.0 352.7L213.9 352.9L214.7 353.1L215.7 353.4L216.5 354.0L217.0 354.8L217.2 355.8Z" fill="none" stroke="#222828" stroke-width="0.88" stroke-linejoin="round"/>
<path d="M216.0 356.8L216.0 357.5L215.9 358.3L215.7 359.1L215.3 359.8L214.6 360.3L213.8 360.4L213.0 360.4L212.2 360.3L211.5 360.2L210.8 359.9L210.2 359.5L209.7 358.9L209.2 358.3L208.8 357.6L208.6 356.8L208.7 356.0L209.1 355.3L209.7 354.7L210.3 354.3L210.9 353.8L211.5 353.4L212.2 353.0L213.0 352.9L213.8 353.1L214.5 353.5L215.1 354.0L215.7 354.6L216.0 355.3L216.1 356.1Z" fill="none" stroke="#191e1e" stroke-width="0.96" stroke-linejoin="round"/>
<path d="M215.4 356.8L215.2 357.4L215.1 357.9L215.0 358.5L214.7 359.1L214.2 359.6L213.6 359.7L212.9 359.7L212.3 359.6L211.7 359.4L211.2 359.2L210.7 358.9L210.3 358.5L210.0 358.0L209.7 357.4L209.5 356.8L209.5 356.1L209.8 355.5L210.3 355.1L210.8 354.8L211.3 354.5L211.7 354.2L212.3 353.9L212.9 353.8L213.5 353.9L214.1 354.2L214.6 354.6L215.0 355.1L215.3 355.6L215.4 356.2Z" fill="none" stroke="#111414" stroke-width="1.04" stroke-linejoin="round"/>
<path d="M214.6 356.8L214.7 357.2L214.7 357.7L214.5 358.2L214.1 358.4L213.6 358.6L213.2 358.7L212.8 358.8L212.4 358.9L212.0 358.8L211.6 358.6L211.2 358.3L210.9 358.1L210.5 357.7L210.3 357.3L210.4 356.8L210.6 356.4L210.8 356.0L211.0 355.7L211.2 355.3L211.5 354.9L211.9 354.7L212.4 354.6L212.8 354.6L213.3 354.7L213.7 354.9L214.0 355.2L214.3 355.6L214.4 356.0L214.5 356.4Z" fill="none" stroke="#080a0a" stroke-width="1.12" stroke-linejoin="round"/>
<path d="M214.0 356.8L214.0 357.1L213.9 357.4L213.7 357.6L213.5 357.8L213.2 357.9L213.0 358.0L212.7 358.1L212.5 358.1L212.2 358.0L212.0 357.9L211.7 357.8L211.5 357.6L211.3 357.4L211.2 357.1L211.3 356.8L211.4 356.5L211.5 356.3L211.6 356.1L211.7 355.8L211.9 355.6L212.2 355.5L212.5 355.5L212.7 355.4L213.0 355.5L213.3 355.6L213.5 355.8L213.6 356.1L213.7 356.3L213.8 356.5Z" fill="none" stroke="#000000" stroke-width="1.2" stroke-linejoin="round"/>
<ellipse cx="212.6" cy="356.8" rx="0.53" ry="0.53" transform="rotate(0,212.6,356.8)" fill="#e8ecec"/>
<rect x="196.5" y="337" width="24.2" height="17.3" fill="none" stroke="#333" stroke-width="0.75"/>
<rect x="196.5" y="354.3" width="24.2" height="25" fill="none" stroke="#7a5a66" stroke-width="0.75"/>
<line x1="196.5" y1="354.3" x2="220.7" y2="354.3" stroke="#222" stroke-width="1.1" />
<rect x="191.6" y="327.8" width="52.3" height="52.4" fill="none" stroke="#3a3a3a" stroke-width="0.9"/>
<line x1="46.7" y1="405.1" x2="48.5" y2="405.1" stroke="#333" stroke-width="0.7" />
<text x="41.9" y="406.5" font-size="3.0" fill="#333" stroke="#333" stroke-width="0.15" transform="rotate(-25,43.5,405.1)">10<tspan dy="-1.2" font-size="2.1">5</tspan></text>
<line x1="46.7" y1="418.9" x2="48.5" y2="418.9" stroke="#333" stroke-width="0.7" />
<text x="41.9" y="420.3" font-size="3.0" fill="#333" stroke="#333" stroke-width="0.15" transform="rotate(-25,43.5,418.9)">10<tspan dy="-1.2" font-size="2.1">4</tspan></text>
<line x1="46.7" y1="433.2" x2="48.5" y2="433.2" stroke="#333" stroke-width="0.7" />
<text x="41.9" y="434.6" font-size="3.0" fill="#333" stroke="#333" stroke-width="0.15" transform="rotate(-25,43.5,433.2)">10<tspan dy="-1.2" font-size="2.1">3</tspan></text>
<line x1="46.7" y1="443.7" x2="48.5" y2="443.7" stroke="#333" stroke-width="0.7" />
<circle cx="44.9" cy="443.9" r="0.6" fill="#333"/>
<line x1="62" y1="452.2" x2="62" y2="454" stroke="#333" stroke-width="0.7" />
<text x="60.4" y="457.1" font-size="2.8" fill="#333" stroke="#333" stroke-width="0.15">10<tspan dy="-1.1" font-size="2">2</tspan></text>
<line x1="72.7" y1="452.2" x2="72.7" y2="454" stroke="#333" stroke-width="0.7" />
<text x="71.1" y="457.1" font-size="2.8" fill="#333" stroke="#333" stroke-width="0.15">10<tspan dy="-1.1" font-size="2">3</tspan></text>
<line x1="85.2" y1="452.2" x2="85.2" y2="454" stroke="#333" stroke-width="0.7" />
<text x="83.6" y="457.1" font-size="2.8" fill="#333" stroke="#333" stroke-width="0.15">10<tspan dy="-1.1" font-size="2">4</tspan></text>
<line x1="96.7" y1="452.2" x2="96.7" y2="454" stroke="#333" stroke-width="0.7" />
<text x="95.1" y="457.1" font-size="2.8" fill="#333" stroke="#333" stroke-width="0.15">10<tspan dy="-1.1" font-size="2">5</tspan></text>
<line x1="47.3" y1="401.8" x2="47.3" y2="451.2" stroke="#777" stroke-width="0.5" stroke-dasharray="0.5,1.4"/>
<line x1="50.5" y1="453.4" x2="99.7" y2="453.4" stroke="#777" stroke-width="0.6" stroke-dasharray="0.6,1.0"/>
<path d="M91.9 437.6h0M98.1 434.0h0M96.7 436.5h0M91.3 431.1h0M88.5 439.6h0M89.1 431.7h0M88.2 436.8h0M93.0 441.3h0M84.5 438.9h0M85.4 437.7h0M87.4 441.0h0M91.4 430.4h0M91.8 436.3h0M84.9 437.7h0M90.1 442.8h0M88.0 434.5h0M96.5 435.1h0M85.5 437.2h0M93.9 441.1h0M84.8 434.9h0M94.0 430.6h0M84.2 442.4h0M86.1 437.4h0M89.3 436.0h0M85.0 438.6h0M86.5 444.3h0M92.5 435.4h0M97.8 430.9h0M85.2 440.0h0M88.4 437.8h0M93.5 436.1h0M85.6 437.3h0M98.0 436.5h0M89.1 437.4h0M97.7 436.0h0M87.3 443.1h0M93.1 437.0h0M86.9 439.7h0M92.4 433.1h0M99.5 436.9h0M93.8 439.0h0M97.6 434.4h0M90.9 432.2h0M89.9 436.2h0M87.1 439.1h0M88.8 442.3h0M97.4 428.3h0M93.1 434.3h0M87.9 432.6h0M89.3 443.3h0M86.8 441.0h0M98.8 432.0h0M93.1 441.2h0M90.7 432.9h0M89.8 437.8h0M96.1 432.7h0M97.0 433.2h0M85.7 445.2h0M93.4 439.1h0M86.8 437.9h0M95.1 432.7h0M90.8 438.6h0M85.9 435.5h0M90.9 435.1h0M96.0 432.9h0M93.3 437.6h0M92.5 434.9h0M90.5 440.1h0M88.1 437.6h0M88.7 433.7h0M87.0 436.3h0M97.0 430.5h0M91.2 436.5h0M84.8 438.3h0M93.0 440.5h0M93.4 428.9h0M84.9 437.1h0M87.6 433.8h0" stroke="#a4acac" stroke-width="0.6" stroke-linecap="round" fill="none"/>
<path d="M88.8 442.2L88.3 443.0L87.7 443.7L86.7 444.5L85.2 445.1L83.3 445.7L81.3 446.2L79.0 446.7L76.3 447.3L73.2 447.6L70.2 447.4L67.9 446.8L66.4 446.0L65.2 445.2L63.9 444.5L62.9 443.6L62.8 442.6L63.7 441.5L65.4 440.6L67.4 439.8L69.9 439.1L72.8 438.6L75.9 438.5L78.6 438.8L80.8 439.1L82.9 439.4L85.0 439.7L87.0 440.0L88.5 440.6L89.0 441.4Z" fill="#dadfdf" stroke="#3e4848" stroke-width="0.55" stroke-linejoin="round"/>
<path d="M86.4 442.3L86.5 442.9L86.6 443.6L86.3 444.4L85.1 445.1L83.2 445.6L81.0 445.9L78.8 446.1L76.5 446.4L74.2 446.5L71.8 446.4L69.6 446.1L67.7 445.7L65.9 445.1L64.3 444.4L63.6 443.5L64.1 442.6L65.8 441.7L67.9 441.1L69.8 440.5L71.6 439.9L73.6 439.4L76.0 439.0L78.5 439.0L80.8 439.2L82.7 439.5L84.4 439.9L85.7 440.4L86.4 441.0L86.5 441.7Z" fill="none" stroke="#3b4545" stroke-width="0.55" stroke-linejoin="round"/>
<path d="M86.5 442.3L86.4 442.9L85.6 443.5L84.5 444.1L83.3 444.5L82.0 445.0L80.4 445.4L78.6 445.7L76.7 445.8L74.7 445.9L72.5 446.0L70.2 445.9L68.3 445.5L67.3 444.8L67.2 444.0L67.5 443.3L67.7 442.6L68.0 441.9L68.7 441.2L70.2 440.6L72.1 440.1L74.2 439.8L76.3 439.6L78.4 439.5L80.3 439.7L81.8 440.1L82.9 440.6L83.8 441.0L84.8 441.3L85.9 441.8Z" fill="none" stroke="#384242" stroke-width="0.55" stroke-linejoin="round"/>
<path d="M85.1 442.4L84.9 442.9L84.3 443.4L83.3 443.8L82.3 444.3L81.2 444.6L79.9 445.0L78.4 445.2L76.8 445.3L75.2 445.4L73.4 445.4L71.5 445.3L70.0 445.0L69.2 444.4L69.1 443.8L69.4 443.2L69.5 442.7L69.7 442.1L70.3 441.5L71.5 441.0L73.1 440.6L74.8 440.3L76.5 440.2L78.2 440.1L79.8 440.2L81.1 440.6L82.0 440.9L82.7 441.3L83.6 441.6L84.5 441.9Z" fill="none" stroke="#343e3e" stroke-width="0.55" stroke-linejoin="round"/>
<path d="M83.6 442.5L83.3 442.9L82.7 443.3L82.1 443.6L81.3 444.0L80.5 444.3L79.4 444.5L78.2 444.6L77.0 444.8L75.6 444.9L74.2 444.9L72.7 444.8L71.7 444.5L71.3 444.0L71.2 443.6L71.2 443.1L71.1 442.7L71.3 442.2L71.9 441.8L72.8 441.4L74.0 441.1L75.3 440.9L76.7 440.7L78.1 440.7L79.3 440.8L80.2 441.1L81.0 441.3L81.7 441.6L82.6 441.8L83.3 442.1Z" fill="none" stroke="#313b3b" stroke-width="0.55" stroke-linejoin="round"/>
<path d="M81.3 442.6L81.5 442.9L81.5 443.2L81.3 443.5L80.6 443.7L79.8 443.9L78.9 444.0L78.0 444.2L77.1 444.2L76.2 444.3L75.3 444.2L74.4 444.1L73.6 443.9L72.8 443.7L72.3 443.4L72.2 443.1L72.6 442.7L73.2 442.4L73.9 442.1L74.4 441.9L75.1 441.6L75.9 441.4L76.9 441.3L77.9 441.3L78.8 441.3L79.7 441.4L80.4 441.6L80.9 441.8L81.1 442.1L81.2 442.3Z" fill="none" stroke="#2e3838" stroke-width="0.55" stroke-linejoin="round"/>
<path d="M64.5,446.9 C72,448.3 84,447.6 90,444.6 C93,441.6 96,438.1 98.5,434.1" fill="none" stroke="#5a6464" stroke-width="0.55"/>
<path d="M88.2 429.0L87.7 430.0L86.7 430.9L85.5 431.7L84.4 432.4L83.3 433.1L81.9 433.8L80.2 434.2L78.4 434.3L76.7 434.0L75.2 433.7L73.7 433.3L72.1 432.9L70.8 432.2L70.0 431.3L69.8 430.3L70.0 429.3L70.5 428.2L71.5 427.3L73.0 426.6L74.8 426.3L76.5 426.1L78.0 425.9L79.5 425.6L81.3 425.2L83.2 425.1L85.0 425.5L86.4 426.2L87.4 427.0L88.0 428.0Z" fill="#d6dcdc" stroke="#4a5454" stroke-width="0.5" stroke-linejoin="round"/>
<path d="M87.0 429.1L86.4 430.0L85.6 430.7L84.9 431.5L84.2 432.2L83.1 432.9L81.7 433.4L80.1 433.5L78.5 433.5L77.1 433.3L75.6 433.2L74.1 433.0L72.8 432.6L71.8 431.9L71.1 431.1L70.8 430.2L70.7 429.3L71.3 428.4L72.5 427.6L74.0 427.1L75.5 426.8L76.8 426.5L78.1 426.1L79.5 425.7L81.1 425.5L82.7 425.7L84.2 426.1L85.4 426.6L86.4 427.3L87.0 428.2Z" fill="none" stroke="#485252" stroke-width="0.53" stroke-linejoin="round"/>
<path d="M86.1 429.2L86.3 430.0L85.8 430.8L84.7 431.4L83.4 431.9L82.2 432.2L81.1 432.5L79.9 432.8L78.6 432.9L77.3 432.9L76.0 432.8L74.6 432.7L73.2 432.4L72.1 431.8L71.7 431.0L72.0 430.1L72.7 429.4L73.3 428.7L73.9 428.1L74.6 427.4L75.6 426.9L76.8 426.5L78.1 426.3L79.4 426.2L80.8 426.1L82.2 426.3L83.3 426.7L84.1 427.2L84.8 427.8L85.4 428.5Z" fill="none" stroke="#454f4f" stroke-width="0.56" stroke-linejoin="round"/>
<path d="M85.0 429.2L84.7 429.9L84.1 430.5L83.3 431.0L82.6 431.5L81.9 431.9L81.0 432.4L79.8 432.7L78.6 432.7L77.5 432.5L76.5 432.3L75.5 432.1L74.5 431.8L73.7 431.3L73.2 430.7L73.1 430.1L73.1 429.4L73.4 428.7L74.0 428.1L75.0 427.6L76.2 427.4L77.3 427.3L78.3 427.1L79.3 426.9L80.5 426.7L81.8 426.7L82.9 426.9L83.8 427.4L84.4 427.9L84.8 428.6Z" fill="none" stroke="#434d4d" stroke-width="0.59" stroke-linejoin="round"/>
<path d="M83.5 429.3L83.6 429.8L83.5 430.4L83.2 430.9L82.4 431.4L81.4 431.6L80.5 431.7L79.6 431.9L78.7 432.0L77.8 432.0L76.9 431.9L76.0 431.7L75.2 431.4L74.5 431.1L73.9 430.6L73.7 430.0L74.1 429.4L74.8 428.9L75.5 428.6L76.1 428.2L76.7 427.8L77.5 427.5L78.3 427.2L79.3 427.2L80.3 427.2L81.2 427.3L82.1 427.5L82.9 427.8L83.3 428.3L83.4 428.8Z" fill="none" stroke="#414b4b" stroke-width="0.61" stroke-linejoin="round"/>
<path d="M82.8 429.4L82.7 429.8L82.4 430.2L81.8 430.5L81.3 430.8L80.8 431.1L80.3 431.4L79.5 431.6L78.7 431.7L78.0 431.6L77.3 431.4L76.8 431.2L76.2 431.0L75.6 430.7L75.3 430.3L75.2 429.9L75.2 429.5L75.4 429.1L75.8 428.7L76.4 428.3L77.1 428.1L77.8 428.0L78.5 428.0L79.2 427.9L80.0 427.8L80.8 427.8L81.6 427.9L82.2 428.2L82.5 428.5L82.8 429.0Z" fill="none" stroke="#3f4949" stroke-width="0.64" stroke-linejoin="round"/>
<path d="M81.7 429.5L81.5 429.8L81.4 430.0L81.2 430.3L80.9 430.6L80.5 430.9L79.9 431.0L79.4 431.0L78.8 431.0L78.3 431.0L77.8 430.9L77.3 430.8L76.8 430.7L76.5 430.4L76.3 430.2L76.1 429.9L76.1 429.5L76.3 429.2L76.8 429.0L77.3 428.8L77.8 428.6L78.2 428.5L78.6 428.3L79.2 428.2L79.8 428.2L80.3 428.3L80.8 428.4L81.2 428.6L81.6 428.8L81.7 429.1Z" fill="none" stroke="#3c4646" stroke-width="0.67" stroke-linejoin="round"/>
<path d="M80.8 429.5L80.7 429.7L80.6 429.9L80.4 430.1L80.1 430.2L79.8 430.3L79.5 430.4L79.2 430.5L78.9 430.6L78.5 430.6L78.1 430.6L77.9 430.4L77.7 430.3L77.5 430.1L77.4 430.0L77.3 429.8L77.3 429.6L77.4 429.4L77.6 429.2L77.8 429.0L78.1 428.9L78.4 428.8L78.8 428.8L79.1 428.8L79.4 428.8L79.7 428.9L80.1 428.9L80.5 429.0L80.7 429.1L80.8 429.3Z" fill="none" stroke="#3a4444" stroke-width="0.7" stroke-linejoin="round"/>
<path d="M58.0,423 L68.3,423 C66,428.4 65,436.3 64.6,439.3 L61.8,439.3 C61,436.3 60,428.4 58.0,423 Z" fill="#c4cccc"/>
<path d="M58.3,423.2 C60,428.4 61,436.3 61.8,439.3 M68,423.2 C66,428.4 65,436.3 64.6,439.3 M59.8,423.4 C61,428.4 61.8,434.3 62.3,438.3 M66.5,423.4 C65,428.4 64.4,434.3 64.0,438.3 M61.5,423.9 C62.3,428.4 62.8,434.3 63,437.3 M64.8,423.9 C64,428.4 63.6,434.3 63.4,437.3" fill="none" stroke="#7a8484" stroke-width="0.45"/>
<path d="M62.3,435.8 C62,439.65 60.8,441.85 60.8,444.7 C60.8,447 65.6,447 65.6,444.7 C65.6,441.85 64.4,439.65 64.1,435.8 Z" fill="#0e1212"/>
<path d="M66.05,441.3 C66.5,444.8 65.9,447.4 63.2,448" fill="none" stroke="#4a5454" stroke-width="0.5"/>
<rect x="56.5" y="422.4" width="32.3" height="13.9" fill="none" stroke="#333" stroke-width="0.75"/>
<line x1="69.4" y1="422.4" x2="69.4" y2="436.3" stroke="#333" stroke-width="0.75" />
<rect x="48.5" y="399.8" width="52.2" height="52.4" fill="none" stroke="#3a3a3a" stroke-width="0.9"/>
<line x1="118.6" y1="404.1" x2="120.4" y2="404.1" stroke="#333" stroke-width="0.7" />
<text x="113.8" y="405.5" font-size="3.0" fill="#333" stroke="#333" stroke-width="0.15" transform="rotate(-25,115.4,404.1)">10<tspan dy="-1.2" font-size="2.1">5</tspan></text>
<line x1="118.6" y1="419.3" x2="120.4" y2="419.3" stroke="#333" stroke-width="0.7" />
<text x="113.8" y="420.7" font-size="3.0" fill="#333" stroke="#333" stroke-width="0.15" transform="rotate(-25,115.4,419.3)">10<tspan dy="-1.2" font-size="2.1">4</tspan></text>
<line x1="118.6" y1="434.4" x2="120.4" y2="434.4" stroke="#333" stroke-width="0.7" />
<text x="113.8" y="435.8" font-size="3.0" fill="#333" stroke="#333" stroke-width="0.15" transform="rotate(-25,115.4,434.4)">10<tspan dy="-1.2" font-size="2.1">3</tspan></text>
<line x1="118.6" y1="440.9" x2="120.4" y2="440.9" stroke="#333" stroke-width="0.7" />
<circle cx="116.8" cy="441.1" r="0.6" fill="#333"/>
<line x1="128.9" y1="452.2" x2="128.9" y2="454" stroke="#333" stroke-width="0.7" />
<text x="127.3" y="457.1" font-size="2.8" fill="#333" stroke="#333" stroke-width="0.15">10<tspan dy="-1.1" font-size="2">2</tspan></text>
<line x1="132.4" y1="452.2" x2="132.4" y2="454" stroke="#333" stroke-width="0.7" />
<text x="130.8" y="457.1" font-size="2.8" fill="#333" stroke="#333" stroke-width="0.15">10<tspan dy="-1.1" font-size="2">3</tspan></text>
<line x1="144.4" y1="452.2" x2="144.4" y2="454" stroke="#333" stroke-width="0.7" />
<text x="142.8" y="457.1" font-size="2.8" fill="#333" stroke="#333" stroke-width="0.15">10<tspan dy="-1.1" font-size="2">4</tspan></text>
<line x1="157.9" y1="452.2" x2="157.9" y2="454" stroke="#333" stroke-width="0.7" />
<text x="156.3" y="457.1" font-size="2.8" fill="#333" stroke="#333" stroke-width="0.15">10<tspan dy="-1.1" font-size="2">5</tspan></text>
<line x1="169.4" y1="452.2" x2="169.4" y2="454" stroke="#333" stroke-width="0.7" />
<text x="167.8" y="457.1" font-size="2.8" fill="#333" stroke="#333" stroke-width="0.15">10<tspan dy="-1.1" font-size="2">6</tspan></text>
<line x1="119.2" y1="401.8" x2="119.2" y2="451.2" stroke="#777" stroke-width="0.5" stroke-dasharray="0.5,1.4"/>
<line x1="122.4" y1="453.4" x2="171.6" y2="453.4" stroke="#777" stroke-width="0.6" stroke-dasharray="0.6,1.0"/>
<path d="M165.1 416.5L163.8 418.2L162.0 419.8L159.8 421.1L157.1 422.1L154.0 422.8L150.8 423.3L147.7 423.7L144.2 424.2L140.3 424.5L136.4 424.1L133.4 422.9L131.5 421.3L130.3 419.7L129.2 418.1L128.3 416.5L128.3 414.8L129.6 413.2L131.8 411.8L134.5 410.6L137.4 409.7L140.6 408.9L144.2 408.7L147.7 409.0L150.9 409.7L153.9 410.2L157.3 410.7L161.0 411.5L164.1 412.8L165.5 414.6Z" fill="#e0e5e5" stroke="#6e7878" stroke-width="0.5" stroke-linejoin="round"/>
<path d="M161.0 416.5L160.8 417.9L160.5 419.5L159.4 420.9L157.0 422.1L153.8 422.7L150.5 422.9L147.5 422.9L144.5 423.0L141.4 422.9L138.4 422.5L135.6 421.8L133.1 420.8L130.9 419.6L129.0 418.2L128.3 416.5L129.3 414.9L131.7 413.6L134.4 412.7L136.8 411.8L139.0 411.0L141.4 410.1L144.4 409.5L147.6 409.4L150.8 409.7L153.9 410.2L156.9 411.0L159.4 412.1L160.8 413.5L161.2 415.0Z" fill="none" stroke="#687272" stroke-width="0.5" stroke-linejoin="round"/>
<path d="M159.3 416.5L158.7 417.7L158.1 419.0L157.3 420.2L155.6 421.4L153.1 422.1L150.2 422.3L147.3 422.3L144.7 422.2L142.1 422.0L139.4 421.8L136.8 421.1L134.8 420.2L133.1 419.1L131.6 417.9L130.8 416.5L131.1 415.1L132.9 413.8L135.4 413.0L137.9 412.4L140.0 411.8L142.2 411.1L144.6 410.5L147.4 410.2L150.3 410.4L153.0 411.0L155.5 411.7L157.7 412.6L159.2 413.8L159.7 415.2Z" fill="none" stroke="#616b6b" stroke-width="0.5" stroke-linejoin="round"/>
<path d="M158.5 416.5L158.7 417.7L157.7 418.9L155.8 419.8L153.6 420.3L151.4 420.8L149.3 421.2L147.1 421.5L144.9 421.5L142.6 421.3L140.3 421.0L137.9 420.6L135.5 420.0L133.8 419.0L133.4 417.7L134.0 416.5L135.1 415.4L136.1 414.5L137.0 413.5L138.3 412.6L140.2 411.9L142.4 411.5L144.8 411.3L147.2 411.2L149.7 411.3L152.0 411.7L153.8 412.5L155.1 413.5L156.2 414.4L157.4 415.4Z" fill="none" stroke="#5b6565" stroke-width="0.5" stroke-linejoin="round"/>
<path d="M156.4 416.5L155.8 417.4L154.9 418.3L153.8 419.1L152.2 419.6L150.5 420.0L148.7 420.4L147.0 420.7L145.0 421.0L142.8 421.1L140.7 420.7L139.2 420.0L138.2 419.1L137.4 418.3L136.6 417.4L136.0 416.5L136.1 415.5L136.8 414.6L138.0 413.9L139.4 413.2L141.0 412.6L142.9 412.2L145.0 412.2L146.9 412.4L148.7 412.7L150.5 412.9L152.5 413.2L154.6 413.7L156.0 414.5L156.6 415.5Z" fill="none" stroke="#545e5e" stroke-width="0.5" stroke-linejoin="round"/>
<path d="M154.8 416.5L154.5 417.3L153.6 418.0L152.3 418.6L151.0 419.0L149.7 419.4L148.3 419.7L146.8 419.8L145.2 419.8L143.7 419.8L142.0 419.7L140.3 419.4L138.8 418.9L138.1 418.1L138.1 417.3L138.5 416.5L138.7 415.8L139.0 415.1L139.6 414.4L140.7 413.8L142.1 413.4L143.6 413.1L145.2 412.9L146.8 412.9L148.5 413.0L149.9 413.4L151.0 414.0L152.0 414.5L153.1 415.1L154.2 415.7Z" fill="none" stroke="#4e5858" stroke-width="0.5" stroke-linejoin="round"/>
<path d="M161.6 433.7L161.0 435.2L160.3 436.4L159.5 437.2L158.8 437.7L158.1 437.9L157.5 437.8L156.9 437.7L156.4 437.7L155.8 437.8L155.1 437.8L154.4 437.5L153.9 436.5L153.8 435.2L153.9 433.8L154.0 432.4L154.3 431.0L154.7 429.6L155.4 428.6L156.2 428.1L156.9 427.9L157.5 427.8L158.1 427.8L158.7 428.0L159.2 428.3L159.6 428.8L160.1 429.3L160.7 429.9L161.3 430.7L161.7 432.1Z" fill="none" stroke="#9aa4a4" stroke-width="0.45" stroke-linejoin="round"/>
<path d="M160.3 433.5L160.0 434.6L159.5 435.5L159.0 436.1L158.4 436.5L157.9 436.6L157.5 436.7L157.0 436.8L156.6 437.0L156.1 437.0L155.7 436.7L155.4 436.1L155.1 435.3L154.9 434.5L154.8 433.6L154.8 432.5L155.0 431.4L155.4 430.5L156.0 429.8L156.5 429.2L157.0 429.0L157.5 428.9L158.0 429.2L158.3 429.5L158.7 429.7L159.1 429.8L159.6 429.9L160.2 430.4L160.5 431.2L160.5 432.3Z" fill="none" stroke="#8a9494" stroke-width="0.45" stroke-linejoin="round"/>
<path d="M159.4 433.3L159.1 434.0L158.8 434.6L158.5 435.1L158.1 435.4L157.8 435.5L157.5 435.5L157.2 435.5L156.9 435.6L156.5 435.7L156.2 435.5L156.0 435.2L155.9 434.6L155.8 434.0L155.8 433.4L155.8 432.7L155.9 432.0L156.1 431.3L156.5 430.9L156.8 430.5L157.2 430.3L157.5 430.2L157.8 430.3L158.1 430.4L158.3 430.7L158.6 430.9L158.9 431.1L159.2 431.3L159.4 431.8L159.5 432.6Z" fill="none" stroke="#7a8484" stroke-width="0.45" stroke-linejoin="round"/>
<path d="M144.1 413.7L144.3 414.5L144.3 415.3L143.8 416.0L142.9 416.5L141.8 416.8L140.7 417.0L139.7 417.1L138.7 417.2L137.6 417.0L136.7 416.7L135.8 416.3L135.0 415.8L134.2 415.2L133.7 414.5L133.7 413.7L134.1 413.0L134.8 412.3L135.4 411.8L135.9 411.2L136.6 410.6L137.5 410.2L138.6 410.0L139.8 410.0L140.8 410.2L141.9 410.5L142.8 411.0L143.4 411.6L143.7 412.3L143.9 413.0Z" fill="none" stroke="#1a2020" stroke-width="0.9" stroke-linejoin="round"/>
<path d="M143.2 413.7L143.4 414.3L143.4 415.0L143.0 415.6L142.3 416.1L141.4 416.4L140.5 416.5L139.6 416.6L138.8 416.6L137.9 416.5L137.1 416.2L136.4 415.9L135.7 415.5L135.0 415.0L134.6 414.4L134.5 413.7L134.9 413.1L135.4 412.5L136.0 412.1L136.5 411.6L137.1 411.1L137.8 410.7L138.7 410.6L139.7 410.6L140.6 410.8L141.4 411.0L142.2 411.4L142.7 411.9L143.0 412.5L143.1 413.1Z" fill="none" stroke="#141818" stroke-width="0.97" stroke-linejoin="round"/>
<path d="M142.7 413.7L142.5 414.2L142.2 414.6L141.9 415.0L141.5 415.5L141.1 415.9L140.4 416.2L139.6 416.3L138.8 416.1L138.2 415.9L137.6 415.7L136.9 415.4L136.4 415.1L136.0 414.7L135.8 414.2L135.7 413.7L135.6 413.2L135.8 412.6L136.2 412.2L136.8 411.9L137.6 411.7L138.2 411.6L138.9 411.5L139.6 411.3L140.3 411.3L141.1 411.5L141.6 411.8L142.1 412.2L142.4 412.7L142.7 413.2Z" fill="none" stroke="#0d1010" stroke-width="1.05" stroke-linejoin="round"/>
<path d="M141.9 413.7L141.8 414.1L141.6 414.4L141.3 414.8L140.9 415.0L140.5 415.2L140.0 415.4L139.5 415.5L138.9 415.6L138.3 415.6L137.8 415.4L137.4 415.1L137.1 414.7L136.9 414.4L136.8 414.1L136.6 413.7L136.6 413.3L136.7 412.9L137.0 412.6L137.4 412.3L137.8 412.0L138.3 411.8L138.9 411.8L139.5 411.9L140.0 412.1L140.4 412.2L140.9 412.4L141.4 412.6L141.8 412.9L142.0 413.3Z" fill="none" stroke="#060808" stroke-width="1.12" stroke-linejoin="round"/>
<path d="M141.0 413.7L141.0 414.0L140.8 414.2L140.6 414.4L140.4 414.6L140.1 414.7L139.7 414.8L139.4 415.0L139.0 415.0L138.6 415.0L138.2 414.9L138.0 414.6L137.8 414.4L137.7 414.2L137.5 414.0L137.4 413.7L137.4 413.4L137.5 413.2L137.7 412.9L137.9 412.7L138.2 412.5L138.6 412.5L139.0 412.5L139.4 412.5L139.7 412.6L140.1 412.7L140.4 412.7L140.8 412.9L141.0 413.2L141.0 413.4Z" fill="none" stroke="#000000" stroke-width="1.2" stroke-linejoin="round"/>
<ellipse cx="139.2" cy="413.7" rx="0.73" ry="0.5" transform="rotate(0,139.2,413.7)" fill="#eef0f0"/>
<path d="M160.4 416.0L160.5 416.7L160.5 417.5L160.2 418.3L159.5 418.9L158.6 419.2L157.8 419.3L156.9 419.4L156.1 419.5L155.2 419.3L154.5 419.0L153.8 418.6L153.1 418.1L152.5 417.5L152.1 416.8L152.0 416.0L152.3 415.2L152.9 414.6L153.4 414.1L153.9 413.5L154.4 412.9L155.2 412.5L156.0 412.3L157.0 412.3L157.8 412.5L158.7 412.8L159.4 413.3L159.9 413.9L160.2 414.6L160.3 415.3Z" fill="none" stroke="#2a3030" stroke-width="0.9" stroke-linejoin="round"/>
<path d="M160.2 416.0L160.2 416.7L159.9 417.3L159.4 417.8L158.8 418.2L158.2 418.5L157.6 418.8L156.9 418.9L156.1 418.9L155.5 418.8L154.7 418.6L154.0 418.4L153.4 417.9L153.1 417.3L153.0 416.6L153.2 416.0L153.4 415.4L153.5 414.8L153.7 414.2L154.1 413.7L154.7 413.3L155.4 413.1L156.1 412.9L156.9 412.9L157.6 413.0L158.3 413.4L158.7 413.9L159.1 414.4L159.5 414.9L159.9 415.4Z" fill="none" stroke="#202424" stroke-width="0.95" stroke-linejoin="round"/>
<path d="M159.3 416.0L159.3 416.5L159.1 417.0L158.7 417.4L158.3 417.7L157.8 418.0L157.3 418.2L156.8 418.5L156.2 418.6L155.5 418.5L155.0 418.2L154.7 417.8L154.4 417.3L154.1 416.9L153.8 416.5L153.7 416.0L153.7 415.5L153.9 415.0L154.2 414.5L154.5 414.1L155.0 413.8L155.6 413.6L156.2 413.7L156.8 413.8L157.3 413.9L157.9 414.0L158.5 414.1L159.0 414.5L159.3 414.9L159.4 415.5Z" fill="none" stroke="#151818" stroke-width="1" stroke-linejoin="round"/>
<path d="M158.8 416.0L158.8 416.4L158.6 416.8L158.2 417.1L157.9 417.3L157.5 417.6L157.1 417.7L156.7 417.8L156.3 417.8L155.9 417.7L155.4 417.6L155.0 417.5L154.6 417.2L154.4 416.8L154.4 416.4L154.5 416.0L154.6 415.6L154.6 415.3L154.8 414.9L155.0 414.6L155.4 414.4L155.8 414.2L156.3 414.1L156.7 414.1L157.2 414.2L157.6 414.4L157.9 414.7L158.1 415.0L158.3 415.3L158.6 415.6Z" fill="none" stroke="#0a0c0c" stroke-width="1.05" stroke-linejoin="round"/>
<path d="M158.0 416.0L157.9 416.3L157.7 416.5L157.6 416.7L157.5 416.9L157.3 417.2L157.0 417.3L156.7 417.3L156.3 417.3L156.1 417.1L155.8 417.0L155.6 416.9L155.3 416.7L155.2 416.5L155.1 416.3L155.0 416.0L155.0 415.7L155.1 415.5L155.2 415.2L155.5 415.0L155.8 415.0L156.1 414.9L156.4 414.8L156.7 414.8L157.0 414.8L157.3 414.8L157.5 415.0L157.7 415.2L157.9 415.5L157.9 415.7Z" fill="none" stroke="#000000" stroke-width="1.1" stroke-linejoin="round"/>
<ellipse cx="156.5" cy="416" rx="0.59" ry="0.5" transform="rotate(0,156.5,416)" fill="#dfe4e4"/>
<line x1="120.4" y1="427.1" x2="147" y2="427.1" stroke="#222" stroke-width="1" />
<line x1="147" y1="427.1" x2="172.6" y2="427.1" stroke="#555" stroke-width="0.9" />
<line x1="147.2" y1="399.8" x2="147.2" y2="452.2" stroke="#777" stroke-width="0.8" />
<rect x="120.4" y="399.8" width="52.2" height="52.4" fill="none" stroke="#3a3a3a" stroke-width="0.9"/>
<line x1="189.8" y1="404.1" x2="191.6" y2="404.1" stroke="#333" stroke-width="0.7" />
<text x="185" y="405.5" font-size="3.0" fill="#333" stroke="#333" stroke-width="0.15" transform="rotate(-25,186.6,404.1)">10<tspan dy="-1.2" font-size="2.1">5</tspan></text>
<line x1="189.8" y1="415.1" x2="191.6" y2="415.1" stroke="#333" stroke-width="0.7" />
<text x="185" y="416.5" font-size="3.0" fill="#333" stroke="#333" stroke-width="0.15" transform="rotate(-25,186.6,415.1)">10<tspan dy="-1.2" font-size="2.1">4</tspan></text>
<line x1="189.8" y1="426.1" x2="191.6" y2="426.1" stroke="#333" stroke-width="0.7" />
<text x="185" y="427.5" font-size="3.0" fill="#333" stroke="#333" stroke-width="0.15" transform="rotate(-25,186.6,426.1)">10<tspan dy="-1.2" font-size="2.1">3</tspan></text>
<line x1="189.8" y1="440.9" x2="191.6" y2="440.9" stroke="#333" stroke-width="0.7" />
<circle cx="188" cy="441.1" r="0.6" fill="#333"/>
<line x1="198.1" y1="452.2" x2="198.1" y2="454" stroke="#333" stroke-width="0.7" />
<text x="196.5" y="457.1" font-size="2.8" fill="#333" stroke="#333" stroke-width="0.15">10<tspan dy="-1.1" font-size="2">2</tspan></text>
<line x1="201.6" y1="452.2" x2="201.6" y2="454" stroke="#333" stroke-width="0.7" />
<text x="200" y="457.1" font-size="2.8" fill="#333" stroke="#333" stroke-width="0.15">10<tspan dy="-1.1" font-size="2">3</tspan></text>
<line x1="213.6" y1="452.2" x2="213.6" y2="454" stroke="#333" stroke-width="0.7" />
<text x="212" y="457.1" font-size="2.8" fill="#333" stroke="#333" stroke-width="0.15">10<tspan dy="-1.1" font-size="2">4</tspan></text>
<line x1="226.6" y1="452.2" x2="226.6" y2="454" stroke="#333" stroke-width="0.7" />
<text x="225" y="457.1" font-size="2.8" fill="#333" stroke="#333" stroke-width="0.15">10<tspan dy="-1.1" font-size="2">5</tspan></text>
<line x1="238.1" y1="452.2" x2="238.1" y2="454" stroke="#333" stroke-width="0.7" />
<text x="236.5" y="457.1" font-size="2.8" fill="#333" stroke="#333" stroke-width="0.15">10<tspan dy="-1.1" font-size="2">6</tspan></text>
<line x1="190.4" y1="401.8" x2="190.4" y2="451.2" stroke="#777" stroke-width="0.5" stroke-dasharray="0.5,1.4"/>
<line x1="193.6" y1="453.4" x2="242.9" y2="453.4" stroke="#777" stroke-width="0.6" stroke-dasharray="0.6,1.0"/>
<path d="M221.0 437.0L220.3 439.6L219.0 441.8L217.4 443.3L216.0 444.7L214.7 446.2L213.3 447.9L211.5 449.4L209.4 449.7L207.5 448.8L205.9 447.2L204.5 445.4L203.2 443.7L201.9 441.8L200.9 439.6L200.5 437.0L200.6 434.3L201.0 431.7L202.0 429.2L203.6 427.3L205.8 426.6L207.9 426.8L209.7 427.3L211.3 427.4L213.1 427.0L215.2 426.8L217.4 427.3L219.3 429.0L220.4 431.4L221.0 434.2Z" fill="#dde2e2" stroke="#6e7878" stroke-width="0.5" stroke-linejoin="round"/>
<path d="M219.8 437.0L219.1 439.3L217.9 441.1L216.6 442.6L215.5 444.0L214.4 445.6L213.1 447.2L211.4 448.1L209.6 448.0L207.9 447.1L206.5 445.8L205.1 444.6L203.8 443.1L202.7 441.4L202.0 439.3L201.7 437.0L201.6 434.6L201.9 432.2L202.8 430.0L204.5 428.5L206.4 428.1L208.3 428.3L209.8 428.4L211.2 428.1L212.9 427.6L214.8 427.6L216.6 428.4L218.1 430.0L219.2 432.1L219.8 434.5Z" fill="none" stroke="#677171" stroke-width="0.5" stroke-linejoin="round"/>
<path d="M219.2 437.0L218.8 439.2L217.6 441.0L216.3 442.3L215.0 443.3L213.8 444.3L212.6 445.2L211.2 445.7L209.8 445.8L208.3 445.6L206.7 445.3L205.1 444.5L203.8 443.1L203.2 441.1L203.1 439.0L203.3 437.0L203.5 435.1L203.7 433.1L204.2 431.2L205.3 429.7L206.8 428.9L208.3 428.5L209.8 428.3L211.2 428.2L212.7 428.5L214.0 429.3L215.2 430.4L216.3 431.6L217.5 433.0L218.7 434.8Z" fill="none" stroke="#5f6969" stroke-width="0.5" stroke-linejoin="round"/>
<path d="M217.5 437.0L217.0 438.7L216.3 440.3L215.4 441.5L214.4 442.4L213.3 443.2L212.3 443.9L211.1 444.7L209.8 445.4L208.3 445.4L207.0 444.6L206.1 443.1L205.5 441.6L205.0 440.1L204.4 438.6L203.9 437.0L203.9 435.2L204.3 433.5L205.0 432.0L206.0 430.7L207.2 429.8L208.5 429.4L209.9 429.6L211.1 430.1L212.2 430.6L213.4 430.7L214.8 430.9L216.3 431.7L217.4 433.1L217.8 435.1Z" fill="none" stroke="#586262" stroke-width="0.5" stroke-linejoin="round"/>
<path d="M216.8 437.0L216.3 438.5L215.5 439.8L214.6 440.8L213.8 441.7L213.0 442.4L212.0 442.9L211.0 443.2L210.0 443.4L208.8 443.5L207.6 443.3L206.5 442.6L205.8 441.3L205.5 439.8L205.5 438.4L205.4 437.0L205.3 435.6L205.4 434.1L205.9 432.8L206.8 431.8L207.8 431.1L208.9 430.7L210.0 430.5L211.0 430.6L212.0 431.0L212.9 431.7L213.8 432.4L214.8 433.1L215.9 434.0L216.6 435.4Z" fill="none" stroke="#515b5b" stroke-width="0.5" stroke-linejoin="round"/>
<path d="M214.9 437.0L215.0 438.2L214.8 439.4L214.2 440.4L213.4 441.0L212.5 441.4L211.7 441.8L210.9 442.1L210.1 442.3L209.2 442.1L208.4 441.6L207.6 441.0L206.9 440.3L206.2 439.4L205.8 438.3L205.8 437.0L206.2 435.8L206.7 434.9L207.2 433.9L207.7 433.0L208.3 432.3L209.2 431.9L210.1 431.8L210.9 431.8L211.8 432.0L212.7 432.2L213.5 432.8L214.1 433.7L214.5 434.8L214.7 435.9Z" fill="none" stroke="#495353" stroke-width="0.5" stroke-linejoin="round"/>
<path d="M214.0 437.0L213.9 437.9L213.5 438.7L213.0 439.3L212.5 439.8L212.0 440.3L211.5 440.9L210.9 441.3L210.1 441.5L209.4 441.2L208.8 440.6L208.4 440.0L208.0 439.3L207.5 438.7L207.2 437.9L207.1 437.0L207.1 436.1L207.3 435.2L207.6 434.3L208.1 433.6L208.8 433.3L209.5 433.2L210.2 433.4L210.8 433.5L211.4 433.5L212.1 433.4L212.9 433.7L213.5 434.2L213.9 435.1L214.0 436.1Z" fill="none" stroke="#424c4c" stroke-width="0.5" stroke-linejoin="round"/>
<path d="M218.2 431.3L218.2 432.7L217.8 434.0L216.9 435.0L216.0 435.8L215.0 436.5L214.0 437.0L212.9 437.3L211.7 437.2L210.6 437.0L209.5 436.6L208.4 436.1L207.4 435.3L206.8 434.0L206.7 432.6L207.0 431.3L207.3 430.1L207.5 428.9L207.9 427.7L208.5 426.6L209.4 425.8L210.5 425.3L211.7 425.0L212.9 424.9L214.1 425.2L215.1 425.9L215.9 426.9L216.4 428.0L217.0 429.0L217.7 430.0Z" fill="none" stroke="#1a2020" stroke-width="0.9" stroke-linejoin="round"/>
<path d="M217.5 431.3L217.3 432.5L216.7 433.5L216.1 434.4L215.5 435.2L214.7 435.8L213.7 436.2L212.8 436.4L211.8 436.4L210.8 436.4L209.7 436.2L208.8 435.6L208.1 434.7L207.9 433.5L207.9 432.3L207.9 431.3L207.8 430.2L207.9 429.1L208.3 428.1L209.0 427.2L209.8 426.6L210.8 426.0L211.8 425.7L212.8 425.8L213.8 426.2L214.6 427.0L215.2 427.7L216.0 428.4L216.7 429.1L217.3 430.1Z" fill="none" stroke="#141818" stroke-width="0.97" stroke-linejoin="round"/>
<path d="M216.4 431.3L216.3 432.2L215.9 433.1L215.4 433.8L214.8 434.4L214.2 435.0L213.6 435.6L212.8 436.1L211.8 436.2L211.0 435.8L210.3 435.1L209.8 434.4L209.2 433.8L208.7 433.1L208.4 432.2L208.2 431.3L208.3 430.4L208.5 429.4L208.9 428.5L209.4 427.7L210.2 427.2L211.1 427.1L211.9 427.2L212.7 427.3L213.5 427.3L214.4 427.4L215.2 427.8L215.8 428.5L216.1 429.4L216.3 430.4Z" fill="none" stroke="#0d1010" stroke-width="1.05" stroke-linejoin="round"/>
<path d="M215.7 431.3L215.5 432.1L215.3 432.8L214.9 433.4L214.4 433.9L213.9 434.3L213.3 434.6L212.6 434.8L211.9 435.1L211.2 435.1L210.5 434.7L210.0 434.1L209.7 433.4L209.5 432.7L209.3 432.0L209.1 431.3L209.1 430.5L209.3 429.8L209.6 429.1L210.0 428.5L210.6 428.0L211.2 427.6L211.9 427.6L212.6 427.8L213.2 428.1L213.8 428.4L214.4 428.7L215.1 429.1L215.5 429.7L215.7 430.5Z" fill="none" stroke="#060808" stroke-width="1.12" stroke-linejoin="round"/>
<path d="M214.8 431.3L214.7 431.9L214.4 432.4L214.2 432.8L214.0 433.3L213.6 433.8L213.2 434.2L212.6 434.3L212.0 434.1L211.6 433.9L211.1 433.6L210.7 433.3L210.3 432.9L210.0 432.4L209.9 431.9L209.8 431.3L209.8 430.7L209.8 430.1L210.1 429.5L210.6 429.2L211.1 429.0L211.6 428.9L212.1 428.7L212.6 428.6L213.1 428.5L213.6 428.7L214.1 429.1L214.4 429.6L214.6 430.2L214.8 430.7Z" fill="none" stroke="#000000" stroke-width="1.2" stroke-linejoin="round"/>
<ellipse cx="212.3" cy="431.3" rx="1.01" ry="1.12" transform="rotate(0,212.3,431.3)" fill="#ffffff"/>
<rect x="196.5" y="409" width="24.2" height="17.2" fill="none" stroke="#333" stroke-width="0.75"/>
<rect x="196.5" y="426.2" width="24.2" height="25.1" fill="none" stroke="#7a5a66" stroke-width="0.75"/>
<line x1="196.5" y1="426.2" x2="220.7" y2="426.2" stroke="#222" stroke-width="1.1" />
<rect x="191.6" y="399.8" width="52.3" height="52.4" fill="none" stroke="#3a3a3a" stroke-width="0.9"/>
<line x1="46.7" y1="472.5" x2="48.5" y2="472.5" stroke="#333" stroke-width="0.7" />
<text x="41.9" y="473.9" font-size="3.0" fill="#333" stroke="#333" stroke-width="0.15" transform="rotate(-25,43.5,472.5)">10<tspan dy="-1.2" font-size="2.1">5</tspan></text>
<line x1="46.7" y1="486.3" x2="48.5" y2="486.3" stroke="#333" stroke-width="0.7" />
<text x="41.9" y="487.7" font-size="3.0" fill="#333" stroke="#333" stroke-width="0.15" transform="rotate(-25,43.5,486.3)">10<tspan dy="-1.2" font-size="2.1">4</tspan></text>
<line x1="46.7" y1="500.6" x2="48.5" y2="500.6" stroke="#333" stroke-width="0.7" />
<text x="41.9" y="502" font-size="3.0" fill="#333" stroke="#333" stroke-width="0.15" transform="rotate(-25,43.5,500.6)">10<tspan dy="-1.2" font-size="2.1">3</tspan></text>
<line x1="46.7" y1="511.1" x2="48.5" y2="511.1" stroke="#333" stroke-width="0.7" />
<circle cx="44.9" cy="511.3" r="0.6" fill="#333"/>
<line x1="62" y1="519.6" x2="62" y2="521.4" stroke="#333" stroke-width="0.7" />
<text x="60.4" y="524.5" font-size="2.8" fill="#333" stroke="#333" stroke-width="0.15">10<tspan dy="-1.1" font-size="2">2</tspan></text>
<line x1="72.7" y1="519.6" x2="72.7" y2="521.4" stroke="#333" stroke-width="0.7" />
<text x="71.1" y="524.5" font-size="2.8" fill="#333" stroke="#333" stroke-width="0.15">10<tspan dy="-1.1" font-size="2">3</tspan></text>
<line x1="85.2" y1="519.6" x2="85.2" y2="521.4" stroke="#333" stroke-width="0.7" />
<text x="83.6" y="524.5" font-size="2.8" fill="#333" stroke="#333" stroke-width="0.15">10<tspan dy="-1.1" font-size="2">4</tspan></text>
<line x1="96.7" y1="519.6" x2="96.7" y2="521.4" stroke="#333" stroke-width="0.7" />
<text x="95.1" y="524.5" font-size="2.8" fill="#333" stroke="#333" stroke-width="0.15">10<tspan dy="-1.1" font-size="2">5</tspan></text>
<line x1="47.3" y1="469.2" x2="47.3" y2="518.6" stroke="#777" stroke-width="0.5" stroke-dasharray="0.5,1.4"/>
<line x1="50.5" y1="520.8" x2="99.7" y2="520.8" stroke="#777" stroke-width="0.6" stroke-dasharray="0.6,1.0"/>
<path d="M98.4 503.2h0M93.1 500.0h0M97.3 505.8h0M99.3 504.2h0M98.2 498.4h0M97.9 505.0h0M85.8 506.0h0M93.2 507.1h0M85.9 506.7h0M90.8 497.6h0M99.5 496.3h0M86.7 502.5h0M97.5 497.6h0M89.2 507.3h0M89.6 506.2h0M99.5 503.4h0M93.1 505.1h0M91.1 497.4h0M90.1 509.7h0M89.4 501.2h0M86.6 499.8h0M84.9 509.5h0M98.4 505.2h0M85.8 504.8h0M88.9 506.0h0M89.8 500.5h0M95.9 496.7h0M86.1 507.1h0M94.6 498.9h0M88.3 508.6h0M92.7 502.8h0M94.9 495.9h0M92.3 502.4h0M90.7 502.7h0M92.9 497.1h0M89.4 510.3h0M97.0 499.6h0M90.1 506.3h0M90.5 504.4h0M92.1 500.9h0M94.9 496.1h0M94.1 496.0h0M88.9 501.0h0M95.9 499.1h0M90.3 503.5h0M84.9 506.9h0M91.5 499.7h0M90.7 504.3h0M96.3 499.6h0M86.3 511.5h0M94.7 504.1h0M97.5 497.1h0M87.7 500.1h0M94.0 495.8h0M87.7 499.8h0M96.7 503.6h0M87.1 503.7h0M85.7 508.1h0M92.3 503.2h0M87.2 502.0h0M91.0 496.9h0M86.7 501.2h0M95.6 503.4h0M87.6 507.6h0M97.3 503.2h0M89.9 500.3h0M92.3 497.8h0M85.0 507.3h0M86.2 507.9h0M92.0 499.7h0M84.6 504.0h0M97.8 502.7h0M90.6 509.8h0M97.4 498.8h0M94.8 507.2h0M96.5 499.2h0M90.9 503.3h0M95.3 505.6h0" stroke="#a4acac" stroke-width="0.6" stroke-linecap="round" fill="none"/>
<path d="M88.4 509.3L87.8 510.1L87.0 510.8L86.3 511.5L85.5 512.3L84.1 513.2L81.9 513.8L79.1 514.1L76.4 514.1L73.8 514.0L71.1 513.9L68.5 513.7L66.1 513.2L64.3 512.5L63.1 511.6L62.4 510.7L62.1 509.7L62.9 508.6L64.9 507.6L67.8 507.0L70.8 506.6L73.5 506.3L76.0 505.9L78.6 505.7L81.3 505.7L83.7 506.0L85.5 506.6L86.8 507.2L87.8 507.9L88.4 508.6Z" fill="#dadfdf" stroke="#3e4848" stroke-width="0.55" stroke-linejoin="round"/>
<path d="M87.4 509.4L87.8 510.1L87.3 510.8L86.1 511.4L84.4 512.0L82.7 512.5L80.9 512.9L78.8 513.3L76.5 513.5L74.2 513.5L71.8 513.5L69.3 513.3L66.8 513.0L65.0 512.4L64.3 511.5L64.8 510.6L65.8 509.7L66.8 508.9L67.7 508.1L69.0 507.3L71.1 506.7L73.5 506.3L76.1 506.2L78.5 506.1L80.8 506.3L82.8 506.6L84.2 507.1L85.0 507.7L85.7 508.3L86.5 508.8Z" fill="none" stroke="#3b4545" stroke-width="0.55" stroke-linejoin="round"/>
<path d="M85.8 509.5L86.2 510.0L86.0 510.7L85.0 511.3L83.5 511.7L82.0 512.1L80.4 512.5L78.6 512.8L76.7 513.0L74.7 513.0L72.7 512.9L70.7 512.7L68.7 512.5L67.0 512.0L66.2 511.3L66.5 510.5L67.5 509.7L68.5 509.1L69.4 508.4L70.5 507.8L72.1 507.2L74.1 506.9L76.3 506.7L78.4 506.7L80.3 506.8L82.0 507.0L83.3 507.5L84.1 508.0L84.6 508.5L85.1 509.0Z" fill="none" stroke="#384242" stroke-width="0.55" stroke-linejoin="round"/>
<path d="M84.5 509.5L84.3 510.0L84.0 510.5L83.3 510.9L82.2 511.3L81.1 511.7L79.9 512.0L78.5 512.4L76.7 512.7L74.9 512.8L73.2 512.6L72.0 512.2L71.1 511.8L70.1 511.4L69.2 510.9L68.7 510.4L68.8 509.8L69.4 509.2L70.3 508.6L71.4 508.1L72.9 507.6L74.7 507.4L76.5 507.4L78.1 507.5L79.5 507.7L80.9 507.7L82.4 507.8L83.6 508.1L84.4 508.5L84.6 509.0Z" fill="none" stroke="#343e3e" stroke-width="0.55" stroke-linejoin="round"/>
<path d="M83.1 509.6L83.0 510.0L82.6 510.4L82.1 510.7L81.3 511.0L80.3 511.3L79.4 511.6L78.3 511.9L76.9 512.1L75.4 512.2L74.2 512.0L73.2 511.7L72.5 511.4L71.7 511.0L71.1 510.7L70.6 510.3L70.7 509.8L71.2 509.3L71.8 508.9L72.7 508.5L73.9 508.1L75.3 507.9L76.7 507.9L78.0 508.0L79.1 508.1L80.2 508.2L81.4 508.3L82.4 508.5L83.0 508.8L83.2 509.2Z" fill="none" stroke="#313b3b" stroke-width="0.55" stroke-linejoin="round"/>
<path d="M81.8 509.7L81.6 510.0L81.3 510.2L80.9 510.5L80.3 510.8L79.6 510.9L78.8 511.1L78.0 511.3L77.1 511.4L76.0 511.5L75.0 511.5L74.2 511.3L73.7 511.0L73.4 510.7L73.0 510.4L72.7 510.2L72.6 509.8L72.9 509.5L73.4 509.2L74.1 508.9L74.9 508.6L75.9 508.5L76.9 508.4L77.9 508.5L78.7 508.6L79.4 508.7L80.2 508.8L80.9 508.9L81.6 509.1L81.8 509.4Z" fill="none" stroke="#2e3838" stroke-width="0.55" stroke-linejoin="round"/>
<path d="M64.5,514 C72,515.4 84,514.7 90,511.7 C93,508.7 96,505.2 98.5,501.2" fill="none" stroke="#5a6464" stroke-width="0.55"/>
<path d="M87.4 496.1L87.5 497.0L87.3 498.0L86.6 499.0L85.2 499.8L83.4 500.2L81.7 500.4L80.1 500.6L78.5 500.8L76.8 500.9L75.1 500.8L73.5 500.5L72.0 500.0L70.5 499.3L69.4 498.4L69.1 497.3L69.7 496.2L71.1 495.3L72.6 494.7L73.8 494.0L74.9 493.4L76.2 492.7L77.8 492.3L79.6 492.1L81.3 492.1L83.1 492.3L84.8 492.6L86.3 493.2L87.1 494.1L87.4 495.1Z" fill="#d6dcdc" stroke="#4a5454" stroke-width="0.5" stroke-linejoin="round"/>
<path d="M87.2 496.1L86.8 497.0L86.1 497.8L85.1 498.5L83.9 499.1L82.6 499.5L81.3 499.9L80.0 500.4L78.5 500.8L76.8 500.9L75.2 500.7L74.0 500.1L73.1 499.4L72.2 498.8L71.4 498.1L71.0 497.2L71.1 496.3L71.8 495.5L72.7 494.7L73.7 494.0L75.0 493.4L76.5 493.1L78.0 493.0L79.4 493.1L80.8 493.1L82.3 493.1L84.1 493.2L85.7 493.5L86.8 494.2L87.3 495.1Z" fill="none" stroke="#485252" stroke-width="0.53" stroke-linejoin="round"/>
<path d="M86.3 496.1L86.4 497.0L85.7 497.8L84.6 498.4L83.4 498.8L82.2 499.2L81.1 499.6L79.9 499.8L78.6 499.9L77.3 499.9L76.0 499.9L74.5 499.8L73.1 499.4L72.1 498.8L71.9 498.0L72.2 497.1L72.8 496.4L73.2 495.7L73.7 495.0L74.5 494.4L75.6 493.9L76.8 493.6L78.1 493.3L79.4 493.2L80.8 493.1L82.2 493.3L83.2 493.7L84.0 494.3L84.8 494.8L85.6 495.4Z" fill="none" stroke="#454f4f" stroke-width="0.56" stroke-linejoin="round"/>
<path d="M84.9 496.2L84.7 496.9L84.3 497.5L83.5 498.0L82.6 498.4L81.7 498.8L80.8 499.2L79.8 499.6L78.6 499.8L77.4 499.8L76.3 499.5L75.5 499.1L74.7 498.7L73.9 498.2L73.3 497.7L73.0 497.1L73.2 496.4L73.6 495.8L74.2 495.2L75.0 494.6L76.0 494.2L77.1 494.0L78.3 494.0L79.3 494.0L80.4 494.0L81.6 493.9L82.9 494.0L84.0 494.3L84.7 494.9L84.9 495.6Z" fill="none" stroke="#434d4d" stroke-width="0.59" stroke-linejoin="round"/>
<path d="M84.3 496.3L83.9 496.9L83.4 497.4L82.7 497.8L82.1 498.2L81.3 498.5L80.5 498.7L79.6 498.8L78.7 499.0L77.7 499.1L76.7 499.1L75.7 499.0L75.0 498.5L74.7 498.0L74.6 497.5L74.5 497.0L74.4 496.5L74.6 495.9L75.1 495.4L75.8 495.0L76.6 494.7L77.4 494.4L78.3 494.2L79.3 494.2L80.2 494.3L81.0 494.5L81.8 494.7L82.6 494.9L83.5 495.2L84.1 495.7Z" fill="none" stroke="#414b4b" stroke-width="0.61" stroke-linejoin="round"/>
<path d="M82.8 496.4L82.7 496.8L82.4 497.2L81.9 497.6L81.3 497.8L80.8 498.1L80.2 498.3L79.5 498.6L78.7 498.7L77.9 498.7L77.2 498.5L76.7 498.3L76.2 498.0L75.7 497.7L75.3 497.3L75.1 496.9L75.2 496.5L75.5 496.1L75.9 495.7L76.4 495.3L77.0 495.1L77.8 494.9L78.5 494.9L79.2 494.9L79.9 494.9L80.7 494.9L81.5 494.9L82.2 495.1L82.7 495.5L82.8 495.9Z" fill="none" stroke="#3f4949" stroke-width="0.64" stroke-linejoin="round"/>
<path d="M81.8 496.5L81.9 496.8L81.7 497.1L81.3 497.4L80.8 497.6L80.3 497.7L79.9 497.9L79.4 498.0L78.8 498.0L78.3 498.0L77.8 498.0L77.2 497.9L76.7 497.8L76.2 497.5L76.1 497.2L76.2 496.8L76.5 496.5L76.7 496.3L76.9 496.0L77.2 495.7L77.6 495.5L78.1 495.4L78.6 495.3L79.2 495.2L79.7 495.2L80.3 495.3L80.7 495.4L81.1 495.7L81.3 495.9L81.6 496.2Z" fill="none" stroke="#3c4646" stroke-width="0.67" stroke-linejoin="round"/>
<path d="M80.6 496.5L80.6 496.7L80.6 496.9L80.5 497.1L80.3 497.3L79.9 497.4L79.6 497.5L79.2 497.5L78.9 497.5L78.6 497.5L78.2 497.5L77.9 497.4L77.6 497.3L77.4 497.2L77.2 497.0L77.1 496.8L77.1 496.6L77.4 496.4L77.7 496.2L77.9 496.1L78.2 496.0L78.4 495.9L78.8 495.8L79.1 495.7L79.5 495.7L79.8 495.8L80.1 495.9L80.4 496.0L80.6 496.1L80.7 496.3Z" fill="none" stroke="#3a4444" stroke-width="0.7" stroke-linejoin="round"/>
<path d="M58.0,489.9 L68.3,489.9 C66,495.3 65,503.4 64.6,506.4 L61.8,506.4 C61,503.4 60,495.3 58.0,489.9 Z" fill="#c4cccc"/>
<path d="M58.3,490.1 C60,495.3 61,503.4 61.8,506.4 M68,490.1 C66,495.3 65,503.4 64.6,506.4 M59.8,490.3 C61,495.3 61.8,501.4 62.3,505.4 M66.5,490.3 C65,495.3 64.4,501.4 64.0,505.4 M61.5,490.8 C62.3,495.3 62.8,501.4 63,504.4 M64.8,490.8 C64,495.3 63.6,501.4 63.4,504.4" fill="none" stroke="#7a8484" stroke-width="0.45"/>
<path d="M62.3,502.4 C62,506.6 60.8,509 60.8,512.3 C60.8,514.6 65.6,514.6 65.6,512.3 C65.6,509 64.4,506.6 64.1,502.4 Z" fill="#0e1212"/>
<path d="M66.05,508.4 C66.5,512.4 65.9,515 63.2,515.6" fill="none" stroke="#4a5454" stroke-width="0.5"/>
<rect x="56.5" y="489.3" width="32.3" height="14.1" fill="none" stroke="#333" stroke-width="0.75"/>
<line x1="69.4" y1="489.3" x2="69.4" y2="503.4" stroke="#333" stroke-width="0.75" />
<rect x="48.5" y="467.2" width="52.2" height="52.4" fill="none" stroke="#3a3a3a" stroke-width="0.9"/>
<line x1="118.6" y1="471.5" x2="120.4" y2="471.5" stroke="#333" stroke-width="0.7" />
<text x="113.8" y="472.9" font-size="3.0" fill="#333" stroke="#333" stroke-width="0.15" transform="rotate(-25,115.4,471.5)">10<tspan dy="-1.2" font-size="2.1">5</tspan></text>
<line x1="118.6" y1="486.7" x2="120.4" y2="486.7" stroke="#333" stroke-width="0.7" />
<text x="113.8" y="488.1" font-size="3.0" fill="#333" stroke="#333" stroke-width="0.15" transform="rotate(-25,115.4,486.7)">10<tspan dy="-1.2" font-size="2.1">4</tspan></text>
<line x1="118.6" y1="501.8" x2="120.4" y2="501.8" stroke="#333" stroke-width="0.7" />
<text x="113.8" y="503.2" font-size="3.0" fill="#333" stroke="#333" stroke-width="0.15" transform="rotate(-25,115.4,501.8)">10<tspan dy="-1.2" font-size="2.1">3</tspan></text>
<line x1="118.6" y1="508.3" x2="120.4" y2="508.3" stroke="#333" stroke-width="0.7" />
<circle cx="116.8" cy="508.5" r="0.6" fill="#333"/>
<line x1="128.9" y1="519.6" x2="128.9" y2="521.4" stroke="#333" stroke-width="0.7" />
<text x="127.3" y="524.5" font-size="2.8" fill="#333" stroke="#333" stroke-width="0.15">10<tspan dy="-1.1" font-size="2">2</tspan></text>
<line x1="132.4" y1="519.6" x2="132.4" y2="521.4" stroke="#333" stroke-width="0.7" />
<text x="130.8" y="524.5" font-size="2.8" fill="#333" stroke="#333" stroke-width="0.15">10<tspan dy="-1.1" font-size="2">3</tspan></text>
<line x1="144.4" y1="519.6" x2="144.4" y2="521.4" stroke="#333" stroke-width="0.7" />
<text x="142.8" y="524.5" font-size="2.8" fill="#333" stroke="#333" stroke-width="0.15">10<tspan dy="-1.1" font-size="2">4</tspan></text>
<line x1="157.9" y1="519.6" x2="157.9" y2="521.4" stroke="#333" stroke-width="0.7" />
<text x="156.3" y="524.5" font-size="2.8" fill="#333" stroke="#333" stroke-width="0.15">10<tspan dy="-1.1" font-size="2">5</tspan></text>
<line x1="169.4" y1="519.6" x2="169.4" y2="521.4" stroke="#333" stroke-width="0.7" />
<text x="167.8" y="524.5" font-size="2.8" fill="#333" stroke="#333" stroke-width="0.15">10<tspan dy="-1.1" font-size="2">6</tspan></text>
<line x1="119.2" y1="469.2" x2="119.2" y2="518.6" stroke="#777" stroke-width="0.5" stroke-dasharray="0.5,1.4"/>
<line x1="122.4" y1="520.8" x2="171.6" y2="520.8" stroke="#777" stroke-width="0.6" stroke-dasharray="0.6,1.0"/>
<path d="M163.3 485.4L163.4 487.3L162.6 489.1L160.3 490.4L156.9 491.0L153.2 491.0L149.8 490.8L146.6 490.6L143.3 490.4L139.9 489.8L136.6 488.9L133.5 487.6L130.4 486.2L127.6 484.4L125.9 482.3L126.2 480.2L128.4 478.6L131.3 477.6L134.1 476.8L136.4 476.0L138.9 475.1L142.0 474.7L145.4 474.7L148.9 475.1L152.4 475.8L155.9 476.8L159.2 478.1L161.5 479.9L162.7 481.8L163.0 483.6Z" fill="#e0e5e5" stroke="#6e7878" stroke-width="0.5" stroke-linejoin="round"/>
<path d="M162.4 485.3L160.9 486.7L158.9 487.8L156.9 488.7L155.0 489.6L152.7 490.5L149.8 490.9L146.6 490.7L143.5 489.9L140.7 489.0L137.9 488.1L135.1 487.1L132.4 485.7L130.6 484.1L129.7 482.4L129.5 480.7L129.9 479.0L131.1 477.5L133.5 476.5L136.8 476.2L140.0 476.3L142.8 476.5L145.5 476.4L148.5 476.3L151.8 476.5L155.1 477.3L157.9 478.6L160.1 480.2L161.7 481.8L162.6 483.6Z" fill="none" stroke="#687272" stroke-width="0.5" stroke-linejoin="round"/>
<path d="M160.4 485.0L159.5 486.3L158.1 487.4L156.0 488.2L153.6 488.6L151.3 488.9L149.0 489.1L146.5 489.5L143.6 489.5L140.6 489.0L138.1 487.9L136.3 486.6L134.8 485.3L133.3 483.9L132.1 482.5L131.7 481.0L132.3 479.6L133.7 478.5L135.5 477.6L137.6 476.8L140.0 476.4L142.8 476.4L145.6 476.9L148.0 477.5L150.5 478.0L153.2 478.5L156.3 479.2L158.9 480.4L160.4 481.9L160.8 483.5Z" fill="none" stroke="#616b6b" stroke-width="0.5" stroke-linejoin="round"/>
<path d="M159.3 484.9L158.5 486.1L156.7 487.0L154.7 487.5L152.7 488.0L150.7 488.3L148.6 488.4L146.4 488.2L144.2 487.9L141.9 487.6L139.3 487.2L136.7 486.4L134.8 485.3L134.0 483.9L134.2 482.6L134.7 481.4L135.2 480.3L135.9 479.3L137.1 478.4L138.9 477.8L141.0 477.5L143.3 477.4L145.6 477.4L148.0 477.6L150.3 478.2L152.3 479.1L153.9 480.1L155.4 481.1L157.2 482.2L158.7 483.5Z" fill="none" stroke="#5b6565" stroke-width="0.5" stroke-linejoin="round"/>
<path d="M157.0 484.5L156.1 485.5L154.7 486.2L153.2 486.8L151.7 487.2L150.0 487.4L148.2 487.5L146.3 487.3L144.5 487.2L142.4 487.0L140.2 486.6L138.2 485.9L136.9 484.8L136.5 483.7L136.5 482.7L136.6 481.7L136.7 480.7L137.3 479.8L138.5 479.1L140.1 478.6L141.9 478.4L143.7 478.2L145.6 478.2L147.7 478.5L149.5 479.1L151.0 479.8L152.5 480.6L154.1 481.4L155.8 482.3L156.9 483.4Z" fill="none" stroke="#545e5e" stroke-width="0.5" stroke-linejoin="round"/>
<path d="M154.1 484.1L153.4 484.8L152.5 485.4L151.6 485.9L150.7 486.4L149.5 486.9L148.0 487.1L146.3 486.9L144.7 486.5L143.3 486.0L141.9 485.6L140.5 485.0L139.2 484.4L138.4 483.6L137.9 482.7L137.8 481.8L137.9 481.0L138.5 480.2L139.7 479.7L141.3 479.5L142.9 479.6L144.4 479.6L145.7 479.6L147.3 479.5L149.0 479.7L150.6 480.1L152.0 480.8L153.0 481.6L153.8 482.4L154.2 483.3Z" fill="none" stroke="#4e5858" stroke-width="0.5" stroke-linejoin="round"/>
<path d="M161.4 502.0L161.4 503.6L160.8 505.0L159.9 505.9L158.9 506.4L158.0 506.8L157.2 507.0L156.4 507.1L155.6 507.1L154.8 507.0L153.9 506.9L152.9 506.7L151.9 506.1L151.1 505.0L150.9 503.5L151.1 502.0L151.4 500.7L151.8 499.4L152.3 498.3L153.0 497.4L153.9 496.9L154.7 496.7L155.6 496.6L156.4 496.5L157.3 496.6L158.1 497.0L158.8 497.7L159.5 498.5L160.2 499.4L160.9 500.6Z" fill="none" stroke="#9aa4a4" stroke-width="0.45" stroke-linejoin="round"/>
<path d="M159.8 502.0L159.7 503.1L159.3 504.0L158.7 504.7L158.1 505.2L157.5 505.6L156.9 505.9L156.3 506.3L155.7 506.4L155.0 506.3L154.4 505.8L153.9 505.2L153.4 504.6L152.8 503.9L152.4 503.1L152.2 502.0L152.3 500.9L152.6 499.9L153.1 499.1L153.6 498.4L154.3 498.0L155.1 498.0L155.7 498.2L156.3 498.3L156.9 498.3L157.6 498.3L158.3 498.4L159.0 499.0L159.5 499.8L159.7 500.9Z" fill="none" stroke="#8a9494" stroke-width="0.45" stroke-linejoin="round"/>
<path d="M158.3 502.0L158.4 502.7L158.3 503.4L158.1 504.1L157.6 504.4L157.1 504.6L156.6 504.6L156.2 504.6L155.8 504.7L155.4 504.6L155.0 504.5L154.6 504.2L154.1 503.9L153.7 503.4L153.4 502.8L153.3 502.0L153.6 501.3L153.9 500.7L154.3 500.3L154.6 499.9L154.9 499.5L155.3 499.2L155.8 499.1L156.2 499.1L156.7 499.2L157.1 499.4L157.5 499.7L157.9 500.1L158.1 500.7L158.2 501.4Z" fill="none" stroke="#7a8484" stroke-width="0.45" stroke-linejoin="round"/>
<path d="M161.9 481.5L162.2 482.5L162.0 483.5L161.0 484.3L159.7 484.9L158.4 485.3L157.1 485.6L155.7 485.9L154.3 485.9L152.9 485.6L151.6 485.3L150.3 484.8L149.1 484.3L148.1 483.5L147.6 482.5L147.9 481.5L148.5 480.6L149.2 479.8L149.7 479.0L150.4 478.2L151.4 477.5L152.8 477.1L154.2 476.9L155.7 476.9L157.2 477.1L158.6 477.5L159.7 478.1L160.4 479.0L160.8 479.8L161.3 480.6Z" fill="none" stroke="#7a8484" stroke-width="0.5" stroke-linejoin="round"/>
<path d="M160.1 481.5L160.2 482.2L160.2 483.0L159.9 483.8L159.1 484.4L157.9 484.8L156.7 484.9L155.6 484.9L154.4 484.9L153.3 484.8L152.3 484.6L151.3 484.1L150.6 483.6L149.8 483.0L149.2 482.3L148.9 481.5L149.2 480.7L149.9 480.1L150.8 479.5L151.6 479.1L152.3 478.5L153.3 478.1L154.4 477.8L155.6 477.8L156.8 478.0L157.9 478.3L158.8 478.8L159.6 479.3L160.1 480.1L160.2 480.8Z" fill="none" stroke="#6a7474" stroke-width="0.5" stroke-linejoin="round"/>
<path d="M159.2 481.5L159.1 482.1L158.7 482.6L158.2 483.0L157.6 483.4L157.1 483.8L156.4 484.2L155.5 484.4L154.5 484.4L153.7 484.1L153.0 483.7L152.4 483.4L151.7 483.0L151.2 482.6L150.9 482.1L150.8 481.5L150.9 480.9L151.0 480.4L151.4 479.8L152.0 479.4L152.9 479.1L153.8 479.1L154.6 479.1L155.4 479.0L156.3 478.9L157.2 479.0L158.0 479.4L158.5 479.8L158.9 480.4L159.1 480.9Z" fill="none" stroke="#5a6464" stroke-width="0.5" stroke-linejoin="round"/>
<path d="M157.8 481.5L157.7 481.9L157.5 482.2L157.2 482.5L156.8 482.8L156.3 483.0L155.8 483.1L155.3 483.3L154.7 483.4L154.1 483.4L153.5 483.2L153.1 482.9L152.9 482.5L152.6 482.2L152.4 481.9L152.2 481.5L152.2 481.1L152.4 480.8L152.7 480.4L153.1 480.1L153.5 479.9L154.1 479.7L154.7 479.7L155.3 479.8L155.8 479.9L156.3 480.1L156.8 480.2L157.4 480.4L157.8 480.7L157.9 481.1Z" fill="none" stroke="#4a5454" stroke-width="0.5" stroke-linejoin="round"/>
<path d="M148.3 481.4L148.0 482.3L147.4 483.1L146.3 483.7L145.1 484.2L143.9 484.7L142.6 485.3L141.0 485.6L139.1 485.6L137.5 485.2L136.2 484.5L135.1 483.7L134.1 483.0L133.2 482.3L132.5 481.5L132.3 480.6L132.5 479.7L133.0 478.8L133.7 478.0L134.8 477.3L136.3 476.9L138.1 476.8L139.7 477.0L141.3 477.2L142.8 477.3L144.5 477.5L146.1 477.9L147.3 478.7L148.0 479.6L148.2 480.5Z" fill="none" stroke="#1a2020" stroke-width="0.9" stroke-linejoin="round"/>
<path d="M146.7 481.3L146.3 482.0L145.9 482.7L145.6 483.4L144.9 484.1L143.8 484.6L142.3 484.8L140.8 484.6L139.5 484.4L138.2 484.1L136.9 483.8L135.8 483.4L134.9 482.8L134.2 482.1L133.7 481.4L133.3 480.6L133.3 479.8L133.9 479.1L135.0 478.6L136.2 478.3L137.4 478.0L138.5 477.7L139.8 477.4L141.2 477.3L142.7 477.5L143.9 478.0L145.0 478.5L145.9 479.1L146.6 479.8L146.8 480.6Z" fill="none" stroke="#141818" stroke-width="0.95" stroke-linejoin="round"/>
<path d="M146.1 481.3L145.9 481.9L145.3 482.5L144.5 482.9L143.7 483.3L142.8 483.6L141.8 483.8L140.7 483.8L139.6 483.7L138.5 483.6L137.4 483.5L136.3 483.1L135.5 482.6L135.2 481.9L135.2 481.3L135.4 480.7L135.4 480.2L135.5 479.6L136.0 479.0L136.7 478.6L137.7 478.3L138.7 478.1L139.9 478.0L141.0 478.0L142.1 478.3L143.0 478.7L143.7 479.2L144.4 479.6L145.2 480.1L145.8 480.7Z" fill="none" stroke="#0d1010" stroke-width="1" stroke-linejoin="round"/>
<path d="M144.2 481.2L144.3 481.7L144.3 482.2L143.8 482.6L143.1 482.9L142.2 483.0L141.4 483.1L140.6 483.1L139.8 483.1L139.0 483.0L138.2 482.7L137.5 482.5L136.9 482.1L136.3 481.7L135.9 481.3L136.0 480.8L136.4 480.3L136.9 480.0L137.3 479.7L137.8 479.3L138.3 479.0L139.1 478.8L140.0 478.7L140.9 478.8L141.7 478.9L142.5 479.1L143.2 479.5L143.6 479.9L143.9 480.3L144.0 480.8Z" fill="none" stroke="#060808" stroke-width="1.05" stroke-linejoin="round"/>
<path d="M142.9 481.1L142.8 481.4L142.7 481.7L142.6 482.0L142.3 482.3L141.8 482.5L141.1 482.5L140.5 482.5L139.9 482.4L139.4 482.3L138.9 482.2L138.4 482.0L138.0 481.8L137.7 481.5L137.5 481.2L137.3 480.8L137.4 480.5L137.6 480.2L138.1 480.0L138.6 479.9L139.1 479.8L139.6 479.6L140.1 479.5L140.7 479.4L141.3 479.5L141.8 479.7L142.3 480.0L142.7 480.2L142.9 480.5L143.0 480.8Z" fill="none" stroke="#000000" stroke-width="1.1" stroke-linejoin="round"/>
<ellipse cx="140.3" cy="481" rx="1.12" ry="0.6" transform="rotate(3,140.3,481)" fill="#e8ecec"/>
<line x1="120.4" y1="494.6" x2="147" y2="494.6" stroke="#222" stroke-width="1" />
<line x1="147" y1="494.6" x2="172.6" y2="494.6" stroke="#555" stroke-width="0.9" />
<line x1="147.2" y1="467.2" x2="147.2" y2="519.6" stroke="#777" stroke-width="0.8" />
<rect x="120.4" y="467.2" width="52.2" height="52.4" fill="none" stroke="#3a3a3a" stroke-width="0.9"/>
<line x1="189.8" y1="471.5" x2="191.6" y2="471.5" stroke="#333" stroke-width="0.7" />
<text x="185" y="472.9" font-size="3.0" fill="#333" stroke="#333" stroke-width="0.15" transform="rotate(-25,186.6,471.5)">10<tspan dy="-1.2" font-size="2.1">5</tspan></text>
<line x1="189.8" y1="482.5" x2="191.6" y2="482.5" stroke="#333" stroke-width="0.7" />
<text x="185" y="483.9" font-size="3.0" fill="#333" stroke="#333" stroke-width="0.15" transform="rotate(-25,186.6,482.5)">10<tspan dy="-1.2" font-size="2.1">4</tspan></text>
<line x1="189.8" y1="493.5" x2="191.6" y2="493.5" stroke="#333" stroke-width="0.7" />
<text x="185" y="494.9" font-size="3.0" fill="#333" stroke="#333" stroke-width="0.15" transform="rotate(-25,186.6,493.5)">10<tspan dy="-1.2" font-size="2.1">3</tspan></text>
<line x1="189.8" y1="508.3" x2="191.6" y2="508.3" stroke="#333" stroke-width="0.7" />
<circle cx="188" cy="508.5" r="0.6" fill="#333"/>
<line x1="198.1" y1="519.6" x2="198.1" y2="521.4" stroke="#333" stroke-width="0.7" />
<text x="196.5" y="524.5" font-size="2.8" fill="#333" stroke="#333" stroke-width="0.15">10<tspan dy="-1.1" font-size="2">2</tspan></text>
<line x1="201.6" y1="519.6" x2="201.6" y2="521.4" stroke="#333" stroke-width="0.7" />
<text x="200" y="524.5" font-size="2.8" fill="#333" stroke="#333" stroke-width="0.15">10<tspan dy="-1.1" font-size="2">3</tspan></text>
<line x1="213.6" y1="519.6" x2="213.6" y2="521.4" stroke="#333" stroke-width="0.7" />
<text x="212" y="524.5" font-size="2.8" fill="#333" stroke="#333" stroke-width="0.15">10<tspan dy="-1.1" font-size="2">4</tspan></text>
<line x1="226.6" y1="519.6" x2="226.6" y2="521.4" stroke="#333" stroke-width="0.7" />
<text x="225" y="524.5" font-size="2.8" fill="#333" stroke="#333" stroke-width="0.15">10<tspan dy="-1.1" font-size="2">5</tspan></text>
<line x1="238.1" y1="519.6" x2="238.1" y2="521.4" stroke="#333" stroke-width="0.7" />
<text x="236.5" y="524.5" font-size="2.8" fill="#333" stroke="#333" stroke-width="0.15">10<tspan dy="-1.1" font-size="2">6</tspan></text>
<line x1="190.4" y1="469.2" x2="190.4" y2="518.6" stroke="#777" stroke-width="0.5" stroke-dasharray="0.5,1.4"/>
<line x1="193.6" y1="520.8" x2="242.9" y2="520.8" stroke="#777" stroke-width="0.6" stroke-dasharray="0.6,1.0"/>
<path d="M220.5 503.0L219.6 505.7L218.4 508.0L217.1 509.9L215.7 511.3L214.2 512.4L212.7 513.4L211.2 514.6L209.3 515.6L207.3 515.9L205.4 514.9L204.0 512.7L203.2 510.2L202.5 507.8L201.8 505.5L201.1 503.0L200.9 500.2L201.4 497.5L202.6 495.2L204.0 493.3L205.7 492.0L207.6 491.4L209.4 491.7L211.1 492.5L212.6 493.2L214.2 493.6L216.2 493.8L218.4 494.8L220.2 496.9L220.8 499.9Z" fill="#dde2e2" stroke="#6e7878" stroke-width="0.5" stroke-linejoin="round"/>
<path d="M218.4 503.0L218.2 505.3L217.9 507.7L217.0 509.8L215.7 511.3L214.1 512.2L212.6 512.7L211.1 513.1L209.5 513.4L207.9 513.3L206.3 512.5L205.0 511.2L203.8 509.5L202.6 507.7L201.6 505.6L201.2 503.0L201.7 500.4L202.8 498.3L204.1 496.7L205.3 495.3L206.5 494.0L208.0 493.0L209.5 492.6L211.1 492.8L212.6 493.1L214.2 493.5L215.9 494.3L217.4 495.9L218.2 498.1L218.5 500.6Z" fill="none" stroke="#677171" stroke-width="0.5" stroke-linejoin="round"/>
<path d="M218.5 503.0L217.7 505.2L216.7 506.9L215.7 508.4L214.6 509.7L213.5 510.6L212.2 511.3L211.0 511.9L209.6 512.4L208.0 512.7L206.4 512.3L205.1 511.0L204.4 509.0L204.0 506.9L203.8 504.9L203.4 503.0L203.2 500.9L203.4 498.7L204.2 496.9L205.4 495.5L206.8 494.5L208.2 493.9L209.6 493.8L211.0 494.1L212.2 494.8L213.4 495.6L214.7 496.2L216.2 497.0L217.7 498.4L218.6 500.6Z" fill="none" stroke="#5f6969" stroke-width="0.5" stroke-linejoin="round"/>
<path d="M217.4 503.0L217.0 505.0L216.1 506.6L215.0 507.8L214.0 508.7L213.1 509.6L212.0 510.4L210.9 510.8L209.7 510.9L208.5 510.8L207.2 510.5L205.9 509.8L204.9 508.5L204.3 506.7L204.3 504.8L204.4 503.0L204.6 501.3L204.7 499.5L205.2 497.8L206.1 496.5L207.3 495.7L208.5 495.3L209.7 495.1L210.9 495.1L212.1 495.4L213.2 496.1L214.1 497.1L215.0 498.2L216.0 499.5L216.9 501.0Z" fill="none" stroke="#586262" stroke-width="0.5" stroke-linejoin="round"/>
<path d="M216.0 503.0L215.5 504.5L214.9 505.8L214.2 507.0L213.4 507.8L212.6 508.5L211.7 509.0L210.8 509.6L209.8 510.1L208.6 510.3L207.5 509.7L206.7 508.5L206.3 507.1L205.9 505.7L205.5 504.4L205.2 503.0L205.1 501.5L205.3 499.9L206.0 498.6L206.8 497.6L207.7 496.7L208.7 496.3L209.8 496.3L210.8 496.8L211.6 497.3L212.5 497.6L213.6 497.9L214.8 498.5L215.7 499.6L216.1 501.3Z" fill="none" stroke="#515b5b" stroke-width="0.5" stroke-linejoin="round"/>
<path d="M214.8 503.0L214.5 504.2L214.0 505.3L213.5 506.2L212.8 506.9L212.1 507.4L211.4 507.9L210.7 508.5L209.9 508.9L208.9 509.0L208.1 508.4L207.5 507.3L207.1 506.2L206.8 505.2L206.4 504.2L206.1 503.0L206.1 501.7L206.3 500.5L206.8 499.5L207.4 498.6L208.2 497.9L209.0 497.6L209.9 497.7L210.7 498.1L211.4 498.4L212.2 498.5L213.1 498.7L214.0 499.3L214.7 500.3L214.9 501.6Z" fill="none" stroke="#495353" stroke-width="0.5" stroke-linejoin="round"/>
<path d="M213.8 503.0L213.8 504.0L213.4 504.9L212.8 505.5L212.3 506.0L211.7 506.5L211.2 506.9L210.6 507.1L210.0 507.1L209.4 507.0L208.7 506.8L208.1 506.4L207.5 505.8L207.2 504.9L207.1 503.9L207.2 503.0L207.4 502.1L207.5 501.3L207.7 500.4L208.1 499.6L208.7 499.2L209.3 498.9L210.0 498.8L210.6 498.8L211.3 498.9L211.8 499.3L212.3 499.9L212.7 500.5L213.1 501.2L213.6 502.0Z" fill="none" stroke="#424c4c" stroke-width="0.5" stroke-linejoin="round"/>
<path d="M214.0 503.4L214.1 505.1L214.1 506.9L213.8 508.8L213.2 510.3L212.2 511.1L211.2 511.4L210.3 511.5L209.3 511.5L208.4 511.3L207.5 510.6L206.8 509.6L206.1 508.3L205.5 506.9L205.0 505.3L204.8 503.4L205.1 501.5L205.7 500.0L206.4 498.8L207.0 497.7L207.6 496.4L208.4 495.2L209.3 494.6L210.3 494.6L211.3 495.1L212.1 495.9L213.0 496.9L213.6 498.3L213.9 500.0L214.0 501.7Z" fill="none" stroke="#1a2020" stroke-width="0.9" stroke-linejoin="round"/>
<path d="M213.5 503.4L213.6 504.9L213.6 506.6L213.3 508.1L212.6 509.2L211.8 509.8L211.0 510.1L210.2 510.4L209.4 510.5L208.6 510.2L207.9 509.6L207.2 508.7L206.6 507.7L206.0 506.5L205.6 505.1L205.5 503.4L205.9 501.9L206.4 500.6L206.9 499.5L207.3 498.3L207.8 497.1L208.5 496.2L209.4 495.8L210.2 495.9L211.1 496.3L211.8 496.9L212.5 497.8L213.0 499.1L213.3 500.6L213.4 502.0Z" fill="none" stroke="#141818" stroke-width="1" stroke-linejoin="round"/>
<path d="M213.1 503.4L213.3 504.8L213.1 506.1L212.7 507.2L212.0 508.0L211.4 508.6L210.8 509.1L210.1 509.4L209.5 509.4L208.8 509.1L208.2 508.6L207.6 508.0L207.0 507.2L206.5 506.1L206.3 504.8L206.5 503.4L206.8 502.2L207.0 501.1L207.3 500.0L207.6 498.8L208.1 497.9L208.7 497.3L209.4 497.1L210.2 497.1L210.9 497.3L211.5 497.9L212.0 498.8L212.3 500.0L212.6 501.1L212.8 502.2Z" fill="none" stroke="#0d1010" stroke-width="1.1" stroke-linejoin="round"/>
<path d="M212.6 503.4L212.5 504.4L212.2 505.4L211.9 506.3L211.6 507.0L211.1 507.6L210.6 507.9L210.1 508.1L209.5 508.4L208.9 508.4L208.3 508.1L207.9 507.4L207.6 506.3L207.5 505.3L207.4 504.4L207.2 503.4L207.2 502.4L207.3 501.3L207.6 500.4L208.0 499.6L208.4 498.9L208.9 498.4L209.5 498.2L210.1 498.4L210.6 498.9L211.0 499.5L211.5 500.0L212.0 500.5L212.4 501.2L212.7 502.3Z" fill="none" stroke="#060808" stroke-width="1.2" stroke-linejoin="round"/>
<path d="M211.9 503.4L211.7 504.2L211.6 504.8L211.4 505.5L211.2 506.2L210.9 506.9L210.5 507.4L210.0 507.5L209.6 507.2L209.2 506.9L208.8 506.5L208.5 506.1L208.2 505.6L207.9 504.9L207.8 504.2L207.7 503.4L207.7 502.6L207.8 501.7L208.0 501.0L208.4 500.5L208.8 500.3L209.2 500.1L209.6 499.9L210.0 499.6L210.5 499.6L210.9 499.9L211.2 500.4L211.5 501.1L211.7 501.8L211.8 502.6Z" fill="none" stroke="#000000" stroke-width="1.3" stroke-linejoin="round"/>
<ellipse cx="209.8" cy="503.4" rx="0.83" ry="1.53" transform="rotate(0,209.8,503.4)" fill="#ffffff"/>
<rect x="196.5" y="476.2" width="24.2" height="17.2" fill="none" stroke="#333" stroke-width="0.75"/>
<rect x="196.5" y="493.4" width="24.2" height="25.3" fill="none" stroke="#7a5a66" stroke-width="0.75"/>
<line x1="196.5" y1="493.4" x2="220.7" y2="493.4" stroke="#222" stroke-width="1.1" />
<rect x="191.6" y="467.2" width="52.3" height="52.4" fill="none" stroke="#3a3a3a" stroke-width="0.9"/>
<line x1="46.7" y1="537.5" x2="48.5" y2="537.5" stroke="#333" stroke-width="0.7" />
<text x="41.9" y="538.9" font-size="3.0" fill="#333" stroke="#333" stroke-width="0.15" transform="rotate(-25,43.5,537.5)">10<tspan dy="-1.2" font-size="2.1">5</tspan></text>
<line x1="46.7" y1="551.3" x2="48.5" y2="551.3" stroke="#333" stroke-width="0.7" />
<text x="41.9" y="552.7" font-size="3.0" fill="#333" stroke="#333" stroke-width="0.15" transform="rotate(-25,43.5,551.3)">10<tspan dy="-1.2" font-size="2.1">4</tspan></text>
<line x1="46.7" y1="565.6" x2="48.5" y2="565.6" stroke="#333" stroke-width="0.7" />
<text x="41.9" y="567" font-size="3.0" fill="#333" stroke="#333" stroke-width="0.15" transform="rotate(-25,43.5,565.6)">10<tspan dy="-1.2" font-size="2.1">3</tspan></text>
<line x1="46.7" y1="576.1" x2="48.5" y2="576.1" stroke="#333" stroke-width="0.7" />
<circle cx="44.9" cy="576.3" r="0.6" fill="#333"/>
<line x1="62" y1="584.6" x2="62" y2="586.4" stroke="#333" stroke-width="0.7" />
<text x="60.4" y="589.5" font-size="2.8" fill="#333" stroke="#333" stroke-width="0.15">10<tspan dy="-1.1" font-size="2">2</tspan></text>
<line x1="72.7" y1="584.6" x2="72.7" y2="586.4" stroke="#333" stroke-width="0.7" />
<text x="71.1" y="589.5" font-size="2.8" fill="#333" stroke="#333" stroke-width="0.15">10<tspan dy="-1.1" font-size="2">3</tspan></text>
<line x1="85.2" y1="584.6" x2="85.2" y2="586.4" stroke="#333" stroke-width="0.7" />
<text x="83.6" y="589.5" font-size="2.8" fill="#333" stroke="#333" stroke-width="0.15">10<tspan dy="-1.1" font-size="2">4</tspan></text>
<line x1="96.7" y1="584.6" x2="96.7" y2="586.4" stroke="#333" stroke-width="0.7" />
<text x="95.1" y="589.5" font-size="2.8" fill="#333" stroke="#333" stroke-width="0.15">10<tspan dy="-1.1" font-size="2">5</tspan></text>
<line x1="47.3" y1="534.2" x2="47.3" y2="583.6" stroke="#777" stroke-width="0.5" stroke-dasharray="0.5,1.4"/>
<line x1="50.5" y1="585.8" x2="99.7" y2="585.8" stroke="#777" stroke-width="0.6" stroke-dasharray="0.6,1.0"/>
<path d="M91.0 567.8h0M87.3 569.5h0M98.7 560.5h0M89.4 562.6h0M87.9 568.4h0M92.0 570.3h0M92.5 560.6h0M97.7 565.3h0M92.6 562.7h0M95.0 563.6h0M93.2 564.4h0M84.5 574.3h0M92.2 562.3h0M89.6 572.1h0M94.4 561.3h0M96.1 560.1h0M96.6 563.6h0M89.4 562.4h0M97.8 565.0h0M94.9 571.2h0M91.3 571.7h0M84.4 574.4h0M85.9 574.5h0M95.7 565.9h0M90.7 572.6h0M98.8 561.2h0M96.8 562.8h0M92.1 571.6h0M89.7 565.1h0M93.0 571.7h0M94.1 570.4h0M94.5 563.9h0M98.5 570.6h0M97.4 568.3h0M91.8 565.7h0M91.7 564.3h0M99.3 569.5h0M94.5 564.2h0M87.3 575.5h0M87.9 570.7h0M90.7 568.5h0M87.6 569.7h0M94.6 568.9h0M87.9 575.8h0M92.3 569.6h0M93.6 572.2h0M91.0 561.7h0M86.7 567.7h0M90.3 574.0h0M92.6 567.6h0M85.8 569.9h0M88.2 570.4h0M95.7 565.5h0M87.9 565.9h0M84.3 571.5h0M87.8 570.1h0M89.4 565.4h0M90.4 574.0h0M90.3 564.8h0M84.0 565.6h0M84.9 565.3h0M91.7 566.3h0M98.0 568.7h0M90.0 574.5h0M91.7 562.3h0M92.1 564.4h0M98.9 564.7h0M97.5 569.3h0M95.7 569.9h0M85.8 568.9h0M87.6 565.0h0M95.2 562.7h0M87.6 573.3h0" stroke="#a4acac" stroke-width="0.6" stroke-linecap="round" fill="none"/>
<path d="M88.6 573.9L88.3 574.7L87.4 575.4L86.2 576.1L84.9 576.7L83.6 577.5L81.7 578.3L79.2 578.9L76.3 579.1L73.5 578.9L71.1 578.6L68.8 578.2L66.5 577.7L64.4 577.1L63.1 576.3L62.6 575.3L62.8 574.3L63.4 573.2L64.8 572.2L67.1 571.4L70.2 570.9L73.3 570.7L76.0 570.7L78.5 570.6L81.1 570.5L83.6 570.6L85.7 571.1L87.1 571.7L87.9 572.4L88.3 573.2Z" fill="#dadfdf" stroke="#3e4848" stroke-width="0.55" stroke-linejoin="round"/>
<path d="M87.2 574.0L87.0 574.7L86.4 575.3L85.3 575.9L84.0 576.5L82.6 577.0L81.0 577.7L78.9 578.3L76.4 578.6L73.9 578.5L71.7 578.1L69.9 577.7L68.2 577.2L66.4 576.7L65.1 576.0L64.6 575.2L64.9 574.3L65.6 573.4L66.7 572.6L68.5 571.8L71.0 571.3L73.7 571.1L76.2 571.1L78.4 571.2L80.5 571.2L82.7 571.2L84.7 571.5L86.1 572.0L86.8 572.7L87.1 573.3Z" fill="none" stroke="#3b4545" stroke-width="0.55" stroke-linejoin="round"/>
<path d="M86.1 574.0L85.7 574.6L85.2 575.2L84.4 575.8L83.3 576.3L81.9 576.7L80.3 577.0L78.6 577.4L76.6 577.8L74.3 578.0L72.1 577.9L70.4 577.5L69.4 576.9L68.5 576.3L67.7 575.7L67.0 575.1L66.8 574.3L67.5 573.6L68.7 572.9L70.2 572.3L72.0 571.8L74.1 571.4L76.3 571.3L78.3 571.5L80.0 571.8L81.5 572.0L83.1 572.2L84.7 572.4L85.8 572.9L86.3 573.4Z" fill="none" stroke="#384242" stroke-width="0.55" stroke-linejoin="round"/>
<path d="M84.2 574.2L84.6 574.6L84.5 575.1L83.9 575.6L82.7 576.1L81.3 576.4L79.9 576.6L78.4 576.9L76.8 577.0L75.2 577.1L73.6 577.0L72.0 576.8L70.5 576.5L69.0 576.2L68.2 575.6L68.2 575.0L69.0 574.4L70.1 573.8L71.0 573.3L71.9 572.8L73.1 572.3L74.7 572.0L76.5 571.9L78.2 571.9L79.8 572.0L81.3 572.1L82.4 572.4L83.1 572.9L83.5 573.3L83.8 573.7Z" fill="none" stroke="#343e3e" stroke-width="0.55" stroke-linejoin="round"/>
<path d="M83.4 574.2L83.1 574.6L82.6 575.0L82.1 575.3L81.4 575.7L80.4 576.0L79.4 576.2L78.2 576.3L77.0 576.5L75.5 576.7L74.0 576.7L72.8 576.5L72.0 576.1L71.6 575.7L71.4 575.2L71.0 574.8L70.9 574.4L71.1 573.9L71.9 573.5L72.9 573.1L74.0 572.8L75.3 572.5L76.7 572.4L78.1 572.4L79.2 572.6L80.1 572.8L81.0 573.0L82.0 573.2L82.9 573.4L83.4 573.8Z" fill="none" stroke="#313b3b" stroke-width="0.55" stroke-linejoin="round"/>
<path d="M81.6 574.3L81.5 574.6L81.3 574.8L80.9 575.1L80.3 575.3L79.6 575.5L78.9 575.7L78.1 576.0L77.1 576.1L76.0 576.1L75.1 576.0L74.4 575.8L73.9 575.6L73.3 575.3L72.8 575.1L72.5 574.8L72.6 574.4L72.9 574.1L73.4 573.8L74.0 573.5L74.9 573.2L75.9 573.1L77.0 573.1L77.9 573.1L78.7 573.2L79.5 573.2L80.4 573.3L81.1 573.5L81.5 573.7L81.7 574.0Z" fill="none" stroke="#2e3838" stroke-width="0.55" stroke-linejoin="round"/>
<path d="M64.5,578.6 C72,580 84,579.3 90,576.3 C93,573.3 96,569.8 98.5,565.8" fill="none" stroke="#5a6464" stroke-width="0.55"/>
<path d="M88.8 561.1L88.6 562.2L87.5 563.2L86.0 564.0L84.6 564.6L83.1 565.1L81.7 565.6L80.1 565.8L78.5 566.0L76.8 566.0L74.9 566.1L72.9 566.0L71.2 565.5L70.2 564.5L70.1 563.4L70.5 562.4L70.9 561.4L71.3 560.5L72.0 559.6L73.1 558.9L74.6 558.3L76.2 557.9L77.8 557.5L79.6 557.3L81.3 557.3L83.0 557.6L84.3 558.1L85.5 558.7L86.8 559.4L88.1 560.1Z" fill="#d6dcdc" stroke="#4a5454" stroke-width="0.5" stroke-linejoin="round"/>
<path d="M86.6 561.3L86.8 562.1L86.7 563.1L85.8 563.9L84.4 564.5L82.8 564.9L81.3 565.1L80.0 565.4L78.5 565.6L77.0 565.6L75.6 565.5L74.1 565.2L72.7 564.8L71.3 564.2L70.4 563.4L70.4 562.4L71.2 561.5L72.3 560.7L73.3 560.0L74.2 559.4L75.2 558.8L76.5 558.2L78.0 557.9L79.5 557.8L81.1 557.8L82.7 557.9L84.1 558.2L85.3 558.8L85.9 559.6L86.2 560.5Z" fill="none" stroke="#424b4b" stroke-width="0.53" stroke-linejoin="round"/>
<path d="M85.9 561.3L85.4 562.1L84.8 562.8L84.2 563.4L83.6 564.1L82.6 564.7L81.3 565.1L79.9 565.2L78.6 565.1L77.3 565.0L76.1 564.9L74.8 564.7L73.6 564.3L72.7 563.8L72.2 563.1L71.8 562.3L71.8 561.5L72.3 560.7L73.4 560.0L74.7 559.6L76.0 559.4L77.1 559.1L78.2 558.7L79.4 558.3L80.9 558.2L82.2 558.3L83.5 558.7L84.5 559.2L85.4 559.8L85.9 560.5Z" fill="none" stroke="#394242" stroke-width="0.56" stroke-linejoin="round"/>
<path d="M85.4 561.3L85.1 562.1L84.4 562.7L83.5 563.2L82.7 563.7L81.8 564.0L80.8 564.3L79.7 564.5L78.7 564.6L77.5 564.7L76.2 564.7L75.0 564.6L74.0 564.2L73.5 563.5L73.5 562.8L73.5 562.2L73.6 561.6L73.8 560.9L74.3 560.3L75.1 559.8L76.1 559.5L77.1 559.2L78.2 558.9L79.4 558.8L80.5 558.9L81.5 559.1L82.4 559.5L83.3 559.8L84.3 560.1L85.1 560.7Z" fill="none" stroke="#313939" stroke-width="0.59" stroke-linejoin="round"/>
<path d="M83.5 561.5L83.4 562.0L83.3 562.5L83.0 563.0L82.4 563.5L81.5 563.8L80.5 564.0L79.6 564.0L78.7 564.1L77.8 564.1L76.9 564.1L76.0 563.9L75.3 563.6L74.6 563.2L74.0 562.7L73.7 562.2L73.9 561.6L74.5 561.1L75.4 560.7L76.1 560.4L76.8 560.1L77.5 559.7L78.4 559.4L79.3 559.3L80.3 559.3L81.2 559.4L82.1 559.6L82.9 560.0L83.4 560.4L83.6 560.9Z" fill="none" stroke="#292f2f" stroke-width="0.61" stroke-linejoin="round"/>
<path d="M82.7 561.5L82.9 562.0L82.7 562.4L82.3 562.8L81.6 563.1L80.8 563.3L80.2 563.4L79.5 563.6L78.8 563.7L78.0 563.7L77.3 563.6L76.6 563.4L75.9 563.3L75.3 563.0L74.9 562.6L75.0 562.1L75.4 561.6L75.8 561.3L76.2 560.9L76.6 560.6L77.1 560.3L77.8 560.0L78.5 559.9L79.2 559.9L80.0 559.8L80.8 559.9L81.4 560.1L81.9 560.4L82.2 560.8L82.4 561.2Z" fill="none" stroke="#212626" stroke-width="0.64" stroke-linejoin="round"/>
<path d="M81.8 561.6L81.7 561.9L81.5 562.2L81.1 562.5L80.7 562.7L80.3 562.9L79.9 563.1L79.4 563.2L78.8 563.3L78.2 563.3L77.7 563.1L77.3 562.9L77.0 562.8L76.6 562.6L76.3 562.3L76.2 562.0L76.3 561.7L76.4 561.4L76.7 561.1L77.1 560.8L77.6 560.6L78.1 560.6L78.7 560.5L79.2 560.5L79.7 560.5L80.3 560.5L80.9 560.5L81.3 560.7L81.6 561.0L81.8 561.3Z" fill="none" stroke="#181d1d" stroke-width="0.67" stroke-linejoin="round"/>
<path d="M80.7 561.7L80.6 561.9L80.5 562.0L80.4 562.2L80.2 562.4L80.0 562.6L79.6 562.7L79.2 562.7L78.9 562.7L78.6 562.6L78.2 562.6L77.9 562.6L77.6 562.4L77.4 562.3L77.3 562.1L77.2 561.9L77.1 561.7L77.3 561.5L77.5 561.3L77.9 561.2L78.2 561.2L78.5 561.1L78.8 561.0L79.1 560.9L79.5 560.9L79.8 560.9L80.1 561.0L80.4 561.1L80.6 561.3L80.7 561.5Z" fill="none" stroke="#101414" stroke-width="0.7" stroke-linejoin="round"/>
<path d="M73,561.7 C76,560.4 82,560.6 85.5,562.6" fill="none" stroke="#fff" stroke-width="1.3"/>
<path d="M58.0,556 L68.3,556 C66,561.4 65,567.6 64.6,570.6 L61.8,570.6 C61,567.6 60,561.4 58.0,556 Z" fill="#c4cccc"/>
<path d="M58.3,556.2 C60,561.4 61,567.6 61.8,570.6 M68,556.2 C66,561.4 65,567.6 64.6,570.6 M59.8,556.4 C61,561.4 61.8,565.6 62.3,569.6 M66.5,556.4 C65,561.4 64.4,565.6 64.0,569.6 M61.5,556.9 C62.3,561.4 62.8,565.6 63,568.6 M64.8,556.9 C64,561.4 63.6,565.6 63.4,568.6" fill="none" stroke="#7a8484" stroke-width="0.45"/>
<path d="M62.3,560.6 C62,567.18 60.8,570.94 60.8,577.3 C60.8,579.6 65.6,579.6 65.6,577.3 C65.6,570.94 64.4,567.18 64.1,560.6 Z" fill="#0e1212"/>
<path d="M66.05,570 C66.5,577.4 65.9,580 63.2,580.6" fill="none" stroke="#4a5454" stroke-width="0.5"/>
<rect x="56.5" y="555.4" width="32.3" height="12.2" fill="none" stroke="#333" stroke-width="0.75"/>
<line x1="69.4" y1="555.4" x2="69.4" y2="567.6" stroke="#333" stroke-width="0.75" />
<rect x="48.5" y="532.2" width="52.2" height="52.4" fill="none" stroke="#3a3a3a" stroke-width="0.9"/>
<line x1="118.6" y1="536.5" x2="120.4" y2="536.5" stroke="#333" stroke-width="0.7" />
<text x="113.8" y="537.9" font-size="3.0" fill="#333" stroke="#333" stroke-width="0.15" transform="rotate(-25,115.4,536.5)">10<tspan dy="-1.2" font-size="2.1">5</tspan></text>
<line x1="118.6" y1="551.7" x2="120.4" y2="551.7" stroke="#333" stroke-width="0.7" />
<text x="113.8" y="553.1" font-size="3.0" fill="#333" stroke="#333" stroke-width="0.15" transform="rotate(-25,115.4,551.7)">10<tspan dy="-1.2" font-size="2.1">4</tspan></text>
<line x1="118.6" y1="566.8" x2="120.4" y2="566.8" stroke="#333" stroke-width="0.7" />
<text x="113.8" y="568.2" font-size="3.0" fill="#333" stroke="#333" stroke-width="0.15" transform="rotate(-25,115.4,566.8)">10<tspan dy="-1.2" font-size="2.1">3</tspan></text>
<line x1="118.6" y1="573.3" x2="120.4" y2="573.3" stroke="#333" stroke-width="0.7" />
<circle cx="116.8" cy="573.5" r="0.6" fill="#333"/>
<line x1="128.9" y1="584.6" x2="128.9" y2="586.4" stroke="#333" stroke-width="0.7" />
<text x="127.3" y="589.5" font-size="2.8" fill="#333" stroke="#333" stroke-width="0.15">10<tspan dy="-1.1" font-size="2">2</tspan></text>
<line x1="132.4" y1="584.6" x2="132.4" y2="586.4" stroke="#333" stroke-width="0.7" />
<text x="130.8" y="589.5" font-size="2.8" fill="#333" stroke="#333" stroke-width="0.15">10<tspan dy="-1.1" font-size="2">3</tspan></text>
<line x1="144.4" y1="584.6" x2="144.4" y2="586.4" stroke="#333" stroke-width="0.7" />
<text x="142.8" y="589.5" font-size="2.8" fill="#333" stroke="#333" stroke-width="0.15">10<tspan dy="-1.1" font-size="2">4</tspan></text>
<line x1="157.9" y1="584.6" x2="157.9" y2="586.4" stroke="#333" stroke-width="0.7" />
<text x="156.3" y="589.5" font-size="2.8" fill="#333" stroke="#333" stroke-width="0.15">10<tspan dy="-1.1" font-size="2">5</tspan></text>
<line x1="169.4" y1="584.6" x2="169.4" y2="586.4" stroke="#333" stroke-width="0.7" />
<text x="167.8" y="589.5" font-size="2.8" fill="#333" stroke="#333" stroke-width="0.15">10<tspan dy="-1.1" font-size="2">6</tspan></text>
<line x1="119.2" y1="534.2" x2="119.2" y2="583.6" stroke="#777" stroke-width="0.5" stroke-dasharray="0.5,1.4"/>
<line x1="122.4" y1="585.8" x2="171.6" y2="585.8" stroke="#777" stroke-width="0.6" stroke-dasharray="0.6,1.0"/>
<path d="M161.7 560.2L159.7 562.1L157.0 563.3L154.3 564.0L152.1 564.7L150.0 565.8L147.6 566.9L144.6 567.3L141.5 566.6L138.9 565.1L136.8 563.1L134.9 561.2L133.1 559.2L131.7 556.9L131.1 554.5L131.3 552.0L131.9 549.7L133.1 547.4L135.3 545.7L138.3 545.0L141.7 545.5L144.6 546.6L147.1 547.4L149.5 547.8L152.3 547.9L155.6 548.6L158.7 550.0L161.0 552.3L162.3 555.0L162.6 557.7Z" fill="#e0e5e5" stroke="#6e7878" stroke-width="0.5" stroke-linejoin="round"/>
<path d="M158.8 559.4L157.4 561.1L156.0 562.7L154.4 564.1L152.3 565.1L149.9 565.4L147.3 565.3L144.9 564.9L142.4 564.5L139.9 563.8L137.5 562.6L135.7 560.8L134.3 558.9L133.2 556.8L132.2 554.6L131.9 552.2L132.7 550.1L134.9 548.6L137.6 547.9L140.1 547.6L142.4 547.3L144.7 547.1L147.1 547.2L149.5 547.7L151.9 548.5L154.3 549.6L156.8 550.9L159.0 552.8L160.2 555.1L160.0 557.4Z" fill="none" stroke="#687272" stroke-width="0.5" stroke-linejoin="round"/>
<path d="M157.3 559.0L156.8 560.8L155.6 562.4L153.7 563.4L151.4 563.7L149.2 563.8L147.1 563.8L145.0 563.8L142.8 563.6L140.6 562.9L138.6 561.7L137.0 560.2L135.5 558.6L134.1 556.8L133.4 554.7L133.8 552.7L135.3 551.2L137.1 550.1L138.9 549.2L140.7 548.3L142.6 547.8L144.8 547.7L147.0 548.1L149.0 548.8L151.1 549.5L153.4 550.3L155.5 551.5L157.0 553.3L157.6 555.3L157.6 557.2Z" fill="none" stroke="#616b6b" stroke-width="0.5" stroke-linejoin="round"/>
<path d="M156.6 558.8L155.9 560.5L154.3 561.5L152.3 562.0L150.4 562.3L148.7 562.5L147.0 562.8L145.1 562.8L143.3 562.5L141.4 561.8L139.6 560.9L137.9 559.8L136.4 558.4L135.5 556.7L135.7 554.9L136.5 553.5L137.5 552.2L138.5 551.0L139.6 549.8L141.1 548.9L143.0 548.7L145.0 548.9L146.8 549.3L148.6 549.7L150.5 550.3L152.3 551.1L153.8 552.4L154.8 553.8L155.6 555.4L156.3 557.1Z" fill="none" stroke="#5b6565" stroke-width="0.5" stroke-linejoin="round"/>
<path d="M155.2 558.5L153.9 559.6L152.4 560.3L151.0 560.8L149.7 561.2L148.3 561.5L146.8 561.6L145.3 561.6L143.7 561.4L141.9 561.2L140.2 560.5L138.8 559.4L138.1 557.9L138.1 556.5L138.3 555.2L138.5 554.0L138.6 552.7L139.2 551.5L140.3 550.5L141.9 550.1L143.5 549.9L145.1 549.9L146.7 550.2L148.2 550.7L149.6 551.4L150.8 552.3L152.0 553.2L153.5 554.2L154.9 555.4L155.6 557.0Z" fill="none" stroke="#545e5e" stroke-width="0.5" stroke-linejoin="round"/>
<path d="M153.3 557.9L152.6 559.0L151.5 559.6L150.1 560.0L148.9 560.2L147.8 560.5L146.7 560.6L145.4 560.6L144.2 560.3L142.9 559.9L141.6 559.4L140.4 558.6L139.5 557.6L139.1 556.4L139.4 555.3L139.9 554.4L140.4 553.5L140.8 552.6L141.6 551.7L142.7 551.2L144.0 551.1L145.3 551.2L146.6 551.4L147.8 551.7L149.1 552.1L150.1 552.8L151.0 553.7L151.7 554.6L152.5 555.6L153.1 556.7Z" fill="none" stroke="#4e5858" stroke-width="0.5" stroke-linejoin="round"/>
<path d="M158.8 566.0L158.7 567.0L158.3 567.9L157.7 568.6L157.1 569.3L156.5 569.8L155.7 570.2L154.9 570.3L154.1 570.3L153.3 570.2L152.4 570.0L151.6 569.6L151.0 568.9L150.7 567.9L150.7 566.9L150.8 566.0L150.9 565.1L150.9 564.2L151.2 563.3L151.8 562.6L152.5 562.0L153.2 561.6L154.1 561.3L154.9 561.3L155.8 561.6L156.4 562.2L157.0 562.9L157.5 563.6L158.0 564.2L158.6 565.0Z" fill="none" stroke="#9aa4a4" stroke-width="0.45" stroke-linejoin="round"/>
<path d="M157.5 566.0L157.5 566.7L157.2 567.3L156.8 567.8L156.3 568.3L155.9 568.7L155.3 568.9L154.8 569.0L154.2 569.0L153.7 568.9L153.1 568.8L152.5 568.5L152.0 568.0L151.8 567.3L151.8 566.6L151.9 566.0L152.0 565.4L152.0 564.8L152.2 564.1L152.6 563.6L153.1 563.2L153.6 562.9L154.2 562.8L154.8 562.7L155.4 562.9L155.9 563.3L156.2 563.8L156.6 564.3L156.9 564.8L157.3 565.3Z" fill="none" stroke="#8a9494" stroke-width="0.45" stroke-linejoin="round"/>
<path d="M156.1 566.0L156.0 566.4L155.9 566.7L155.7 567.0L155.5 567.3L155.3 567.6L155.0 567.9L154.7 567.9L154.3 567.8L154.0 567.7L153.7 567.5L153.5 567.3L153.2 567.0L153.1 566.7L152.9 566.4L152.9 566.0L152.9 565.6L152.9 565.2L153.1 564.9L153.4 564.6L153.7 564.5L154.0 564.4L154.3 564.4L154.7 564.3L155.0 564.2L155.3 564.3L155.6 564.6L155.8 564.9L156.0 565.3L156.1 565.6Z" fill="none" stroke="#7a8484" stroke-width="0.45" stroke-linejoin="round"/>
<path d="M145.4 552.1L144.7 553.4L143.3 554.2L141.6 554.7L139.9 555.0L138.2 555.1L136.4 554.9L134.7 554.4L133.0 553.6L131.5 552.8L130.0 551.9L128.6 550.8L127.8 549.5L127.7 548.2L128.2 547.0L128.8 546.1L129.3 545.1L129.8 544.1L130.6 543.2L131.9 542.6L133.5 542.3L135.2 542.3L137.0 542.5L138.9 543.0L140.5 543.9L141.8 545.2L142.6 546.5L143.5 547.7L144.4 549.1L145.3 550.6Z" fill="none" stroke="#7a8484" stroke-width="0.55" stroke-linejoin="round"/>
<path d="M143.2 551.3L143.1 552.5L142.5 553.7L141.3 554.3L139.6 554.4L137.9 554.3L136.3 554.0L134.8 553.6L133.4 553.0L132.1 552.3L131.0 551.3L130.1 550.4L129.2 549.3L128.5 548.2L128.4 547.1L128.9 546.1L129.8 545.4L130.8 544.9L131.7 544.3L132.6 543.7L133.8 543.2L135.3 543.1L136.8 543.3L138.4 543.9L139.9 544.6L141.3 545.5L142.3 546.6L142.9 547.8L143.0 549.0L143.0 550.1Z" fill="none" stroke="#677070" stroke-width="0.61" stroke-linejoin="round"/>
<path d="M142.5 551.0L141.8 551.8L141.0 552.5L140.0 553.0L138.8 553.3L137.5 553.2L136.2 553.0L135.0 552.8L133.6 552.5L132.3 552.0L131.2 551.2L130.6 550.2L130.5 549.2L130.4 548.3L130.4 547.5L130.3 546.6L130.5 545.8L131.1 545.1L131.9 544.6L132.9 544.2L134.1 543.9L135.3 543.8L136.7 544.1L137.9 544.8L138.9 545.5L139.9 546.3L140.9 547.0L142.0 547.9L142.8 549.0L142.9 550.1Z" fill="none" stroke="#555d5d" stroke-width="0.67" stroke-linejoin="round"/>
<path d="M141.0 550.5L140.5 551.1L139.8 551.6L139.0 552.0L138.3 552.4L137.3 552.8L136.2 552.8L135.0 552.4L134.0 551.8L133.3 551.1L132.6 550.4L131.9 549.8L131.4 549.1L131.1 548.3L131.0 547.6L131.1 546.9L131.3 546.2L131.7 545.5L132.5 545.1L133.5 545.0L134.5 545.1L135.5 545.2L136.4 545.3L137.5 545.4L138.7 545.8L139.7 546.4L140.4 547.2L140.9 548.0L141.2 548.9L141.3 549.7Z" fill="none" stroke="#424949" stroke-width="0.73" stroke-linejoin="round"/>
<path d="M140.0 550.1L139.9 550.8L139.3 551.3L138.5 551.5L137.7 551.5L136.9 551.6L136.1 551.5L135.3 551.3L134.5 551.0L133.8 550.6L133.2 550.1L132.5 549.6L132.0 549.0L131.8 548.4L131.9 547.8L132.3 547.3L132.7 546.9L133.0 546.5L133.4 546.1L134.0 545.8L134.7 545.6L135.5 545.6L136.4 545.8L137.2 546.0L138.0 546.4L138.7 547.0L139.1 547.6L139.3 548.2L139.6 548.8L139.9 549.4Z" fill="none" stroke="#2f3535" stroke-width="0.78" stroke-linejoin="round"/>
<path d="M138.7 549.7L138.4 550.0L138.0 550.3L137.6 550.5L137.1 550.6L136.6 550.8L136.0 550.9L135.4 550.8L134.8 550.5L134.3 550.0L134.0 549.6L133.7 549.3L133.4 548.9L133.2 548.5L133.1 548.0L133.2 547.6L133.3 547.3L133.6 546.9L133.9 546.6L134.4 546.5L135.0 546.5L135.6 546.7L136.2 546.8L136.7 546.9L137.3 547.1L137.9 547.4L138.4 547.8L138.6 548.3L138.8 548.8L138.8 549.2Z" fill="none" stroke="#1d2222" stroke-width="0.84" stroke-linejoin="round"/>
<path d="M137.6 549.2L137.4 549.5L137.2 549.6L136.9 549.8L136.6 549.8L136.3 549.8L135.9 549.8L135.6 549.8L135.2 549.7L134.8 549.6L134.5 549.3L134.4 549.0L134.3 548.8L134.3 548.5L134.3 548.3L134.3 548.0L134.3 547.8L134.5 547.6L134.7 547.5L135.0 547.4L135.3 547.3L135.7 547.3L136.0 547.4L136.4 547.6L136.6 547.8L136.9 548.0L137.2 548.2L137.5 548.4L137.7 548.7L137.7 549.0Z" fill="none" stroke="#0a0e0e" stroke-width="0.9" stroke-linejoin="round"/>
<ellipse cx="135.8" cy="548.6" rx="0.7" ry="0.48" transform="rotate(20,135.8,548.6)" fill="#eef0f0"/>
<line x1="120.4" y1="560.1" x2="147" y2="560.1" stroke="#222" stroke-width="1" />
<line x1="147" y1="560.1" x2="172.6" y2="560.1" stroke="#555" stroke-width="0.9" />
<line x1="147.2" y1="532.2" x2="147.2" y2="584.6" stroke="#777" stroke-width="0.8" />
<rect x="120.4" y="532.2" width="52.2" height="52.4" fill="none" stroke="#3a3a3a" stroke-width="0.9"/>
<line x1="189.8" y1="536.5" x2="191.6" y2="536.5" stroke="#333" stroke-width="0.7" />
<text x="185" y="537.9" font-size="3.0" fill="#333" stroke="#333" stroke-width="0.15" transform="rotate(-25,186.6,536.5)">10<tspan dy="-1.2" font-size="2.1">5</tspan></text>
<line x1="189.8" y1="547.5" x2="191.6" y2="547.5" stroke="#333" stroke-width="0.7" />
<text x="185" y="548.9" font-size="3.0" fill="#333" stroke="#333" stroke-width="0.15" transform="rotate(-25,186.6,547.5)">10<tspan dy="-1.2" font-size="2.1">4</tspan></text>
<line x1="189.8" y1="558.5" x2="191.6" y2="558.5" stroke="#333" stroke-width="0.7" />
<text x="185" y="559.9" font-size="3.0" fill="#333" stroke="#333" stroke-width="0.15" transform="rotate(-25,186.6,558.5)">10<tspan dy="-1.2" font-size="2.1">3</tspan></text>
<line x1="189.8" y1="573.3" x2="191.6" y2="573.3" stroke="#333" stroke-width="0.7" />
<circle cx="188" cy="573.5" r="0.6" fill="#333"/>
<line x1="198.1" y1="584.6" x2="198.1" y2="586.4" stroke="#333" stroke-width="0.7" />
<text x="196.5" y="589.5" font-size="2.8" fill="#333" stroke="#333" stroke-width="0.15">10<tspan dy="-1.1" font-size="2">2</tspan></text>
<line x1="201.6" y1="584.6" x2="201.6" y2="586.4" stroke="#333" stroke-width="0.7" />
<text x="200" y="589.5" font-size="2.8" fill="#333" stroke="#333" stroke-width="0.15">10<tspan dy="-1.1" font-size="2">3</tspan></text>
<line x1="213.6" y1="584.6" x2="213.6" y2="586.4" stroke="#333" stroke-width="0.7" />
<text x="212" y="589.5" font-size="2.8" fill="#333" stroke="#333" stroke-width="0.15">10<tspan dy="-1.1" font-size="2">4</tspan></text>
<line x1="226.6" y1="584.6" x2="226.6" y2="586.4" stroke="#333" stroke-width="0.7" />
<text x="225" y="589.5" font-size="2.8" fill="#333" stroke="#333" stroke-width="0.15">10<tspan dy="-1.1" font-size="2">5</tspan></text>
<line x1="238.1" y1="584.6" x2="238.1" y2="586.4" stroke="#333" stroke-width="0.7" />
<text x="236.5" y="589.5" font-size="2.8" fill="#333" stroke="#333" stroke-width="0.15">10<tspan dy="-1.1" font-size="2">6</tspan></text>
<line x1="190.4" y1="534.2" x2="190.4" y2="583.6" stroke="#777" stroke-width="0.5" stroke-dasharray="0.5,1.4"/>
<line x1="193.6" y1="585.8" x2="242.9" y2="585.8" stroke="#777" stroke-width="0.6" stroke-dasharray="0.6,1.0"/>
<path d="M220.2 564.5L220.3 567.5L219.5 570.3L217.9 572.3L216.0 573.6L214.2 574.6L212.6 575.5L210.9 576.4L209.1 576.8L207.2 576.5L205.4 575.5L203.6 574.2L201.9 572.5L200.4 570.3L199.6 567.5L199.8 564.5L200.6 561.8L201.6 559.4L202.5 557.1L203.7 554.9L205.3 553.3L207.2 552.7L209.1 552.7L210.9 552.8L212.7 553.0L214.7 553.4L216.5 554.5L218.0 556.6L218.9 559.1L219.6 561.7Z" fill="#dde2e2" stroke="#6e7878" stroke-width="0.5" stroke-linejoin="round"/>
<path d="M219.1 564.5L218.3 566.9L217.2 568.9L216.2 570.7L215.3 572.6L214.2 574.4L212.7 575.7L210.9 576.1L209.1 575.7L207.5 574.9L206.0 574.1L204.5 572.9L203.2 571.3L202.2 569.3L201.5 567.0L201.0 564.5L200.8 561.8L201.2 559.1L202.5 557.0L204.3 555.9L206.2 555.5L207.8 555.2L209.2 554.7L210.8 554.1L212.5 553.9L214.3 554.3L216.0 555.5L217.5 557.1L218.7 559.2L219.3 561.8Z" fill="none" stroke="#677171" stroke-width="0.5" stroke-linejoin="round"/>
<path d="M218.0 564.5L217.2 566.6L216.3 568.3L215.5 569.9L214.7 571.6L213.7 573.3L212.4 574.4L210.8 574.7L209.2 574.3L207.8 573.7L206.5 572.9L205.1 571.9L204.0 570.5L203.2 568.7L202.6 566.7L202.1 564.5L201.9 562.1L202.3 559.8L203.4 557.9L205.0 556.9L206.7 556.6L208.1 556.3L209.3 555.9L210.7 555.3L212.2 555.1L213.8 555.6L215.2 556.6L216.5 558.0L217.6 559.9L218.1 562.1Z" fill="none" stroke="#5f6969" stroke-width="0.5" stroke-linejoin="round"/>
<path d="M217.5 564.5L217.0 566.5L216.0 568.2L214.9 569.4L213.9 570.5L212.9 571.4L211.8 572.2L210.6 572.5L209.4 572.7L208.1 572.7L206.6 572.5L205.3 571.7L204.3 570.2L203.9 568.2L203.8 566.3L203.9 564.5L203.9 562.7L204.0 560.8L204.5 559.1L205.5 557.7L206.8 556.9L208.1 556.5L209.4 556.2L210.6 556.2L211.9 556.7L213.0 557.5L214.0 558.5L215.1 559.5L216.2 560.7L217.2 562.4Z" fill="none" stroke="#586262" stroke-width="0.5" stroke-linejoin="round"/>
<path d="M216.3 564.5L215.8 566.2L215.0 567.5L214.1 568.6L213.3 569.5L212.5 570.4L211.5 570.9L210.5 571.2L209.5 571.4L208.3 571.5L207.1 571.3L206.0 570.5L205.3 569.2L205.0 567.5L204.9 566.0L204.9 564.5L204.8 563.0L204.9 561.4L205.4 559.9L206.3 558.8L207.3 558.1L208.4 557.7L209.5 557.5L210.5 557.5L211.5 558.0L212.4 558.7L213.3 559.5L214.3 560.2L215.3 561.3L216.1 562.7Z" fill="none" stroke="#515b5b" stroke-width="0.5" stroke-linejoin="round"/>
<path d="M214.3 564.5L214.1 565.7L213.9 566.9L213.6 568.1L213.0 569.1L212.2 569.7L211.3 570.0L210.4 570.0L209.6 570.0L208.7 569.9L207.9 569.6L207.1 568.9L206.5 568.0L206.0 566.9L205.5 565.8L205.2 564.5L205.2 563.1L205.8 561.9L206.5 561.1L207.3 560.4L208.0 559.8L208.8 559.2L209.6 558.8L210.4 558.8L211.3 559.0L212.2 559.4L213.0 559.9L213.8 560.7L214.3 561.9L214.4 563.2Z" fill="none" stroke="#495353" stroke-width="0.5" stroke-linejoin="round"/>
<path d="M213.5 564.5L213.3 565.5L212.9 566.3L212.4 566.9L212.0 567.6L211.6 568.3L211.1 569.0L210.4 569.3L209.6 569.2L209.0 568.8L208.4 568.2L207.9 567.7L207.4 567.1L207.0 566.4L206.7 565.5L206.6 564.5L206.6 563.5L206.7 562.5L207.0 561.5L207.6 560.9L208.4 560.7L209.1 560.7L209.7 560.7L210.3 560.5L211.0 560.4L211.7 560.4L212.4 560.9L212.9 561.6L213.3 562.5L213.5 563.5Z" fill="none" stroke="#424c4c" stroke-width="0.5" stroke-linejoin="round"/>
<path d="M212.4 552.8L212.3 553.9L212.1 555.0L211.9 556.2L211.3 557.3L210.3 558.1L209.1 558.3L207.9 558.3L206.8 558.1L205.7 557.9L204.6 557.5L203.7 556.9L202.9 556.0L202.3 555.1L201.8 554.0L201.4 552.8L201.5 551.5L202.1 550.4L203.0 549.6L203.9 549.0L204.8 548.4L205.7 547.7L206.7 547.1L207.9 546.9L209.1 547.2L210.1 547.8L211.0 548.6L211.8 549.4L212.4 550.5L212.6 551.7Z" fill="none" stroke="#2a3232" stroke-width="0.8" stroke-linejoin="round"/>
<path d="M212.3 552.8L212.3 553.9L211.8 554.8L211.1 555.6L210.3 556.2L209.6 556.8L208.7 557.2L207.8 557.4L206.8 557.3L205.9 557.2L205.0 556.9L204.0 556.5L203.2 555.9L202.7 554.9L202.7 553.8L202.9 552.8L203.1 551.9L203.3 551.0L203.5 550.0L204.1 549.2L204.9 548.6L205.8 548.2L206.8 547.9L207.8 547.9L208.8 548.1L209.6 548.7L210.2 549.5L210.7 550.3L211.3 551.0L211.9 551.8Z" fill="none" stroke="#222828" stroke-width="0.88" stroke-linejoin="round"/>
<path d="M211.1 552.8L210.8 553.6L210.6 554.3L210.3 555.0L209.9 555.8L209.4 556.5L208.6 556.9L207.7 556.9L206.9 556.6L206.2 556.3L205.5 556.0L204.8 555.6L204.2 555.1L203.8 554.4L203.6 553.6L203.4 552.8L203.3 551.9L203.5 551.1L204.0 550.4L204.8 550.0L205.5 549.7L206.2 549.4L206.9 549.1L207.7 548.8L208.6 548.9L209.3 549.2L210.0 549.8L210.5 550.5L210.9 551.2L211.1 552.0Z" fill="none" stroke="#191e1e" stroke-width="0.96" stroke-linejoin="round"/>
<path d="M210.3 552.8L210.1 553.4L209.9 554.0L209.6 554.5L209.3 555.1L208.9 555.6L208.3 556.0L207.6 556.1L207.0 555.9L206.4 555.6L205.9 555.3L205.4 555.0L204.9 554.6L204.6 554.0L204.4 553.4L204.3 552.8L204.2 552.1L204.3 551.5L204.7 550.9L205.3 550.5L205.9 550.3L206.5 550.2L207.0 549.9L207.6 549.8L208.3 549.7L208.9 550.0L209.4 550.4L209.8 551.0L210.1 551.5L210.3 552.2Z" fill="none" stroke="#111414" stroke-width="1.04" stroke-linejoin="round"/>
<path d="M209.3 552.8L209.3 553.2L209.3 553.7L209.2 554.2L208.9 554.6L208.5 554.9L208.0 555.0L207.5 555.0L207.1 554.9L206.6 554.8L206.2 554.7L205.9 554.4L205.6 554.1L205.3 553.7L205.1 553.3L204.9 552.8L205.0 552.3L205.2 551.9L205.6 551.5L206.0 551.3L206.3 551.0L206.6 550.7L207.1 550.5L207.5 550.5L208.0 550.6L208.4 550.8L208.8 551.1L209.1 551.5L209.3 551.9L209.4 552.4Z" fill="none" stroke="#080a0a" stroke-width="1.12" stroke-linejoin="round"/>
<path d="M208.6 552.8L208.6 553.1L208.5 553.3L208.4 553.6L208.3 553.9L208.0 554.1L207.8 554.2L207.4 554.2L207.2 554.2L206.9 554.1L206.6 554.0L206.4 553.8L206.2 553.6L206.1 553.4L206.0 553.1L205.9 552.8L205.9 552.5L205.9 552.2L206.1 551.9L206.4 551.8L206.7 551.7L206.9 551.6L207.2 551.5L207.4 551.4L207.7 551.4L208.0 551.5L208.2 551.7L208.4 552.0L208.6 552.2L208.7 552.5Z" fill="none" stroke="#000000" stroke-width="1.2" stroke-linejoin="round"/>
<ellipse cx="207.3" cy="552.8" rx="0.55" ry="0.56" transform="rotate(0,207.3,552.8)" fill="#e8ecec"/>
<rect x="196.5" y="541.7" width="24.2" height="17.3" fill="none" stroke="#333" stroke-width="0.75"/>
<rect x="196.5" y="559" width="24.2" height="24.7" fill="none" stroke="#7a5a66" stroke-width="0.75"/>
<line x1="196.5" y1="559" x2="220.7" y2="559" stroke="#222" stroke-width="1.1" />
<rect x="191.6" y="532.2" width="52.3" height="52.4" fill="none" stroke="#3a3a3a" stroke-width="0.9"/>
<text x="48.8" y="241" font-size="6.6" textLength="31.2" lengthAdjust="spacingAndGlyphs" >Gated from</text>
<text x="48.8" y="248.6" font-size="6.6" textLength="20" lengthAdjust="spacingAndGlyphs" >live, Lin-</text>
<text x="123.8" y="235.5" font-size="9.2" stroke="#000" stroke-width="0.14" textLength="54.2" lengthAdjust="spacingAndGlyphs" >Bone marrow</text>
<text x="73.8" y="267.3" font-size="6.6" stroke="#2a50c0" stroke-width="0.14" fill="#2a50c0" textLength="11.4" lengthAdjust="spacingAndGlyphs" >LSK</text>
<text x="153.3" y="260.3" font-size="6.6" stroke="#2a50c0" stroke-width="0.14" fill="#2a50c0" textLength="15.9" lengthAdjust="spacingAndGlyphs" >MPP2</text>
<text x="122" y="299.1" font-size="6.6" stroke="#2a50c0" stroke-width="0.14" fill="#2a50c0" textLength="22.7" lengthAdjust="spacingAndGlyphs" >ST-HSC</text>
<text x="148" y="299.1" font-size="6.6" stroke="#2a50c0" stroke-width="0.14" fill="#2a50c0" textLength="22.2" lengthAdjust="spacingAndGlyphs" >LT-HSC</text>
<text x="223.7" y="269.6" font-size="6.6" stroke="#2a50c0" stroke-width="0.14" fill="#2a50c0" textLength="16.2" lengthAdjust="spacingAndGlyphs" >MPP4</text>
<text x="223.2" y="292.5" font-size="6.6" stroke="#2a50c0" stroke-width="0.14" fill="#2a50c0" textLength="16.8" lengthAdjust="spacingAndGlyphs" >MPP3</text>
<line x1="80.4" y1="278" x2="98" y2="278" stroke="#111" stroke-width="1" />
<path d="M96.5,276.0 L101.2,278.0 L96.5,280.0 Z" fill="#111"/>
<line x1="138.5" y1="268.7" x2="182" y2="268.7" stroke="#111" stroke-width="1.1" />
<path d="M180.6,266.9 L185.8,268.7 L180.6,270.5 Z" fill="#111"/>
<text transform="translate(28.8,279.9) rotate(-90)" font-size="9.7" stroke="#000" stroke-width="0.14" text-anchor="middle" textLength="19.6" lengthAdjust="spacingAndGlyphs" >Control</text>
<text transform="translate(40.1,279.9) rotate(-90)" font-size="8.8" stroke="#000" stroke-width="0.14" text-anchor="middle" textLength="13.8" lengthAdjust="spacingAndGlyphs" >c-Kit</text>
<text transform="translate(112.6,279.7) rotate(-90)" font-size="10" stroke="#000" stroke-width="0.14" text-anchor="middle" textLength="15.4" lengthAdjust="spacingAndGlyphs" >CD48</text>
<text transform="translate(185,279.3) rotate(-90)" font-size="9.7" stroke="#000" stroke-width="0.14" text-anchor="middle" textLength="10.7" lengthAdjust="spacingAndGlyphs" >Flt3</text>
<text x="67.3" y="316.5" font-size="9.5" stroke="#000" stroke-width="0.14" textLength="13.1" lengthAdjust="spacingAndGlyphs" >Sca1</text>
<text x="137.9" y="316.5" font-size="9.5" stroke="#000" stroke-width="0.14" textLength="18.3" lengthAdjust="spacingAndGlyphs" >CD150</text>
<text x="207" y="316.5" font-size="9.5" stroke="#000" stroke-width="0.14" textLength="18" lengthAdjust="spacingAndGlyphs" >CD150</text>
<text transform="translate(28.8,354) rotate(-90)" font-size="9.7" stroke="#000" stroke-width="0.14" text-anchor="middle" textLength="16.1" lengthAdjust="spacingAndGlyphs" >Day 6</text>
<text transform="translate(28.8,429.8) rotate(-90)" font-size="9.7" stroke="#000" stroke-width="0.14" text-anchor="middle" textLength="19.9" lengthAdjust="spacingAndGlyphs" >Day 10</text>
<text transform="translate(28.8,493.8) rotate(-90)" font-size="9.7" stroke="#000" stroke-width="0.14" text-anchor="middle" textLength="19.9" lengthAdjust="spacingAndGlyphs" >Day 15</text>
<text transform="translate(28.8,557.1) rotate(-90)" font-size="9.7" stroke="#000" stroke-width="0.14" text-anchor="middle" textLength="21.1" lengthAdjust="spacingAndGlyphs" >Day 20</text>
<rect x="0.75" y="0.75" width="518.5" height="596.5" fill="none" stroke="#000" stroke-width="1.5"/>
</svg></body></html>
